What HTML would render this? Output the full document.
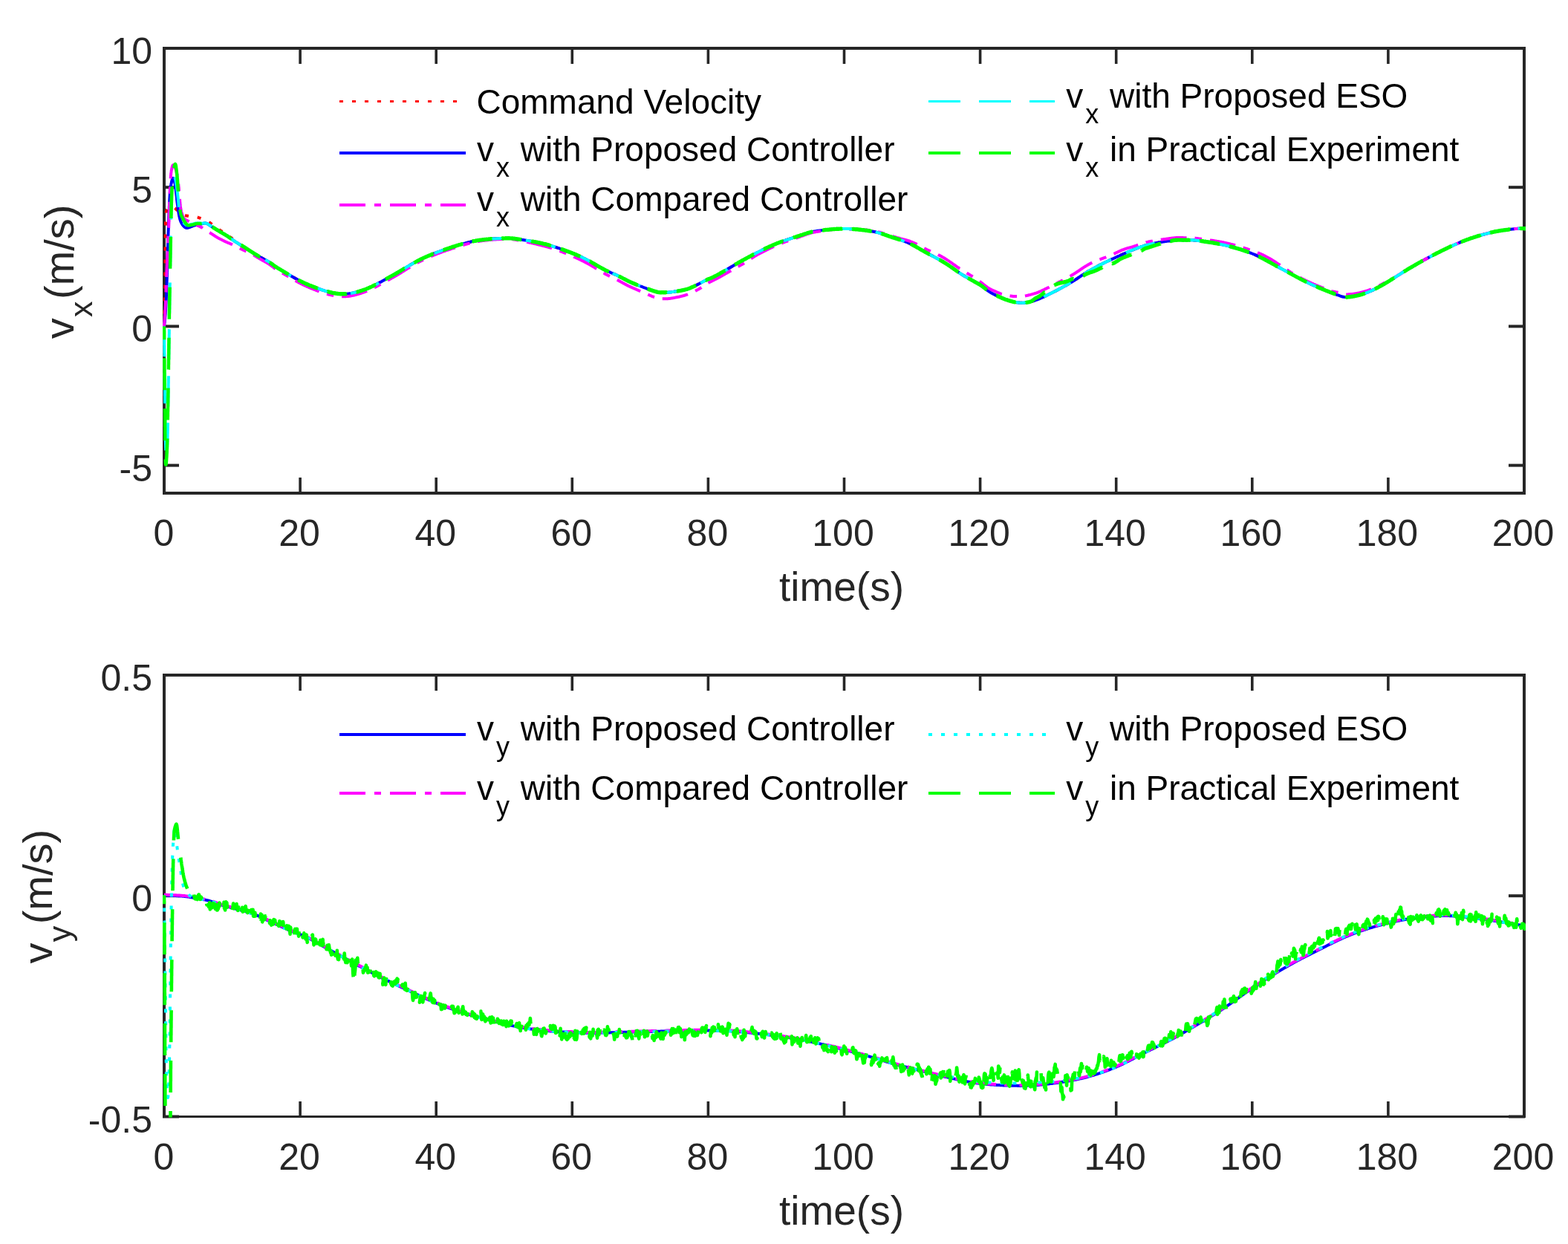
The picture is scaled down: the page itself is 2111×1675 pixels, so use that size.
<!DOCTYPE html>
<html><head><meta charset="utf-8"><title>v_x and v_y velocity comparison</title>
<style>html,body{margin:0;padding:0;background:#fff;overflow:hidden}svg{display:block}text{font-family:'Liberation Sans', Arial, Helvetica, sans-serif}</style></head><body>
<svg width="2111" height="1675" viewBox="0 0 2111 1675">
<rect x="0" y="0" width="2111" height="1675" fill="#ffffff"/>
<defs><clipPath id="ct"><rect x="219" y="63" width="1835" height="603"/></clipPath><clipPath id="cb"><rect x="219" y="907" width="1835" height="597.5"/></clipPath></defs>
<rect x="219" y="63.0" width="1835" height="4.0" fill="#262626"/>
<rect x="219" y="662.0" width="1835" height="4.0" fill="#262626"/>
<rect x="219" y="63.0" width="4" height="603.0" fill="#262626"/>
<rect x="2050" y="63.0" width="4" height="603.0" fill="#262626"/>
<rect x="219.2" y="67.0" width="3.6" height="19" fill="#262626"/>
<rect x="219.2" y="643.0" width="3.6" height="19" fill="#262626"/>
<text x="220.5" y="734.5" font-size="50" fill="#262626" text-anchor="middle">0</text>
<rect x="402.3" y="67.0" width="3.6" height="19" fill="#262626"/>
<rect x="402.3" y="643.0" width="3.6" height="19" fill="#262626"/>
<text x="403.1" y="734.5" font-size="50" fill="#262626" text-anchor="middle">20</text>
<rect x="585.4" y="67.0" width="3.6" height="19" fill="#262626"/>
<rect x="585.4" y="643.0" width="3.6" height="19" fill="#262626"/>
<text x="586.2" y="734.5" font-size="50" fill="#262626" text-anchor="middle">40</text>
<rect x="768.5" y="67.0" width="3.6" height="19" fill="#262626"/>
<rect x="768.5" y="643.0" width="3.6" height="19" fill="#262626"/>
<text x="769.3" y="734.5" font-size="50" fill="#262626" text-anchor="middle">60</text>
<rect x="951.6" y="67.0" width="3.6" height="19" fill="#262626"/>
<rect x="951.6" y="643.0" width="3.6" height="19" fill="#262626"/>
<text x="952.4" y="734.5" font-size="50" fill="#262626" text-anchor="middle">80</text>
<rect x="1134.7" y="67.0" width="3.6" height="19" fill="#262626"/>
<rect x="1134.7" y="643.0" width="3.6" height="19" fill="#262626"/>
<text x="1135.0" y="734.5" font-size="50" fill="#262626" text-anchor="middle">100</text>
<rect x="1317.8" y="67.0" width="3.6" height="19" fill="#262626"/>
<rect x="1317.8" y="643.0" width="3.6" height="19" fill="#262626"/>
<text x="1318.1" y="734.5" font-size="50" fill="#262626" text-anchor="middle">120</text>
<rect x="1500.9" y="67.0" width="3.6" height="19" fill="#262626"/>
<rect x="1500.9" y="643.0" width="3.6" height="19" fill="#262626"/>
<text x="1501.2" y="734.5" font-size="50" fill="#262626" text-anchor="middle">140</text>
<rect x="1684.0" y="67.0" width="3.6" height="19" fill="#262626"/>
<rect x="1684.0" y="643.0" width="3.6" height="19" fill="#262626"/>
<text x="1684.3" y="734.5" font-size="50" fill="#262626" text-anchor="middle">160</text>
<rect x="1867.1" y="67.0" width="3.6" height="19" fill="#262626"/>
<rect x="1867.1" y="643.0" width="3.6" height="19" fill="#262626"/>
<text x="1867.4" y="734.5" font-size="50" fill="#262626" text-anchor="middle">180</text>
<rect x="2050.2" y="67.0" width="3.6" height="19" fill="#262626"/>
<rect x="2050.2" y="643.0" width="3.6" height="19" fill="#262626"/>
<text x="2050.5" y="734.5" font-size="50" fill="#262626" text-anchor="middle">200</text>
<rect x="219" y="63.0" width="22" height="4" fill="#262626"/>
<rect x="2031" y="63.0" width="22" height="4" fill="#262626"/>
<text x="205.0" y="86.0" font-size="50" fill="#262626" text-anchor="end">10</text>
<rect x="219" y="250.2" width="22" height="4" fill="#262626"/>
<rect x="2031" y="250.2" width="22" height="4" fill="#262626"/>
<text x="205.0" y="273.2" font-size="50" fill="#262626" text-anchor="end">5</text>
<rect x="219" y="437.4" width="22" height="4" fill="#262626"/>
<rect x="2031" y="437.4" width="22" height="4" fill="#262626"/>
<text x="205.0" y="460.4" font-size="50" fill="#262626" text-anchor="end">0</text>
<rect x="219" y="624.6" width="22" height="4" fill="#262626"/>
<rect x="2031" y="624.6" width="22" height="4" fill="#262626"/>
<text x="205.0" y="647.6" font-size="50" fill="#262626" text-anchor="end">-5</text>
<rect x="219" y="907.0" width="1835" height="4.0" fill="#262626"/>
<rect x="219" y="1502.0" width="1835" height="3.0" fill="#262626"/>
<rect x="219" y="907.0" width="4" height="598.0" fill="#262626"/>
<rect x="2050" y="907.0" width="4" height="598.0" fill="#262626"/>
<rect x="219.2" y="911.0" width="3.6" height="19" fill="#262626"/>
<rect x="219.2" y="1483.0" width="3.6" height="19" fill="#262626"/>
<text x="220.5" y="1574.5" font-size="50" fill="#262626" text-anchor="middle">0</text>
<rect x="402.3" y="911.0" width="3.6" height="19" fill="#262626"/>
<rect x="402.3" y="1483.0" width="3.6" height="19" fill="#262626"/>
<text x="403.1" y="1574.5" font-size="50" fill="#262626" text-anchor="middle">20</text>
<rect x="585.4" y="911.0" width="3.6" height="19" fill="#262626"/>
<rect x="585.4" y="1483.0" width="3.6" height="19" fill="#262626"/>
<text x="586.2" y="1574.5" font-size="50" fill="#262626" text-anchor="middle">40</text>
<rect x="768.5" y="911.0" width="3.6" height="19" fill="#262626"/>
<rect x="768.5" y="1483.0" width="3.6" height="19" fill="#262626"/>
<text x="769.3" y="1574.5" font-size="50" fill="#262626" text-anchor="middle">60</text>
<rect x="951.6" y="911.0" width="3.6" height="19" fill="#262626"/>
<rect x="951.6" y="1483.0" width="3.6" height="19" fill="#262626"/>
<text x="952.4" y="1574.5" font-size="50" fill="#262626" text-anchor="middle">80</text>
<rect x="1134.7" y="911.0" width="3.6" height="19" fill="#262626"/>
<rect x="1134.7" y="1483.0" width="3.6" height="19" fill="#262626"/>
<text x="1135.0" y="1574.5" font-size="50" fill="#262626" text-anchor="middle">100</text>
<rect x="1317.8" y="911.0" width="3.6" height="19" fill="#262626"/>
<rect x="1317.8" y="1483.0" width="3.6" height="19" fill="#262626"/>
<text x="1318.1" y="1574.5" font-size="50" fill="#262626" text-anchor="middle">120</text>
<rect x="1500.9" y="911.0" width="3.6" height="19" fill="#262626"/>
<rect x="1500.9" y="1483.0" width="3.6" height="19" fill="#262626"/>
<text x="1501.2" y="1574.5" font-size="50" fill="#262626" text-anchor="middle">140</text>
<rect x="1684.0" y="911.0" width="3.6" height="19" fill="#262626"/>
<rect x="1684.0" y="1483.0" width="3.6" height="19" fill="#262626"/>
<text x="1684.3" y="1574.5" font-size="50" fill="#262626" text-anchor="middle">160</text>
<rect x="1867.1" y="911.0" width="3.6" height="19" fill="#262626"/>
<rect x="1867.1" y="1483.0" width="3.6" height="19" fill="#262626"/>
<text x="1867.4" y="1574.5" font-size="50" fill="#262626" text-anchor="middle">180</text>
<rect x="2050.2" y="911.0" width="3.6" height="19" fill="#262626"/>
<rect x="2050.2" y="1483.0" width="3.6" height="19" fill="#262626"/>
<text x="2050.5" y="1574.5" font-size="50" fill="#262626" text-anchor="middle">200</text>
<rect x="219" y="907.0" width="22" height="4" fill="#262626"/>
<rect x="2031" y="907.0" width="22" height="4" fill="#262626"/>
<text x="205.0" y="930.0" font-size="50" fill="#262626" text-anchor="end">0.5</text>
<rect x="219" y="1204.2" width="22" height="4" fill="#262626"/>
<rect x="2031" y="1204.2" width="22" height="4" fill="#262626"/>
<text x="205.0" y="1227.2" font-size="50" fill="#262626" text-anchor="end">0</text>
<rect x="219" y="1501.5" width="22" height="4" fill="#262626"/>
<rect x="2031" y="1501.5" width="22" height="4" fill="#262626"/>
<text x="205.0" y="1524.5" font-size="50" fill="#262626" text-anchor="end">-0.5</text>
<text x="1133" y="809" font-size="55" fill="#262626" text-anchor="middle">time(s)</text>
<text x="1133" y="1649" font-size="55" fill="#262626" text-anchor="middle">time(s)</text>
<text transform="translate(98.9,456.3) rotate(-90)" font-size="56" fill="#262626">v<tspan font-size="43" dx="1.2" dy="25">x</tspan><tspan dx="2.5" dy="-25">(m/s)</tspan></text>
<text transform="translate(70.1,1297.5) rotate(-90)" font-size="56" fill="#262626">v<tspan font-size="43" dx="1.2" dy="25">y</tspan><tspan dx="2.5" dy="-25">(m/s)</tspan></text>
<path clip-path="url(#ct)" d="M221.0 439.4L221.0 439.0L221.0 438.6L221.0 438.1L221.0 437.6L221.0 437.1L221.1 436.6L221.1 436.1L221.1 435.6L221.1 435.0L221.1 434.4L221.1 433.8L221.1 433.2L221.2 432.6L221.2 431.9L221.2 431.2L221.2 430.6L221.2 429.8L221.2 429.1L221.3 428.4L221.3 427.6L221.3 426.9L221.3 426.1L221.3 425.3L221.3 424.5L221.4 423.7L221.4 422.8L221.4 422.0L221.4 421.1L221.4 420.2L221.5 419.3L221.5 418.4L221.5 417.5L221.5 416.5L221.5 415.6L221.6 414.6L221.6 413.7L221.6 412.7L221.6 411.7L221.6 410.7L221.6 409.7L221.7 408.6L221.7 407.6L221.7 406.5L221.7 405.5L221.7 404.4L221.8 403.3L221.8 402.2L221.8 401.1L221.8 400.0L221.8 399.4L221.8 398.7L221.8 398.1L221.8 397.4L221.8 396.7L221.9 396.0L221.9 395.3L221.9 394.6L221.9 393.9L221.9 393.1L221.9 392.4L221.9 391.7L221.9 390.9L221.9 390.1L221.9 389.3L221.9 388.6L221.9 387.8L222.0 387.0L222.0 386.2L222.0 385.3L222.0 384.5L222.0 383.7L222.0 382.9L222.0 382.0L222.0 381.2L222.0 380.3L222.0 379.5L222.0 378.6L222.0 377.7L222.0 376.9L222.1 376.0L222.1 375.1L222.1 374.3L222.1 373.4L222.1 372.5L222.1 371.6L222.1 370.7L222.1 369.8L222.1 368.9L222.1 368.0L222.1 367.1L222.1 366.3L222.2 365.4L222.2 364.5L222.2 363.6L222.2 362.7L222.2 361.8L222.2 360.9L222.2 360.0L222.2 359.1L222.2 358.2L222.2 357.3L222.2 356.5L222.2 355.6L222.2 354.7L222.3 353.8L222.3 353.0L222.3 352.1L222.3 351.2L222.3 350.4L222.3 349.5L222.3 348.7L222.3 347.8L222.3 347.0L222.3 346.2L222.3 345.4L222.3 344.5L222.3 343.7L222.4 342.9L222.4 342.1L222.4 341.3L222.4 340.6L222.4 339.8L222.4 339.0L222.4 338.3L222.4 337.5L222.4 336.8L222.4 336.1L222.4 335.3L222.4 334.6L222.5 333.9L222.5 333.3L222.5 332.6L222.5 331.9L222.5 331.3L222.5 330.6L222.5 330.0L222.5 328.9L222.5 327.7L222.5 326.6L222.6 325.5L222.6 324.5L222.6 323.4L222.6 322.4L222.6 321.3L222.6 320.3L222.6 319.3L222.6 318.3L222.7 317.4L222.7 316.4L222.7 315.5L222.7 314.5L222.7 313.6L222.7 312.7L222.7 311.8L222.7 311.0L222.7 310.1L222.8 309.3L222.8 308.5L222.8 307.7L222.8 306.9L222.8 306.1L222.8 305.3L222.8 304.5L222.8 303.8L222.9 303.1L222.9 302.3L222.9 301.6L222.9 300.9L222.9 300.3L222.9 299.6L222.9 298.9L223.0 298.3L223.0 297.7L223.0 297.0L223.0 296.4L223.0 295.8L223.1 295.3L223.1 294.7L223.1 294.1L223.1 293.6L223.1 293.0L223.2 292.5L223.2 292.0L223.3 290.2L223.4 288.6L223.5 287.4L223.6 286.3L223.8 285.5L223.9 284.8L224.0 284.3L224.2 283.8L224.4 283.4L224.6 282.9L224.8 282.5L225.0 282.0L225.5 281.0L226.1 280.3L226.8 279.7L227.5 279.3L228.2 279.0L229.0 278.8L229.8 278.6L230.7 278.5L231.6 278.6L232.5 278.7L233.5 279.0L234.5 279.5L235.1 279.9L235.6 280.3L236.2 280.8L236.8 281.4L237.4 282.0L238.0 282.6L238.6 283.2L239.2 283.9L239.8 284.5L240.4 285.0L241.0 285.5L241.7 286.0L242.4 286.6L243.1 287.1L243.8 287.6L244.5 288.0L245.2 288.4L245.9 288.8L246.6 289.2L247.4 289.5L248.2 289.8L249.0 290.0L249.8 290.2L250.7 290.4L251.5 290.5L252.4 290.7L253.3 290.8L254.1 290.9L255.0 291.0L255.8 291.1L256.6 291.2L257.4 291.2L258.3 291.3L259.1 291.3L259.9 291.3L260.7 291.4L261.5 291.5L262.3 291.6L263.1 291.7L263.9 291.9L264.7 292.1L265.4 292.3L266.1 292.5L266.9 292.8L267.6 293.1L268.4 293.4L269.2 293.7L270.0 294.0L270.7 294.3L271.4 294.5L272.1 294.8L272.9 295.1L273.7 295.4L274.4 295.7L275.2 296.1L276.0 296.4L276.8 296.8L277.5 297.1L278.2 297.4L278.9 297.8L279.7 298.2L280.4 298.7L281.1 299.1L281.8 299.5L282.5 300.0L283.2 300.5L283.9 301.0L284.5 301.5L285.3 302.0L286.0 302.5L286.6 303.0L287.3 303.4L287.9 303.9L288.5 304.4L289.1 304.9L289.8 305.4L290.4 305.9L291.1 306.4L291.8 307.0L292.5 307.5L293.3 308.0L294.1 308.6L294.7 309.0L295.4 309.5L296.0 309.9L296.7 310.3L297.4 310.8L298.1 311.2L298.9 311.7L299.6 312.2L300.3 312.6L301.1 313.1L301.8 313.6L302.6 314.0L303.3 314.5L304.1 315.0L304.8 315.5L305.5 316.0L306.2 316.5L306.9 317.0L307.6 317.5L308.3 318.0L309.0 318.5L309.7 319.1L310.5 319.6L311.2 320.2L311.9 320.7L312.6 321.2L313.3 321.7L313.9 322.2L314.6 322.7L315.2 323.2L315.8 323.7L316.4 324.1L316.9 324.5L317.8 325.2L318.6 325.8L319.3 326.4L319.9 326.9L320.5 327.4L321.1 327.8L321.7 328.3L322.3 328.7L322.9 329.1L323.6 329.6L324.4 330.1L325.1 330.6L325.9 331.0L326.6 331.4L327.4 331.8L328.1 332.3L328.9 332.7L329.6 333.2L330.4 333.7L331.1 334.2L331.9 334.7L332.6 335.2L333.4 335.7L334.1 336.2L334.9 336.7L335.6 337.2L336.4 337.6L337.1 338.1L337.9 338.6L338.6 339.1L339.4 339.6L340.1 340.0L340.9 340.5L341.6 341.0L342.4 341.4L343.1 341.9L343.9 342.3L344.6 342.8L345.4 343.2L346.1 343.7L346.9 344.1L347.6 344.6L348.4 345.0L349.1 345.4L349.9 345.9L350.6 346.3L351.4 346.7L352.1 347.1L352.9 347.6L353.6 348.0L354.4 348.4L355.1 348.8L355.9 349.2L356.6 349.6L357.4 350.0L358.1 350.4L358.9 350.8L359.6 351.2L360.4 351.7L361.1 352.2L361.9 352.6L362.6 353.1L363.4 353.6L364.1 354.1L364.9 354.6L365.6 355.1L366.2 355.5L366.9 356.0L367.6 356.5L368.2 357.0L368.9 357.5L369.6 358.0L370.2 358.5L370.9 359.0L371.6 359.5L372.4 359.9L373.1 360.4L373.9 360.9L374.6 361.3L375.4 361.8L376.1 362.2L376.9 362.6L377.6 363.1L378.4 363.5L379.1 364.0L379.9 364.4L380.6 364.9L381.4 365.3L382.1 365.8L382.9 366.2L383.6 366.7L384.4 367.1L385.1 367.6L385.9 368.0L386.6 368.5L387.4 368.9L388.1 369.4L388.9 369.8L389.6 370.2L390.4 370.7L391.1 371.1L391.9 371.6L392.6 372.0L393.4 372.4L394.1 372.8L394.9 373.3L395.6 373.7L396.4 374.1L397.1 374.5L397.9 375.0L398.6 375.4L399.4 375.8L400.1 376.2L400.9 376.6L401.6 377.0L402.4 377.4L403.1 377.8L403.9 378.2L404.6 378.5L405.4 378.9L406.1 379.3L406.9 379.7L407.6 380.0L408.4 380.4L409.1 380.8L409.9 381.1L410.6 381.5L411.4 381.8L412.1 382.1L412.9 382.5L413.6 382.8L414.4 383.1L415.1 383.4L415.9 383.7L416.6 384.0L417.4 384.3L418.1 384.6L418.9 384.9L419.6 385.2L420.4 385.5L421.1 385.8L421.9 386.1L422.6 386.4L423.4 386.7L424.1 387.0L424.9 387.3L425.8 387.6L426.6 387.9L427.5 388.2L428.3 388.6L429.2 388.9L430.0 389.2L430.9 389.5L431.8 389.8L432.6 390.1L433.5 390.3L434.3 390.6L435.2 390.9L436.0 391.2L436.9 391.4L437.8 391.7L438.6 392.0L439.5 392.2L440.3 392.4L441.2 392.7L442.0 392.9L442.9 393.1L443.8 393.4L444.6 393.6L445.5 393.8L446.3 394.0L447.2 394.2L448.0 394.3L448.9 394.5L449.8 394.7L450.6 394.8L451.5 395.0L452.3 395.1L453.2 395.2L454.0 395.3L454.9 395.4L455.8 395.5L456.6 395.6L457.5 395.7L458.3 395.7L459.2 395.8L460.0 395.8L460.9 395.8L461.8 395.8L462.6 395.8L463.5 395.8L464.3 395.8L465.2 395.8L466.0 395.7L466.9 395.7L467.8 395.6L468.6 395.5L469.5 395.4L470.3 395.3L471.2 395.2L472.0 395.0L472.9 394.9L473.8 394.7L474.6 394.6L475.5 394.4L476.3 394.2L477.2 394.0L478.0 393.8L478.9 393.6L479.8 393.4L480.6 393.1L481.5 392.9L482.3 392.7L483.2 392.4L484.0 392.1L484.9 391.9L485.8 391.6L486.6 391.4L487.5 391.1L488.3 390.8L489.2 390.5L490.0 390.2L490.9 389.9L491.6 389.6L492.4 389.4L493.1 389.1L493.9 388.8L494.6 388.5L495.4 388.2L496.1 387.8L496.9 387.5L497.6 387.2L498.4 386.9L499.1 386.5L499.9 386.2L500.6 385.8L501.4 385.4L502.1 385.1L502.9 384.7L503.6 384.3L504.4 384.0L505.1 383.6L505.9 383.2L506.6 382.8L507.4 382.4L508.1 382.0L508.9 381.6L509.6 381.2L510.4 380.8L511.1 380.4L511.9 380.0L512.6 379.6L513.4 379.2L514.1 378.8L514.9 378.4L515.6 378.0L516.4 377.5L517.1 377.1L517.9 376.7L518.6 376.3L519.4 375.9L520.1 375.5L520.9 375.1L521.6 374.6L522.4 374.2L523.1 373.8L523.9 373.4L524.6 373.0L525.4 372.6L526.1 372.2L526.9 371.8L527.6 371.4L528.4 370.9L529.1 370.5L529.9 370.1L530.6 369.7L531.4 369.3L532.1 368.9L532.9 368.4L533.6 368.0L534.4 367.6L535.1 367.1L535.9 366.7L536.6 366.2L537.4 365.8L538.1 365.3L538.9 364.9L539.6 364.4L540.4 364.0L541.1 363.5L541.9 363.1L542.6 362.6L543.4 362.2L544.1 361.7L544.9 361.2L545.6 360.8L546.4 360.3L547.1 359.9L547.9 359.4L548.6 359.0L549.4 358.5L550.1 358.1L550.9 357.6L551.6 357.2L552.4 356.7L553.1 356.3L553.9 355.9L554.6 355.4L555.4 355.0L556.1 354.6L556.9 354.1L557.6 353.7L558.4 353.3L559.1 352.9L559.9 352.5L560.6 352.1L561.4 351.7L562.1 351.3L562.9 350.9L563.6 350.5L564.4 350.1L565.1 349.8L565.9 349.4L566.6 349.0L567.4 348.7L568.1 348.3L568.9 348.0L569.6 347.6L570.4 347.3L571.1 346.9L571.9 346.6L572.6 346.3L573.4 345.9L574.1 345.6L574.9 345.3L575.6 344.9L576.4 344.6L577.1 344.3L577.9 344.0L578.6 343.7L579.4 343.4L580.1 343.0L580.9 342.7L581.6 342.4L582.4 342.1L583.1 341.8L583.9 341.5L584.6 341.2L585.4 340.9L586.1 340.6L586.9 340.4L587.6 340.1L588.4 339.8L589.1 339.5L589.9 339.2L590.6 338.9L591.4 338.7L592.1 338.4L592.9 338.1L593.8 337.8L594.6 337.5L595.5 337.2L596.3 336.9L597.2 336.6L598.0 336.3L598.9 336.0L599.8 335.7L600.6 335.4L601.5 335.1L602.3 334.8L603.2 334.5L604.0 334.2L604.9 333.9L605.8 333.6L606.6 333.4L607.5 333.1L608.3 332.8L609.2 332.5L610.0 332.2L610.9 332.0L611.8 331.7L612.6 331.4L613.5 331.1L614.3 330.9L615.2 330.6L616.0 330.3L616.9 330.1L617.8 329.8L618.6 329.6L619.5 329.3L620.3 329.1L621.2 328.8L622.0 328.6L622.9 328.3L623.8 328.1L624.6 327.9L625.5 327.6L626.3 327.4L627.2 327.2L628.0 326.9L628.9 326.7L629.8 326.5L630.6 326.3L631.5 326.1L632.3 325.9L633.2 325.7L634.0 325.5L634.9 325.3L635.8 325.1L636.6 325.0L637.5 324.8L638.3 324.6L639.2 324.4L640.0 324.3L640.9 324.1L641.8 324.0L642.6 323.8L643.5 323.7L644.3 323.6L645.2 323.4L646.0 323.3L646.9 323.2L647.8 323.1L648.6 323.0L649.5 322.8L650.3 322.7L651.2 322.7L652.0 322.6L652.9 322.5L653.8 322.4L654.6 322.3L655.5 322.2L656.3 322.1L657.2 322.1L658.0 322.0L658.9 321.9L659.8 321.9L660.6 321.8L661.5 321.7L662.3 321.7L663.2 321.6L664.0 321.6L664.9 321.5L665.8 321.5L666.6 321.4L667.5 321.4L668.3 321.3L669.2 321.3L670.0 321.2L670.9 321.2L671.8 321.2L672.6 321.1L673.5 321.1L674.3 321.1L675.2 321.0L676.0 321.0L676.9 321.0L677.8 320.9L678.6 320.9L679.5 320.9L680.3 320.9L681.2 320.8L682.0 320.8L682.9 320.8L683.8 320.8L684.6 320.8L685.5 320.8L686.3 320.8L687.2 320.9L688.0 320.9L688.9 320.9L689.8 321.0L690.6 321.1L691.5 321.2L692.3 321.3L693.2 321.4L694.0 321.5L694.9 321.6L695.8 321.8L696.6 321.9L697.5 322.0L698.3 322.1L699.2 322.3L700.0 322.4L700.9 322.5L701.8 322.7L702.6 322.8L703.5 322.9L704.3 323.1L705.2 323.2L706.0 323.3L706.9 323.5L707.8 323.6L708.6 323.7L709.5 323.9L710.3 324.0L711.2 324.1L712.0 324.3L712.9 324.4L713.8 324.6L714.6 324.7L715.5 324.9L716.3 325.0L717.2 325.2L718.0 325.3L718.9 325.5L719.8 325.7L720.6 325.8L721.5 326.0L722.3 326.1L723.2 326.3L724.0 326.5L724.9 326.7L725.8 326.9L726.6 327.0L727.5 327.2L728.3 327.4L729.2 327.6L730.0 327.8L730.9 328.0L731.8 328.2L732.6 328.4L733.5 328.6L734.3 328.8L735.2 329.1L736.0 329.3L736.9 329.5L737.8 329.8L738.6 330.0L739.5 330.2L740.3 330.5L741.2 330.7L742.0 331.0L742.9 331.3L743.8 331.5L744.6 331.8L745.5 332.0L746.3 332.3L747.2 332.6L748.0 332.9L748.9 333.1L749.8 333.4L750.6 333.7L751.5 334.0L752.3 334.3L753.2 334.5L754.0 334.8L754.9 335.1L755.8 335.4L756.6 335.7L757.5 336.0L758.3 336.3L759.2 336.6L760.0 336.9L760.9 337.2L761.6 337.5L762.4 337.8L763.1 338.1L763.9 338.3L764.6 338.6L765.4 338.9L766.1 339.2L766.9 339.5L767.6 339.7L768.4 340.0L769.1 340.3L769.9 340.6L770.6 340.9L771.4 341.2L772.1 341.5L772.9 341.8L773.6 342.1L774.4 342.4L775.1 342.7L775.9 343.0L776.6 343.4L777.4 343.7L778.1 344.0L778.9 344.3L779.6 344.7L780.4 345.0L781.1 345.3L781.9 345.7L782.6 346.0L783.4 346.4L784.1 346.7L784.9 347.1L785.6 347.4L786.4 347.8L787.1 348.2L787.9 348.6L788.6 349.0L789.4 349.4L790.1 349.8L790.9 350.2L791.6 350.6L792.4 351.0L793.1 351.4L793.9 351.8L794.6 352.2L795.4 352.6L796.1 353.1L796.9 353.5L797.6 353.9L798.4 354.3L799.1 354.8L799.9 355.2L800.6 355.7L801.4 356.1L802.1 356.5L802.9 357.0L803.6 357.4L804.4 357.8L805.1 358.3L805.9 358.7L806.6 359.1L807.4 359.6L808.1 360.0L808.9 360.4L809.6 360.8L810.4 361.2L811.1 361.6L811.9 362.0L812.6 362.4L813.4 362.8L814.1 363.2L814.9 363.6L815.6 364.0L816.4 364.3L817.1 364.7L817.9 365.1L818.6 365.4L819.4 365.8L820.1 366.1L820.9 366.4L821.6 366.8L822.4 367.1L823.1 367.4L823.9 367.7L824.6 368.0L825.4 368.3L826.1 368.6L826.9 369.0L827.6 369.3L828.4 369.6L829.1 370.0L829.9 370.3L830.6 370.7L831.4 371.0L832.1 371.4L832.9 371.7L833.6 372.1L834.4 372.5L835.1 372.9L835.9 373.3L836.6 373.7L837.4 374.1L838.1 374.5L838.9 374.8L839.6 375.2L840.4 375.6L841.1 376.0L841.9 376.4L842.6 376.8L843.4 377.2L844.1 377.6L844.9 377.9L845.6 378.3L846.4 378.7L847.1 379.0L847.9 379.4L848.6 379.7L849.4 380.0L850.1 380.4L850.9 380.7L851.6 381.0L852.4 381.3L853.1 381.7L853.9 382.0L854.6 382.3L855.4 382.6L856.1 382.9L856.9 383.2L857.6 383.5L858.4 383.8L859.1 384.1L859.9 384.4L860.6 384.7L861.4 385.0L862.1 385.3L862.9 385.5L863.6 385.8L864.4 386.1L865.1 386.4L865.9 386.7L866.6 387.0L867.4 387.3L868.1 387.5L868.9 387.8L869.8 388.1L870.6 388.5L871.5 388.8L872.3 389.1L873.2 389.4L874.0 389.7L874.9 390.0L875.8 390.3L876.6 390.6L877.5 390.9L878.3 391.2L879.2 391.5L880.0 391.8L880.9 392.1L881.8 392.3L882.6 392.6L883.5 392.8L884.3 393.1L885.2 393.3L886.0 393.5L886.9 393.6L887.8 393.7L888.6 393.8L889.5 393.8L890.3 393.7L891.2 393.7L892.0 393.7L892.9 393.7L893.8 393.7L894.6 393.7L895.5 393.8L896.3 393.8L897.2 393.8L898.0 393.8L898.9 393.8L899.8 393.7L900.6 393.6L901.5 393.5L902.3 393.4L903.2 393.3L904.0 393.2L904.9 393.1L905.8 393.0L906.6 392.9L907.5 392.8L908.3 392.6L909.2 392.5L910.0 392.4L910.9 392.2L911.8 392.1L912.6 391.9L913.5 391.8L914.3 391.7L915.2 391.5L916.0 391.4L916.9 391.2L917.8 391.0L918.6 390.9L919.5 390.7L920.3 390.5L921.2 390.3L922.0 390.1L922.9 389.9L923.8 389.6L924.6 389.4L925.5 389.1L926.3 388.8L927.2 388.6L928.0 388.3L928.9 387.9L929.6 387.6L930.4 387.3L931.1 387.0L931.9 386.7L932.6 386.3L933.4 386.0L934.1 385.6L934.9 385.3L935.6 384.9L936.4 384.5L937.1 384.2L937.9 383.8L938.6 383.4L939.4 383.0L940.1 382.6L940.9 382.2L941.6 381.8L942.4 381.4L943.1 381.0L943.9 380.6L944.6 380.2L945.4 379.8L946.1 379.4L946.9 379.0L947.6 378.6L948.4 378.3L949.1 377.9L949.9 377.5L950.6 377.2L951.4 376.8L952.1 376.4L952.9 376.1L953.6 375.8L954.4 375.5L955.1 375.2L955.9 374.9L956.6 374.6L957.4 374.3L958.1 374.0L958.9 373.7L959.6 373.4L960.4 373.0L961.1 372.6L961.9 372.3L962.6 371.9L963.4 371.5L964.1 371.1L964.9 370.7L965.6 370.3L966.4 369.9L967.1 369.5L967.9 369.1L968.6 368.6L969.4 368.2L970.1 367.8L970.9 367.4L971.6 366.9L972.4 366.5L973.1 366.0L973.9 365.6L974.6 365.2L975.4 364.7L976.1 364.3L976.9 363.8L977.6 363.4L978.4 363.0L979.1 362.5L979.9 362.1L980.6 361.6L981.4 361.2L982.1 360.8L982.9 360.3L983.6 359.9L984.4 359.4L985.1 359.0L985.9 358.5L986.6 358.1L987.4 357.7L988.1 357.2L988.9 356.8L989.6 356.4L990.4 355.9L991.1 355.5L991.9 355.0L992.6 354.6L993.4 354.2L994.1 353.7L994.9 353.3L995.6 352.9L996.4 352.5L997.1 352.0L997.9 351.6L998.6 351.2L999.4 350.8L1000.1 350.4L1000.9 350.0L1001.6 349.5L1002.4 349.1L1003.1 348.7L1003.9 348.3L1004.6 347.9L1005.4 347.5L1006.1 347.1L1006.9 346.7L1007.6 346.3L1008.4 345.9L1009.1 345.5L1009.9 345.1L1010.6 344.7L1011.4 344.3L1012.1 343.9L1012.9 343.5L1013.6 343.1L1014.4 342.7L1015.1 342.3L1015.9 341.9L1016.6 341.5L1017.4 341.1L1018.1 340.7L1018.9 340.4L1019.6 340.0L1020.4 339.6L1021.1 339.2L1021.9 338.8L1022.7 338.4L1023.4 338.1L1024.2 337.7L1024.9 337.3L1025.7 336.9L1026.4 336.6L1027.2 336.2L1027.9 335.8L1028.7 335.5L1029.4 335.1L1030.2 334.7L1030.9 334.4L1031.7 334.0L1032.4 333.7L1033.2 333.3L1033.9 333.0L1034.7 332.6L1035.4 332.3L1036.2 331.9L1036.9 331.6L1037.7 331.3L1038.4 330.9L1039.2 330.6L1039.9 330.3L1040.7 330.0L1041.4 329.6L1042.2 329.3L1042.9 329.0L1043.7 328.7L1044.4 328.4L1045.2 328.1L1045.9 327.8L1046.7 327.5L1047.4 327.2L1048.2 326.9L1048.9 326.6L1049.8 326.3L1050.6 326.0L1051.5 325.7L1052.3 325.4L1053.2 325.1L1054.0 324.7L1054.9 324.4L1055.8 324.1L1056.6 323.8L1057.5 323.5L1058.3 323.2L1059.2 322.9L1060.0 322.7L1060.9 322.4L1061.8 322.1L1062.6 321.8L1063.5 321.5L1064.3 321.2L1065.2 320.9L1066.0 320.7L1066.9 320.4L1067.8 320.1L1068.6 319.8L1069.5 319.5L1070.3 319.3L1071.2 319.0L1072.0 318.7L1072.9 318.4L1073.8 318.2L1074.6 317.9L1075.5 317.6L1076.3 317.4L1077.2 317.1L1078.0 316.8L1078.9 316.5L1079.8 316.3L1080.6 316.0L1081.5 315.7L1082.3 315.4L1083.2 315.1L1084.0 314.8L1084.9 314.6L1085.8 314.3L1086.6 314.0L1087.5 313.7L1088.3 313.5L1089.2 313.2L1090.0 313.0L1090.9 312.7L1091.8 312.5L1092.6 312.3L1093.5 312.1L1094.3 312.0L1095.2 311.8L1096.0 311.6L1096.9 311.5L1097.8 311.3L1098.6 311.2L1099.5 311.1L1100.3 310.9L1101.2 310.8L1102.0 310.7L1102.9 310.6L1103.8 310.5L1104.6 310.4L1105.5 310.3L1106.3 310.2L1107.2 310.0L1108.0 309.9L1108.9 309.8L1109.8 309.7L1110.6 309.6L1111.5 309.6L1112.3 309.5L1113.2 309.4L1114.0 309.3L1114.9 309.2L1115.8 309.1L1116.6 309.0L1117.5 309.0L1118.3 308.9L1119.2 308.8L1120.0 308.7L1120.9 308.7L1121.8 308.6L1122.6 308.5L1123.5 308.5L1124.3 308.4L1125.2 308.4L1126.0 308.3L1126.9 308.3L1127.8 308.2L1128.6 308.2L1129.5 308.1L1130.3 308.1L1131.2 308.1L1132.0 308.1L1132.9 308.0L1133.8 308.0L1134.6 308.0L1135.5 308.0L1136.3 308.0L1137.2 308.0L1138.0 308.0L1138.9 308.0L1139.8 308.0L1140.6 308.1L1141.5 308.1L1142.3 308.1L1143.2 308.1L1144.0 308.2L1144.9 308.2L1145.8 308.3L1146.6 308.3L1147.5 308.4L1148.3 308.4L1149.2 308.5L1150.0 308.6L1150.9 308.6L1151.8 308.7L1152.6 308.8L1153.5 308.8L1154.3 308.9L1155.2 309.0L1156.0 309.1L1156.9 309.2L1157.8 309.3L1158.6 309.4L1159.5 309.4L1160.3 309.5L1161.2 309.6L1162.0 309.8L1162.9 309.9L1163.8 310.0L1164.6 310.1L1165.5 310.2L1166.3 310.3L1167.2 310.4L1168.0 310.6L1168.9 310.7L1169.8 310.8L1170.6 310.9L1171.5 311.1L1172.3 311.2L1173.2 311.3L1174.0 311.5L1174.9 311.6L1175.8 311.8L1176.6 312.0L1177.5 312.1L1178.3 312.3L1179.2 312.5L1180.0 312.7L1180.9 312.9L1181.8 313.1L1182.6 313.3L1183.5 313.5L1184.3 313.8L1185.2 314.0L1186.0 314.3L1186.9 314.5L1187.8 314.8L1188.6 315.1L1189.5 315.4L1190.3 315.7L1191.2 316.0L1192.0 316.3L1192.9 316.6L1193.8 316.9L1194.6 317.2L1195.5 317.5L1196.3 317.8L1197.2 318.1L1198.0 318.4L1198.9 318.7L1199.8 319.0L1200.6 319.3L1201.5 319.6L1202.3 319.8L1203.2 320.1L1204.0 320.4L1204.9 320.7L1205.8 320.9L1206.6 321.2L1207.5 321.5L1208.3 321.8L1209.2 322.0L1210.0 322.3L1210.9 322.6L1211.8 322.9L1212.6 323.2L1213.5 323.4L1214.3 323.7L1215.2 324.0L1216.0 324.3L1216.9 324.7L1217.7 324.9L1218.4 325.2L1219.2 325.5L1219.9 325.8L1220.7 326.1L1221.4 326.4L1222.2 326.7L1222.9 327.1L1223.7 327.4L1224.4 327.7L1225.2 328.1L1225.9 328.4L1226.7 328.8L1227.4 329.2L1228.2 329.6L1228.9 329.9L1229.7 330.3L1230.4 330.7L1231.2 331.1L1231.9 331.5L1232.7 332.0L1233.4 332.4L1234.2 332.8L1234.9 333.2L1235.7 333.6L1236.4 334.1L1237.2 334.5L1237.9 334.9L1238.7 335.4L1239.4 335.8L1240.2 336.2L1240.9 336.7L1241.7 337.1L1242.4 337.5L1243.2 338.0L1243.9 338.4L1244.7 338.8L1245.4 339.3L1246.2 339.7L1246.9 340.1L1247.7 340.5L1248.4 340.9L1249.2 341.3L1249.9 341.7L1250.7 342.1L1251.4 342.5L1252.2 342.9L1252.9 343.3L1253.7 343.7L1254.4 344.1L1255.2 344.5L1255.9 344.9L1256.7 345.3L1257.4 345.7L1258.2 346.1L1258.9 346.5L1259.7 346.9L1260.4 347.3L1261.2 347.7L1261.9 348.1L1262.7 348.5L1263.4 349.0L1264.2 349.4L1264.9 349.8L1265.7 350.2L1266.4 350.6L1267.2 351.1L1267.9 351.5L1268.7 351.9L1269.4 352.4L1270.2 352.8L1270.9 353.3L1271.7 353.7L1272.4 354.2L1273.2 354.7L1273.9 355.2L1274.7 355.6L1275.4 356.1L1276.2 356.6L1276.9 357.1L1277.6 357.6L1278.2 358.0L1278.9 358.5L1279.6 359.0L1280.2 359.4L1280.9 359.9L1281.6 360.4L1282.2 360.8L1282.9 361.3L1283.6 361.8L1284.2 362.3L1284.9 362.7L1285.6 363.2L1286.2 363.7L1286.9 364.1L1287.6 364.6L1288.2 365.1L1288.9 365.5L1289.6 366.0L1290.2 366.4L1290.9 366.9L1291.6 367.3L1292.2 367.8L1292.9 368.2L1293.6 368.7L1294.2 369.1L1294.9 369.5L1295.7 370.0L1296.4 370.5L1297.2 370.9L1297.9 371.4L1298.7 371.8L1299.4 372.2L1300.2 372.7L1300.9 373.1L1301.7 373.5L1302.4 374.0L1303.2 374.4L1303.9 374.8L1304.7 375.2L1305.4 375.6L1306.2 376.0L1306.9 376.4L1307.7 376.8L1308.4 377.3L1309.2 377.7L1309.9 378.1L1310.7 378.5L1311.4 378.9L1312.2 379.3L1312.9 379.7L1313.7 380.1L1314.4 380.6L1315.2 381.0L1315.9 381.4L1316.7 381.8L1317.4 382.3L1318.2 382.7L1318.9 383.2L1319.6 383.6L1320.2 384.1L1320.9 384.5L1321.6 385.0L1322.2 385.5L1322.9 386.0L1323.6 386.5L1324.2 387.0L1324.9 387.4L1325.6 388.0L1326.2 388.5L1326.9 389.0L1327.6 389.6L1328.2 390.1L1328.9 390.6L1329.6 391.2L1330.2 391.7L1330.9 392.1L1331.7 392.6L1332.4 393.1L1333.2 393.5L1333.9 394.0L1334.7 394.4L1335.4 394.8L1336.2 395.2L1336.9 395.6L1337.7 396.0L1338.4 396.4L1339.2 396.8L1339.9 397.1L1340.7 397.5L1341.4 397.9L1342.2 398.2L1342.9 398.6L1343.7 398.9L1344.4 399.3L1345.2 399.6L1345.9 400.0L1346.7 400.3L1347.4 400.6L1348.2 400.9L1348.9 401.3L1349.7 401.6L1350.4 401.9L1351.2 402.2L1351.9 402.5L1352.7 402.8L1353.4 403.1L1354.2 403.3L1354.9 403.6L1355.8 403.9L1356.6 404.2L1357.5 404.5L1358.3 404.8L1359.2 405.0L1360.0 405.3L1360.9 405.5L1361.8 405.7L1362.6 406.0L1363.5 406.2L1364.3 406.4L1365.2 406.6L1366.0 406.7L1366.9 406.9L1367.8 407.1L1368.6 407.2L1369.5 407.3L1370.3 407.4L1371.2 407.5L1372.0 407.6L1372.9 407.7L1373.8 407.7L1374.6 407.8L1375.5 407.8L1376.3 407.8L1377.2 407.8L1378.0 407.7L1378.9 407.7L1379.8 407.6L1380.6 407.5L1381.5 407.4L1382.3 407.3L1383.2 407.1L1384.0 407.0L1384.9 406.8L1385.8 406.6L1386.6 406.4L1387.5 406.2L1388.3 406.0L1389.2 405.7L1390.0 405.5L1390.9 405.2L1391.8 405.0L1392.6 404.7L1393.5 404.5L1394.3 404.2L1395.2 403.9L1396.0 403.6L1396.9 403.3L1397.7 403.0L1398.4 402.7L1399.2 402.4L1399.9 402.1L1400.7 401.7L1401.4 401.4L1402.2 401.0L1402.9 400.7L1403.7 400.4L1404.4 400.0L1405.2 399.6L1405.9 399.3L1406.7 398.9L1407.4 398.6L1408.2 398.2L1408.9 397.8L1409.7 397.5L1410.4 397.1L1411.2 396.7L1411.9 396.4L1412.7 396.0L1413.4 395.7L1414.2 395.3L1414.9 394.9L1415.7 394.5L1416.4 394.2L1417.2 393.8L1417.9 393.4L1418.7 393.0L1419.4 392.7L1420.2 392.3L1420.9 391.9L1421.7 391.5L1422.4 391.1L1423.2 390.7L1423.9 390.3L1424.7 389.9L1425.4 389.5L1426.2 389.1L1426.9 388.7L1427.7 388.3L1428.4 387.9L1429.2 387.5L1429.9 387.1L1430.7 386.7L1431.4 386.3L1432.2 385.9L1432.9 385.5L1433.7 385.0L1434.4 384.6L1435.2 384.2L1435.9 383.8L1436.7 383.3L1437.4 382.9L1438.2 382.5L1438.9 382.0L1439.7 381.6L1440.4 381.1L1441.2 380.7L1441.9 380.3L1442.7 379.8L1443.4 379.4L1444.2 378.9L1444.9 378.4L1445.7 378.0L1446.4 377.5L1447.2 377.0L1447.9 376.5L1448.7 376.1L1449.4 375.6L1450.2 375.1L1450.9 374.6L1451.6 374.1L1452.2 373.7L1452.9 373.2L1453.6 372.7L1454.2 372.3L1454.9 371.8L1455.6 371.4L1456.2 370.9L1456.9 370.5L1457.7 370.0L1458.4 369.5L1459.2 369.0L1459.9 368.5L1460.7 368.0L1461.4 367.6L1462.2 367.1L1462.9 366.7L1463.7 366.2L1464.4 365.8L1465.2 365.3L1465.9 364.9L1466.7 364.5L1467.4 364.1L1468.2 363.6L1468.9 363.2L1469.7 362.8L1470.4 362.4L1471.2 362.0L1471.9 361.5L1472.7 361.1L1473.4 360.7L1474.2 360.3L1474.9 359.9L1475.7 359.5L1476.4 359.1L1477.2 358.7L1477.9 358.3L1478.7 357.9L1479.4 357.5L1480.2 357.1L1480.9 356.7L1481.7 356.4L1482.4 356.0L1483.2 355.6L1483.9 355.2L1484.7 354.8L1485.4 354.5L1486.2 354.1L1486.9 353.7L1487.7 353.4L1488.4 353.0L1489.2 352.6L1489.9 352.3L1490.7 351.9L1491.4 351.6L1492.2 351.2L1492.9 350.9L1493.7 350.5L1494.4 350.2L1495.2 349.8L1495.9 349.5L1496.7 349.1L1497.4 348.8L1498.2 348.4L1498.9 348.1L1499.7 347.7L1500.4 347.4L1501.2 347.0L1501.9 346.7L1502.7 346.3L1503.4 346.0L1504.2 345.6L1504.9 345.3L1505.7 345.0L1506.4 344.6L1507.2 344.3L1507.9 343.9L1508.7 343.6L1509.4 343.2L1510.2 342.9L1510.9 342.6L1511.7 342.2L1512.4 341.9L1513.2 341.6L1513.9 341.2L1514.7 340.9L1515.4 340.6L1516.2 340.2L1516.9 339.9L1517.7 339.6L1518.4 339.3L1519.2 338.9L1519.9 338.6L1520.7 338.3L1521.4 338.0L1522.2 337.7L1522.9 337.3L1523.7 337.0L1524.4 336.7L1525.2 336.4L1525.9 336.1L1526.7 335.8L1527.4 335.5L1528.2 335.2L1528.9 334.9L1529.8 334.6L1530.6 334.3L1531.5 333.9L1532.3 333.6L1533.2 333.3L1534.0 333.0L1534.9 332.7L1535.8 332.4L1536.6 332.1L1537.5 331.8L1538.3 331.6L1539.2 331.3L1540.0 331.0L1540.9 330.8L1541.8 330.5L1542.6 330.3L1543.5 330.1L1544.3 329.8L1545.2 329.6L1546.0 329.4L1546.9 329.2L1547.8 329.0L1548.6 328.8L1549.5 328.6L1550.3 328.4L1551.2 328.2L1552.0 328.0L1552.9 327.8L1553.8 327.7L1554.6 327.5L1555.5 327.3L1556.3 327.2L1557.2 327.0L1558.0 326.9L1558.9 326.7L1559.8 326.5L1560.6 326.4L1561.5 326.3L1562.3 326.1L1563.2 326.0L1564.0 325.8L1564.9 325.7L1565.8 325.6L1566.6 325.4L1567.5 325.3L1568.3 325.2L1569.2 325.1L1570.0 324.9L1570.9 324.8L1571.8 324.7L1572.6 324.6L1573.5 324.4L1574.3 324.3L1575.2 324.2L1576.0 324.1L1576.9 323.9L1577.8 323.8L1578.6 323.7L1579.5 323.6L1580.3 323.5L1581.2 323.4L1582.0 323.3L1582.9 323.3L1583.8 323.2L1584.6 323.2L1585.5 323.2L1586.3 323.1L1587.2 323.1L1588.0 323.1L1588.9 323.1L1589.8 323.1L1590.6 323.1L1591.5 323.1L1592.3 323.2L1593.2 323.2L1594.0 323.2L1594.9 323.2L1595.8 323.2L1596.6 323.2L1597.5 323.2L1598.3 323.2L1599.2 323.2L1600.0 323.1L1600.9 323.2L1601.8 323.2L1602.6 323.2L1603.5 323.2L1604.3 323.2L1605.2 323.3L1606.0 323.3L1606.9 323.4L1607.8 323.4L1608.6 323.5L1609.5 323.6L1610.3 323.7L1611.2 323.8L1612.0 323.9L1612.9 324.0L1613.8 324.1L1614.6 324.2L1615.5 324.3L1616.3 324.4L1617.2 324.6L1618.0 324.7L1618.9 324.8L1619.8 324.9L1620.6 325.0L1621.5 325.2L1622.3 325.3L1623.2 325.4L1624.0 325.5L1624.9 325.7L1625.8 325.8L1626.6 325.9L1627.5 326.1L1628.3 326.2L1629.2 326.3L1630.0 326.5L1630.9 326.6L1631.8 326.7L1632.6 326.9L1633.5 327.0L1634.3 327.2L1635.2 327.3L1636.0 327.5L1636.9 327.6L1637.8 327.8L1638.6 327.9L1639.5 328.1L1640.3 328.3L1641.2 328.4L1642.0 328.6L1642.9 328.8L1643.8 328.9L1644.6 329.1L1645.5 329.3L1646.3 329.5L1647.2 329.7L1648.0 329.9L1648.9 330.1L1649.8 330.3L1650.6 330.5L1651.5 330.7L1652.3 330.9L1653.2 331.1L1654.0 331.3L1654.9 331.5L1655.8 331.8L1656.6 332.0L1657.5 332.2L1658.3 332.4L1659.2 332.7L1660.0 332.9L1660.9 333.1L1661.8 333.4L1662.6 333.6L1663.5 333.9L1664.3 334.1L1665.2 334.4L1666.0 334.6L1666.9 334.9L1667.8 335.1L1668.6 335.4L1669.5 335.7L1670.3 335.9L1671.2 336.2L1672.0 336.5L1672.9 336.8L1673.8 337.1L1674.6 337.3L1675.5 337.6L1676.3 337.9L1677.2 338.2L1678.0 338.5L1678.9 338.8L1679.7 339.1L1680.4 339.4L1681.2 339.7L1681.9 339.9L1682.7 340.2L1683.4 340.5L1684.2 340.8L1684.9 341.1L1685.7 341.4L1686.4 341.7L1687.2 342.0L1687.9 342.3L1688.7 342.6L1689.4 343.0L1690.2 343.3L1690.9 343.6L1691.7 343.9L1692.4 344.3L1693.2 344.6L1693.9 345.0L1694.7 345.3L1695.4 345.7L1696.2 346.1L1696.9 346.4L1697.7 346.8L1698.4 347.2L1699.2 347.6L1699.9 347.9L1700.7 348.3L1701.4 348.7L1702.2 349.1L1702.9 349.5L1703.7 349.9L1704.4 350.3L1705.2 350.7L1705.9 351.1L1706.7 351.5L1707.4 352.0L1708.2 352.4L1708.9 352.8L1709.7 353.2L1710.4 353.6L1711.2 354.0L1711.9 354.5L1712.7 354.9L1713.4 355.3L1714.2 355.7L1714.9 356.1L1715.7 356.6L1716.4 357.0L1717.2 357.4L1717.9 357.8L1718.7 358.2L1719.4 358.7L1720.2 359.1L1720.9 359.5L1721.7 359.9L1722.4 360.3L1723.2 360.7L1723.9 361.1L1724.7 361.5L1725.4 361.9L1726.2 362.3L1726.9 362.7L1727.7 363.1L1728.4 363.5L1729.2 363.9L1729.9 364.3L1730.7 364.7L1731.4 365.1L1732.2 365.5L1732.9 365.9L1733.7 366.3L1734.4 366.7L1735.2 367.1L1735.9 367.5L1736.7 368.0L1737.4 368.4L1738.2 368.8L1738.9 369.2L1739.7 369.6L1740.4 370.0L1741.2 370.4L1741.9 370.8L1742.7 371.2L1743.4 371.6L1744.2 372.0L1744.9 372.4L1745.7 372.8L1746.4 373.2L1747.2 373.6L1747.9 374.0L1748.7 374.4L1749.4 374.8L1750.2 375.2L1750.9 375.6L1751.7 376.0L1752.4 376.4L1753.2 376.8L1753.9 377.2L1754.7 377.6L1755.4 378.0L1756.2 378.3L1756.9 378.7L1757.7 379.1L1758.4 379.5L1759.2 379.8L1759.9 380.2L1760.7 380.6L1761.4 381.0L1762.2 381.3L1762.9 381.7L1763.7 382.0L1764.4 382.4L1765.2 382.7L1765.9 383.1L1766.7 383.4L1767.4 383.8L1768.2 384.1L1768.9 384.4L1769.7 384.8L1770.4 385.1L1771.2 385.4L1771.9 385.7L1772.7 386.1L1773.4 386.4L1774.2 386.7L1774.9 387.0L1775.7 387.3L1776.4 387.7L1777.2 388.0L1777.9 388.3L1778.7 388.6L1779.4 388.9L1780.2 389.2L1780.9 389.5L1781.7 389.8L1782.4 390.1L1783.2 390.4L1783.9 390.7L1784.7 391.0L1785.4 391.3L1786.2 391.6L1786.9 391.9L1787.7 392.2L1788.4 392.5L1789.2 392.8L1789.9 393.1L1790.7 393.4L1791.4 393.6L1792.2 393.9L1792.9 394.2L1793.7 394.5L1794.4 394.8L1795.2 395.1L1795.9 395.3L1796.7 395.6L1797.4 395.9L1798.2 396.2L1798.9 396.5L1799.8 396.8L1800.6 397.1L1801.5 397.4L1802.3 397.7L1803.2 398.0L1804.0 398.3L1804.9 398.6L1805.8 398.9L1806.6 399.2L1807.5 399.5L1808.3 399.8L1809.2 400.0L1810.0 400.2L1810.9 400.3L1811.8 400.4L1812.6 400.3L1813.5 400.3L1814.3 400.1L1815.2 400.0L1816.0 399.9L1816.9 399.8L1817.8 399.6L1818.6 399.5L1819.5 399.4L1820.3 399.3L1821.2 399.1L1822.0 399.0L1822.9 398.8L1823.8 398.7L1824.6 398.5L1825.5 398.3L1826.3 398.2L1827.2 398.0L1828.0 397.8L1828.9 397.6L1829.8 397.4L1830.6 397.1L1831.5 396.9L1832.3 396.7L1833.2 396.4L1834.0 396.2L1834.9 395.9L1835.8 395.6L1836.6 395.3L1837.5 395.0L1838.3 394.7L1839.2 394.4L1840.0 394.1L1840.9 393.8L1841.7 393.5L1842.4 393.1L1843.2 392.8L1843.9 392.5L1844.7 392.2L1845.4 391.9L1846.2 391.5L1846.9 391.2L1847.7 390.8L1848.4 390.5L1849.2 390.1L1849.9 389.7L1850.7 389.4L1851.4 389.0L1852.2 388.6L1852.9 388.2L1853.7 387.8L1854.4 387.4L1855.2 387.0L1855.9 386.6L1856.7 386.2L1857.4 385.8L1858.2 385.4L1858.9 385.0L1859.7 384.6L1860.4 384.2L1861.2 383.7L1861.9 383.3L1862.7 382.9L1863.4 382.5L1864.2 382.0L1864.9 381.6L1865.7 381.1L1866.4 380.7L1867.2 380.2L1867.9 379.8L1868.7 379.3L1869.4 378.9L1870.2 378.4L1870.9 377.9L1871.7 377.5L1872.4 377.0L1873.2 376.5L1873.9 376.1L1874.7 375.6L1875.4 375.1L1876.2 374.6L1876.9 374.2L1877.7 373.7L1878.4 373.2L1879.2 372.7L1879.9 372.2L1880.7 371.8L1881.4 371.3L1882.2 370.8L1882.9 370.3L1883.7 369.9L1884.4 369.4L1885.2 368.9L1885.9 368.4L1886.7 367.9L1887.4 367.5L1888.2 367.0L1888.9 366.5L1889.7 366.1L1890.4 365.6L1891.2 365.1L1891.9 364.7L1892.7 364.2L1893.4 363.7L1894.2 363.3L1894.9 362.8L1895.7 362.4L1896.4 361.9L1897.2 361.5L1897.9 361.1L1898.7 360.6L1899.4 360.2L1900.2 359.7L1900.9 359.3L1901.7 358.9L1902.4 358.4L1903.2 358.0L1903.9 357.6L1904.7 357.1L1905.4 356.7L1906.2 356.3L1906.9 355.8L1907.7 355.4L1908.4 355.0L1909.2 354.6L1909.9 354.1L1910.7 353.7L1911.4 353.3L1912.2 352.9L1912.9 352.5L1913.7 352.0L1914.4 351.6L1915.2 351.2L1915.9 350.8L1916.7 350.4L1917.4 349.9L1918.2 349.5L1918.9 349.1L1919.7 348.7L1920.4 348.3L1921.2 347.9L1921.9 347.5L1922.7 347.1L1923.4 346.7L1924.2 346.3L1924.9 345.9L1925.7 345.5L1926.4 345.1L1927.2 344.7L1927.9 344.3L1928.7 343.9L1929.4 343.5L1930.2 343.1L1930.9 342.7L1931.7 342.4L1932.4 342.0L1933.2 341.6L1933.9 341.2L1934.7 340.8L1935.4 340.5L1936.2 340.1L1936.9 339.7L1937.7 339.3L1938.4 339.0L1939.2 338.6L1939.9 338.2L1940.7 337.8L1941.4 337.5L1942.2 337.1L1942.9 336.7L1943.7 336.4L1944.4 336.0L1945.2 335.6L1945.9 335.3L1946.7 334.9L1947.4 334.6L1948.2 334.2L1948.9 333.8L1949.7 333.5L1950.4 333.1L1951.2 332.8L1951.9 332.4L1952.7 332.1L1953.4 331.7L1954.2 331.4L1954.9 331.0L1955.7 330.7L1956.4 330.4L1957.2 330.0L1957.9 329.7L1958.7 329.4L1959.4 329.0L1960.2 328.7L1960.9 328.4L1961.7 328.0L1962.4 327.7L1963.2 327.4L1963.9 327.1L1964.7 326.8L1965.4 326.5L1966.2 326.2L1966.9 325.9L1967.7 325.5L1968.4 325.2L1969.2 325.0L1969.9 324.7L1970.7 324.4L1971.4 324.1L1972.2 323.8L1972.9 323.5L1973.8 323.2L1974.6 322.9L1975.5 322.6L1976.3 322.3L1977.2 322.0L1978.0 321.7L1978.9 321.4L1979.8 321.1L1980.6 320.8L1981.5 320.5L1982.3 320.2L1983.2 319.9L1984.0 319.6L1984.9 319.4L1985.8 319.1L1986.6 318.8L1987.5 318.5L1988.3 318.3L1989.2 318.0L1990.0 317.8L1990.9 317.5L1991.8 317.2L1992.6 317.0L1993.5 316.7L1994.3 316.5L1995.2 316.3L1996.0 316.0L1996.9 315.8L1997.8 315.5L1998.6 315.3L1999.5 315.1L2000.3 314.8L2001.2 314.6L2002.0 314.4L2002.9 314.2L2003.8 314.0L2004.6 313.7L2005.5 313.5L2006.3 313.3L2007.2 313.1L2008.0 312.9L2008.9 312.7L2009.8 312.5L2010.6 312.3L2011.5 312.1L2012.3 312.0L2013.2 311.8L2014.0 311.6L2014.9 311.5L2015.8 311.3L2016.6 311.1L2017.5 311.0L2018.3 310.8L2019.2 310.7L2020.0 310.6L2020.9 310.4L2021.8 310.3L2022.6 310.2L2023.5 310.1L2024.3 309.9L2025.2 309.8L2026.0 309.7L2026.9 309.6L2027.8 309.5L2028.6 309.4L2029.5 309.3L2030.3 309.2L2031.2 309.1L2032.0 309.0L2032.9 308.9L2033.8 308.8L2034.6 308.7L2035.5 308.6L2036.3 308.5L2037.2 308.4L2038.0 308.3L2038.9 308.2L2039.8 308.2L2040.6 308.1L2041.5 308.0L2042.3 307.9L2043.2 307.8L2044.0 307.8L2044.9 307.7L2045.8 307.7L2046.7 307.7L2047.6 307.6L2048.5 307.6L2049.4 307.6L2050.2 307.6L2050.9 307.6L2052.3 307.7L2053.3 307.7L2054.0 307.7" fill="none" stroke="#ff0000" stroke-width="4" stroke-linejoin="round" stroke-linecap="butt" stroke-dasharray="5 12" stroke-dashoffset="0"/>
<path clip-path="url(#ct)" d="M221.0 439.4L221.0 439.0L221.1 438.5L221.1 438.0L221.2 437.5L221.2 437.0L221.3 436.4L221.4 435.9L221.4 435.2L221.5 434.6L221.6 433.9L221.7 433.2L221.7 432.5L221.8 431.7L221.9 430.9L222.0 430.1L222.1 429.3L222.2 428.4L222.2 427.6L222.3 426.6L222.4 425.7L222.5 424.7L222.6 423.8L222.7 422.8L222.8 421.7L222.8 420.7L222.9 419.6L223.0 418.5L223.1 417.3L223.1 416.2L223.2 415.0L223.2 414.4L223.3 413.7L223.3 413.1L223.3 412.5L223.4 411.8L223.4 411.1L223.4 410.4L223.5 409.7L223.5 409.0L223.5 408.3L223.6 407.6L223.6 406.9L223.6 406.2L223.7 405.4L223.7 404.7L223.7 403.9L223.8 403.2L223.8 402.4L223.8 401.6L223.9 400.8L223.9 400.0L223.9 399.2L224.0 398.4L224.0 397.6L224.0 396.8L224.0 396.0L224.1 395.1L224.1 394.3L224.1 393.5L224.2 392.6L224.2 391.8L224.2 390.9L224.3 390.1L224.3 389.2L224.3 388.4L224.3 387.5L224.4 386.6L224.4 385.8L224.4 384.9L224.5 384.0L224.5 383.1L224.5 382.2L224.6 381.4L224.6 380.5L224.6 379.6L224.6 378.7L224.7 377.8L224.7 376.9L224.7 376.0L224.8 375.1L224.8 374.2L224.8 373.3L224.9 372.5L224.9 371.6L224.9 370.7L224.9 369.8L225.0 368.9L225.0 368.0L225.0 367.3L225.0 366.5L225.1 365.8L225.1 365.0L225.1 364.3L225.1 363.5L225.2 362.7L225.2 362.0L225.2 361.2L225.2 360.4L225.3 359.6L225.3 358.9L225.3 358.1L225.3 357.3L225.3 356.5L225.4 355.7L225.4 354.9L225.4 354.1L225.4 353.3L225.5 352.5L225.5 351.7L225.5 350.9L225.5 350.0L225.5 349.2L225.6 348.4L225.6 347.6L225.6 346.8L225.6 346.0L225.7 345.1L225.7 344.3L225.7 343.5L225.7 342.7L225.7 341.8L225.8 341.0L225.8 340.2L225.8 339.4L225.8 338.5L225.8 337.7L225.9 336.9L225.9 336.1L225.9 335.2L225.9 334.4L226.0 333.6L226.0 332.7L226.0 331.9L226.0 331.1L226.0 330.3L226.1 329.5L226.1 328.6L226.1 327.8L226.1 327.0L226.2 326.2L226.2 325.4L226.2 324.6L226.2 323.8L226.3 323.0L226.3 322.2L226.3 321.4L226.3 320.6L226.3 319.8L226.4 319.0L226.4 318.2L226.4 317.4L226.4 316.6L226.5 315.8L226.5 315.1L226.5 314.3L226.5 313.5L226.6 312.8L226.6 312.0L226.6 311.1L226.7 310.3L226.7 309.4L226.7 308.5L226.8 307.7L226.8 306.8L226.8 305.9L226.8 305.0L226.9 304.1L226.9 303.2L226.9 302.3L227.0 301.4L227.0 300.5L227.0 299.7L227.1 298.8L227.1 297.9L227.1 297.0L227.2 296.1L227.2 295.2L227.2 294.3L227.3 293.4L227.3 292.5L227.3 291.6L227.4 290.7L227.4 289.8L227.4 288.9L227.5 288.0L227.5 287.2L227.5 286.3L227.6 285.4L227.6 284.6L227.6 283.7L227.7 282.9L227.7 282.0L227.7 281.2L227.8 280.3L227.8 279.5L227.8 278.7L227.9 277.9L227.9 277.1L228.0 276.3L228.0 275.5L228.0 274.7L228.1 273.9L228.1 273.2L228.1 272.4L228.2 271.7L228.2 270.9L228.2 270.2L228.3 269.5L228.3 268.8L228.3 268.1L228.4 267.5L228.4 266.8L228.5 266.1L228.5 265.5L228.5 264.9L228.6 264.3L228.6 263.7L228.6 263.1L228.7 262.5L228.7 262.0L228.8 260.5L228.9 259.0L229.0 257.7L229.1 256.5L229.2 255.4L229.3 254.4L229.4 253.4L229.6 252.6L229.7 251.8L229.8 251.0L229.9 250.4L230.0 249.7L230.1 249.1L230.2 248.6L230.3 248.0L230.4 247.5L230.6 247.0L230.7 246.5L230.8 246.0L230.9 245.5L231.0 245.0L231.4 243.3L231.8 241.9L232.2 240.8L232.6 240.1L233.0 239.8L233.4 240.0L233.6 240.3L233.8 240.6L234.0 241.1L234.2 241.7L234.5 242.4L234.7 243.2L234.9 244.0L235.1 245.0L235.3 246.1L235.6 247.3L235.8 248.6L236.0 250.0L236.1 250.6L236.2 251.2L236.3 251.9L236.4 252.6L236.5 253.3L236.5 254.1L236.6 254.9L236.7 255.7L236.8 256.5L236.9 257.3L237.0 258.2L237.1 259.1L237.2 260.0L237.3 260.9L237.4 261.8L237.5 262.7L237.6 263.6L237.7 264.5L237.8 265.4L237.9 266.3L238.0 267.2L238.0 268.1L238.1 268.9L238.2 269.8L238.3 270.6L238.4 271.5L238.5 272.3L238.6 273.0L238.7 273.8L238.8 274.5L238.9 275.5L239.1 276.4L239.2 277.3L239.3 278.3L239.4 279.2L239.5 280.1L239.7 281.0L239.8 281.9L239.9 282.7L240.0 283.6L240.2 284.4L240.3 285.2L240.4 286.0L240.5 286.8L240.7 287.6L240.8 288.3L240.9 289.1L241.1 289.8L241.2 290.5L241.3 291.1L241.5 291.8L241.6 292.4L241.9 293.5L242.1 294.5L242.4 295.4L242.6 296.2L242.9 297.0L243.1 297.7L243.4 298.4L243.7 299.1L244.0 299.7L244.3 300.3L244.7 300.9L245.0 301.5L245.5 302.3L246.0 303.0L246.6 303.7L247.2 304.4L247.7 305.0L248.4 305.6L249.0 306.0L249.6 306.4L250.2 306.7L251.0 306.9L251.8 306.9L252.7 306.8L253.5 306.6L254.4 306.3L255.2 306.0L256.0 305.8L256.8 305.5L257.5 305.2L258.2 304.9L259.0 304.5L259.9 304.2L261.0 303.8L261.6 303.6L262.3 303.4L263.1 303.2L263.9 303.0L264.8 302.8L265.7 302.6L266.6 302.4L267.5 302.2L268.3 302.0L269.2 301.9L270.0 301.7L270.7 301.5L271.4 301.4L272.5 301.2L273.4 300.9L274.3 300.7L275.1 300.6L275.8 300.5L276.6 300.5L277.4 300.6L278.1 300.8L278.9 301.1L279.6 301.6L280.4 302.0L281.1 302.5L281.9 303.0L282.6 303.5L283.4 304.0L284.1 304.5L284.9 304.9L285.6 305.4L286.4 305.9L287.1 306.4L287.9 306.8L288.6 307.3L289.4 307.8L290.1 308.2L290.9 308.7L291.6 309.2L292.4 309.7L293.1 310.1L293.9 310.6L294.6 311.0L295.4 311.5L296.1 311.9L296.9 312.4L297.6 312.8L298.4 313.2L299.1 313.7L299.9 314.1L300.6 314.5L301.4 315.0L302.1 315.4L302.9 315.9L303.6 316.4L304.4 316.8L305.1 317.3L305.9 317.8L306.6 318.3L307.4 318.8L308.1 319.2L308.7 319.7L309.4 320.2L310.1 320.7L310.7 321.2L311.4 321.7L312.1 322.1L312.7 322.6L313.4 323.1L314.1 323.5L314.7 324.0L315.4 324.5L316.1 324.9L316.7 325.3L317.4 325.8L318.1 326.2L318.7 326.6L319.4 327.1L320.1 327.5L320.9 328.0L321.6 328.4L322.4 328.9L323.1 329.3L323.9 329.7L324.6 330.2L325.4 330.6L326.1 331.1L326.9 331.5L327.6 332.0L328.4 332.5L329.1 332.9L329.9 333.4L330.6 333.9L331.4 334.4L332.1 334.8L332.9 335.3L333.6 335.8L334.4 336.3L335.1 336.8L335.9 337.3L336.6 337.8L337.4 338.3L338.1 338.8L338.9 339.3L339.6 339.7L340.4 340.2L341.1 340.7L341.9 341.1L342.6 341.6L343.4 342.0L344.1 342.5L344.9 342.9L345.6 343.4L346.4 343.8L347.1 344.3L347.9 344.7L348.6 345.1L349.4 345.6L350.1 346.0L350.9 346.4L351.6 346.8L352.4 347.3L353.1 347.7L353.9 348.1L354.6 348.5L355.4 348.9L356.1 349.3L356.9 349.7L357.6 350.1L358.4 350.5L359.1 350.9L359.9 351.3L360.6 351.8L361.4 352.2L362.1 352.7L362.7 353.1L363.4 353.6L364.1 354.1L364.7 354.6L365.4 355.1L366.1 355.6L366.7 356.0L367.4 356.5L368.1 357.0L368.7 357.4L369.4 357.9L370.1 358.3L370.7 358.8L371.4 359.3L372.1 359.7L372.7 360.1L373.4 360.6L374.1 361.0L374.9 361.5L375.6 361.9L376.4 362.4L377.1 362.8L377.9 363.3L378.6 363.7L379.4 364.1L380.1 364.6L380.9 365.0L381.6 365.5L382.4 365.9L383.1 366.4L383.9 366.8L384.6 367.3L385.4 367.7L386.1 368.2L386.9 368.6L387.6 369.1L388.4 369.5L389.1 369.9L389.9 370.4L390.6 370.8L391.4 371.3L392.1 371.7L392.9 372.1L393.6 372.6L394.4 373.0L395.1 373.4L395.9 373.8L396.6 374.3L397.4 374.7L398.1 375.1L398.9 375.5L399.6 375.9L400.4 376.3L401.1 376.7L401.9 377.1L402.6 377.5L403.4 377.9L404.1 378.3L404.9 378.7L405.6 379.1L406.4 379.4L407.1 379.8L407.9 380.2L408.6 380.5L409.4 380.9L410.1 381.2L410.9 381.6L411.6 381.9L412.4 382.2L413.1 382.6L413.9 382.9L414.6 383.2L415.4 383.5L416.1 383.8L416.9 384.1L417.6 384.4L418.4 384.7L419.1 385.0L419.9 385.3L420.6 385.6L421.4 385.9L422.1 386.2L422.9 386.5L423.6 386.8L424.4 387.1L425.1 387.4L425.9 387.7L426.6 387.9L427.4 388.2L428.3 388.5L429.1 388.8L430.0 389.1L430.8 389.4L431.7 389.7L432.5 390.0L433.4 390.3L434.3 390.6L435.1 390.9L436.0 391.1L436.8 391.4L437.7 391.7L438.5 391.9L439.4 392.2L440.3 392.4L441.1 392.7L442.0 392.9L442.8 393.1L443.7 393.3L444.5 393.6L445.4 393.8L446.3 394.0L447.1 394.1L448.0 394.3L448.8 394.5L449.7 394.7L450.5 394.8L451.4 395.0L452.3 395.1L453.1 395.2L454.0 395.3L454.8 395.4L455.7 395.5L456.5 395.6L457.4 395.7L458.3 395.7L459.1 395.8L460.0 395.8L460.8 395.8L461.7 395.8L462.5 395.8L463.4 395.8L464.3 395.8L465.1 395.8L466.0 395.7L466.8 395.7L467.7 395.6L468.5 395.5L469.4 395.4L470.3 395.3L471.1 395.2L472.0 395.0L472.8 394.9L473.7 394.7L474.5 394.6L475.4 394.4L476.3 394.2L477.1 394.0L478.0 393.8L478.8 393.6L479.7 393.4L480.5 393.2L481.4 392.9L482.3 392.7L483.1 392.4L484.0 392.2L484.8 391.9L485.7 391.6L486.5 391.4L487.4 391.1L488.3 390.8L489.1 390.5L490.0 390.2L490.8 389.9L491.7 389.6L492.5 389.3L493.4 389.0L494.1 388.7L494.9 388.4L495.6 388.1L496.4 387.7L497.1 387.4L497.9 387.1L498.6 386.7L499.4 386.4L500.1 386.0L500.9 385.7L501.6 385.3L502.4 385.0L503.1 384.6L503.9 384.2L504.6 383.8L505.4 383.5L506.1 383.1L506.9 382.7L507.6 382.3L508.4 381.9L509.1 381.5L509.9 381.1L510.6 380.7L511.4 380.3L512.1 379.9L512.9 379.5L513.6 379.1L514.4 378.7L515.1 378.2L515.9 377.8L516.6 377.4L517.4 377.0L518.1 376.6L518.9 376.2L519.6 375.7L520.4 375.3L521.1 374.9L521.9 374.5L522.6 374.1L523.4 373.7L524.1 373.3L524.9 372.9L525.6 372.5L526.4 372.0L527.1 371.6L527.9 371.2L528.6 370.8L529.4 370.4L530.1 370.0L530.9 369.6L531.6 369.1L532.4 368.7L533.1 368.3L533.9 367.8L534.6 367.4L535.4 367.0L536.1 366.5L536.9 366.1L537.6 365.6L538.4 365.2L539.1 364.7L539.9 364.3L540.6 363.8L541.4 363.4L542.1 362.9L542.9 362.5L543.6 362.0L544.4 361.6L545.1 361.1L545.9 360.6L546.6 360.2L547.4 359.7L548.1 359.3L548.9 358.8L549.6 358.4L550.4 357.9L551.1 357.5L551.9 357.0L552.6 356.6L553.4 356.2L554.1 355.7L554.9 355.3L555.6 354.9L556.4 354.4L557.1 354.0L557.9 353.6L558.6 353.2L559.4 352.8L560.1 352.4L560.9 352.0L561.6 351.6L562.4 351.2L563.1 350.8L563.9 350.4L564.6 350.0L565.4 349.7L566.1 349.3L566.9 348.9L567.6 348.6L568.4 348.2L569.1 347.9L569.9 347.5L570.6 347.2L571.4 346.8L572.1 346.5L572.9 346.2L573.6 345.8L574.4 345.5L575.1 345.2L575.9 344.8L576.6 344.5L577.4 344.2L578.1 343.9L578.9 343.6L579.6 343.3L580.4 342.9L581.1 342.6L581.9 342.3L582.6 342.0L583.4 341.7L584.1 341.4L584.9 341.1L585.6 340.8L586.4 340.5L587.1 340.3L587.9 340.0L588.6 339.7L589.4 339.4L590.3 339.1L591.1 338.8L592.0 338.5L592.8 338.1L593.7 337.8L594.5 337.5L595.4 337.2L596.3 336.9L597.1 336.6L598.0 336.3L598.8 336.0L599.7 335.7L600.5 335.4L601.4 335.1L602.3 334.8L603.1 334.5L604.0 334.2L604.8 334.0L605.7 333.7L606.5 333.4L607.4 333.1L608.3 332.8L609.1 332.5L610.0 332.3L610.8 332.0L611.7 331.7L612.5 331.4L613.4 331.2L614.3 330.9L615.1 330.6L616.0 330.4L616.8 330.1L617.7 329.8L618.5 329.6L619.4 329.3L620.3 329.1L621.1 328.8L622.0 328.6L622.8 328.3L623.7 328.1L624.5 327.9L625.4 327.6L626.3 327.4L627.1 327.2L628.0 327.0L628.8 326.7L629.7 326.5L630.5 326.3L631.4 326.1L632.3 325.9L633.1 325.7L634.0 325.5L634.8 325.3L635.7 325.1L636.5 325.0L637.4 324.8L638.3 324.6L639.1 324.5L640.0 324.3L640.8 324.1L641.7 324.0L642.5 323.8L643.4 323.7L644.3 323.6L645.1 323.4L646.0 323.3L646.8 323.2L647.7 323.1L648.5 323.0L649.4 322.9L650.3 322.8L651.1 322.7L652.0 322.6L652.8 322.5L653.7 322.4L654.5 322.3L655.4 322.2L656.3 322.1L657.1 322.1L658.0 322.0L658.8 321.9L659.7 321.9L660.5 321.8L661.4 321.7L662.3 321.7L663.1 321.6L664.0 321.6L664.8 321.5L665.7 321.5L666.5 321.4L667.4 321.4L668.3 321.3L669.1 321.3L670.0 321.2L670.8 321.2L671.7 321.2L672.5 321.1L673.4 321.1L674.3 321.1L675.1 321.0L676.0 321.0L676.8 321.0L677.7 320.9L678.5 320.9L679.4 320.9L680.3 320.9L681.1 320.8L682.0 320.8L682.8 320.8L683.7 320.8L684.5 320.8L685.4 320.8L686.3 320.8L687.1 320.9L688.0 320.9L688.8 321.0L689.7 321.0L690.5 321.1L691.4 321.2L692.3 321.3L693.1 321.4L694.0 321.5L694.8 321.6L695.7 321.7L696.5 321.9L697.4 322.0L698.3 322.1L699.1 322.3L700.0 322.4L700.8 322.5L701.7 322.7L702.5 322.8L703.4 322.9L704.3 323.0L705.1 323.2L706.0 323.3L706.8 323.4L707.7 323.6L708.5 323.7L709.4 323.9L710.3 324.0L711.1 324.1L712.0 324.3L712.8 324.4L713.7 324.6L714.5 324.7L715.4 324.9L716.3 325.0L717.1 325.2L718.0 325.3L718.8 325.5L719.7 325.6L720.5 325.8L721.4 326.0L722.3 326.1L723.1 326.3L724.0 326.5L724.8 326.7L725.7 326.8L726.5 327.0L727.4 327.2L728.3 327.4L729.1 327.6L730.0 327.8L730.8 328.0L731.7 328.2L732.5 328.4L733.4 328.6L734.3 328.8L735.1 329.1L736.0 329.3L736.8 329.5L737.7 329.7L738.5 330.0L739.4 330.2L740.3 330.5L741.1 330.7L742.0 331.0L742.8 331.2L743.7 331.5L744.5 331.8L745.4 332.0L746.3 332.3L747.1 332.6L748.0 332.8L748.8 333.1L749.7 333.4L750.5 333.7L751.4 333.9L752.3 334.2L753.1 334.5L754.0 334.8L754.8 335.1L755.7 335.4L756.5 335.7L757.4 336.0L758.3 336.3L759.1 336.6L760.0 336.9L760.8 337.2L761.7 337.5L762.5 337.8L763.4 338.1L764.1 338.4L764.9 338.7L765.6 339.0L766.4 339.3L767.1 339.6L767.9 339.8L768.6 340.1L769.4 340.4L770.1 340.7L770.9 341.0L771.6 341.3L772.4 341.6L773.1 341.9L773.9 342.2L774.6 342.5L775.4 342.8L776.1 343.2L776.9 343.5L777.6 343.8L778.4 344.1L779.1 344.4L779.9 344.8L780.6 345.1L781.4 345.4L782.1 345.8L782.9 346.1L783.6 346.5L784.4 346.8L785.1 347.2L785.9 347.6L786.6 348.0L787.4 348.3L788.1 348.7L788.9 349.1L789.6 349.5L790.4 349.9L791.1 350.3L791.9 350.7L792.6 351.1L793.4 351.5L794.1 351.9L794.9 352.4L795.6 352.8L796.4 353.2L797.1 353.6L797.9 354.1L798.6 354.5L799.4 354.9L800.1 355.4L800.9 355.8L801.6 356.2L802.4 356.7L803.1 357.1L803.9 357.5L804.6 358.0L805.4 358.4L806.1 358.8L806.9 359.3L807.6 359.7L808.4 360.1L809.1 360.5L809.9 361.0L810.6 361.4L811.4 361.8L812.1 362.2L812.9 362.6L813.6 363.0L814.4 363.4L815.1 363.7L815.9 364.1L816.6 364.5L817.4 364.8L818.1 365.2L818.9 365.5L819.6 365.9L820.4 366.2L821.1 366.5L821.9 366.9L822.6 367.2L823.4 367.5L824.1 367.8L824.9 368.1L825.6 368.5L826.4 368.8L827.1 369.1L827.9 369.4L828.6 369.7L829.4 370.1L830.1 370.4L830.9 370.8L831.6 371.1L832.4 371.5L833.1 371.9L833.9 372.2L834.6 372.6L835.4 373.0L836.1 373.4L836.9 373.8L837.6 374.2L838.4 374.6L839.1 375.0L839.9 375.4L840.6 375.8L841.4 376.2L842.1 376.5L842.9 376.9L843.6 377.3L844.4 377.7L845.1 378.0L845.9 378.4L846.6 378.8L847.4 379.1L848.1 379.5L848.9 379.8L849.6 380.1L850.4 380.5L851.1 380.8L851.9 381.1L852.6 381.4L853.4 381.8L854.1 382.1L854.9 382.4L855.6 382.7L856.4 383.0L857.1 383.3L857.9 383.6L858.6 383.9L859.4 384.2L860.1 384.5L860.9 384.8L861.6 385.1L862.4 385.4L863.1 385.6L863.9 385.9L864.6 386.2L865.4 386.5L866.1 386.8L866.9 387.1L867.6 387.4L868.4 387.6L869.1 387.9L869.9 388.2L870.6 388.5L871.4 388.8L872.3 389.1L873.1 389.4L874.0 389.7L874.8 390.0L875.7 390.3L876.5 390.6L877.4 390.9L878.3 391.2L879.1 391.5L880.0 391.8L880.8 392.1L881.7 392.3L882.5 392.6L883.4 392.8L884.3 393.0L885.1 393.2L886.0 393.4L886.8 393.5L887.7 393.7L888.5 393.8L889.4 393.9L890.3 393.9L891.1 393.9L892.0 393.9L892.8 393.9L893.7 393.8L894.5 393.8L895.4 393.7L896.3 393.7L897.1 393.7L898.0 393.7L898.8 393.7L899.7 393.7L900.5 393.6L901.4 393.6L902.3 393.5L903.1 393.4L904.0 393.3L904.8 393.1L905.7 393.0L906.5 392.9L907.4 392.7L908.3 392.6L909.1 392.5L910.0 392.4L910.8 392.2L911.7 392.1L912.5 392.0L913.4 391.8L914.3 391.7L915.1 391.5L916.0 391.4L916.8 391.2L917.7 391.1L918.5 390.9L919.4 390.7L920.3 390.5L921.1 390.3L922.0 390.1L922.8 389.9L923.7 389.7L924.5 389.4L925.4 389.2L926.1 388.9L926.9 388.7L927.6 388.4L928.4 388.1L929.1 387.8L929.9 387.5L930.6 387.2L931.4 386.9L932.1 386.6L932.9 386.2L933.6 385.9L934.4 385.5L935.1 385.2L935.9 384.8L936.6 384.4L937.4 384.0L938.1 383.6L938.9 383.3L939.6 382.9L940.4 382.5L941.1 382.1L941.9 381.7L942.6 381.3L943.4 380.9L944.1 380.5L944.9 380.1L945.6 379.7L946.4 379.3L947.1 378.9L947.9 378.5L948.6 378.1L949.4 377.7L950.1 377.4L950.9 377.0L951.6 376.7L952.4 376.4L953.1 376.1L953.9 375.7L954.6 375.4L955.4 375.1L956.1 374.8L956.9 374.5L957.6 374.2L958.4 373.9L959.1 373.5L959.9 373.2L960.6 372.9L961.4 372.5L962.1 372.2L962.9 371.8L963.6 371.4L964.4 371.0L965.1 370.6L965.9 370.2L966.6 369.8L967.4 369.3L968.1 368.9L968.9 368.5L969.6 368.1L970.4 367.6L971.1 367.2L971.9 366.8L972.6 366.3L973.4 365.9L974.1 365.5L974.9 365.0L975.6 364.6L976.4 364.1L977.1 363.7L977.9 363.3L978.6 362.8L979.4 362.4L980.1 361.9L980.9 361.5L981.6 361.0L982.4 360.6L983.1 360.2L983.9 359.7L984.6 359.3L985.4 358.8L986.1 358.4L986.9 358.0L987.6 357.5L988.4 357.1L989.1 356.6L989.9 356.2L990.6 355.8L991.4 355.3L992.1 354.9L992.9 354.5L993.6 354.0L994.4 353.6L995.1 353.2L995.9 352.7L996.6 352.3L997.4 351.9L998.1 351.5L998.9 351.1L999.6 350.6L1000.4 350.2L1001.1 349.8L1001.9 349.4L1002.6 349.0L1003.4 348.6L1004.1 348.2L1004.9 347.8L1005.6 347.4L1006.4 347.0L1007.1 346.6L1007.9 346.2L1008.6 345.8L1009.4 345.4L1010.1 345.0L1010.9 344.6L1011.6 344.2L1012.4 343.8L1013.1 343.4L1013.9 343.0L1014.6 342.6L1015.4 342.2L1016.1 341.8L1016.9 341.4L1017.6 341.0L1018.4 340.6L1019.1 340.2L1019.9 339.8L1020.6 339.5L1021.4 339.1L1022.1 338.7L1022.9 338.3L1023.6 337.9L1024.4 337.6L1025.2 337.2L1025.9 336.8L1026.7 336.4L1027.4 336.1L1028.2 335.7L1028.9 335.3L1029.7 335.0L1030.4 334.6L1031.2 334.2L1031.9 333.9L1032.7 333.5L1033.4 333.2L1034.2 332.8L1034.9 332.5L1035.7 332.2L1036.4 331.8L1037.2 331.5L1037.9 331.1L1038.7 330.8L1039.4 330.5L1040.2 330.2L1040.9 329.8L1041.7 329.5L1042.4 329.2L1043.2 328.9L1043.9 328.6L1044.7 328.3L1045.4 328.0L1046.2 327.7L1046.9 327.4L1047.7 327.1L1048.4 326.8L1049.2 326.5L1049.9 326.3L1050.7 326.0L1051.4 325.7L1052.3 325.4L1053.1 325.1L1054.0 324.8L1054.8 324.5L1055.7 324.2L1056.5 323.9L1057.4 323.6L1058.3 323.3L1059.1 323.0L1060.0 322.7L1060.8 322.4L1061.7 322.1L1062.5 321.8L1063.4 321.5L1064.3 321.2L1065.1 321.0L1066.0 320.7L1066.8 320.4L1067.7 320.1L1068.5 319.8L1069.4 319.6L1070.3 319.3L1071.1 319.0L1072.0 318.7L1072.8 318.5L1073.7 318.2L1074.5 317.9L1075.4 317.6L1076.3 317.4L1077.1 317.1L1078.0 316.8L1078.8 316.6L1079.7 316.3L1080.5 316.0L1081.4 315.7L1082.3 315.4L1083.1 315.2L1084.0 314.9L1084.8 314.6L1085.7 314.3L1086.5 314.0L1087.4 313.7L1088.3 313.5L1089.1 313.2L1090.0 313.0L1090.8 312.8L1091.7 312.5L1092.5 312.3L1093.4 312.1L1094.3 312.0L1095.1 311.8L1096.0 311.6L1096.8 311.5L1097.7 311.4L1098.5 311.2L1099.4 311.1L1100.3 311.0L1101.1 310.8L1102.0 310.7L1102.8 310.6L1103.7 310.5L1104.5 310.4L1105.4 310.3L1106.3 310.2L1107.1 310.1L1108.0 310.0L1108.8 309.9L1109.7 309.8L1110.5 309.7L1111.4 309.6L1112.3 309.5L1113.1 309.4L1114.0 309.3L1114.8 309.2L1115.7 309.1L1116.5 309.0L1117.4 309.0L1118.3 308.9L1119.1 308.8L1120.0 308.7L1120.8 308.7L1121.7 308.6L1122.5 308.5L1123.4 308.5L1124.3 308.4L1125.1 308.4L1126.0 308.3L1126.8 308.3L1127.7 308.2L1128.5 308.2L1129.4 308.2L1130.3 308.1L1131.1 308.1L1132.0 308.1L1132.8 308.0L1133.7 308.0L1134.5 308.0L1135.4 308.0L1136.3 308.0L1137.1 308.0L1138.0 308.0L1138.8 308.0L1139.7 308.0L1140.5 308.1L1141.4 308.1L1142.3 308.1L1143.1 308.1L1144.0 308.2L1144.8 308.2L1145.7 308.3L1146.5 308.3L1147.4 308.4L1148.3 308.4L1149.1 308.5L1150.0 308.5L1150.8 308.6L1151.7 308.7L1152.5 308.8L1153.4 308.8L1154.3 308.9L1155.1 309.0L1156.0 309.1L1156.8 309.2L1157.7 309.3L1158.5 309.3L1159.4 309.4L1160.3 309.5L1161.1 309.6L1162.0 309.7L1162.8 309.8L1163.7 310.0L1164.5 310.1L1165.4 310.2L1166.3 310.3L1167.1 310.4L1168.0 310.5L1168.8 310.7L1169.7 310.8L1170.5 310.9L1171.4 311.1L1172.3 311.2L1173.1 311.3L1174.0 311.5L1174.8 311.6L1175.7 311.8L1176.5 311.9L1177.4 312.1L1178.3 312.3L1179.1 312.5L1180.0 312.7L1180.8 312.9L1181.7 313.1L1182.5 313.3L1183.4 313.5L1184.3 313.8L1185.1 314.0L1186.0 314.3L1186.8 314.5L1187.7 314.8L1188.5 315.1L1189.4 315.4L1190.3 315.7L1191.1 316.0L1192.0 316.3L1192.8 316.6L1193.7 316.9L1194.5 317.2L1195.4 317.5L1196.3 317.8L1197.1 318.1L1198.0 318.4L1198.8 318.7L1199.7 319.0L1200.5 319.3L1201.4 319.6L1202.3 319.8L1203.1 320.1L1204.0 320.4L1204.8 320.6L1205.7 320.9L1206.5 321.2L1207.4 321.5L1208.3 321.7L1209.1 322.0L1210.0 322.3L1210.8 322.6L1211.7 322.8L1212.5 323.1L1213.4 323.4L1214.3 323.7L1215.1 324.0L1216.0 324.3L1216.8 324.6L1217.7 324.9L1218.5 325.3L1219.4 325.6L1220.2 325.9L1220.9 326.2L1221.7 326.5L1222.4 326.8L1223.2 327.2L1223.9 327.5L1224.7 327.8L1225.4 328.2L1226.2 328.6L1226.9 328.9L1227.7 329.3L1228.4 329.7L1229.2 330.1L1229.9 330.5L1230.7 330.9L1231.4 331.3L1232.2 331.7L1232.9 332.1L1233.7 332.5L1234.4 332.9L1235.2 333.4L1235.9 333.8L1236.7 334.2L1237.4 334.6L1238.2 335.1L1238.9 335.5L1239.7 335.9L1240.4 336.4L1241.2 336.8L1241.9 337.3L1242.7 337.7L1243.4 338.1L1244.2 338.5L1244.9 339.0L1245.7 339.4L1246.4 339.8L1247.2 340.2L1247.9 340.6L1248.7 341.1L1249.4 341.5L1250.2 341.9L1250.9 342.3L1251.7 342.7L1252.4 343.1L1253.2 343.5L1253.9 343.9L1254.7 344.3L1255.4 344.7L1256.2 345.1L1256.9 345.5L1257.7 345.9L1258.4 346.3L1259.2 346.7L1259.9 347.1L1260.7 347.5L1261.4 347.9L1262.2 348.3L1262.9 348.7L1263.7 349.1L1264.4 349.5L1265.2 349.9L1265.9 350.3L1266.7 350.8L1267.4 351.2L1268.2 351.6L1268.9 352.1L1269.7 352.5L1270.4 353.0L1271.2 353.4L1271.9 353.9L1272.7 354.4L1273.4 354.8L1274.1 355.3L1274.7 355.7L1275.4 356.1L1276.1 356.6L1276.7 357.0L1277.4 357.5L1278.1 357.9L1278.7 358.4L1279.4 358.9L1280.1 359.3L1280.7 359.8L1281.4 360.3L1282.1 360.7L1282.7 361.2L1283.4 361.7L1284.1 362.1L1284.7 362.6L1285.4 363.1L1286.1 363.5L1286.7 364.0L1287.4 364.5L1288.1 365.0L1288.7 365.4L1289.4 365.9L1290.1 366.3L1290.7 366.8L1291.4 367.2L1292.2 367.7L1292.9 368.2L1293.7 368.7L1294.4 369.2L1295.2 369.7L1295.9 370.1L1296.7 370.6L1297.4 371.1L1298.2 371.5L1298.9 372.0L1299.7 372.4L1300.4 372.8L1301.2 373.2L1301.9 373.7L1302.7 374.1L1303.4 374.5L1304.2 374.9L1304.9 375.3L1305.7 375.8L1306.4 376.2L1307.2 376.6L1307.9 377.0L1308.7 377.4L1309.4 377.8L1310.2 378.2L1310.9 378.6L1311.7 379.0L1312.4 379.4L1313.2 379.8L1313.9 380.3L1314.7 380.7L1315.4 381.1L1316.2 381.6L1316.9 382.0L1317.7 382.4L1318.4 382.9L1319.2 383.3L1319.9 383.8L1320.7 384.3L1321.4 384.8L1322.1 385.3L1322.7 385.8L1323.4 386.3L1324.1 386.9L1324.7 387.4L1325.4 387.9L1326.1 388.5L1326.7 389.0L1327.4 389.5L1328.1 390.0L1328.7 390.5L1329.4 391.0L1330.1 391.4L1330.7 391.9L1331.4 392.4L1332.1 392.8L1332.7 393.3L1333.4 393.7L1334.2 394.1L1334.9 394.6L1335.7 395.0L1336.4 395.4L1337.2 395.8L1337.9 396.1L1338.7 396.5L1339.4 396.9L1340.2 397.3L1340.9 397.6L1341.7 398.0L1342.4 398.3L1343.2 398.7L1343.9 399.0L1344.7 399.4L1345.4 399.7L1346.2 400.1L1346.9 400.4L1347.7 400.7L1348.4 401.0L1349.2 401.4L1349.9 401.7L1350.7 402.0L1351.4 402.3L1352.3 402.6L1353.1 403.0L1354.0 403.3L1354.8 403.6L1355.7 403.9L1356.5 404.2L1357.4 404.5L1358.3 404.7L1359.1 405.0L1360.0 405.2L1360.8 405.5L1361.7 405.7L1362.5 405.9L1363.4 406.2L1364.3 406.4L1365.1 406.5L1366.0 406.7L1366.8 406.9L1367.7 407.0L1368.5 407.2L1369.4 407.3L1370.3 407.4L1371.1 407.5L1372.0 407.6L1372.8 407.7L1373.7 407.7L1374.5 407.8L1375.4 407.8L1376.3 407.8L1377.1 407.8L1378.0 407.7L1378.8 407.7L1379.7 407.6L1380.5 407.5L1381.4 407.4L1382.3 407.3L1383.1 407.1L1384.0 407.0L1384.8 406.8L1385.7 406.6L1386.5 406.4L1387.4 406.2L1388.3 406.0L1389.1 405.8L1390.0 405.5L1390.8 405.3L1391.7 405.0L1392.5 404.8L1393.4 404.5L1394.3 404.2L1395.1 403.9L1396.0 403.6L1396.8 403.3L1397.7 403.0L1398.5 402.7L1399.4 402.3L1400.2 402.0L1400.9 401.7L1401.7 401.3L1402.4 400.9L1403.2 400.6L1403.9 400.2L1404.7 399.9L1405.4 399.5L1406.2 399.1L1406.9 398.8L1407.7 398.4L1408.4 398.1L1409.2 397.7L1409.9 397.4L1410.7 397.0L1411.4 396.6L1412.2 396.3L1412.9 395.9L1413.7 395.5L1414.4 395.2L1415.2 394.8L1415.9 394.4L1416.7 394.0L1417.4 393.7L1418.2 393.3L1418.9 392.9L1419.7 392.5L1420.4 392.2L1421.2 391.8L1421.9 391.4L1422.7 391.0L1423.4 390.6L1424.2 390.2L1424.9 389.8L1425.7 389.4L1426.4 389.0L1427.2 388.6L1427.9 388.2L1428.7 387.8L1429.4 387.4L1430.2 387.0L1430.9 386.6L1431.7 386.1L1432.4 385.7L1433.2 385.3L1433.9 384.9L1434.7 384.5L1435.4 384.0L1436.2 383.6L1436.9 383.2L1437.7 382.7L1438.4 382.3L1439.2 381.9L1439.9 381.4L1440.7 381.0L1441.4 380.6L1442.2 380.1L1442.9 379.7L1443.7 379.2L1444.4 378.8L1445.2 378.3L1445.9 377.8L1446.7 377.4L1447.4 376.9L1448.1 376.5L1448.7 376.0L1449.4 375.6L1450.1 375.1L1450.7 374.7L1451.4 374.2L1452.1 373.8L1452.7 373.3L1453.4 372.9L1454.1 372.4L1454.7 372.0L1455.4 371.5L1456.1 371.0L1456.7 370.6L1457.4 370.1L1458.1 369.7L1458.7 369.3L1459.4 368.8L1460.2 368.3L1460.9 367.9L1461.7 367.4L1462.4 367.0L1463.2 366.5L1463.9 366.1L1464.7 365.6L1465.4 365.2L1466.2 364.8L1466.9 364.3L1467.7 363.9L1468.4 363.5L1469.2 363.1L1469.9 362.7L1470.7 362.2L1471.4 361.8L1472.2 361.4L1472.9 361.0L1473.7 360.6L1474.4 360.2L1475.2 359.8L1475.9 359.4L1476.7 359.0L1477.4 358.6L1478.2 358.2L1478.9 357.8L1479.7 357.4L1480.4 357.0L1481.2 356.6L1481.9 356.2L1482.7 355.9L1483.4 355.5L1484.2 355.1L1484.9 354.7L1485.7 354.4L1486.4 354.0L1487.2 353.6L1487.9 353.2L1488.7 352.9L1489.4 352.5L1490.2 352.2L1490.9 351.8L1491.7 351.5L1492.4 351.1L1493.2 350.8L1493.9 350.4L1494.7 350.1L1495.4 349.7L1496.2 349.4L1496.9 349.0L1497.7 348.7L1498.4 348.3L1499.2 348.0L1499.9 347.6L1500.7 347.3L1501.4 346.9L1502.2 346.6L1502.9 346.2L1503.7 345.9L1504.4 345.5L1505.2 345.2L1505.9 344.8L1506.7 344.5L1507.4 344.2L1508.2 343.8L1508.9 343.5L1509.7 343.1L1510.4 342.8L1511.2 342.5L1511.9 342.1L1512.7 341.8L1513.4 341.4L1514.2 341.1L1514.9 340.8L1515.7 340.5L1516.4 340.1L1517.2 339.8L1517.9 339.5L1518.7 339.1L1519.4 338.8L1520.2 338.5L1520.9 338.2L1521.7 337.9L1522.4 337.6L1523.2 337.2L1523.9 336.9L1524.7 336.6L1525.4 336.3L1526.2 336.0L1526.9 335.7L1527.7 335.4L1528.4 335.1L1529.2 334.8L1529.9 334.5L1530.7 334.3L1531.4 334.0L1532.3 333.7L1533.1 333.3L1534.0 333.0L1534.8 332.7L1535.7 332.4L1536.5 332.1L1537.4 331.9L1538.3 331.6L1539.1 331.3L1540.0 331.1L1540.8 330.8L1541.7 330.6L1542.5 330.3L1543.4 330.1L1544.3 329.8L1545.1 329.6L1546.0 329.4L1546.8 329.2L1547.7 329.0L1548.5 328.8L1549.4 328.6L1550.3 328.4L1551.1 328.2L1552.0 328.0L1552.8 327.9L1553.7 327.7L1554.5 327.5L1555.4 327.3L1556.3 327.2L1557.1 327.0L1558.0 326.9L1558.8 326.7L1559.7 326.6L1560.5 326.4L1561.4 326.3L1562.3 326.1L1563.1 326.0L1564.0 325.9L1564.8 325.7L1565.7 325.6L1566.5 325.5L1567.4 325.3L1568.3 325.2L1569.1 325.1L1570.0 324.9L1570.8 324.8L1571.7 324.7L1572.5 324.6L1573.4 324.5L1574.3 324.3L1575.1 324.2L1576.0 324.1L1576.8 323.9L1577.7 323.8L1578.5 323.7L1579.4 323.6L1580.3 323.5L1581.1 323.4L1582.0 323.4L1582.8 323.3L1583.7 323.2L1584.5 323.2L1585.4 323.1L1586.3 323.1L1587.1 323.1L1588.0 323.1L1588.8 323.1L1589.7 323.1L1590.5 323.2L1591.4 323.2L1592.3 323.2L1593.1 323.2L1594.0 323.2L1594.8 323.2L1595.7 323.2L1596.5 323.2L1597.4 323.2L1598.3 323.2L1599.1 323.2L1600.0 323.2L1600.8 323.2L1601.7 323.2L1602.5 323.2L1603.4 323.2L1604.3 323.2L1605.1 323.3L1606.0 323.3L1606.8 323.4L1607.7 323.4L1608.5 323.5L1609.4 323.6L1610.3 323.7L1611.1 323.8L1612.0 323.9L1612.8 324.0L1613.7 324.1L1614.5 324.2L1615.4 324.3L1616.3 324.4L1617.1 324.6L1618.0 324.7L1618.8 324.8L1619.7 324.9L1620.5 325.0L1621.4 325.2L1622.3 325.3L1623.1 325.4L1624.0 325.5L1624.8 325.7L1625.7 325.8L1626.5 325.9L1627.4 326.0L1628.3 326.2L1629.1 326.3L1630.0 326.4L1630.8 326.6L1631.7 326.7L1632.5 326.9L1633.4 327.0L1634.3 327.2L1635.1 327.3L1636.0 327.5L1636.8 327.6L1637.7 327.8L1638.5 327.9L1639.4 328.1L1640.3 328.2L1641.1 328.4L1642.0 328.6L1642.8 328.7L1643.7 328.9L1644.5 329.1L1645.4 329.3L1646.3 329.5L1647.1 329.7L1648.0 329.8L1648.8 330.0L1649.7 330.2L1650.5 330.4L1651.4 330.7L1652.3 330.9L1653.1 331.1L1654.0 331.3L1654.8 331.5L1655.7 331.7L1656.5 332.0L1657.4 332.2L1658.3 332.4L1659.1 332.7L1660.0 332.9L1660.8 333.1L1661.7 333.4L1662.5 333.6L1663.4 333.9L1664.3 334.1L1665.1 334.4L1666.0 334.6L1666.8 334.9L1667.7 335.1L1668.5 335.4L1669.4 335.7L1670.3 335.9L1671.1 336.2L1672.0 336.5L1672.8 336.7L1673.7 337.0L1674.5 337.3L1675.4 337.6L1676.3 337.9L1677.1 338.2L1678.0 338.5L1678.8 338.8L1679.7 339.1L1680.5 339.4L1681.4 339.8L1682.2 340.0L1682.9 340.3L1683.7 340.6L1684.4 340.9L1685.2 341.2L1685.9 341.5L1686.7 341.8L1687.4 342.1L1688.2 342.4L1688.9 342.7L1689.7 343.1L1690.4 343.4L1691.2 343.7L1691.9 344.1L1692.7 344.4L1693.4 344.7L1694.2 345.1L1694.9 345.4L1695.7 345.8L1696.4 346.2L1697.2 346.5L1697.9 346.9L1698.7 347.3L1699.4 347.7L1700.2 348.1L1700.9 348.5L1701.7 348.8L1702.4 349.2L1703.2 349.6L1703.9 350.0L1704.7 350.5L1705.4 350.9L1706.2 351.3L1706.9 351.7L1707.7 352.1L1708.4 352.5L1709.2 352.9L1709.9 353.3L1710.7 353.8L1711.4 354.2L1712.2 354.6L1712.9 355.0L1713.7 355.4L1714.4 355.9L1715.2 356.3L1715.9 356.7L1716.7 357.1L1717.4 357.5L1718.2 358.0L1718.9 358.4L1719.7 358.8L1720.4 359.2L1721.2 359.6L1721.9 360.0L1722.7 360.5L1723.4 360.9L1724.2 361.3L1724.9 361.7L1725.7 362.1L1726.4 362.5L1727.2 362.9L1727.9 363.3L1728.7 363.7L1729.4 364.1L1730.2 364.5L1730.9 364.9L1731.7 365.3L1732.4 365.7L1733.2 366.1L1733.9 366.5L1734.7 366.9L1735.4 367.3L1736.2 367.7L1736.9 368.1L1737.7 368.5L1738.4 368.9L1739.2 369.3L1739.9 369.7L1740.7 370.1L1741.4 370.5L1742.2 370.9L1742.9 371.3L1743.7 371.7L1744.4 372.2L1745.2 372.6L1745.9 373.0L1746.7 373.4L1747.4 373.8L1748.2 374.2L1748.9 374.6L1749.7 375.0L1750.4 375.4L1751.2 375.8L1751.9 376.1L1752.7 376.5L1753.4 376.9L1754.2 377.3L1754.9 377.7L1755.7 378.1L1756.4 378.5L1757.2 378.9L1757.9 379.2L1758.7 379.6L1759.4 380.0L1760.2 380.3L1760.9 380.7L1761.7 381.1L1762.4 381.4L1763.2 381.8L1763.9 382.1L1764.7 382.5L1765.4 382.8L1766.2 383.2L1766.9 383.5L1767.7 383.9L1768.4 384.2L1769.2 384.5L1769.9 384.9L1770.7 385.2L1771.4 385.5L1772.2 385.9L1772.9 386.2L1773.7 386.5L1774.4 386.8L1775.2 387.1L1775.9 387.4L1776.7 387.8L1777.4 388.1L1778.2 388.4L1778.9 388.7L1779.7 389.0L1780.4 389.3L1781.2 389.6L1781.9 389.9L1782.7 390.2L1783.4 390.5L1784.2 390.8L1784.9 391.1L1785.7 391.4L1786.4 391.7L1787.2 392.0L1787.9 392.3L1788.7 392.6L1789.4 392.9L1790.2 393.2L1790.9 393.5L1791.7 393.7L1792.4 394.0L1793.2 394.3L1793.9 394.6L1794.7 394.9L1795.4 395.2L1796.3 395.5L1797.1 395.8L1798.0 396.1L1798.8 396.4L1799.7 396.7L1800.5 397.1L1801.4 397.4L1802.3 397.7L1803.1 398.0L1804.0 398.4L1804.8 398.7L1805.7 399.0L1806.5 399.3L1807.4 399.5L1808.3 399.7L1809.1 399.8L1810.0 399.9L1810.8 400.0L1811.7 400.1L1812.5 400.1L1813.4 400.1L1814.3 400.1L1815.1 400.0L1816.0 399.9L1816.8 399.8L1817.7 399.7L1818.5 399.6L1819.4 399.4L1820.3 399.3L1821.1 399.2L1822.0 399.0L1822.8 398.9L1823.7 398.7L1824.5 398.5L1825.4 398.4L1826.3 398.2L1827.1 398.0L1828.0 397.8L1828.8 397.6L1829.7 397.4L1830.5 397.2L1831.4 396.9L1832.3 396.7L1833.1 396.4L1834.0 396.2L1834.8 395.9L1835.7 395.6L1836.5 395.4L1837.4 395.1L1838.2 394.8L1838.9 394.5L1839.7 394.2L1840.4 393.9L1841.2 393.7L1841.9 393.4L1842.7 393.0L1843.4 392.7L1844.2 392.4L1844.9 392.1L1845.7 391.7L1846.4 391.4L1847.2 391.1L1847.9 390.7L1848.7 390.4L1849.4 390.0L1850.2 389.6L1850.9 389.2L1851.7 388.9L1852.4 388.5L1853.2 388.1L1853.9 387.7L1854.7 387.3L1855.4 386.9L1856.2 386.5L1856.9 386.1L1857.7 385.7L1858.4 385.3L1859.2 384.9L1859.9 384.5L1860.7 384.0L1861.4 383.6L1862.2 383.2L1862.9 382.8L1863.7 382.3L1864.4 381.9L1865.2 381.4L1865.9 381.0L1866.7 380.5L1867.4 380.1L1868.2 379.6L1868.9 379.2L1869.7 378.7L1870.4 378.2L1871.2 377.8L1871.9 377.3L1872.7 376.8L1873.4 376.4L1874.2 375.9L1874.9 375.4L1875.7 374.9L1876.4 374.5L1877.2 374.0L1877.9 373.5L1878.7 373.0L1879.4 372.6L1880.2 372.1L1880.9 371.6L1881.7 371.1L1882.4 370.6L1883.2 370.2L1883.9 369.7L1884.7 369.2L1885.4 368.7L1886.2 368.3L1886.9 367.8L1887.7 367.3L1888.4 366.8L1889.2 366.4L1889.9 365.9L1890.7 365.4L1891.4 365.0L1892.2 364.5L1892.9 364.1L1893.7 363.6L1894.4 363.1L1895.2 362.7L1895.9 362.2L1896.7 361.8L1897.4 361.3L1898.2 360.9L1898.9 360.5L1899.7 360.0L1900.4 359.6L1901.2 359.2L1901.9 358.7L1902.7 358.3L1903.4 357.9L1904.2 357.4L1904.9 357.0L1905.7 356.6L1906.4 356.1L1907.2 355.7L1907.9 355.3L1908.7 354.8L1909.4 354.4L1910.2 354.0L1910.9 353.6L1911.7 353.2L1912.4 352.7L1913.2 352.3L1913.9 351.9L1914.7 351.5L1915.4 351.1L1916.2 350.6L1916.9 350.2L1917.7 349.8L1918.4 349.4L1919.2 349.0L1919.9 348.6L1920.7 348.2L1921.4 347.8L1922.2 347.4L1922.9 347.0L1923.7 346.6L1924.4 346.1L1925.2 345.7L1925.9 345.4L1926.7 345.0L1927.4 344.6L1928.2 344.2L1928.9 343.8L1929.7 343.4L1930.4 343.0L1931.2 342.6L1931.9 342.2L1932.7 341.8L1933.4 341.5L1934.2 341.1L1934.9 340.7L1935.7 340.3L1936.4 339.9L1937.2 339.6L1937.9 339.2L1938.7 338.8L1939.4 338.5L1940.2 338.1L1940.9 337.7L1941.7 337.3L1942.4 337.0L1943.2 336.6L1943.9 336.2L1944.7 335.9L1945.4 335.5L1946.2 335.2L1946.9 334.8L1947.7 334.4L1948.4 334.1L1949.2 333.7L1949.9 333.4L1950.7 333.0L1951.4 332.7L1952.2 332.3L1952.9 332.0L1953.7 331.6L1954.4 331.3L1955.2 330.9L1955.9 330.6L1956.7 330.2L1957.4 329.9L1958.2 329.6L1958.9 329.2L1959.7 328.9L1960.4 328.6L1961.2 328.3L1961.9 327.9L1962.7 327.6L1963.4 327.3L1964.2 327.0L1964.9 326.7L1965.7 326.4L1966.4 326.1L1967.2 325.8L1967.9 325.4L1968.7 325.1L1969.4 324.9L1970.2 324.6L1970.9 324.3L1971.7 324.0L1972.4 323.7L1973.2 323.4L1973.9 323.1L1974.7 322.9L1975.4 322.6L1976.3 322.3L1977.1 322.0L1978.0 321.7L1978.8 321.4L1979.7 321.1L1980.5 320.8L1981.4 320.5L1982.3 320.2L1983.1 319.9L1984.0 319.7L1984.8 319.4L1985.7 319.1L1986.5 318.8L1987.4 318.6L1988.3 318.3L1989.1 318.0L1990.0 317.8L1990.8 317.5L1991.7 317.3L1992.5 317.0L1993.4 316.8L1994.3 316.5L1995.1 316.3L1996.0 316.0L1996.8 315.8L1997.7 315.6L1998.5 315.3L1999.4 315.1L2000.3 314.9L2001.1 314.6L2002.0 314.4L2002.8 314.2L2003.7 314.0L2004.5 313.8L2005.4 313.6L2006.3 313.3L2007.1 313.1L2008.0 312.9L2008.8 312.7L2009.7 312.5L2010.5 312.3L2011.4 312.2L2012.3 312.0L2013.1 311.8L2014.0 311.6L2014.8 311.5L2015.7 311.3L2016.5 311.2L2017.4 311.0L2018.3 310.9L2019.1 310.7L2020.0 310.6L2020.8 310.4L2021.7 310.3L2022.5 310.2L2023.4 310.1L2024.3 309.9L2025.1 309.8L2026.0 309.7L2026.8 309.6L2027.7 309.5L2028.5 309.4L2029.4 309.3L2030.3 309.2L2031.1 309.1L2032.0 309.0L2032.8 308.9L2033.7 308.8L2034.5 308.7L2035.4 308.6L2036.3 308.5L2037.1 308.4L2038.0 308.3L2038.8 308.2L2039.7 308.1L2040.5 308.1L2041.4 308.0L2042.3 307.9L2043.1 307.8L2044.0 307.8L2044.8 307.7L2045.7 307.7L2046.5 307.7L2047.4 307.6L2048.3 307.6L2049.3 307.6L2050.3 307.6L2051.2 307.7L2052.1 307.7L2052.8 307.7L2053.4 307.7L2054.1 307.7L2054.0 307.7" fill="none" stroke="#0000ff" stroke-width="4" stroke-linejoin="round" stroke-linecap="butt"/>
<path clip-path="url(#ct)" d="M221.0 439.4L221.0 439.0L221.1 438.5L221.1 438.1L221.1 437.6L221.1 437.1L221.2 436.5L221.2 436.0L221.2 435.4L221.3 434.8L221.3 434.2L221.4 433.5L221.4 432.9L221.5 432.2L221.5 431.5L221.5 430.8L221.6 430.0L221.6 429.3L221.7 428.5L221.7 427.7L221.8 426.9L221.8 426.1L221.9 425.2L222.0 424.4L222.0 423.5L222.1 422.6L222.1 421.7L222.2 420.8L222.2 419.9L222.3 419.0L222.3 418.0L222.4 417.1L222.4 416.1L222.5 415.1L222.5 414.1L222.6 413.2L222.7 412.2L222.7 411.2L222.8 410.1L222.8 409.1L222.9 408.1L222.9 407.1L223.0 406.0L223.0 405.0L223.0 404.3L223.1 403.7L223.1 403.0L223.1 402.3L223.1 401.6L223.2 400.9L223.2 400.2L223.2 399.4L223.3 398.7L223.3 397.9L223.3 397.2L223.3 396.4L223.4 395.7L223.4 394.9L223.4 394.1L223.5 393.3L223.5 392.5L223.5 391.7L223.6 390.9L223.6 390.1L223.6 389.3L223.6 388.4L223.7 387.6L223.7 386.8L223.7 386.0L223.8 385.1L223.8 384.3L223.8 383.4L223.8 382.6L223.9 381.7L223.9 380.9L223.9 380.0L224.0 379.1L224.0 378.3L224.0 377.4L224.0 376.6L224.1 375.7L224.1 374.8L224.1 374.0L224.2 373.1L224.2 372.2L224.2 371.4L224.2 370.5L224.3 369.7L224.3 368.8L224.3 367.9L224.4 367.1L224.4 366.2L224.4 365.4L224.4 364.5L224.5 363.7L224.5 362.8L224.5 362.0L224.6 361.2L224.6 360.3L224.6 359.5L224.7 358.7L224.7 357.9L224.7 357.0L224.8 356.2L224.8 355.4L224.8 354.6L224.8 353.8L224.9 353.1L224.9 352.3L224.9 351.5L225.0 350.8L225.0 350.0L225.0 349.1L225.1 348.2L225.1 347.4L225.2 346.5L225.2 345.7L225.2 344.8L225.3 343.9L225.3 343.1L225.3 342.2L225.4 341.4L225.4 340.6L225.5 339.7L225.5 338.9L225.6 338.1L225.6 337.2L225.6 336.4L225.7 335.6L225.7 334.8L225.8 333.9L225.8 333.1L225.8 332.3L225.9 331.5L225.9 330.7L226.0 329.9L226.0 329.1L226.1 328.3L226.1 327.5L226.1 326.7L226.2 325.9L226.2 325.1L226.3 324.3L226.3 323.5L226.4 322.7L226.4 321.9L226.4 321.1L226.5 320.3L226.5 319.5L226.6 318.7L226.6 318.0L226.6 317.2L226.7 316.4L226.7 315.6L226.8 314.8L226.8 314.0L226.8 313.2L226.9 312.5L226.9 311.7L227.0 310.9L227.0 310.1L227.0 309.3L227.1 308.5L227.1 307.7L227.1 307.0L227.2 306.2L227.2 305.4L227.2 304.6L227.3 303.8L227.3 303.0L227.3 302.2L227.4 301.3L227.4 300.5L227.4 299.7L227.5 298.8L227.5 298.0L227.5 297.1L227.5 296.3L227.6 295.4L227.6 294.6L227.6 293.7L227.7 292.9L227.7 292.0L227.7 291.1L227.7 290.3L227.8 289.4L227.8 288.6L227.8 287.7L227.8 286.8L227.9 286.0L227.9 285.1L227.9 284.2L227.9 283.4L228.0 282.5L228.0 281.7L228.0 280.8L228.0 280.0L228.0 279.1L228.1 278.3L228.1 277.4L228.1 276.6L228.1 275.8L228.2 275.0L228.2 274.1L228.2 273.3L228.2 272.5L228.2 271.7L228.3 270.9L228.3 270.1L228.3 269.3L228.3 268.6L228.4 267.8L228.4 267.0L228.4 266.3L228.4 265.5L228.4 264.8L228.5 264.1L228.5 263.4L228.5 262.7L228.5 262.0L228.6 261.3L228.6 260.6L228.6 259.9L228.6 259.3L228.7 258.6L228.7 258.0L228.7 256.9L228.8 255.8L228.8 254.7L228.9 253.7L228.9 252.7L229.0 251.7L229.0 250.7L229.1 249.8L229.1 248.8L229.2 247.9L229.2 247.1L229.3 246.2L229.3 245.4L229.4 244.5L229.4 243.7L229.5 243.0L229.5 242.2L229.6 241.4L229.6 240.7L229.7 240.0L229.7 239.3L229.8 238.6L229.8 237.9L229.9 237.3L229.9 236.6L230.0 236.0L230.1 235.4L230.1 234.8L230.2 234.2L230.2 233.6L230.3 233.0L230.5 231.7L230.6 230.5L230.8 229.3L231.0 228.3L231.2 227.3L231.4 226.5L231.6 225.7L231.7 225.0L231.9 224.3L232.1 223.8L232.3 223.3L232.5 222.9L232.7 222.5L233.5 222.1L234.2 223.0L235.0 224.5L235.3 225.1L235.6 225.7L235.9 226.4L236.3 227.2L236.6 228.0L236.9 229.0L237.2 229.9L237.5 231.0L237.7 231.7L237.8 232.4L238.0 233.1L238.2 233.8L238.3 234.6L238.5 235.4L238.6 236.2L238.8 237.1L238.9 238.0L239.1 238.9L239.2 239.9L239.4 240.9L239.5 242.0L239.6 242.7L239.7 243.4L239.8 244.1L239.8 244.8L239.9 245.6L240.0 246.4L240.1 247.2L240.2 248.0L240.3 248.9L240.3 249.7L240.4 250.6L240.5 251.4L240.6 252.3L240.7 253.2L240.7 254.0L240.8 254.9L240.9 255.8L241.0 256.6L241.1 257.5L241.1 258.3L241.2 259.2L241.3 260.0L241.4 260.8L241.5 261.7L241.5 262.5L241.6 263.4L241.7 264.3L241.7 265.1L241.8 266.0L241.9 266.9L241.9 267.8L242.0 268.6L242.1 269.5L242.2 270.4L242.2 271.2L242.3 272.0L242.4 272.9L242.4 273.7L242.5 274.5L242.6 275.2L242.7 276.0L242.7 276.7L242.8 277.3L242.9 278.0L243.1 279.1L243.2 280.2L243.4 281.1L243.5 282.1L243.7 282.9L243.9 283.7L244.0 284.5L244.2 285.2L244.4 285.9L244.6 286.6L244.8 287.3L245.0 288.0L245.3 289.0L245.6 289.9L245.9 290.8L246.2 291.6L246.5 292.4L246.9 293.1L247.4 293.8L248.0 294.5L248.6 295.0L249.2 295.5L249.9 295.9L250.6 296.3L251.4 296.7L252.1 297.1L252.9 297.4L253.7 297.8L254.5 298.1L255.2 298.5L256.0 298.9L256.7 299.3L257.5 299.7L258.2 300.1L258.9 300.5L259.7 300.9L260.4 301.2L261.2 301.6L262.0 302.0L262.7 302.3L263.5 302.7L264.3 303.0L265.1 303.3L265.9 303.6L266.7 304.0L267.5 304.3L268.3 304.7L269.2 305.1L270.0 305.5L270.7 305.9L271.3 306.2L272.0 306.6L272.7 307.0L273.4 307.5L274.1 307.9L274.8 308.4L275.5 308.8L276.2 309.2L277.0 309.7L277.6 310.1L278.3 310.6L279.0 311.0L279.7 311.5L280.5 311.9L281.2 312.4L281.9 312.9L282.6 313.3L283.3 313.8L284.0 314.3L284.7 314.7L285.4 315.2L286.1 315.6L286.7 316.0L287.3 316.4L288.2 317.0L289.0 317.5L289.7 318.0L290.4 318.4L291.2 318.9L291.9 319.3L292.6 319.8L293.3 320.2L294.1 320.6L294.8 321.0L295.6 321.4L296.3 321.8L297.1 322.2L297.8 322.5L298.6 322.9L299.3 323.3L300.1 323.7L300.8 324.0L301.6 324.4L302.3 324.8L303.1 325.1L303.8 325.5L304.6 325.8L305.3 326.2L306.1 326.5L306.8 326.8L307.6 327.1L308.3 327.4L309.1 327.7L309.8 328.0L310.6 328.4L311.3 328.7L312.1 329.0L312.8 329.3L313.6 329.7L314.3 330.0L315.1 330.4L315.8 330.7L316.6 331.1L317.3 331.5L318.1 331.8L318.8 332.2L319.6 332.6L320.3 333.0L321.1 333.4L321.8 333.8L322.6 334.2L323.3 334.6L324.1 335.0L324.8 335.4L325.6 335.7L326.3 336.1L327.1 336.5L327.8 336.8L328.6 337.2L329.3 337.5L330.1 337.8L330.8 338.1L331.6 338.4L332.3 338.7L333.1 339.0L333.8 339.3L334.6 339.6L335.3 340.0L336.1 340.3L336.8 340.7L337.6 341.1L338.3 341.5L339.1 342.0L339.8 342.4L340.6 342.8L341.3 343.3L342.1 343.7L342.8 344.2L343.6 344.6L344.3 345.1L345.1 345.5L345.8 346.0L346.6 346.5L347.3 346.9L348.1 347.4L348.8 347.8L349.6 348.3L350.3 348.7L351.1 349.2L351.8 349.6L352.6 350.0L353.3 350.5L354.1 350.9L354.8 351.3L355.6 351.7L356.3 352.1L357.1 352.5L357.8 352.9L358.6 353.4L359.3 353.8L360.1 354.3L360.8 354.8L361.6 355.2L362.3 355.7L363.1 356.2L363.8 356.8L364.6 357.3L365.3 357.8L366.0 358.3L366.6 358.8L367.3 359.3L368.0 359.8L368.6 360.3L369.3 360.8L370.0 361.3L370.6 361.8L371.3 362.2L372.1 362.7L372.8 363.2L373.6 363.6L374.3 364.1L375.1 364.5L375.8 365.0L376.6 365.4L377.3 365.9L378.1 366.3L378.8 366.8L379.6 367.2L380.3 367.7L381.1 368.1L381.8 368.6L382.6 369.0L383.3 369.5L384.1 369.9L384.8 370.4L385.6 370.8L386.3 371.3L387.1 371.7L387.8 372.2L388.6 372.6L389.3 373.1L390.1 373.5L390.8 374.0L391.6 374.4L392.3 374.8L393.1 375.3L393.8 375.7L394.6 376.1L395.3 376.6L396.1 377.0L396.8 377.4L397.6 377.8L398.3 378.3L399.1 378.7L399.8 379.1L400.6 379.5L401.3 379.9L402.1 380.3L402.8 380.7L403.6 381.1L404.3 381.5L405.1 381.9L405.8 382.3L406.6 382.7L407.3 383.0L408.1 383.4L408.8 383.8L409.6 384.1L410.3 384.5L411.1 384.8L411.8 385.2L412.6 385.5L413.3 385.9L414.1 386.2L414.8 386.5L415.6 386.8L416.3 387.2L417.1 387.5L417.8 387.8L418.6 388.1L419.3 388.4L420.1 388.7L420.8 389.0L421.6 389.3L422.3 389.6L423.1 389.9L423.8 390.2L424.6 390.5L425.3 390.8L426.2 391.1L427.0 391.4L427.9 391.8L428.7 392.1L429.6 392.4L430.4 392.7L431.3 393.0L432.2 393.3L433.0 393.6L433.9 393.9L434.7 394.2L435.6 394.4L436.4 394.7L437.3 395.0L438.2 395.3L439.0 395.5L439.9 395.8L440.7 396.0L441.6 396.3L442.4 396.5L443.3 396.7L444.2 396.9L445.0 397.1L445.9 397.4L446.7 397.6L447.6 397.7L448.4 397.9L449.3 398.1L450.2 398.2L451.0 398.4L451.9 398.5L452.7 398.7L453.6 398.8L454.4 398.9L455.3 399.0L456.2 399.1L457.0 399.1L457.9 399.2L458.7 399.3L459.6 399.3L460.4 399.3L461.3 399.3L462.2 399.3L463.0 399.3L463.9 399.3L464.7 399.3L465.6 399.2L466.4 399.1L467.3 399.1L468.2 399.0L469.0 398.9L469.9 398.8L470.7 398.7L471.6 398.5L472.4 398.4L473.3 398.2L474.2 398.1L475.0 397.9L475.9 397.7L476.7 397.5L477.6 397.3L478.4 397.1L479.3 396.8L480.2 396.6L481.0 396.4L481.9 396.1L482.7 395.8L483.6 395.6L484.4 395.3L485.3 395.0L486.2 394.8L487.0 394.5L487.9 394.2L488.7 393.9L489.6 393.6L490.4 393.3L491.3 393.0L492.1 392.7L492.8 392.4L493.6 392.1L494.3 391.8L495.1 391.5L495.8 391.1L496.6 390.8L497.3 390.5L498.1 390.1L498.8 389.8L499.6 389.4L500.3 389.1L501.1 388.7L501.8 388.3L502.6 388.0L503.3 387.6L504.1 387.2L504.8 386.8L505.6 386.4L506.3 386.1L507.1 385.7L507.8 385.3L508.6 384.9L509.3 384.5L510.1 384.0L510.8 383.6L511.6 383.2L512.3 382.8L513.0 382.4L513.8 382.0L514.5 381.6L515.3 381.2L516.0 380.7L516.8 380.3L517.5 379.9L518.3 379.5L519.0 379.1L519.8 378.7L520.5 378.2L521.3 377.8L522.0 377.4L522.8 377.0L523.5 376.6L524.3 376.2L525.0 375.8L525.8 375.4L526.5 374.9L527.3 374.5L528.0 374.1L528.8 373.7L529.5 373.3L530.3 372.8L531.0 372.4L531.8 372.0L532.5 371.6L533.3 371.1L534.0 370.7L534.8 370.2L535.5 369.8L536.3 369.3L537.0 368.9L537.8 368.4L538.5 368.0L539.3 367.5L540.0 367.0L540.8 366.6L541.5 366.1L542.3 365.6L543.0 365.2L543.8 364.7L544.5 364.2L545.3 363.8L546.0 363.3L546.8 362.8L547.5 362.4L548.3 361.9L549.0 361.4L549.8 361.0L550.5 360.5L551.3 360.1L552.0 359.6L552.8 359.1L553.5 358.7L554.3 358.2L555.0 357.8L555.8 357.3L556.5 356.9L557.3 356.5L558.0 356.0L558.8 355.6L559.5 355.2L560.3 354.8L561.0 354.4L561.8 353.9L562.5 353.5L563.3 353.1L564.0 352.7L564.8 352.4L565.5 352.0L566.3 351.6L567.0 351.2L567.8 350.9L568.5 350.5L569.3 350.1L570.0 349.8L570.8 349.4L571.5 349.0L572.3 348.7L573.0 348.3L573.8 348.0L574.5 347.7L575.3 347.3L576.0 347.0L576.8 346.7L577.5 346.3L578.3 346.0L579.0 345.7L579.8 345.3L580.5 345.0L581.3 344.7L582.0 344.4L582.8 344.1L583.5 343.8L584.3 343.5L585.0 343.2L585.8 342.9L586.5 342.6L587.3 342.3L588.0 342.0L588.8 341.7L589.5 341.4L590.3 341.1L591.0 340.8L591.8 340.5L592.5 340.3L593.3 340.0L594.2 339.7L595.0 339.4L595.9 339.0L596.7 338.7L597.6 338.4L598.4 338.1L599.3 337.8L600.2 337.5L601.0 337.2L601.9 336.9L602.7 336.7L603.6 336.4L604.4 336.1L605.3 335.8L606.2 335.5L607.0 335.2L607.9 334.9L608.7 334.6L609.6 334.3L610.4 334.1L611.3 333.8L612.2 333.5L613.0 333.2L613.9 332.9L614.7 332.7L615.6 332.4L616.4 332.1L617.3 331.8L618.2 331.6L619.0 331.3L619.9 331.0L620.7 330.8L621.6 330.5L622.4 330.3L623.3 330.0L624.2 329.8L625.0 329.5L625.9 329.3L626.7 329.0L627.6 328.8L628.4 328.6L629.3 328.3L630.2 328.1L631.0 327.9L631.9 327.7L632.7 327.4L633.6 327.2L634.4 327.0L635.3 326.8L636.2 326.6L637.0 326.4L637.9 326.2L638.7 326.0L639.6 325.9L640.4 325.7L641.3 325.5L642.2 325.4L643.0 325.2L643.9 325.1L644.7 324.9L645.6 324.8L646.4 324.6L647.3 324.5L648.2 324.4L649.0 324.2L649.9 324.1L650.7 324.0L651.6 323.9L652.4 323.8L653.3 323.7L654.2 323.6L655.0 323.5L655.9 323.4L656.7 323.3L657.6 323.2L658.4 323.1L659.3 323.1L660.2 323.0L661.0 322.9L661.9 322.8L662.7 322.8L663.6 322.7L664.4 322.6L665.3 322.6L666.2 322.5L667.0 322.5L667.9 322.4L668.7 322.3L669.6 322.3L670.4 322.3L671.3 322.2L672.2 322.2L673.0 322.1L673.9 322.1L674.7 322.0L675.6 322.0L676.4 322.0L677.3 322.0L678.2 321.9L679.0 321.9L679.9 321.9L680.7 321.8L681.6 321.8L682.4 321.8L683.3 321.8L684.2 321.8L685.0 321.9L685.9 321.9L686.7 321.9L687.6 322.0L688.4 322.0L689.3 322.1L690.2 322.2L691.0 322.3L691.9 322.4L692.7 322.6L693.6 322.7L694.4 322.9L695.3 323.0L696.2 323.2L697.0 323.3L697.9 323.5L698.7 323.7L699.6 323.8L700.4 324.0L701.3 324.2L702.2 324.3L703.0 324.5L703.9 324.7L704.7 324.9L705.6 325.0L706.4 325.2L707.3 325.4L708.2 325.6L709.0 325.7L709.9 325.9L710.7 326.1L711.6 326.3L712.4 326.5L713.3 326.7L714.2 326.8L715.0 327.0L715.9 327.2L716.7 327.4L717.6 327.6L718.4 327.8L719.3 328.0L720.2 328.2L721.0 328.4L721.9 328.6L722.7 328.8L723.6 329.0L724.4 329.2L725.3 329.5L726.2 329.7L727.0 329.9L727.9 330.1L728.7 330.3L729.6 330.5L730.4 330.8L731.3 331.0L732.2 331.2L733.0 331.4L733.9 331.7L734.7 331.9L735.6 332.1L736.4 332.4L737.3 332.6L738.2 332.9L739.0 333.1L739.9 333.4L740.7 333.6L741.6 333.9L742.4 334.1L743.3 334.4L744.2 334.7L745.0 334.9L745.9 335.2L746.7 335.5L747.6 335.8L748.4 336.1L749.3 336.4L750.2 336.7L751.0 337.0L751.9 337.3L752.7 337.6L753.6 337.9L754.4 338.3L755.3 338.6L756.0 338.9L756.8 339.2L757.5 339.5L758.3 339.8L759.0 340.1L759.8 340.4L760.5 340.7L761.3 341.0L762.0 341.3L762.8 341.6L763.5 341.9L764.3 342.2L765.0 342.5L765.8 342.8L766.5 343.1L767.3 343.5L768.0 343.8L768.8 344.1L769.5 344.4L770.3 344.8L771.0 345.1L771.8 345.4L772.5 345.8L773.3 346.1L774.0 346.4L774.8 346.8L775.5 347.1L776.3 347.4L777.0 347.8L777.8 348.1L778.5 348.5L779.3 348.8L780.0 349.2L780.8 349.5L781.5 349.9L782.3 350.3L783.0 350.6L783.8 351.0L784.5 351.4L785.3 351.7L786.0 352.1L786.8 352.5L787.5 352.9L788.3 353.3L789.0 353.7L789.8 354.1L790.5 354.5L791.3 354.9L792.0 355.3L792.8 355.7L793.5 356.1L794.3 356.6L795.0 357.0L795.8 357.4L796.5 357.9L797.3 358.3L798.0 358.7L798.8 359.2L799.5 359.6L800.3 360.1L801.0 360.6L801.8 361.0L802.5 361.5L803.3 361.9L804.0 362.4L804.8 362.9L805.5 363.3L806.3 363.8L807.0 364.2L807.8 364.7L808.5 365.2L809.3 365.6L810.0 366.1L810.8 366.5L811.5 366.9L812.3 367.4L813.0 367.8L813.8 368.2L814.5 368.7L815.3 369.1L816.0 369.5L816.8 369.9L817.5 370.3L818.3 370.7L819.0 371.0L819.8 371.4L820.5 371.8L821.3 372.2L822.0 372.5L822.8 372.9L823.5 373.2L824.3 373.6L825.0 373.9L825.8 374.3L826.5 374.6L827.3 375.0L828.0 375.4L828.8 375.7L829.5 376.1L830.3 376.5L831.0 376.9L831.8 377.3L832.5 377.7L833.3 378.0L834.0 378.5L834.8 378.9L835.5 379.3L836.3 379.7L837.0 380.1L837.8 380.6L838.5 381.0L839.3 381.4L840.0 381.8L840.8 382.2L841.5 382.6L842.3 383.0L843.0 383.4L843.8 383.8L844.5 384.2L845.3 384.6L846.0 385.0L846.8 385.3L847.5 385.7L848.3 386.0L849.0 386.4L849.8 386.7L850.5 387.0L851.3 387.4L852.0 387.7L852.8 388.0L853.5 388.4L854.3 388.7L855.0 389.0L855.8 389.3L856.5 389.7L857.3 390.0L858.0 390.3L858.8 390.6L859.5 391.0L860.3 391.3L861.0 391.6L861.8 392.0L862.5 392.3L863.3 392.6L864.0 393.0L864.8 393.3L865.5 393.6L866.3 393.9L867.0 394.3L867.8 394.6L868.5 394.9L869.3 395.3L870.0 395.6L870.8 395.9L871.5 396.2L872.3 396.6L873.0 396.9L873.8 397.2L874.5 397.5L875.3 397.8L876.0 398.2L876.8 398.5L877.5 398.8L878.3 399.1L879.0 399.4L879.8 399.7L880.5 400.0L881.3 400.2L882.2 400.5L883.0 400.8L883.9 401.1L884.7 401.4L885.6 401.7L886.4 401.9L887.3 402.0L888.2 402.1L889.0 402.2L889.9 402.2L890.7 402.2L891.6 402.2L892.4 402.2L893.3 402.2L894.2 402.2L895.0 402.2L895.9 402.2L896.7 402.3L897.6 402.3L898.4 402.2L899.3 402.2L900.2 402.1L901.0 402.0L901.9 401.9L902.7 401.8L903.6 401.6L904.4 401.5L905.3 401.4L906.2 401.2L907.0 401.1L907.9 400.9L908.7 400.7L909.6 400.6L910.4 400.4L911.3 400.2L912.2 400.0L913.0 399.9L913.9 399.7L914.7 399.5L915.6 399.3L916.4 399.1L917.3 398.9L918.2 398.7L919.0 398.4L919.9 398.2L920.7 398.0L921.6 397.7L922.4 397.5L923.3 397.2L924.2 396.9L925.0 396.6L925.9 396.3L926.7 396.0L927.6 395.7L928.4 395.4L929.3 395.0L930.0 394.7L930.8 394.3L931.5 394.0L932.3 393.6L933.0 393.3L933.8 392.9L934.5 392.5L935.3 392.1L936.0 391.8L936.8 391.4L937.5 391.0L938.3 390.6L939.0 390.2L939.8 389.8L940.5 389.4L941.3 389.0L942.0 388.5L942.8 388.0L943.5 387.5L944.3 387.1L945.0 386.5L945.8 386.0L946.5 385.5L947.3 385.0L948.0 384.5L948.8 384.0L949.5 383.5L950.3 383.0L951.0 382.5L951.8 382.0L952.5 381.5L953.3 381.1L954.0 380.7L954.8 380.3L955.5 379.9L956.3 379.5L957.0 379.1L957.8 378.8L958.5 378.4L959.3 378.0L960.0 377.7L960.8 377.3L961.5 376.9L962.3 376.5L963.0 376.2L963.8 375.8L964.5 375.4L965.3 375.0L966.0 374.6L966.8 374.2L967.5 373.8L968.3 373.4L969.0 373.0L969.8 372.6L970.5 372.1L971.3 371.7L972.0 371.3L972.8 370.9L973.5 370.4L974.3 370.0L975.0 369.6L975.8 369.2L976.5 368.7L977.3 368.3L978.0 367.9L978.8 367.5L979.5 367.0L980.3 366.6L981.0 366.2L981.8 365.7L982.5 365.3L983.3 364.9L984.0 364.5L984.8 364.0L985.5 363.6L986.3 363.2L987.0 362.7L987.8 362.3L988.5 361.9L989.3 361.5L990.0 361.0L990.8 360.6L991.5 360.2L992.3 359.8L993.0 359.3L993.8 358.9L994.5 358.5L995.3 358.1L996.0 357.7L996.8 357.2L997.5 356.8L998.3 356.4L999.0 356.0L999.8 355.6L1000.5 355.1L1001.3 354.7L1002.0 354.3L1002.8 353.8L1003.5 353.3L1004.3 352.8L1005.0 352.4L1005.8 351.9L1006.5 351.4L1007.3 350.9L1008.0 350.4L1008.6 350.0L1009.3 349.5L1010.0 349.1L1010.6 348.6L1011.3 348.2L1012.0 347.7L1012.6 347.3L1013.3 346.8L1014.0 346.3L1014.8 345.9L1015.5 345.4L1016.3 344.9L1017.0 344.5L1017.8 344.0L1018.5 343.6L1019.3 343.2L1020.0 342.7L1020.8 342.3L1021.5 342.0L1022.3 341.6L1023.0 341.2L1023.8 340.8L1024.5 340.4L1025.3 340.1L1026.0 339.7L1026.8 339.3L1027.5 338.9L1028.3 338.5L1029.0 338.1L1029.8 337.7L1030.5 337.4L1031.3 337.0L1032.0 336.6L1032.8 336.2L1033.5 335.9L1034.3 335.5L1035.0 335.1L1035.8 334.7L1036.5 334.4L1037.3 334.0L1038.0 333.7L1038.8 333.3L1039.5 332.9L1040.3 332.6L1041.0 332.2L1041.8 331.9L1042.5 331.6L1043.3 331.2L1044.0 330.9L1044.8 330.6L1045.5 330.2L1046.3 329.9L1047.0 329.6L1047.8 329.3L1048.5 329.0L1049.3 328.7L1050.0 328.4L1050.8 328.1L1051.5 327.8L1052.3 327.5L1053.0 327.2L1053.8 326.9L1054.5 326.6L1055.3 326.3L1056.2 326.0L1057.0 325.7L1057.9 325.4L1058.7 325.1L1059.6 324.8L1060.4 324.5L1061.3 324.2L1062.2 323.9L1063.0 323.6L1063.9 323.3L1064.7 323.0L1065.6 322.7L1066.4 322.5L1067.3 322.2L1068.2 321.9L1069.0 321.6L1069.9 321.3L1070.7 321.0L1071.6 320.7L1072.4 320.4L1073.3 320.1L1074.2 319.8L1075.0 319.5L1075.9 319.1L1076.7 318.8L1077.6 318.5L1078.4 318.2L1079.3 317.9L1080.2 317.6L1081.0 317.3L1081.9 317.0L1082.7 316.7L1083.6 316.4L1084.4 316.0L1085.3 315.7L1086.2 315.4L1087.0 315.1L1087.9 314.8L1088.7 314.5L1089.6 314.3L1090.4 314.0L1091.3 313.7L1092.2 313.5L1093.0 313.3L1093.9 313.1L1094.7 312.9L1095.6 312.8L1096.4 312.6L1097.3 312.4L1098.2 312.3L1099.0 312.1L1099.9 312.0L1100.7 311.9L1101.6 311.8L1102.4 311.6L1103.3 311.5L1104.2 311.4L1105.0 311.3L1105.9 311.1L1106.7 311.0L1107.6 310.9L1108.4 310.8L1109.3 310.7L1110.2 310.5L1111.0 310.4L1111.9 310.3L1112.7 310.2L1113.6 310.1L1114.4 309.9L1115.3 309.8L1116.2 309.7L1117.0 309.6L1117.9 309.5L1118.7 309.4L1119.6 309.3L1120.4 309.2L1121.3 309.1L1122.2 309.0L1123.0 308.9L1123.9 308.8L1124.7 308.7L1125.6 308.6L1126.4 308.6L1127.3 308.5L1128.2 308.4L1129.0 308.4L1129.9 308.3L1130.7 308.2L1131.6 308.2L1132.4 308.1L1133.3 308.1L1134.2 308.1L1135.0 308.1L1135.9 308.0L1136.7 308.0L1137.6 308.0L1138.4 308.0L1139.3 308.0L1140.2 308.0L1141.0 308.1L1141.9 308.1L1142.7 308.1L1143.6 308.1L1144.4 308.2L1145.3 308.2L1146.2 308.2L1147.0 308.3L1147.9 308.3L1148.7 308.3L1149.6 308.4L1150.4 308.4L1151.3 308.5L1152.2 308.5L1153.0 308.6L1153.9 308.6L1154.7 308.6L1155.6 308.7L1156.4 308.8L1157.3 308.8L1158.2 308.9L1159.0 308.9L1159.9 309.0L1160.7 309.1L1161.6 309.1L1162.4 309.2L1163.3 309.3L1164.2 309.4L1165.0 309.4L1165.9 309.5L1166.7 309.6L1167.6 309.7L1168.4 309.8L1169.3 309.9L1170.2 310.0L1171.0 310.1L1171.9 310.2L1172.7 310.4L1173.6 310.5L1174.4 310.6L1175.3 310.7L1176.2 310.9L1177.0 311.1L1177.9 311.2L1178.7 311.4L1179.6 311.6L1180.4 311.8L1181.3 312.0L1182.2 312.2L1183.0 312.4L1183.9 312.6L1184.7 312.8L1185.6 313.1L1186.4 313.3L1187.3 313.6L1188.2 313.8L1189.0 314.1L1189.9 314.4L1190.7 314.6L1191.6 314.9L1192.4 315.2L1193.3 315.5L1194.2 315.8L1195.0 316.0L1195.9 316.3L1196.7 316.6L1197.6 316.9L1198.4 317.2L1199.3 317.4L1200.2 317.7L1201.0 318.0L1201.9 318.2L1202.7 318.5L1203.6 318.8L1204.4 319.0L1205.3 319.3L1206.2 319.5L1207.0 319.8L1207.9 320.0L1208.7 320.3L1209.6 320.5L1210.4 320.7L1211.3 321.0L1212.2 321.2L1213.0 321.4L1213.9 321.6L1214.7 321.8L1215.6 322.1L1216.4 322.3L1217.3 322.5L1218.2 322.7L1219.0 323.0L1219.9 323.2L1220.7 323.5L1221.6 323.7L1222.4 324.0L1223.3 324.2L1224.0 324.5L1224.8 324.7L1225.5 325.0L1226.3 325.3L1227.0 325.6L1227.8 325.9L1228.5 326.2L1229.3 326.5L1230.0 326.8L1230.8 327.1L1231.5 327.5L1232.3 327.8L1233.0 328.2L1233.8 328.5L1234.5 328.9L1235.3 329.3L1236.0 329.7L1236.8 330.1L1237.5 330.5L1238.3 330.9L1239.0 331.3L1239.8 331.8L1240.5 332.2L1241.3 332.6L1242.0 333.0L1242.8 333.4L1243.5 333.8L1244.3 334.2L1245.0 334.6L1245.8 335.0L1246.5 335.4L1247.3 335.8L1248.0 336.1L1248.8 336.5L1249.5 336.8L1250.3 337.2L1251.0 337.5L1251.8 337.9L1252.5 338.2L1253.3 338.6L1254.0 338.9L1254.8 339.2L1255.5 339.6L1256.3 339.9L1257.0 340.2L1257.8 340.6L1258.5 340.9L1259.3 341.2L1260.0 341.6L1260.8 341.9L1261.5 342.3L1262.3 342.6L1263.0 343.0L1263.8 343.4L1264.5 343.7L1265.3 344.1L1266.0 344.5L1266.8 344.9L1267.5 345.3L1268.3 345.8L1269.0 346.2L1269.8 346.6L1270.5 347.1L1271.3 347.5L1272.0 348.0L1272.8 348.4L1273.5 348.9L1274.3 349.4L1275.0 349.9L1275.8 350.4L1276.5 350.9L1277.3 351.4L1278.0 351.9L1278.6 352.3L1279.3 352.8L1280.0 353.2L1280.6 353.7L1281.3 354.2L1282.0 354.7L1282.6 355.1L1283.3 355.6L1284.0 356.1L1284.6 356.5L1285.3 357.0L1286.0 357.5L1286.6 358.0L1287.3 358.4L1288.0 358.9L1288.6 359.3L1289.3 359.8L1290.0 360.3L1290.8 360.8L1291.5 361.3L1292.3 361.8L1293.0 362.3L1293.8 362.8L1294.5 363.3L1295.3 363.8L1296.0 364.2L1296.8 364.7L1297.5 365.1L1298.3 365.6L1299.0 366.0L1299.8 366.5L1300.5 366.9L1301.3 367.3L1302.0 367.8L1302.8 368.3L1303.5 368.7L1304.3 369.2L1305.0 369.6L1305.8 370.1L1306.5 370.6L1307.3 371.1L1308.0 371.5L1308.8 372.0L1309.5 372.5L1310.3 373.0L1311.0 373.5L1311.8 374.0L1312.5 374.5L1313.3 375.0L1314.0 375.5L1314.6 375.9L1315.3 376.4L1316.0 376.8L1316.6 377.3L1317.3 377.8L1318.0 378.2L1318.6 378.7L1319.3 379.2L1320.0 379.7L1320.6 380.2L1321.3 380.7L1322.0 381.2L1322.6 381.7L1323.3 382.2L1324.0 382.8L1324.6 383.3L1325.3 383.8L1326.0 384.3L1326.6 384.8L1327.3 385.3L1328.0 385.8L1328.6 386.3L1329.3 386.8L1330.0 387.3L1330.6 387.7L1331.3 388.2L1332.0 388.6L1332.8 389.0L1333.5 389.4L1334.3 389.8L1335.0 390.1L1335.8 390.5L1336.5 390.8L1337.3 391.1L1338.0 391.5L1338.8 391.8L1339.5 392.2L1340.3 392.5L1341.0 392.8L1341.8 393.2L1342.5 393.5L1343.3 393.8L1344.0 394.1L1344.8 394.4L1345.5 394.7L1346.3 395.0L1347.0 395.3L1347.8 395.6L1348.5 395.8L1349.3 396.0L1350.2 396.3L1351.0 396.4L1351.9 396.6L1352.7 396.8L1353.6 396.9L1354.4 397.1L1355.3 397.2L1356.2 397.4L1357.0 397.6L1357.9 397.8L1358.7 398.1L1359.6 398.3L1360.4 398.4L1361.3 398.6L1362.2 398.7L1363.0 398.8L1363.9 398.9L1364.7 398.9L1365.6 399.0L1366.4 399.0L1367.3 399.0L1368.2 399.0L1369.0 399.0L1369.9 399.0L1370.7 398.9L1371.6 398.9L1372.4 398.8L1373.3 398.8L1374.2 398.8L1375.0 398.7L1375.9 398.7L1376.7 398.7L1377.6 398.7L1378.4 398.6L1379.3 398.6L1380.2 398.4L1381.0 398.3L1381.9 398.1L1382.7 397.9L1383.6 397.7L1384.4 397.5L1385.3 397.3L1386.2 397.1L1387.0 396.9L1387.9 396.6L1388.7 396.4L1389.6 396.1L1390.4 395.9L1391.3 395.6L1392.2 395.4L1393.0 395.1L1393.9 394.8L1394.7 394.6L1395.6 394.3L1396.4 394.0L1397.3 393.7L1398.0 393.4L1398.8 393.1L1399.5 392.7L1400.3 392.4L1401.0 392.1L1401.8 391.7L1402.5 391.4L1403.3 391.0L1404.0 390.7L1404.8 390.3L1405.5 390.0L1406.3 389.6L1407.0 389.2L1407.8 388.9L1408.5 388.5L1409.3 388.1L1410.0 387.8L1410.8 387.4L1411.5 387.1L1412.3 386.7L1413.0 386.3L1413.8 386.0L1414.5 385.6L1415.3 385.2L1416.0 384.8L1416.8 384.5L1417.5 384.1L1418.3 383.7L1419.0 383.3L1419.8 383.0L1420.5 382.6L1421.3 382.2L1422.0 381.8L1422.8 381.4L1423.5 381.0L1424.3 380.7L1425.0 380.3L1425.8 379.9L1426.5 379.5L1427.3 379.1L1428.0 378.7L1428.8 378.3L1429.5 377.9L1430.3 377.5L1431.0 377.1L1431.8 376.7L1432.5 376.3L1433.3 375.9L1434.0 375.5L1434.8 375.1L1435.5 374.7L1436.3 374.3L1437.0 373.9L1437.8 373.5L1438.5 373.1L1439.3 372.6L1440.0 372.2L1440.8 371.8L1441.5 371.4L1442.3 370.9L1443.0 370.5L1443.8 370.1L1444.5 369.6L1445.3 369.2L1446.0 368.7L1446.8 368.2L1447.5 367.8L1448.3 367.3L1449.0 366.8L1449.8 366.3L1450.5 365.8L1451.3 365.3L1452.0 364.9L1452.6 364.4L1453.3 363.9L1454.0 363.5L1454.6 363.0L1455.3 362.6L1456.0 362.1L1456.6 361.6L1457.3 361.2L1458.0 360.7L1458.8 360.2L1459.5 359.7L1460.3 359.3L1461.0 358.8L1461.8 358.3L1462.5 357.9L1463.3 357.4L1464.0 357.0L1464.8 356.5L1465.5 356.1L1466.3 355.7L1467.0 355.3L1467.8 354.9L1468.5 354.5L1469.3 354.1L1470.0 353.8L1470.8 353.4L1471.5 353.1L1472.3 352.7L1473.0 352.4L1473.8 352.1L1474.5 351.7L1475.3 351.4L1476.0 351.1L1476.8 350.8L1477.5 350.5L1478.3 350.2L1479.0 349.9L1479.8 349.6L1480.5 349.4L1481.3 349.1L1482.2 348.8L1483.0 348.4L1483.9 348.1L1484.7 347.8L1485.6 347.5L1486.4 347.2L1487.3 346.9L1488.0 346.6L1488.8 346.3L1489.5 346.0L1490.3 345.8L1491.0 345.5L1491.8 345.2L1492.5 344.9L1493.3 344.6L1494.0 344.3L1494.8 343.9L1495.5 343.6L1496.3 343.3L1497.0 342.9L1497.8 342.6L1498.5 342.2L1499.3 341.9L1500.0 341.6L1500.8 341.2L1501.5 340.9L1502.3 340.5L1503.0 340.2L1503.8 339.8L1504.5 339.5L1505.3 339.1L1506.0 338.8L1506.8 338.4L1507.5 338.1L1508.3 337.7L1509.0 337.4L1509.8 337.0L1510.5 336.7L1511.3 336.4L1512.2 336.1L1513.0 335.8L1513.9 335.5L1514.7 335.2L1515.6 334.9L1516.4 334.6L1517.3 334.3L1518.2 334.1L1519.0 333.8L1519.9 333.6L1520.7 333.4L1521.6 333.1L1522.4 332.9L1523.3 332.7L1524.2 332.4L1525.0 332.1L1525.9 331.9L1526.7 331.6L1527.6 331.3L1528.4 331.1L1529.3 330.8L1530.2 330.5L1531.0 330.2L1531.9 329.8L1532.7 329.5L1533.6 329.2L1534.4 328.9L1535.3 328.6L1536.2 328.3L1537.0 328.0L1537.9 327.8L1538.7 327.5L1539.6 327.3L1540.4 327.0L1541.3 326.8L1542.2 326.6L1543.0 326.3L1543.9 326.1L1544.7 325.9L1545.6 325.7L1546.4 325.5L1547.3 325.3L1548.2 325.2L1549.0 325.0L1549.9 324.8L1550.7 324.7L1551.6 324.5L1552.4 324.3L1553.3 324.2L1554.2 324.0L1555.0 323.9L1555.9 323.7L1556.7 323.6L1557.6 323.5L1558.4 323.3L1559.3 323.2L1560.2 323.1L1561.0 323.0L1561.9 322.8L1562.7 322.7L1563.6 322.6L1564.4 322.5L1565.3 322.4L1566.2 322.2L1567.0 322.1L1567.9 322.0L1568.7 321.9L1569.6 321.8L1570.4 321.7L1571.3 321.5L1572.2 321.4L1573.0 321.3L1573.9 321.2L1574.7 321.0L1575.6 320.9L1576.4 320.8L1577.3 320.7L1578.2 320.6L1579.0 320.5L1579.9 320.4L1580.7 320.3L1581.6 320.2L1582.4 320.2L1583.3 320.1L1584.2 320.1L1585.0 320.0L1585.9 320.0L1586.7 320.0L1587.6 320.0L1588.4 320.0L1589.3 320.0L1590.2 320.1L1591.0 320.1L1591.9 320.1L1592.7 320.1L1593.6 320.2L1594.4 320.2L1595.3 320.2L1596.2 320.2L1597.0 320.2L1597.9 320.2L1598.7 320.2L1599.6 320.2L1600.4 320.2L1601.3 320.3L1602.2 320.3L1603.0 320.3L1603.9 320.4L1604.7 320.4L1605.6 320.5L1606.4 320.5L1607.3 320.6L1608.2 320.7L1609.0 320.7L1609.9 320.8L1610.7 320.9L1611.6 321.0L1612.4 321.1L1613.3 321.2L1614.2 321.4L1615.0 321.5L1615.9 321.6L1616.7 321.7L1617.6 321.8L1618.4 321.9L1619.3 322.0L1620.2 322.2L1621.0 322.3L1621.9 322.4L1622.7 322.5L1623.6 322.6L1624.4 322.7L1625.3 322.8L1626.2 323.0L1627.0 323.1L1627.9 323.2L1628.7 323.3L1629.6 323.5L1630.4 323.6L1631.3 323.7L1632.2 323.8L1633.0 324.0L1633.9 324.1L1634.7 324.2L1635.6 324.4L1636.4 324.5L1637.3 324.6L1638.2 324.8L1639.0 324.9L1639.9 325.1L1640.7 325.2L1641.6 325.4L1642.4 325.5L1643.3 325.7L1644.2 325.8L1645.0 326.0L1645.9 326.2L1646.7 326.3L1647.6 326.5L1648.4 326.7L1649.3 326.9L1650.2 327.0L1651.0 327.2L1651.9 327.4L1652.7 327.6L1653.6 327.8L1654.4 328.1L1655.3 328.3L1656.2 328.5L1657.0 328.7L1657.9 328.9L1658.7 329.1L1659.6 329.3L1660.4 329.6L1661.3 329.8L1662.2 330.0L1663.0 330.3L1663.9 330.5L1664.7 330.8L1665.6 331.0L1666.4 331.3L1667.3 331.5L1668.2 331.8L1669.0 332.0L1669.9 332.3L1670.7 332.6L1671.6 332.8L1672.4 333.1L1673.3 333.4L1674.2 333.6L1675.0 333.9L1675.9 334.2L1676.7 334.4L1677.6 334.7L1678.4 335.0L1679.3 335.3L1680.2 335.5L1681.0 335.8L1681.9 336.1L1682.7 336.4L1683.6 336.7L1684.4 336.9L1685.3 337.2L1686.2 337.5L1687.0 337.8L1687.9 338.1L1688.7 338.4L1689.6 338.7L1690.4 339.1L1691.3 339.4L1692.0 339.7L1692.8 340.0L1693.5 340.3L1694.3 340.6L1695.0 340.9L1695.8 341.2L1696.5 341.6L1697.3 341.9L1698.0 342.2L1698.8 342.6L1699.5 342.9L1700.3 343.3L1701.0 343.7L1701.8 344.0L1702.5 344.4L1703.3 344.8L1704.0 345.2L1704.8 345.6L1705.5 346.0L1706.3 346.4L1707.0 346.8L1707.8 347.2L1708.5 347.6L1709.3 348.0L1710.0 348.5L1710.8 348.9L1711.5 349.3L1712.3 349.8L1713.0 350.3L1713.8 350.7L1714.5 351.2L1715.3 351.7L1716.0 352.1L1716.6 352.6L1717.3 353.0L1718.0 353.5L1718.6 353.9L1719.3 354.3L1720.0 354.8L1720.6 355.2L1721.3 355.7L1722.0 356.1L1722.6 356.6L1723.3 357.0L1724.0 357.5L1724.6 357.9L1725.3 358.4L1726.0 358.8L1726.6 359.3L1727.3 359.7L1728.0 360.2L1728.6 360.6L1729.3 361.1L1730.0 361.5L1730.6 362.0L1731.3 362.4L1732.0 362.9L1732.6 363.3L1733.3 363.7L1734.0 364.2L1734.8 364.7L1735.5 365.2L1736.3 365.7L1737.0 366.2L1737.8 366.7L1738.5 367.1L1739.3 367.6L1740.0 368.1L1740.8 368.5L1741.5 369.0L1742.3 369.4L1743.0 369.8L1743.8 370.3L1744.5 370.7L1745.3 371.1L1746.0 371.5L1746.8 372.0L1747.5 372.4L1748.3 372.8L1749.0 373.1L1749.8 373.5L1750.5 373.9L1751.3 374.3L1752.0 374.7L1752.8 375.1L1753.5 375.5L1754.3 375.8L1755.0 376.2L1755.8 376.6L1756.5 377.0L1757.3 377.3L1758.0 377.7L1758.8 378.1L1759.5 378.4L1760.3 378.8L1761.0 379.1L1761.8 379.5L1762.5 379.8L1763.3 380.2L1764.0 380.5L1764.8 380.9L1765.5 381.2L1766.3 381.5L1767.0 381.9L1767.8 382.2L1768.5 382.5L1769.3 382.8L1770.0 383.2L1770.8 383.5L1771.5 383.8L1772.3 384.1L1773.0 384.4L1773.8 384.7L1774.5 385.0L1775.3 385.3L1776.0 385.6L1776.8 385.9L1777.5 386.2L1778.3 386.5L1779.0 386.8L1779.8 387.1L1780.5 387.4L1781.3 387.7L1782.0 388.0L1782.8 388.3L1783.5 388.6L1784.3 388.9L1785.0 389.2L1785.8 389.5L1786.5 389.8L1787.3 390.1L1788.2 390.4L1789.0 390.7L1789.9 391.0L1790.7 391.3L1791.6 391.6L1792.4 391.9L1793.3 392.2L1794.2 392.4L1795.0 392.6L1795.9 392.7L1796.7 392.9L1797.6 393.0L1798.4 393.2L1799.3 393.4L1800.2 393.5L1801.0 393.7L1801.9 393.9L1802.7 394.1L1803.6 394.3L1804.4 394.5L1805.3 394.8L1806.2 395.0L1807.0 395.3L1807.9 395.6L1808.7 395.8L1809.6 396.1L1810.4 396.3L1811.3 396.4L1812.2 396.5L1813.0 396.5L1813.9 396.5L1814.7 396.4L1815.6 396.3L1816.4 396.2L1817.3 396.2L1818.2 396.1L1819.0 396.0L1819.9 396.0L1820.7 395.9L1821.6 395.8L1822.4 395.7L1823.3 395.6L1824.2 395.5L1825.0 395.3L1825.9 395.2L1826.7 395.0L1827.6 394.8L1828.4 394.7L1829.3 394.5L1830.2 394.3L1831.0 394.1L1831.9 393.8L1832.7 393.6L1833.6 393.4L1834.4 393.1L1835.3 392.9L1836.2 392.6L1837.0 392.4L1837.9 392.1L1838.7 391.9L1839.6 391.6L1840.4 391.4L1841.3 391.1L1842.2 390.8L1843.0 390.5L1843.9 390.2L1844.7 389.9L1845.6 389.6L1846.4 389.2L1847.3 388.9L1848.0 388.6L1848.8 388.3L1849.5 388.0L1850.3 387.7L1851.0 387.3L1851.8 387.0L1852.5 386.7L1853.3 386.3L1854.0 386.0L1854.8 385.6L1855.5 385.2L1856.3 384.8L1857.0 384.5L1857.8 384.1L1858.5 383.7L1859.3 383.3L1860.0 382.9L1860.8 382.5L1861.5 382.1L1862.3 381.7L1863.0 381.3L1863.8 380.9L1864.5 380.5L1865.3 380.1L1866.0 379.7L1866.8 379.4L1867.5 379.0L1868.3 378.6L1869.0 378.2L1869.8 377.9L1870.5 377.5L1871.3 377.1L1872.0 376.7L1872.8 376.3L1873.5 375.9L1874.3 375.5L1875.0 375.1L1875.8 374.7L1876.5 374.3L1877.3 373.8L1878.0 373.4L1878.8 372.9L1879.5 372.5L1880.3 372.0L1881.0 371.5L1881.8 371.0L1882.5 370.5L1883.3 370.1L1884.0 369.6L1884.8 369.1L1885.5 368.7L1886.3 368.2L1887.0 367.7L1887.8 367.2L1888.5 366.8L1889.3 366.3L1890.0 365.8L1890.8 365.4L1891.5 364.9L1892.3 364.4L1893.0 364.0L1893.8 363.5L1894.5 363.1L1895.3 362.6L1896.0 362.1L1896.8 361.7L1897.5 361.3L1898.3 360.8L1899.0 360.4L1899.8 359.9L1900.5 359.5L1901.3 359.1L1902.0 358.6L1902.8 358.2L1903.5 357.8L1904.3 357.3L1905.0 356.9L1905.8 356.5L1906.5 356.0L1907.3 355.6L1908.0 355.2L1908.8 354.8L1909.5 354.3L1910.3 353.9L1911.0 353.5L1911.8 353.1L1912.5 352.6L1913.3 352.2L1914.0 351.8L1914.8 351.4L1915.5 351.0L1916.3 350.6L1917.0 350.1L1917.8 349.7L1918.5 349.3L1919.3 348.9L1920.0 348.5L1920.8 348.1L1921.5 347.7L1922.3 347.3L1923.0 346.9L1923.8 346.5L1924.5 346.1L1925.3 345.7L1926.0 345.3L1926.8 344.9L1927.5 344.5L1928.3 344.1L1929.0 343.7L1929.8 343.3L1930.5 342.9L1931.3 342.5L1932.0 342.1L1932.8 341.8L1933.5 341.4L1934.3 341.0L1935.0 340.6L1935.8 340.3L1936.5 339.9L1937.3 339.5L1938.0 339.1L1938.8 338.8L1939.5 338.4L1940.3 338.0L1941.0 337.6L1941.8 337.3L1942.5 336.9L1943.3 336.5L1944.0 336.2L1944.8 335.8L1945.5 335.4L1946.3 335.1L1947.0 334.7L1947.8 334.4L1948.5 334.0L1949.3 333.6L1950.0 333.3L1950.8 332.9L1951.5 332.6L1952.3 332.2L1953.0 331.9L1953.8 331.5L1954.5 331.2L1955.3 330.9L1956.0 330.5L1956.8 330.2L1957.5 329.8L1958.3 329.5L1959.0 329.2L1959.8 328.8L1960.5 328.5L1961.3 328.2L1962.0 327.9L1962.8 327.6L1963.5 327.2L1964.3 326.9L1965.0 326.6L1965.8 326.3L1966.5 326.0L1967.3 325.7L1968.0 325.4L1968.8 325.1L1969.5 324.8L1970.3 324.5L1971.0 324.2L1971.8 323.9L1972.5 323.6L1973.3 323.4L1974.2 323.0L1975.0 322.7L1975.9 322.4L1976.7 322.1L1977.6 321.8L1978.4 321.5L1979.3 321.2L1980.2 320.9L1981.0 320.6L1981.9 320.3L1982.7 320.1L1983.6 319.8L1984.4 319.5L1985.3 319.2L1986.2 319.0L1987.0 318.7L1987.9 318.4L1988.7 318.2L1989.6 317.9L1990.4 317.6L1991.3 317.4L1992.2 317.1L1993.0 316.9L1993.9 316.6L1994.7 316.4L1995.6 316.1L1996.4 315.9L1997.3 315.7L1998.2 315.4L1999.0 315.2L1999.9 315.0L2000.7 314.7L2001.6 314.5L2002.4 314.3L2003.3 314.1L2004.2 313.9L2005.0 313.6L2005.9 313.4L2006.7 313.2L2007.6 313.0L2008.4 312.8L2009.3 312.6L2010.2 312.4L2011.0 312.2L2011.9 312.1L2012.7 311.9L2013.6 311.7L2014.4 311.5L2015.3 311.4L2016.2 311.2L2017.0 311.1L2017.9 310.9L2018.7 310.8L2019.6 310.6L2020.4 310.5L2021.3 310.4L2022.2 310.2L2023.0 310.1L2023.9 310.0L2024.7 309.9L2025.6 309.8L2026.4 309.7L2027.3 309.5L2028.2 309.4L2029.0 309.3L2029.9 309.2L2030.7 309.1L2031.6 309.0L2032.4 308.9L2033.3 308.8L2034.2 308.7L2035.0 308.6L2035.9 308.6L2036.7 308.5L2037.6 308.4L2038.4 308.3L2039.3 308.2L2040.2 308.1L2041.0 308.0L2041.9 307.9L2042.7 307.9L2043.6 307.8L2044.4 307.7L2045.3 307.7L2046.2 307.7L2047.1 307.7L2048.0 307.6L2049.0 307.6L2049.8 307.7L2050.6 307.7L2051.3 307.7L2052.5 307.7L2053.4 307.7L2054.0 307.7" fill="none" stroke="#ff00ff" stroke-width="4" stroke-linejoin="round" stroke-linecap="butt" stroke-dasharray="35 11 9.5 11" stroke-dashoffset="0"/>
<path clip-path="url(#ct)" d="M221.0 439.4L221.0 439.8L221.0 440.2L221.0 440.7L221.0 441.1L221.0 441.6L221.0 442.0L221.0 442.5L221.0 443.0L221.0 443.5L221.0 444.1L221.1 444.6L221.1 445.1L221.1 445.7L221.1 446.3L221.1 446.9L221.1 447.4L221.1 448.1L221.1 448.7L221.1 449.3L221.1 449.9L221.1 450.6L221.1 451.2L221.1 451.9L221.1 452.6L221.1 453.2L221.1 453.9L221.2 454.6L221.2 455.4L221.2 456.1L221.2 456.8L221.2 457.5L221.2 458.3L221.2 459.0L221.2 459.8L221.2 460.6L221.2 461.4L221.2 462.1L221.2 462.9L221.2 463.7L221.2 464.5L221.3 465.4L221.3 466.2L221.3 467.0L221.3 467.8L221.3 468.7L221.3 469.5L221.3 470.4L221.3 471.2L221.3 472.1L221.3 473.0L221.3 473.9L221.3 474.7L221.4 475.6L221.4 476.5L221.4 477.4L221.4 478.3L221.4 479.2L221.4 480.1L221.4 481.0L221.4 482.0L221.4 482.9L221.4 483.8L221.4 484.7L221.5 485.7L221.5 486.6L221.5 487.5L221.5 488.5L221.5 489.4L221.5 490.4L221.5 491.3L221.5 492.3L221.5 493.2L221.5 494.2L221.5 495.1L221.6 496.1L221.6 497.0L221.6 498.0L221.6 499.0L221.6 499.9L221.6 500.9L221.6 501.8L221.6 502.8L221.6 503.8L221.6 504.7L221.7 505.7L221.7 506.6L221.7 507.6L221.7 508.6L221.7 509.5L221.7 510.5L221.7 511.4L221.7 512.4L221.7 513.3L221.7 514.3L221.8 515.2L221.8 516.2L221.8 517.1L221.8 518.1L221.8 519.0L221.8 520.0L221.8 520.9L221.8 521.8L221.8 522.8L221.8 523.7L221.9 524.6L221.9 525.5L221.9 526.5L221.9 527.4L221.9 528.3L221.9 529.2L221.9 530.1L221.9 531.0L221.9 531.9L221.9 532.8L222.0 533.6L222.0 534.5L222.0 535.4L222.0 536.2L222.0 537.1L222.0 538.0L222.0 538.8L222.0 539.6L222.0 540.5L222.0 541.3L222.1 542.1L222.1 542.9L222.1 543.7L222.1 544.5L222.1 545.3L222.1 546.1L222.1 546.9L222.1 547.7L222.1 548.4L222.1 549.2L222.2 549.9L222.2 550.7L222.2 551.4L222.2 552.1L222.2 552.8L222.2 553.5L222.2 554.2L222.2 554.9L222.2 555.6L222.2 556.2L222.3 556.9L222.3 557.5L222.3 558.2L222.3 558.8L222.3 559.4L222.3 560.0L222.3 561.2L222.3 562.5L222.4 563.7L222.4 564.9L222.4 566.1L222.4 567.3L222.4 568.5L222.5 569.7L222.5 570.8L222.5 572.0L222.5 573.1L222.5 574.3L222.6 575.4L222.6 576.5L222.6 577.6L222.6 578.7L222.6 579.8L222.7 580.9L222.7 582.0L222.7 583.0L222.7 584.1L222.7 585.1L222.8 586.1L222.8 587.2L222.8 588.2L222.8 589.1L222.8 590.1L222.9 591.1L222.9 592.0L222.9 593.0L222.9 593.9L222.9 594.8L223.0 595.7L223.0 596.6L223.0 597.4L223.0 598.3L223.0 599.1L223.1 600.0L223.1 600.8L223.1 601.6L223.1 602.3L223.2 603.1L223.2 603.8L223.2 604.6L223.2 605.3L223.2 606.0L223.3 606.7L223.3 607.4L223.3 608.0L223.3 608.6L223.3 609.3L223.4 609.9L223.4 610.4L223.4 611.0L223.4 611.6L223.4 612.1L223.5 612.6L223.5 613.1L223.5 613.6L223.5 614.0L223.6 614.5L223.6 614.9L223.6 615.3L223.6 615.7L223.6 616.0L223.7 616.4L223.7 616.7L223.7 617.0L223.7 617.3L223.8 617.5L223.8 617.8L223.8 618.0L223.8 618.4L223.9 618.7L223.9 618.9L224.0 619.0L224.0 619.1L224.1 619.0L224.1 618.9L224.2 618.7L224.2 618.4L224.3 618.1L224.3 617.7L224.4 617.2L224.4 616.6L224.5 616.0L224.5 615.3L224.6 614.5L224.6 613.7L224.7 612.8L224.7 611.9L224.8 610.9L224.8 609.8L224.9 608.7L224.9 607.5L225.0 606.3L225.0 605.0L225.1 603.7L225.1 602.3L225.2 600.9L225.2 599.5L225.3 598.0L225.3 596.5L225.4 594.9L225.4 593.3L225.5 591.7L225.5 590.0L225.5 589.5L225.5 588.9L225.5 588.4L225.6 587.8L225.6 587.3L225.6 586.7L225.6 586.1L225.6 585.5L225.6 584.9L225.6 584.3L225.7 583.7L225.7 583.1L225.7 582.4L225.7 581.8L225.7 581.1L225.7 580.5L225.7 579.8L225.8 579.2L225.8 578.5L225.8 577.8L225.8 577.1L225.8 576.4L225.8 575.7L225.8 575.0L225.8 574.3L225.9 573.6L225.9 572.8L225.9 572.1L225.9 571.4L225.9 570.6L225.9 569.9L225.9 569.1L226.0 568.3L226.0 567.6L226.0 566.8L226.0 566.0L226.0 565.2L226.0 564.4L226.0 563.6L226.1 562.8L226.1 562.0L226.1 561.2L226.1 560.4L226.1 559.6L226.1 558.8L226.1 558.0L226.1 557.1L226.2 556.3L226.2 555.5L226.2 554.6L226.2 553.8L226.2 552.9L226.2 552.1L226.2 551.2L226.2 550.4L226.3 549.5L226.3 548.6L226.3 547.8L226.3 546.9L226.3 546.0L226.3 545.2L226.3 544.3L226.4 543.4L226.4 542.5L226.4 541.6L226.4 540.8L226.4 539.9L226.4 539.0L226.4 538.1L226.4 537.2L226.5 536.3L226.5 535.4L226.5 534.5L226.5 533.6L226.5 532.7L226.5 531.8L226.5 530.9L226.6 530.0L226.6 529.1L226.6 528.3L226.6 527.4L226.6 526.5L226.6 525.6L226.6 524.7L226.6 523.8L226.7 522.9L226.7 522.0L226.7 521.1L226.7 520.2L226.7 519.3L226.7 518.4L226.7 517.5L226.7 516.6L226.8 515.7L226.8 514.8L226.8 513.9L226.8 513.0L226.8 512.2L226.8 511.3L226.8 510.4L226.9 509.5L226.9 508.6L226.9 507.8L226.9 506.9L226.9 506.0L226.9 505.1L226.9 504.3L226.9 503.4L227.0 502.6L227.0 501.7L227.0 500.8L227.0 500.0L227.0 499.2L227.0 498.5L227.0 497.7L227.0 496.9L227.1 496.2L227.1 495.4L227.1 494.6L227.1 493.8L227.1 493.1L227.1 492.3L227.1 491.5L227.1 490.7L227.2 489.9L227.2 489.1L227.2 488.3L227.2 487.5L227.2 486.7L227.2 486.0L227.2 485.2L227.2 484.3L227.3 483.5L227.3 482.7L227.3 481.9L227.3 481.1L227.3 480.3L227.3 479.5L227.3 478.7L227.3 477.9L227.4 477.1L227.4 476.3L227.4 475.4L227.4 474.6L227.4 473.8L227.4 473.0L227.4 472.2L227.4 471.3L227.5 470.5L227.5 469.7L227.5 468.9L227.5 468.0L227.5 467.2L227.5 466.4L227.5 465.6L227.5 464.7L227.5 463.9L227.6 463.1L227.6 462.2L227.6 461.4L227.6 460.6L227.6 459.8L227.6 458.9L227.6 458.1L227.6 457.3L227.7 456.4L227.7 455.6L227.7 454.8L227.7 453.9L227.7 453.1L227.7 452.3L227.7 451.5L227.7 450.6L227.8 449.8L227.8 449.0L227.8 448.1L227.8 447.3L227.8 446.5L227.8 445.6L227.8 444.8L227.8 444.0L227.9 443.2L227.9 442.3L227.9 441.5L227.9 440.7L227.9 439.9L227.9 439.0L227.9 438.2L227.9 437.4L228.0 436.6L228.0 435.8L228.0 434.9L228.0 434.1L228.0 433.3L228.0 432.5L228.0 431.7L228.0 430.9L228.0 430.1L228.1 429.2L228.1 428.4L228.1 427.6L228.1 426.8L228.1 426.0L228.1 425.2L228.1 424.4L228.1 423.6L228.2 422.8L228.2 422.0L228.2 421.2L228.2 420.5L228.2 419.7L228.2 418.9L228.2 418.1L228.2 417.3L228.2 416.5L228.3 415.8L228.3 415.0L228.3 414.2L228.3 413.4L228.3 412.7L228.3 411.9L228.3 411.1L228.3 410.4L228.4 409.6L228.4 408.9L228.4 408.1L228.4 407.4L228.4 406.6L228.4 405.9L228.4 405.1L228.4 404.4L228.4 403.6L228.5 402.9L228.5 402.2L228.5 401.4L228.5 400.7L228.5 400.0L228.5 399.1L228.5 398.2L228.5 397.3L228.6 396.4L228.6 395.5L228.6 394.6L228.6 393.7L228.6 392.9L228.6 392.0L228.6 391.1L228.7 390.2L228.7 389.3L228.7 388.5L228.7 387.6L228.7 386.7L228.7 385.8L228.7 385.0L228.7 384.1L228.8 383.2L228.8 382.4L228.8 381.5L228.8 380.6L228.8 379.8L228.8 378.9L228.8 378.1L228.9 377.2L228.9 376.4L228.9 375.5L228.9 374.7L228.9 373.8L228.9 373.0L228.9 372.2L228.9 371.3L229.0 370.5L229.0 369.6L229.0 368.8L229.0 368.0L229.0 367.2L229.0 366.3L229.0 365.5L229.1 364.7L229.1 363.9L229.1 363.0L229.1 362.2L229.1 361.4L229.1 360.6L229.1 359.8L229.1 359.0L229.2 358.2L229.2 357.4L229.2 356.6L229.2 355.8L229.2 355.0L229.2 354.2L229.2 353.4L229.2 352.6L229.3 351.8L229.3 351.0L229.3 350.2L229.3 349.5L229.3 348.7L229.3 347.9L229.3 347.1L229.3 346.3L229.4 345.6L229.4 344.8L229.4 344.0L229.4 343.3L229.4 342.5L229.4 341.8L229.4 341.0L229.4 340.2L229.5 339.5L229.5 338.7L229.5 338.0L229.5 337.2L229.5 336.5L229.5 335.8L229.5 335.0L229.5 334.3L229.6 333.5L229.6 332.8L229.6 332.1L229.6 331.3L229.6 330.6L229.6 329.9L229.6 329.2L229.6 328.5L229.7 327.7L229.7 327.0L229.7 326.3L229.7 325.6L229.7 324.9L229.7 324.2L229.7 323.5L229.7 322.8L229.8 322.1L229.8 321.4L229.8 320.7L229.8 320.0L229.8 319.0L229.8 318.1L229.9 317.1L229.9 316.2L229.9 315.2L229.9 314.3L229.9 313.3L229.9 312.4L230.0 311.4L230.0 310.5L230.0 309.6L230.0 308.6L230.0 307.7L230.0 306.8L230.0 305.8L230.1 304.9L230.1 304.0L230.1 303.1L230.1 302.1L230.1 301.2L230.1 300.3L230.2 299.4L230.2 298.5L230.2 297.6L230.2 296.7L230.2 295.9L230.2 295.0L230.3 294.1L230.3 293.2L230.3 292.3L230.3 291.5L230.3 290.6L230.3 289.8L230.3 288.9L230.4 288.1L230.4 287.2L230.4 286.4L230.4 285.6L230.4 284.8L230.4 284.0L230.5 283.2L230.5 282.4L230.5 281.6L230.5 280.8L230.5 280.0L230.5 279.2L230.6 278.5L230.6 277.7L230.6 277.0L230.6 276.2L230.6 275.5L230.6 274.7L230.7 274.0L230.7 273.3L230.7 272.6L230.7 271.9L230.7 271.2L230.7 270.5L230.8 269.9L230.8 269.2L230.8 268.6L230.8 267.9L230.8 267.3L230.8 266.7L230.9 266.0L230.9 265.4L230.9 264.8L230.9 264.2L230.9 263.7L231.0 263.1L231.0 262.5L231.0 262.0L231.1 260.5L231.1 259.1L231.2 257.7L231.2 256.5L231.3 255.3L231.3 254.3L231.4 253.2L231.5 252.3L231.5 251.4L231.6 250.6L231.7 249.8L231.7 249.1L231.8 248.4L231.9 247.8L231.9 247.2L232.0 246.6L232.1 246.0L232.1 245.5L232.2 245.0L232.3 244.5L232.3 244.0L232.4 243.5L232.5 243.0L232.5 242.5L232.6 242.0L232.9 240.3L233.1 238.8L233.4 237.6L233.6 236.7L233.9 236.1L234.2 235.9L234.5 236.0L234.7 236.2L234.9 236.6L235.1 237.2L235.3 237.8L235.5 238.6L235.7 239.4L235.9 240.4L236.1 241.4L236.4 242.5L236.6 243.6L236.8 244.8L237.0 246.0L237.1 246.6L237.2 247.3L237.3 248.0L237.4 248.8L237.6 249.5L237.7 250.3L237.8 251.1L237.9 251.9L238.0 252.8L238.1 253.6L238.2 254.5L238.3 255.4L238.4 256.3L238.6 257.1L238.7 258.0L238.8 258.9L238.9 259.8L239.0 260.7L239.1 261.6L239.2 262.5L239.3 263.3L239.4 264.2L239.5 265.0L239.6 265.8L239.7 266.7L239.8 267.5L239.9 268.4L239.9 269.3L240.0 270.1L240.1 271.0L240.2 271.9L240.3 272.8L240.4 273.6L240.4 274.5L240.5 275.4L240.6 276.2L240.7 277.1L240.8 277.9L240.8 278.7L240.9 279.5L241.0 280.3L241.1 281.1L241.2 281.9L241.3 282.6L241.4 283.3L241.5 284.0L241.7 285.0L241.8 286.0L242.0 286.9L242.1 287.8L242.3 288.7L242.5 289.5L242.6 290.4L242.8 291.1L243.0 291.9L243.2 292.6L243.4 293.3L243.7 294.0L243.9 294.7L244.2 295.4L244.5 296.0L245.0 296.9L245.5 297.7L246.0 298.5L246.6 299.3L247.2 300.0L247.8 300.6L248.5 301.3L249.1 301.8L249.7 302.3L250.4 302.7L251.0 303.0L251.9 303.3L252.7 303.3L253.6 303.2L254.5 303.0L255.4 302.8L256.3 302.5L257.1 302.2L258.0 302.0L258.8 301.8L259.7 301.6L260.5 301.4L261.3 301.1L262.1 300.9L262.9 300.7L263.8 300.5L264.6 300.4L265.4 300.4L266.3 300.4L267.2 300.4L268.0 300.5L268.9 300.6L269.8 300.7L270.6 300.8L271.4 300.8L272.3 300.8L273.2 300.7L274.0 300.6L274.9 300.5L275.7 300.4L276.5 300.4L277.4 300.6L278.1 300.9L278.9 301.2L279.6 301.6L280.4 302.1L281.1 302.5L281.9 303.0L282.6 303.5L283.4 304.0L284.1 304.5L284.9 304.9L285.6 305.4L286.4 305.9L287.1 306.4L287.9 306.8L288.6 307.3L289.4 307.8L290.1 308.2L290.9 308.7L291.6 309.2L292.4 309.7L293.1 310.1L293.9 310.6L294.6 311.0L295.4 311.5L296.1 311.9L296.9 312.4L297.6 312.8L298.4 313.2L299.1 313.7L299.9 314.1L300.6 314.5L301.4 315.0L302.1 315.4L302.9 315.9L303.6 316.4L304.4 316.8L305.1 317.3L305.9 317.8L306.6 318.3L307.4 318.8L308.1 319.2L308.7 319.7L309.4 320.2L310.1 320.7L310.7 321.2L311.4 321.7L312.1 322.1L312.7 322.6L313.4 323.1L314.1 323.5L314.7 324.0L315.4 324.5L316.1 324.9L316.7 325.3L317.4 325.8L318.1 326.2L318.7 326.6L319.4 327.1L320.1 327.5L320.9 328.0L321.6 328.4L322.4 328.9L323.1 329.3L323.9 329.7L324.6 330.2L325.4 330.6L326.1 331.1L326.9 331.5L327.6 332.0L328.4 332.5L329.1 332.9L329.9 333.4L330.6 333.9L331.4 334.4L332.1 334.8L332.9 335.3L333.6 335.8L334.4 336.3L335.1 336.8L335.9 337.3L336.6 337.8L337.4 338.3L338.1 338.8L338.9 339.3L339.6 339.7L340.4 340.2L341.1 340.7L341.9 341.1L342.6 341.6L343.4 342.0L344.1 342.5L344.9 342.9L345.6 343.4L346.4 343.8L347.1 344.3L347.9 344.7L348.6 345.1L349.4 345.6L350.1 346.0L350.9 346.4L351.6 346.8L352.4 347.3L353.1 347.7L353.9 348.1L354.6 348.5L355.4 348.9L356.1 349.3L356.9 349.7L357.6 350.1L358.4 350.5L359.1 350.9L359.9 351.3L360.6 351.8L361.4 352.2L362.1 352.7L362.7 353.1L363.4 353.6L364.1 354.1L364.7 354.6L365.4 355.1L366.1 355.6L366.7 356.0L367.4 356.5L368.1 357.0L368.7 357.4L369.4 357.9L370.1 358.3L370.7 358.8L371.4 359.3L372.1 359.7L372.7 360.1L373.4 360.6L374.1 361.0L374.9 361.5L375.6 361.9L376.4 362.4L377.1 362.8L377.9 363.3L378.6 363.7L379.4 364.1L380.1 364.6L380.9 365.0L381.6 365.5L382.4 365.9L383.1 366.4L383.9 366.8L384.6 367.3L385.4 367.7L386.1 368.2L386.9 368.6L387.6 369.1L388.4 369.5L389.1 369.9L389.9 370.4L390.6 370.8L391.4 371.3L392.1 371.7L392.9 372.1L393.6 372.6L394.4 373.0L395.1 373.4L395.9 373.8L396.6 374.3L397.4 374.7L398.1 375.1L398.9 375.5L399.6 375.9L400.4 376.3L401.1 376.7L401.9 377.1L402.6 377.5L403.4 377.9L404.1 378.3L404.9 378.7L405.6 379.1L406.4 379.4L407.1 379.8L407.9 380.2L408.6 380.5L409.4 380.9L410.1 381.2L410.9 381.6L411.6 381.9L412.4 382.2L413.1 382.6L413.9 382.9L414.6 383.2L415.4 383.5L416.1 383.8L416.9 384.1L417.6 384.4L418.4 384.7L419.1 385.0L419.9 385.3L420.6 385.6L421.4 385.9L422.1 386.2L422.9 386.5L423.6 386.8L424.4 387.1L425.1 387.4L425.9 387.7L426.6 387.9L427.4 388.2L428.3 388.5L429.1 388.8L430.0 389.1L430.8 389.4L431.7 389.7L432.5 390.0L433.4 390.3L434.3 390.6L435.1 390.9L436.0 391.1L436.8 391.4L437.7 391.7L438.5 391.9L439.4 392.2L440.3 392.4L441.1 392.7L442.0 392.9L442.8 393.1L443.7 393.3L444.5 393.6L445.4 393.8L446.3 394.0L447.1 394.1L448.0 394.3L448.8 394.5L449.7 394.7L450.5 394.8L451.4 395.0L452.3 395.1L453.1 395.2L454.0 395.3L454.8 395.4L455.7 395.5L456.5 395.6L457.4 395.7L458.3 395.7L459.1 395.8L460.0 395.8L460.8 395.8L461.7 395.8L462.5 395.8L463.4 395.8L464.3 395.8L465.1 395.8L466.0 395.7L466.8 395.7L467.7 395.6L468.5 395.5L469.4 395.4L470.3 395.3L471.1 395.2L472.0 395.0L472.8 394.9L473.7 394.7L474.5 394.6L475.4 394.4L476.3 394.2L477.1 394.0L478.0 393.8L478.8 393.6L479.7 393.4L480.5 393.2L481.4 392.9L482.3 392.7L483.1 392.4L484.0 392.2L484.8 391.9L485.7 391.6L486.5 391.4L487.4 391.1L488.3 390.8L489.1 390.5L490.0 390.2L490.8 389.9L491.7 389.6L492.5 389.3L493.4 389.0L494.1 388.7L494.9 388.4L495.6 388.1L496.4 387.7L497.1 387.4L497.9 387.1L498.6 386.7L499.4 386.4L500.1 386.0L500.9 385.7L501.6 385.3L502.4 385.0L503.1 384.6L503.9 384.2L504.6 383.8L505.4 383.5L506.1 383.1L506.9 382.7L507.6 382.3L508.4 381.9L509.1 381.5L509.9 381.1L510.6 380.7L511.4 380.3L512.1 379.9L512.9 379.5L513.6 379.1L514.4 378.7L515.1 378.2L515.9 377.8L516.6 377.4L517.4 377.0L518.1 376.6L518.9 376.2L519.6 375.7L520.4 375.3L521.1 374.9L521.9 374.5L522.6 374.1L523.4 373.7L524.1 373.3L524.9 372.9L525.6 372.5L526.4 372.0L527.1 371.6L527.9 371.2L528.6 370.8L529.4 370.4L530.1 370.0L530.9 369.6L531.6 369.1L532.4 368.7L533.1 368.3L533.9 367.8L534.6 367.4L535.4 367.0L536.1 366.5L536.9 366.1L537.6 365.6L538.4 365.2L539.1 364.7L539.9 364.3L540.6 363.8L541.4 363.4L542.1 362.9L542.9 362.5L543.6 362.0L544.4 361.6L545.1 361.1L545.9 360.6L546.6 360.2L547.4 359.7L548.1 359.3L548.9 358.8L549.6 358.4L550.4 357.9L551.1 357.5L551.9 357.0L552.6 356.6L553.4 356.2L554.1 355.7L554.9 355.3L555.6 354.9L556.4 354.4L557.1 354.0L557.9 353.6L558.6 353.2L559.4 352.8L560.1 352.4L560.9 352.0L561.6 351.6L562.4 351.2L563.1 350.8L563.9 350.4L564.6 350.0L565.4 349.7L566.1 349.3L566.9 348.9L567.6 348.6L568.4 348.2L569.1 347.9L569.9 347.5L570.6 347.2L571.4 346.8L572.1 346.5L572.9 346.2L573.6 345.8L574.4 345.5L575.1 345.2L575.9 344.8L576.6 344.5L577.4 344.2L578.1 343.9L578.9 343.6L579.6 343.3L580.4 342.9L581.1 342.6L581.9 342.3L582.6 342.0L583.4 341.7L584.1 341.4L584.9 341.1L585.6 340.8L586.4 340.5L587.1 340.3L587.9 340.0L588.6 339.7L589.4 339.4L590.3 339.1L591.1 338.8L592.0 338.5L592.8 338.1L593.7 337.8L594.5 337.5L595.4 337.2L596.3 336.9L597.1 336.6L598.0 336.3L598.8 336.0L599.7 335.7L600.5 335.4L601.4 335.1L602.3 334.8L603.1 334.5L604.0 334.2L604.8 334.0L605.7 333.7L606.5 333.4L607.4 333.1L608.3 332.8L609.1 332.5L610.0 332.3L610.8 332.0L611.7 331.7L612.5 331.4L613.4 331.2L614.3 330.9L615.1 330.6L616.0 330.4L616.8 330.1L617.7 329.8L618.5 329.6L619.4 329.3L620.3 329.1L621.1 328.8L622.0 328.6L622.8 328.3L623.7 328.1L624.5 327.9L625.4 327.6L626.3 327.4L627.1 327.2L628.0 327.0L628.8 326.7L629.7 326.5L630.5 326.3L631.4 326.1L632.3 325.9L633.1 325.7L634.0 325.5L634.8 325.3L635.7 325.1L636.5 325.0L637.4 324.8L638.3 324.6L639.1 324.5L640.0 324.3L640.8 324.1L641.7 324.0L642.5 323.8L643.4 323.7L644.3 323.6L645.1 323.4L646.0 323.3L646.8 323.2L647.7 323.1L648.5 323.0L649.4 322.9L650.3 322.8L651.1 322.7L652.0 322.6L652.8 322.5L653.7 322.4L654.5 322.3L655.4 322.2L656.3 322.1L657.1 322.1L658.0 322.0L658.8 321.9L659.7 321.9L660.5 321.8L661.4 321.7L662.3 321.7L663.1 321.6L664.0 321.6L664.8 321.5L665.7 321.5L666.5 321.4L667.4 321.4L668.3 321.3L669.1 321.3L670.0 321.2L670.8 321.2L671.7 321.2L672.5 321.1L673.4 321.1L674.3 321.1L675.1 321.0L676.0 321.0L676.8 321.0L677.7 320.9L678.5 320.9L679.4 320.9L680.3 320.9L681.1 320.8L682.0 320.8L682.8 320.8L683.7 320.8L684.5 320.8L685.4 320.8L686.3 320.8L687.1 320.9L688.0 320.9L688.8 321.0L689.7 321.0L690.5 321.1L691.4 321.2L692.3 321.3L693.1 321.4L694.0 321.5L694.8 321.6L695.7 321.7L696.5 321.9L697.4 322.0L698.3 322.1L699.1 322.3L700.0 322.4L700.8 322.5L701.7 322.7L702.5 322.8L703.4 322.9L704.3 323.0L705.1 323.2L706.0 323.3L706.8 323.4L707.7 323.6L708.5 323.7L709.4 323.9L710.3 324.0L711.1 324.1L712.0 324.3L712.8 324.4L713.7 324.6L714.5 324.7L715.4 324.9L716.3 325.0L717.1 325.2L718.0 325.3L718.8 325.5L719.7 325.6L720.5 325.8L721.4 326.0L722.3 326.1L723.1 326.3L724.0 326.5L724.8 326.7L725.7 326.8L726.5 327.0L727.4 327.2L728.3 327.4L729.1 327.6L730.0 327.8L730.8 328.0L731.7 328.2L732.5 328.4L733.4 328.6L734.3 328.8L735.1 329.1L736.0 329.3L736.8 329.5L737.7 329.7L738.5 330.0L739.4 330.2L740.3 330.5L741.1 330.7L742.0 331.0L742.8 331.2L743.7 331.5L744.5 331.8L745.4 332.0L746.3 332.3L747.1 332.6L748.0 332.8L748.8 333.1L749.7 333.4L750.5 333.7L751.4 333.9L752.3 334.2L753.1 334.5L754.0 334.8L754.8 335.1L755.7 335.4L756.5 335.7L757.4 336.0L758.3 336.3L759.1 336.6L760.0 336.9L760.8 337.2L761.7 337.5L762.5 337.8L763.4 338.1L764.1 338.4L764.9 338.7L765.6 339.0L766.4 339.3L767.1 339.6L767.9 339.8L768.6 340.1L769.4 340.4L770.1 340.7L770.9 341.0L771.6 341.3L772.4 341.6L773.1 341.9L773.9 342.2L774.6 342.5L775.4 342.8L776.1 343.2L776.9 343.5L777.6 343.8L778.4 344.1L779.1 344.4L779.9 344.8L780.6 345.1L781.4 345.4L782.1 345.8L782.9 346.1L783.6 346.5L784.4 346.8L785.1 347.2L785.9 347.6L786.6 348.0L787.4 348.3L788.1 348.7L788.9 349.1L789.6 349.5L790.4 349.9L791.1 350.3L791.9 350.7L792.6 351.1L793.4 351.5L794.1 351.9L794.9 352.4L795.6 352.8L796.4 353.2L797.1 353.6L797.9 354.1L798.6 354.5L799.4 354.9L800.1 355.4L800.9 355.8L801.6 356.2L802.4 356.7L803.1 357.1L803.9 357.5L804.6 358.0L805.4 358.4L806.1 358.8L806.9 359.3L807.6 359.7L808.4 360.1L809.1 360.5L809.9 361.0L810.6 361.4L811.4 361.8L812.1 362.2L812.9 362.6L813.6 363.0L814.4 363.4L815.1 363.7L815.9 364.1L816.6 364.5L817.4 364.8L818.1 365.2L818.9 365.5L819.6 365.9L820.4 366.2L821.1 366.5L821.9 366.9L822.6 367.2L823.4 367.5L824.1 367.8L824.9 368.1L825.6 368.5L826.4 368.8L827.1 369.1L827.9 369.4L828.6 369.7L829.4 370.1L830.1 370.4L830.9 370.8L831.6 371.1L832.4 371.5L833.1 371.9L833.9 372.2L834.6 372.6L835.4 373.0L836.1 373.4L836.9 373.8L837.6 374.2L838.4 374.6L839.1 375.0L839.9 375.4L840.6 375.8L841.4 376.2L842.1 376.5L842.9 376.9L843.6 377.3L844.4 377.7L845.1 378.0L845.9 378.4L846.6 378.8L847.4 379.1L848.1 379.5L848.9 379.8L849.6 380.1L850.4 380.5L851.1 380.8L851.9 381.1L852.6 381.4L853.4 381.8L854.1 382.1L854.9 382.4L855.6 382.7L856.4 383.0L857.1 383.3L857.9 383.6L858.6 383.9L859.4 384.2L860.1 384.5L860.9 384.8L861.6 385.1L862.4 385.4L863.1 385.6L863.9 385.9L864.6 386.2L865.4 386.5L866.1 386.8L866.9 387.1L867.6 387.4L868.4 387.6L869.1 387.9L869.9 388.2L870.6 388.5L871.4 388.8L872.3 389.1L873.1 389.4L874.0 389.7L874.8 390.0L875.7 390.3L876.5 390.6L877.4 390.9L878.3 391.2L879.1 391.5L880.0 391.8L880.8 392.1L881.7 392.3L882.5 392.6L883.4 392.8L884.3 393.0L885.1 393.2L886.0 393.4L886.8 393.5L887.7 393.7L888.5 393.8L889.4 393.9L890.3 393.9L891.1 393.9L892.0 393.9L892.8 393.9L893.7 393.8L894.5 393.8L895.4 393.7L896.3 393.7L897.1 393.7L898.0 393.7L898.8 393.7L899.7 393.7L900.5 393.6L901.4 393.6L902.3 393.5L903.1 393.4L904.0 393.3L904.8 393.1L905.7 393.0L906.5 392.9L907.4 392.7L908.3 392.6L909.1 392.5L910.0 392.4L910.8 392.2L911.7 392.1L912.5 392.0L913.4 391.8L914.3 391.7L915.1 391.5L916.0 391.4L916.8 391.2L917.7 391.1L918.5 390.9L919.4 390.7L920.3 390.5L921.1 390.3L922.0 390.1L922.8 389.9L923.7 389.7L924.5 389.4L925.4 389.2L926.1 388.9L926.9 388.7L927.6 388.4L928.4 388.1L929.1 387.8L929.9 387.5L930.6 387.2L931.4 386.9L932.1 386.6L932.9 386.2L933.6 385.9L934.4 385.5L935.1 385.2L935.9 384.8L936.6 384.4L937.4 384.0L938.1 383.6L938.9 383.3L939.6 382.9L940.4 382.5L941.1 382.1L941.9 381.7L942.6 381.3L943.4 380.9L944.1 380.5L944.9 380.1L945.6 379.7L946.4 379.3L947.1 378.9L947.9 378.5L948.6 378.1L949.4 377.7L950.1 377.4L950.9 377.0L951.6 376.7L952.4 376.4L953.1 376.1L953.9 375.7L954.6 375.4L955.4 375.1L956.1 374.8L956.9 374.5L957.6 374.2L958.4 373.9L959.1 373.5L959.9 373.2L960.6 372.9L961.4 372.5L962.1 372.2L962.9 371.8L963.6 371.4L964.4 371.0L965.1 370.6L965.9 370.2L966.6 369.8L967.4 369.3L968.1 368.9L968.9 368.5L969.6 368.1L970.4 367.6L971.1 367.2L971.9 366.8L972.6 366.3L973.4 365.9L974.1 365.5L974.9 365.0L975.6 364.6L976.4 364.1L977.1 363.7L977.9 363.3L978.6 362.8L979.4 362.4L980.1 361.9L980.9 361.5L981.6 361.0L982.4 360.6L983.1 360.2L983.9 359.7L984.6 359.3L985.4 358.8L986.1 358.4L986.9 358.0L987.6 357.5L988.4 357.1L989.1 356.6L989.9 356.2L990.6 355.8L991.4 355.3L992.1 354.9L992.9 354.5L993.6 354.0L994.4 353.6L995.1 353.2L995.9 352.7L996.6 352.3L997.4 351.9L998.1 351.5L998.9 351.1L999.6 350.6L1000.4 350.2L1001.1 349.8L1001.9 349.4L1002.6 349.0L1003.4 348.6L1004.1 348.2L1004.9 347.8L1005.6 347.4L1006.4 347.0L1007.1 346.6L1007.9 346.2L1008.6 345.8L1009.4 345.4L1010.1 345.0L1010.9 344.6L1011.6 344.2L1012.4 343.8L1013.1 343.4L1013.9 343.0L1014.6 342.6L1015.4 342.2L1016.1 341.8L1016.9 341.4L1017.6 341.0L1018.4 340.6L1019.1 340.2L1019.9 339.8L1020.6 339.5L1021.4 339.1L1022.1 338.7L1022.9 338.3L1023.6 337.9L1024.4 337.6L1025.2 337.2L1025.9 336.8L1026.7 336.4L1027.4 336.1L1028.2 335.7L1028.9 335.3L1029.7 335.0L1030.4 334.6L1031.2 334.2L1031.9 333.9L1032.7 333.5L1033.4 333.2L1034.2 332.8L1034.9 332.5L1035.7 332.2L1036.4 331.8L1037.2 331.5L1037.9 331.1L1038.7 330.8L1039.4 330.5L1040.2 330.2L1040.9 329.8L1041.7 329.5L1042.4 329.2L1043.2 328.9L1043.9 328.6L1044.7 328.3L1045.4 328.0L1046.2 327.7L1046.9 327.4L1047.7 327.1L1048.4 326.8L1049.2 326.5L1049.9 326.3L1050.7 326.0L1051.4 325.7L1052.3 325.4L1053.1 325.1L1054.0 324.8L1054.8 324.5L1055.7 324.2L1056.5 323.9L1057.4 323.6L1058.3 323.3L1059.1 323.0L1060.0 322.7L1060.8 322.4L1061.7 322.1L1062.5 321.8L1063.4 321.5L1064.3 321.2L1065.1 321.0L1066.0 320.7L1066.8 320.4L1067.7 320.1L1068.5 319.8L1069.4 319.6L1070.3 319.3L1071.1 319.0L1072.0 318.7L1072.8 318.5L1073.7 318.2L1074.5 317.9L1075.4 317.6L1076.3 317.4L1077.1 317.1L1078.0 316.8L1078.8 316.6L1079.7 316.3L1080.5 316.0L1081.4 315.7L1082.3 315.4L1083.1 315.2L1084.0 314.9L1084.8 314.6L1085.7 314.3L1086.5 314.0L1087.4 313.7L1088.3 313.5L1089.1 313.2L1090.0 313.0L1090.8 312.8L1091.7 312.5L1092.5 312.3L1093.4 312.1L1094.3 312.0L1095.1 311.8L1096.0 311.6L1096.8 311.5L1097.7 311.4L1098.5 311.2L1099.4 311.1L1100.3 311.0L1101.1 310.8L1102.0 310.7L1102.8 310.6L1103.7 310.5L1104.5 310.4L1105.4 310.3L1106.3 310.2L1107.1 310.1L1108.0 310.0L1108.8 309.9L1109.7 309.8L1110.5 309.7L1111.4 309.6L1112.3 309.5L1113.1 309.4L1114.0 309.3L1114.8 309.2L1115.7 309.1L1116.5 309.0L1117.4 309.0L1118.3 308.9L1119.1 308.8L1120.0 308.7L1120.8 308.7L1121.7 308.6L1122.5 308.5L1123.4 308.5L1124.3 308.4L1125.1 308.4L1126.0 308.3L1126.8 308.3L1127.7 308.2L1128.5 308.2L1129.4 308.2L1130.3 308.1L1131.1 308.1L1132.0 308.1L1132.8 308.0L1133.7 308.0L1134.5 308.0L1135.4 308.0L1136.3 308.0L1137.1 308.0L1138.0 308.0L1138.8 308.0L1139.7 308.0L1140.5 308.1L1141.4 308.1L1142.3 308.1L1143.1 308.1L1144.0 308.2L1144.8 308.2L1145.7 308.3L1146.5 308.3L1147.4 308.4L1148.3 308.4L1149.1 308.5L1150.0 308.5L1150.8 308.6L1151.7 308.7L1152.5 308.8L1153.4 308.8L1154.3 308.9L1155.1 309.0L1156.0 309.1L1156.8 309.2L1157.7 309.3L1158.5 309.3L1159.4 309.4L1160.3 309.5L1161.1 309.6L1162.0 309.7L1162.8 309.8L1163.7 310.0L1164.5 310.1L1165.4 310.2L1166.3 310.3L1167.1 310.4L1168.0 310.5L1168.8 310.7L1169.7 310.8L1170.5 310.9L1171.4 311.1L1172.3 311.2L1173.1 311.3L1174.0 311.5L1174.8 311.6L1175.7 311.8L1176.5 311.9L1177.4 312.1L1178.3 312.3L1179.1 312.5L1180.0 312.7L1180.8 312.9L1181.7 313.1L1182.5 313.3L1183.4 313.5L1184.3 313.8L1185.1 314.0L1186.0 314.3L1186.8 314.5L1187.7 314.8L1188.5 315.1L1189.4 315.4L1190.3 315.7L1191.1 316.0L1192.0 316.3L1192.8 316.6L1193.7 316.9L1194.5 317.2L1195.4 317.5L1196.3 317.8L1197.1 318.1L1198.0 318.4L1198.8 318.7L1199.7 319.0L1200.5 319.3L1201.4 319.6L1202.3 319.8L1203.1 320.1L1204.0 320.4L1204.8 320.6L1205.7 320.9L1206.5 321.2L1207.4 321.5L1208.3 321.7L1209.1 322.0L1210.0 322.3L1210.8 322.6L1211.7 322.8L1212.5 323.1L1213.4 323.4L1214.3 323.7L1215.1 324.0L1216.0 324.3L1216.8 324.6L1217.7 324.9L1218.5 325.3L1219.4 325.6L1220.2 325.9L1220.9 326.2L1221.7 326.5L1222.4 326.8L1223.2 327.2L1223.9 327.5L1224.7 327.8L1225.4 328.2L1226.2 328.6L1226.9 328.9L1227.7 329.3L1228.4 329.7L1229.2 330.1L1229.9 330.5L1230.7 330.9L1231.4 331.3L1232.2 331.7L1232.9 332.1L1233.7 332.5L1234.4 332.9L1235.2 333.4L1235.9 333.8L1236.7 334.2L1237.4 334.6L1238.2 335.1L1238.9 335.5L1239.7 335.9L1240.4 336.4L1241.2 336.8L1241.9 337.3L1242.7 337.7L1243.4 338.1L1244.2 338.5L1244.9 339.0L1245.7 339.4L1246.4 339.8L1247.2 340.2L1247.9 340.6L1248.7 341.1L1249.4 341.5L1250.2 341.9L1250.9 342.3L1251.7 342.7L1252.4 343.1L1253.2 343.5L1253.9 343.9L1254.7 344.3L1255.4 344.7L1256.2 345.1L1256.9 345.5L1257.7 345.9L1258.4 346.3L1259.2 346.7L1259.9 347.1L1260.7 347.5L1261.4 347.9L1262.2 348.3L1262.9 348.7L1263.7 349.1L1264.4 349.5L1265.2 349.9L1265.9 350.3L1266.7 350.8L1267.4 351.2L1268.2 351.6L1268.9 352.1L1269.7 352.5L1270.4 353.0L1271.2 353.4L1271.9 353.9L1272.7 354.4L1273.4 354.8L1274.1 355.3L1274.7 355.7L1275.4 356.1L1276.1 356.6L1276.7 357.0L1277.4 357.5L1278.1 357.9L1278.7 358.4L1279.4 358.9L1280.1 359.3L1280.7 359.8L1281.4 360.3L1282.1 360.7L1282.7 361.2L1283.4 361.7L1284.1 362.1L1284.7 362.6L1285.4 363.1L1286.1 363.5L1286.7 364.0L1287.4 364.5L1288.1 365.0L1288.7 365.4L1289.4 365.9L1290.1 366.3L1290.7 366.8L1291.4 367.2L1292.2 367.7L1292.9 368.2L1293.7 368.7L1294.4 369.2L1295.2 369.7L1295.9 370.1L1296.7 370.6L1297.4 371.1L1298.2 371.5L1298.9 372.0L1299.7 372.4L1300.4 372.8L1301.2 373.2L1301.9 373.7L1302.7 374.1L1303.4 374.5L1304.2 374.9L1304.9 375.3L1305.7 375.8L1306.4 376.2L1307.2 376.6L1307.9 377.0L1308.7 377.4L1309.4 377.8L1310.2 378.2L1310.9 378.6L1311.7 379.0L1312.4 379.4L1313.2 379.8L1313.9 380.3L1314.7 380.7L1315.4 381.1L1316.2 381.6L1316.9 382.0L1317.7 382.4L1318.4 382.9L1319.2 383.3L1319.9 383.8L1320.7 384.3L1321.4 384.8L1322.1 385.3L1322.7 385.8L1323.4 386.3L1324.1 386.9L1324.7 387.4L1325.4 387.9L1326.1 388.5L1326.7 389.0L1327.4 389.5L1328.1 390.0L1328.7 390.5L1329.4 391.0L1330.1 391.4L1330.7 391.9L1331.4 392.4L1332.1 392.8L1332.7 393.3L1333.4 393.7L1334.2 394.1L1334.9 394.6L1335.7 395.0L1336.4 395.4L1337.2 395.8L1337.9 396.1L1338.7 396.5L1339.4 396.9L1340.2 397.3L1340.9 397.6L1341.7 398.0L1342.4 398.3L1343.2 398.7L1343.9 399.0L1344.7 399.4L1345.4 399.7L1346.2 400.1L1346.9 400.4L1347.7 400.7L1348.4 401.0L1349.2 401.4L1349.9 401.7L1350.7 402.0L1351.4 402.3L1352.3 402.6L1353.1 403.0L1354.0 403.3L1354.8 403.6L1355.7 403.9L1356.5 404.2L1357.4 404.5L1358.3 404.7L1359.1 405.0L1360.0 405.2L1360.8 405.5L1361.7 405.7L1362.5 405.9L1363.4 406.2L1364.3 406.4L1365.1 406.5L1366.0 406.7L1366.8 406.9L1367.7 407.0L1368.5 407.2L1369.4 407.3L1370.3 407.4L1371.1 407.5L1372.0 407.6L1372.8 407.7L1373.7 407.7L1374.5 407.8L1375.4 407.8L1376.3 407.8L1377.1 407.8L1378.0 407.7L1378.8 407.7L1379.7 407.6L1380.5 407.5L1381.4 407.4L1382.3 407.3L1383.1 407.1L1384.0 407.0L1384.8 406.8L1385.7 406.6L1386.5 406.4L1387.4 406.2L1388.3 406.0L1389.1 405.8L1390.0 405.5L1390.8 405.3L1391.7 405.0L1392.5 404.8L1393.4 404.5L1394.3 404.2L1395.1 403.9L1396.0 403.6L1396.8 403.3L1397.7 403.0L1398.5 402.7L1399.4 402.3L1400.2 402.0L1400.9 401.7L1401.7 401.3L1402.4 400.9L1403.2 400.6L1403.9 400.2L1404.7 399.9L1405.4 399.5L1406.2 399.1L1406.9 398.8L1407.7 398.4L1408.4 398.1L1409.2 397.7L1409.9 397.4L1410.7 397.0L1411.4 396.6L1412.2 396.3L1412.9 395.9L1413.7 395.5L1414.4 395.2L1415.2 394.8L1415.9 394.4L1416.7 394.0L1417.4 393.7L1418.2 393.3L1418.9 392.9L1419.7 392.5L1420.4 392.2L1421.2 391.8L1421.9 391.4L1422.7 391.0L1423.4 390.6L1424.2 390.2L1424.9 389.8L1425.7 389.4L1426.4 389.0L1427.2 388.6L1427.9 388.2L1428.7 387.8L1429.4 387.4L1430.2 387.0L1430.9 386.6L1431.7 386.1L1432.4 385.7L1433.2 385.3L1433.9 384.9L1434.7 384.5L1435.4 384.0L1436.2 383.6L1436.9 383.2L1437.7 382.7L1438.4 382.3L1439.2 381.9L1439.9 381.4L1440.7 381.0L1441.4 380.6L1442.2 380.1L1442.9 379.7L1443.7 379.2L1444.4 378.8L1445.2 378.3L1445.9 377.8L1446.7 377.4L1447.4 376.9L1448.1 376.5L1448.7 376.0L1449.4 375.6L1450.1 375.1L1450.7 374.7L1451.4 374.2L1452.1 373.8L1452.7 373.3L1453.4 372.9L1454.1 372.4L1454.7 372.0L1455.4 371.5L1456.1 371.0L1456.7 370.6L1457.4 370.1L1458.1 369.7L1458.7 369.3L1459.4 368.8L1460.2 368.3L1460.9 367.9L1461.7 367.4L1462.4 367.0L1463.2 366.5L1463.9 366.1L1464.7 365.6L1465.4 365.2L1466.2 364.8L1466.9 364.3L1467.7 363.9L1468.4 363.5L1469.2 363.1L1469.9 362.7L1470.7 362.2L1471.4 361.8L1472.2 361.4L1472.9 361.0L1473.7 360.6L1474.4 360.2L1475.2 359.8L1475.9 359.4L1476.7 359.0L1477.4 358.6L1478.2 358.2L1478.9 357.8L1479.7 357.4L1480.4 357.0L1481.2 356.6L1481.9 356.2L1482.7 355.9L1483.4 355.5L1484.2 355.1L1484.9 354.7L1485.7 354.4L1486.4 354.0L1487.2 353.6L1487.9 353.2L1488.7 352.9L1489.4 352.5L1490.2 352.2L1490.9 351.8L1491.7 351.5L1492.4 351.1L1493.2 350.8L1493.9 350.4L1494.7 350.1L1495.4 349.7L1496.2 349.4L1496.9 349.0L1497.7 348.7L1498.4 348.3L1499.2 348.0L1499.9 347.6L1500.7 347.3L1501.4 346.9L1502.2 346.6L1502.9 346.2L1503.7 345.9L1504.4 345.5L1505.2 345.2L1505.9 344.8L1506.7 344.5L1507.4 344.2L1508.2 343.8L1508.9 343.5L1509.7 343.1L1510.4 342.8L1511.2 342.5L1511.9 342.1L1512.7 341.8L1513.4 341.4L1514.2 341.1L1514.9 340.8L1515.7 340.5L1516.4 340.1L1517.2 339.8L1517.9 339.5L1518.7 339.1L1519.4 338.8L1520.2 338.5L1520.9 338.2L1521.7 337.9L1522.4 337.6L1523.2 337.2L1523.9 336.9L1524.7 336.6L1525.4 336.3L1526.2 336.0L1526.9 335.7L1527.7 335.4L1528.4 335.1L1529.2 334.8L1529.9 334.5L1530.7 334.3L1531.4 334.0L1532.3 333.7L1533.1 333.3L1534.0 333.0L1534.8 332.7L1535.7 332.4L1536.5 332.1L1537.4 331.9L1538.3 331.6L1539.1 331.3L1540.0 331.1L1540.8 330.8L1541.7 330.6L1542.5 330.3L1543.4 330.1L1544.3 329.8L1545.1 329.6L1546.0 329.4L1546.8 329.2L1547.7 329.0L1548.5 328.8L1549.4 328.6L1550.3 328.4L1551.1 328.2L1552.0 328.0L1552.8 327.9L1553.7 327.7L1554.5 327.5L1555.4 327.3L1556.3 327.2L1557.1 327.0L1558.0 326.9L1558.8 326.7L1559.7 326.6L1560.5 326.4L1561.4 326.3L1562.3 326.1L1563.1 326.0L1564.0 325.9L1564.8 325.7L1565.7 325.6L1566.5 325.5L1567.4 325.3L1568.3 325.2L1569.1 325.1L1570.0 324.9L1570.8 324.8L1571.7 324.7L1572.5 324.6L1573.4 324.5L1574.3 324.3L1575.1 324.2L1576.0 324.1L1576.8 323.9L1577.7 323.8L1578.5 323.7L1579.4 323.6L1580.3 323.5L1581.1 323.4L1582.0 323.4L1582.8 323.3L1583.7 323.2L1584.5 323.2L1585.4 323.1L1586.3 323.1L1587.1 323.1L1588.0 323.1L1588.8 323.1L1589.7 323.1L1590.5 323.2L1591.4 323.2L1592.3 323.2L1593.1 323.2L1594.0 323.2L1594.8 323.2L1595.7 323.2L1596.5 323.2L1597.4 323.2L1598.3 323.2L1599.1 323.2L1600.0 323.2L1600.8 323.2L1601.7 323.2L1602.5 323.2L1603.4 323.2L1604.3 323.2L1605.1 323.3L1606.0 323.3L1606.8 323.4L1607.7 323.4L1608.5 323.5L1609.4 323.6L1610.3 323.7L1611.1 323.8L1612.0 323.9L1612.8 324.0L1613.7 324.1L1614.5 324.2L1615.4 324.3L1616.3 324.4L1617.1 324.6L1618.0 324.7L1618.8 324.8L1619.7 324.9L1620.5 325.0L1621.4 325.2L1622.3 325.3L1623.1 325.4L1624.0 325.5L1624.8 325.7L1625.7 325.8L1626.5 325.9L1627.4 326.0L1628.3 326.2L1629.1 326.3L1630.0 326.4L1630.8 326.6L1631.7 326.7L1632.5 326.9L1633.4 327.0L1634.3 327.2L1635.1 327.3L1636.0 327.5L1636.8 327.6L1637.7 327.8L1638.5 327.9L1639.4 328.1L1640.3 328.2L1641.1 328.4L1642.0 328.6L1642.8 328.7L1643.7 328.9L1644.5 329.1L1645.4 329.3L1646.3 329.5L1647.1 329.7L1648.0 329.8L1648.8 330.0L1649.7 330.2L1650.5 330.4L1651.4 330.7L1652.3 330.9L1653.1 331.1L1654.0 331.3L1654.8 331.5L1655.7 331.7L1656.5 332.0L1657.4 332.2L1658.3 332.4L1659.1 332.7L1660.0 332.9L1660.8 333.1L1661.7 333.4L1662.5 333.6L1663.4 333.9L1664.3 334.1L1665.1 334.4L1666.0 334.6L1666.8 334.9L1667.7 335.1L1668.5 335.4L1669.4 335.7L1670.3 335.9L1671.1 336.2L1672.0 336.5L1672.8 336.7L1673.7 337.0L1674.5 337.3L1675.4 337.6L1676.3 337.9L1677.1 338.2L1678.0 338.5L1678.8 338.8L1679.7 339.1L1680.5 339.4L1681.4 339.8L1682.2 340.0L1682.9 340.3L1683.7 340.6L1684.4 340.9L1685.2 341.2L1685.9 341.5L1686.7 341.8L1687.4 342.1L1688.2 342.4L1688.9 342.7L1689.7 343.1L1690.4 343.4L1691.2 343.7L1691.9 344.1L1692.7 344.4L1693.4 344.7L1694.2 345.1L1694.9 345.4L1695.7 345.8L1696.4 346.2L1697.2 346.5L1697.9 346.9L1698.7 347.3L1699.4 347.7L1700.2 348.1L1700.9 348.5L1701.7 348.8L1702.4 349.2L1703.2 349.6L1703.9 350.0L1704.7 350.5L1705.4 350.9L1706.2 351.3L1706.9 351.7L1707.7 352.1L1708.4 352.5L1709.2 352.9L1709.9 353.3L1710.7 353.8L1711.4 354.2L1712.2 354.6L1712.9 355.0L1713.7 355.4L1714.4 355.9L1715.2 356.3L1715.9 356.7L1716.7 357.1L1717.4 357.5L1718.2 358.0L1718.9 358.4L1719.7 358.8L1720.4 359.2L1721.2 359.6L1721.9 360.0L1722.7 360.5L1723.4 360.9L1724.2 361.3L1724.9 361.7L1725.7 362.1L1726.4 362.5L1727.2 362.9L1727.9 363.3L1728.7 363.7L1729.4 364.1L1730.2 364.5L1730.9 364.9L1731.7 365.3L1732.4 365.7L1733.2 366.1L1733.9 366.5L1734.7 366.9L1735.4 367.3L1736.2 367.7L1736.9 368.1L1737.7 368.5L1738.4 368.9L1739.2 369.3L1739.9 369.7L1740.7 370.1L1741.4 370.5L1742.2 370.9L1742.9 371.3L1743.7 371.7L1744.4 372.2L1745.2 372.6L1745.9 373.0L1746.7 373.4L1747.4 373.8L1748.2 374.2L1748.9 374.6L1749.7 375.0L1750.4 375.4L1751.2 375.8L1751.9 376.1L1752.7 376.5L1753.4 376.9L1754.2 377.3L1754.9 377.7L1755.7 378.1L1756.4 378.5L1757.2 378.9L1757.9 379.2L1758.7 379.6L1759.4 380.0L1760.2 380.3L1760.9 380.7L1761.7 381.1L1762.4 381.4L1763.2 381.8L1763.9 382.1L1764.7 382.5L1765.4 382.8L1766.2 383.2L1766.9 383.5L1767.7 383.9L1768.4 384.2L1769.2 384.5L1769.9 384.9L1770.7 385.2L1771.4 385.5L1772.2 385.9L1772.9 386.2L1773.7 386.5L1774.4 386.8L1775.2 387.1L1775.9 387.4L1776.7 387.8L1777.4 388.1L1778.2 388.4L1778.9 388.7L1779.7 389.0L1780.4 389.3L1781.2 389.6L1781.9 389.9L1782.7 390.2L1783.4 390.5L1784.2 390.8L1784.9 391.1L1785.7 391.4L1786.4 391.7L1787.2 392.0L1787.9 392.3L1788.7 392.6L1789.4 392.9L1790.2 393.2L1790.9 393.5L1791.7 393.7L1792.4 394.0L1793.2 394.3L1793.9 394.6L1794.7 394.9L1795.4 395.2L1796.3 395.5L1797.1 395.8L1798.0 396.1L1798.8 396.4L1799.7 396.7L1800.5 397.1L1801.4 397.4L1802.3 397.7L1803.1 398.0L1804.0 398.4L1804.8 398.7L1805.7 399.0L1806.5 399.3L1807.4 399.5L1808.3 399.7L1809.1 399.8L1810.0 399.9L1810.8 400.0L1811.7 400.1L1812.5 400.1L1813.4 400.1L1814.3 400.1L1815.1 400.0L1816.0 399.9L1816.8 399.8L1817.7 399.7L1818.5 399.6L1819.4 399.4L1820.3 399.3L1821.1 399.2L1822.0 399.0L1822.8 398.9L1823.7 398.7L1824.5 398.5L1825.4 398.4L1826.3 398.2L1827.1 398.0L1828.0 397.8L1828.8 397.6L1829.7 397.4L1830.5 397.2L1831.4 396.9L1832.3 396.7L1833.1 396.4L1834.0 396.2L1834.8 395.9L1835.7 395.6L1836.5 395.4L1837.4 395.1L1838.2 394.8L1838.9 394.5L1839.7 394.2L1840.4 393.9L1841.2 393.7L1841.9 393.4L1842.7 393.0L1843.4 392.7L1844.2 392.4L1844.9 392.1L1845.7 391.7L1846.4 391.4L1847.2 391.1L1847.9 390.7L1848.7 390.4L1849.4 390.0L1850.2 389.6L1850.9 389.2L1851.7 388.9L1852.4 388.5L1853.2 388.1L1853.9 387.7L1854.7 387.3L1855.4 386.9L1856.2 386.5L1856.9 386.1L1857.7 385.7L1858.4 385.3L1859.2 384.9L1859.9 384.5L1860.7 384.0L1861.4 383.6L1862.2 383.2L1862.9 382.8L1863.7 382.3L1864.4 381.9L1865.2 381.4L1865.9 381.0L1866.7 380.5L1867.4 380.1L1868.2 379.6L1868.9 379.2L1869.7 378.7L1870.4 378.2L1871.2 377.8L1871.9 377.3L1872.7 376.8L1873.4 376.4L1874.2 375.9L1874.9 375.4L1875.7 374.9L1876.4 374.5L1877.2 374.0L1877.9 373.5L1878.7 373.0L1879.4 372.6L1880.2 372.1L1880.9 371.6L1881.7 371.1L1882.4 370.6L1883.2 370.2L1883.9 369.7L1884.7 369.2L1885.4 368.7L1886.2 368.3L1886.9 367.8L1887.7 367.3L1888.4 366.8L1889.2 366.4L1889.9 365.9L1890.7 365.4L1891.4 365.0L1892.2 364.5L1892.9 364.1L1893.7 363.6L1894.4 363.1L1895.2 362.7L1895.9 362.2L1896.7 361.8L1897.4 361.3L1898.2 360.9L1898.9 360.5L1899.7 360.0L1900.4 359.6L1901.2 359.2L1901.9 358.7L1902.7 358.3L1903.4 357.9L1904.2 357.4L1904.9 357.0L1905.7 356.6L1906.4 356.1L1907.2 355.7L1907.9 355.3L1908.7 354.8L1909.4 354.4L1910.2 354.0L1910.9 353.6L1911.7 353.2L1912.4 352.7L1913.2 352.3L1913.9 351.9L1914.7 351.5L1915.4 351.1L1916.2 350.6L1916.9 350.2L1917.7 349.8L1918.4 349.4L1919.2 349.0L1919.9 348.6L1920.7 348.2L1921.4 347.8L1922.2 347.4L1922.9 347.0L1923.7 346.6L1924.4 346.1L1925.2 345.7L1925.9 345.4L1926.7 345.0L1927.4 344.6L1928.2 344.2L1928.9 343.8L1929.7 343.4L1930.4 343.0L1931.2 342.6L1931.9 342.2L1932.7 341.8L1933.4 341.5L1934.2 341.1L1934.9 340.7L1935.7 340.3L1936.4 339.9L1937.2 339.6L1937.9 339.2L1938.7 338.8L1939.4 338.5L1940.2 338.1L1940.9 337.7L1941.7 337.3L1942.4 337.0L1943.2 336.6L1943.9 336.2L1944.7 335.9L1945.4 335.5L1946.2 335.2L1946.9 334.8L1947.7 334.4L1948.4 334.1L1949.2 333.7L1949.9 333.4L1950.7 333.0L1951.4 332.7L1952.2 332.3L1952.9 332.0L1953.7 331.6L1954.4 331.3L1955.2 330.9L1955.9 330.6L1956.7 330.2L1957.4 329.9L1958.2 329.6L1958.9 329.2L1959.7 328.9L1960.4 328.6L1961.2 328.3L1961.9 327.9L1962.7 327.6L1963.4 327.3L1964.2 327.0L1964.9 326.7L1965.7 326.4L1966.4 326.1L1967.2 325.8L1967.9 325.4L1968.7 325.1L1969.4 324.9L1970.2 324.6L1970.9 324.3L1971.7 324.0L1972.4 323.7L1973.2 323.4L1973.9 323.1L1974.7 322.9L1975.4 322.6L1976.3 322.3L1977.1 322.0L1978.0 321.7L1978.8 321.4L1979.7 321.1L1980.5 320.8L1981.4 320.5L1982.3 320.2L1983.1 319.9L1984.0 319.7L1984.8 319.4L1985.7 319.1L1986.5 318.8L1987.4 318.6L1988.3 318.3L1989.1 318.0L1990.0 317.8L1990.8 317.5L1991.7 317.3L1992.5 317.0L1993.4 316.8L1994.3 316.5L1995.1 316.3L1996.0 316.0L1996.8 315.8L1997.7 315.6L1998.5 315.3L1999.4 315.1L2000.3 314.9L2001.1 314.6L2002.0 314.4L2002.8 314.2L2003.7 314.0L2004.5 313.8L2005.4 313.6L2006.3 313.3L2007.1 313.1L2008.0 312.9L2008.8 312.7L2009.7 312.5L2010.5 312.3L2011.4 312.2L2012.3 312.0L2013.1 311.8L2014.0 311.6L2014.8 311.5L2015.7 311.3L2016.5 311.2L2017.4 311.0L2018.3 310.9L2019.1 310.7L2020.0 310.6L2020.8 310.4L2021.7 310.3L2022.5 310.2L2023.4 310.1L2024.3 309.9L2025.1 309.8L2026.0 309.7L2026.8 309.6L2027.7 309.5L2028.5 309.4L2029.4 309.3L2030.3 309.2L2031.1 309.1L2032.0 309.0L2032.8 308.9L2033.7 308.8L2034.5 308.7L2035.4 308.6L2036.3 308.5L2037.1 308.4L2038.0 308.3L2038.8 308.2L2039.7 308.1L2040.5 308.1L2041.4 308.0L2042.3 307.9L2043.1 307.8L2044.0 307.8L2044.8 307.7L2045.7 307.7L2046.5 307.7L2047.4 307.6L2048.3 307.6L2049.3 307.6L2050.3 307.6L2051.2 307.7L2052.1 307.7L2052.8 307.7L2053.4 307.7L2054.1 307.7L2054.0 307.7" fill="none" stroke="#00ffff" stroke-width="4" stroke-linejoin="round" stroke-linecap="butt" stroke-dasharray="41 22" stroke-dashoffset="0"/>
<path clip-path="url(#ct)" d="M221.0 439.4L221.0 439.7L221.0 440.0L221.0 440.3L221.0 440.7L221.0 441.0L221.0 441.3L221.0 441.7L221.0 442.0L221.0 442.4L221.0 442.8L221.0 443.1L221.0 443.5L221.0 443.9L221.0 444.3L221.0 444.7L221.0 445.1L221.0 445.5L221.1 445.9L221.1 446.4L221.1 446.8L221.1 447.2L221.1 447.7L221.1 448.1L221.1 448.6L221.1 449.0L221.1 449.5L221.1 450.0L221.1 450.4L221.1 450.9L221.1 451.4L221.1 451.9L221.1 452.4L221.1 452.9L221.1 453.4L221.1 453.9L221.1 454.5L221.1 455.0L221.1 455.5L221.1 456.1L221.1 456.6L221.1 457.1L221.1 457.7L221.1 458.2L221.2 458.8L221.2 459.4L221.2 459.9L221.2 460.5L221.2 461.1L221.2 461.7L221.2 462.3L221.2 462.8L221.2 463.4L221.2 464.0L221.2 464.6L221.2 465.2L221.2 465.8L221.2 466.5L221.2 467.1L221.2 467.7L221.2 468.3L221.2 468.9L221.2 469.6L221.2 470.2L221.2 470.8L221.2 471.5L221.3 472.1L221.3 472.8L221.3 473.4L221.3 474.1L221.3 474.7L221.3 475.4L221.3 476.0L221.3 476.7L221.3 477.4L221.3 478.0L221.3 478.7L221.3 479.4L221.3 480.0L221.3 480.7L221.3 481.4L221.3 482.1L221.3 482.8L221.3 483.5L221.3 484.1L221.4 484.8L221.4 485.5L221.4 486.2L221.4 486.9L221.4 487.6L221.4 488.3L221.4 489.0L221.4 489.7L221.4 490.4L221.4 491.1L221.4 491.8L221.4 492.5L221.4 493.2L221.4 493.9L221.4 494.6L221.4 495.3L221.4 496.1L221.4 496.8L221.5 497.5L221.5 498.2L221.5 498.9L221.5 499.6L221.5 500.3L221.5 501.0L221.5 501.8L221.5 502.5L221.5 503.2L221.5 503.9L221.5 504.6L221.5 505.3L221.5 506.0L221.5 506.8L221.5 507.5L221.5 508.2L221.5 508.9L221.5 509.6L221.6 510.3L221.6 511.0L221.6 511.8L221.6 512.5L221.6 513.2L221.6 513.9L221.6 514.6L221.6 515.3L221.6 516.0L221.6 516.7L221.6 517.4L221.6 518.1L221.6 518.8L221.6 519.5L221.6 520.2L221.6 520.9L221.6 521.6L221.7 522.3L221.7 523.0L221.7 523.7L221.7 524.4L221.7 525.1L221.7 525.8L221.7 526.4L221.7 527.1L221.7 527.8L221.7 528.5L221.7 529.2L221.7 529.8L221.7 530.5L221.7 531.2L221.7 531.8L221.7 532.5L221.7 533.2L221.8 533.8L221.8 534.5L221.8 535.1L221.8 535.8L221.8 536.4L221.8 537.1L221.8 537.7L221.8 538.3L221.8 539.0L221.8 539.6L221.8 540.2L221.8 540.9L221.8 541.5L221.8 542.1L221.8 542.7L221.8 543.3L221.8 543.9L221.8 544.5L221.9 545.1L221.9 545.7L221.9 546.3L221.9 546.9L221.9 547.5L221.9 548.0L221.9 548.6L221.9 549.2L221.9 549.7L221.9 550.3L221.9 550.9L221.9 551.4L221.9 552.0L221.9 552.5L221.9 553.0L221.9 553.6L221.9 554.1L221.9 554.6L221.9 555.1L222.0 555.6L222.0 556.1L222.0 556.6L222.0 557.1L222.0 557.6L222.0 558.1L222.0 558.6L222.0 559.1L222.0 559.5L222.0 560.0L222.0 560.9L222.0 561.7L222.0 562.6L222.0 563.5L222.0 564.3L222.1 565.2L222.1 566.0L222.1 566.9L222.1 567.7L222.1 568.6L222.1 569.4L222.1 570.3L222.1 571.1L222.1 571.9L222.1 572.8L222.1 573.6L222.1 574.4L222.2 575.2L222.2 576.0L222.2 576.9L222.2 577.7L222.2 578.5L222.2 579.3L222.2 580.1L222.2 580.9L222.2 581.6L222.2 582.4L222.2 583.2L222.2 584.0L222.3 584.8L222.3 585.5L222.3 586.3L222.3 587.0L222.3 587.8L222.3 588.5L222.3 589.3L222.3 590.0L222.3 590.7L222.3 591.5L222.3 592.2L222.3 592.9L222.3 593.6L222.4 594.3L222.4 595.0L222.4 595.7L222.4 596.4L222.4 597.1L222.4 597.8L222.4 598.4L222.4 599.1L222.4 599.7L222.4 600.4L222.4 601.0L222.4 601.7L222.5 602.3L222.5 602.9L222.5 603.5L222.5 604.2L222.5 604.8L222.5 605.4L222.5 606.0L222.5 606.5L222.5 607.1L222.5 607.7L222.5 608.2L222.5 608.8L222.6 609.3L222.6 609.9L222.6 610.4L222.6 610.9L222.6 611.5L222.6 612.0L222.6 612.5L222.6 613.0L222.6 613.4L222.6 613.9L222.7 614.4L222.7 614.8L222.7 615.3L222.7 615.7L222.7 616.2L222.7 616.6L222.7 617.0L222.7 617.4L222.7 617.8L222.7 618.2L222.8 618.6L222.8 619.0L222.8 619.3L222.8 619.7L222.8 620.0L222.8 620.4L222.8 620.7L222.8 621.0L222.9 621.3L222.9 621.6L222.9 621.9L222.9 622.2L222.9 622.4L222.9 622.7L222.9 622.9L222.9 623.2L223.0 623.4L223.0 623.6L223.0 623.8L223.0 624.0L223.0 624.5L223.1 624.9L223.1 625.2L223.2 625.4L223.2 625.6L223.3 625.7L223.3 625.7L223.3 625.7L223.4 625.6L223.4 625.5L223.5 625.3L223.5 625.0L223.6 624.7L223.6 624.3L223.7 623.9L223.8 623.4L223.8 622.9L223.9 622.3L223.9 621.7L224.0 621.0L224.0 620.3L224.1 619.5L224.1 618.7L224.2 617.9L224.2 617.0L224.3 616.0L224.4 615.1L224.4 614.1L224.5 613.1L224.5 612.0L224.6 610.9L224.6 609.8L224.7 608.6L224.7 607.5L224.8 606.3L224.8 605.1L224.9 603.8L224.9 602.6L225.0 601.3L225.0 600.0L225.0 599.6L225.0 599.2L225.0 598.8L225.1 598.4L225.1 598.0L225.1 597.6L225.1 597.1L225.1 596.7L225.1 596.3L225.1 595.8L225.1 595.4L225.2 594.9L225.2 594.5L225.2 594.0L225.2 593.6L225.2 593.1L225.2 592.6L225.2 592.2L225.2 591.7L225.3 591.2L225.3 590.7L225.3 590.2L225.3 589.7L225.3 589.2L225.3 588.7L225.3 588.2L225.3 587.7L225.3 587.2L225.4 586.7L225.4 586.1L225.4 585.6L225.4 585.1L225.4 584.5L225.4 584.0L225.4 583.5L225.4 582.9L225.5 582.4L225.5 581.8L225.5 581.3L225.5 580.7L225.5 580.1L225.5 579.6L225.5 579.0L225.5 578.4L225.5 577.8L225.6 577.3L225.6 576.7L225.6 576.1L225.6 575.5L225.6 574.9L225.6 574.3L225.6 573.7L225.6 573.1L225.6 572.5L225.7 571.9L225.7 571.3L225.7 570.7L225.7 570.1L225.7 569.5L225.7 568.8L225.7 568.2L225.7 567.6L225.7 567.0L225.8 566.3L225.8 565.7L225.8 565.1L225.8 564.4L225.8 563.8L225.8 563.2L225.8 562.5L225.8 561.9L225.8 561.2L225.9 560.6L225.9 559.9L225.9 559.3L225.9 558.6L225.9 558.0L225.9 557.3L225.9 556.7L225.9 556.0L225.9 555.3L225.9 554.7L226.0 554.0L226.0 553.3L226.0 552.7L226.0 552.0L226.0 551.3L226.0 550.7L226.0 550.0L226.0 549.3L226.0 548.7L226.1 548.0L226.1 547.3L226.1 546.6L226.1 545.9L226.1 545.3L226.1 544.6L226.1 543.9L226.1 543.2L226.1 542.5L226.2 541.9L226.2 541.2L226.2 540.5L226.2 539.8L226.2 539.1L226.2 538.4L226.2 537.8L226.2 537.1L226.2 536.4L226.2 535.7L226.3 535.0L226.3 534.3L226.3 533.7L226.3 533.0L226.3 532.3L226.3 531.6L226.3 530.9L226.3 530.2L226.3 529.5L226.4 528.9L226.4 528.2L226.4 527.5L226.4 526.8L226.4 526.1L226.4 525.4L226.4 524.8L226.4 524.1L226.4 523.4L226.5 522.7L226.5 522.0L226.5 521.4L226.5 520.7L226.5 520.0L226.5 519.5L226.5 518.9L226.5 518.4L226.5 517.8L226.5 517.3L226.6 516.7L226.6 516.2L226.6 515.6L226.6 515.0L226.6 514.5L226.6 513.9L226.6 513.3L226.6 512.8L226.6 512.2L226.6 511.6L226.6 511.1L226.7 510.5L226.7 509.9L226.7 509.3L226.7 508.8L226.7 508.2L226.7 507.6L226.7 507.0L226.7 506.4L226.7 505.8L226.7 505.2L226.7 504.7L226.8 504.1L226.8 503.5L226.8 502.9L226.8 502.3L226.8 501.7L226.8 501.1L226.8 500.5L226.8 499.9L226.8 499.3L226.8 498.7L226.8 498.1L226.9 497.5L226.9 496.9L226.9 496.2L226.9 495.6L226.9 495.0L226.9 494.4L226.9 493.8L226.9 493.2L226.9 492.6L226.9 492.0L226.9 491.3L227.0 490.7L227.0 490.1L227.0 489.5L227.0 488.9L227.0 488.2L227.0 487.6L227.0 487.0L227.0 486.4L227.0 485.7L227.0 485.1L227.0 484.5L227.1 483.9L227.1 483.2L227.1 482.6L227.1 482.0L227.1 481.4L227.1 480.7L227.1 480.1L227.1 479.5L227.1 478.8L227.1 478.2L227.1 477.6L227.2 477.0L227.2 476.3L227.2 475.7L227.2 475.1L227.2 474.4L227.2 473.8L227.2 473.2L227.2 472.5L227.2 471.9L227.2 471.3L227.2 470.6L227.2 470.0L227.3 469.4L227.3 468.7L227.3 468.1L227.3 467.5L227.3 466.8L227.3 466.2L227.3 465.6L227.3 464.9L227.3 464.3L227.3 463.7L227.3 463.0L227.4 462.4L227.4 461.8L227.4 461.2L227.4 460.5L227.4 459.9L227.4 459.3L227.4 458.6L227.4 458.0L227.4 457.4L227.4 456.8L227.4 456.1L227.5 455.5L227.5 454.9L227.5 454.3L227.5 453.6L227.5 453.0L227.5 452.4L227.5 451.8L227.5 451.1L227.5 450.5L227.5 449.9L227.5 449.3L227.6 448.7L227.6 448.0L227.6 447.4L227.6 446.8L227.6 446.2L227.6 445.6L227.6 445.0L227.6 444.4L227.6 443.8L227.6 443.1L227.6 442.5L227.7 441.9L227.7 441.3L227.7 440.7L227.7 440.1L227.7 439.5L227.7 438.9L227.7 438.3L227.7 437.7L227.7 437.1L227.7 436.5L227.7 435.9L227.8 435.3L227.8 434.8L227.8 434.2L227.8 433.6L227.8 433.0L227.8 432.4L227.8 431.8L227.8 431.2L227.8 430.7L227.8 430.1L227.8 429.5L227.9 428.9L227.9 428.4L227.9 427.8L227.9 427.2L227.9 426.7L227.9 426.1L227.9 425.5L227.9 425.0L227.9 424.4L227.9 423.8L227.9 423.3L228.0 422.7L228.0 422.2L228.0 421.6L228.0 421.1L228.0 420.5L228.0 420.0L228.0 419.3L228.0 418.7L228.0 418.0L228.0 417.3L228.1 416.6L228.1 416.0L228.1 415.3L228.1 414.6L228.1 414.0L228.1 413.3L228.1 412.7L228.1 412.0L228.1 411.4L228.2 410.7L228.2 410.0L228.2 409.4L228.2 408.7L228.2 408.1L228.2 407.5L228.2 406.8L228.2 406.2L228.2 405.5L228.3 404.9L228.3 404.2L228.3 403.6L228.3 403.0L228.3 402.3L228.3 401.7L228.3 401.1L228.3 400.4L228.3 399.8L228.4 399.2L228.4 398.6L228.4 397.9L228.4 397.3L228.4 396.7L228.4 396.1L228.4 395.5L228.4 394.8L228.5 394.2L228.5 393.6L228.5 393.0L228.5 392.4L228.5 391.8L228.5 391.1L228.5 390.5L228.5 389.9L228.5 389.3L228.6 388.7L228.6 388.1L228.6 387.5L228.6 386.9L228.6 386.3L228.6 385.7L228.6 385.1L228.6 384.5L228.6 383.9L228.7 383.3L228.7 382.7L228.7 382.1L228.7 381.5L228.7 380.9L228.7 380.3L228.7 379.7L228.7 379.1L228.7 378.5L228.8 378.0L228.8 377.4L228.8 376.8L228.8 376.2L228.8 375.6L228.8 375.0L228.8 374.4L228.8 373.8L228.8 373.3L228.9 372.7L228.9 372.1L228.9 371.5L228.9 370.9L228.9 370.3L228.9 369.8L228.9 369.2L228.9 368.6L228.9 368.0L229.0 367.5L229.0 366.9L229.0 366.3L229.0 365.7L229.0 365.1L229.0 364.6L229.0 364.0L229.0 363.4L229.0 362.8L229.1 362.3L229.1 361.7L229.1 361.1L229.1 360.5L229.1 360.0L229.1 359.4L229.1 358.8L229.1 358.3L229.2 357.7L229.2 357.1L229.2 356.5L229.2 356.0L229.2 355.4L229.2 354.8L229.2 354.3L229.2 353.7L229.2 353.1L229.3 352.5L229.3 352.0L229.3 351.4L229.3 350.8L229.3 350.3L229.3 349.7L229.3 349.1L229.3 348.6L229.3 348.0L229.4 347.4L229.4 346.8L229.4 346.3L229.4 345.7L229.4 345.1L229.4 344.6L229.4 344.0L229.4 343.4L229.4 342.9L229.5 342.3L229.5 341.7L229.5 341.1L229.5 340.6L229.5 340.0L229.5 339.4L229.5 338.7L229.5 338.1L229.5 337.5L229.6 336.8L229.6 336.2L229.6 335.5L229.6 334.9L229.6 334.2L229.6 333.6L229.6 333.0L229.6 332.3L229.7 331.7L229.7 331.0L229.7 330.4L229.7 329.7L229.7 329.1L229.7 328.4L229.7 327.8L229.7 327.1L229.8 326.4L229.8 325.8L229.8 325.1L229.8 324.5L229.8 323.8L229.8 323.2L229.8 322.5L229.8 321.9L229.9 321.2L229.9 320.5L229.9 319.9L229.9 319.2L229.9 318.6L229.9 317.9L229.9 317.3L229.9 316.6L229.9 316.0L230.0 315.3L230.0 314.7L230.0 314.0L230.0 313.3L230.0 312.7L230.0 312.0L230.0 311.4L230.0 310.7L230.1 310.1L230.1 309.4L230.1 308.8L230.1 308.2L230.1 307.5L230.1 306.9L230.1 306.2L230.1 305.6L230.1 304.9L230.2 304.3L230.2 303.7L230.2 303.0L230.2 302.4L230.2 301.8L230.2 301.1L230.2 300.5L230.2 299.9L230.3 299.2L230.3 298.6L230.3 298.0L230.3 297.4L230.3 296.7L230.3 296.1L230.3 295.5L230.3 294.9L230.4 294.3L230.4 293.7L230.4 293.1L230.4 292.5L230.4 291.9L230.4 291.3L230.4 290.7L230.4 290.1L230.5 289.5L230.5 288.9L230.5 288.3L230.5 287.7L230.5 287.1L230.5 286.6L230.5 286.0L230.5 285.4L230.6 284.8L230.6 284.3L230.6 283.7L230.6 283.1L230.6 282.6L230.6 282.0L230.6 281.5L230.6 280.9L230.7 280.4L230.7 279.8L230.7 279.3L230.7 278.8L230.7 278.2L230.7 277.7L230.7 277.2L230.7 276.7L230.8 276.1L230.8 275.6L230.8 275.1L230.8 274.6L230.8 274.1L230.8 273.6L230.8 273.1L230.9 272.6L230.9 272.2L230.9 271.7L230.9 271.2L230.9 270.7L230.9 270.3L230.9 269.8L231.0 269.3L231.0 268.9L231.0 268.4L231.0 268.0L231.0 267.1L231.1 266.1L231.1 265.2L231.1 264.4L231.2 263.5L231.2 262.6L231.2 261.8L231.3 261.0L231.3 260.2L231.3 259.4L231.3 258.6L231.4 257.8L231.4 257.1L231.4 256.3L231.5 255.6L231.5 254.9L231.5 254.2L231.6 253.5L231.6 252.9L231.6 252.2L231.7 251.5L231.7 250.9L231.7 250.3L231.8 249.7L231.8 249.1L231.8 248.5L231.9 247.9L231.9 247.3L231.9 246.7L232.0 246.2L232.0 245.6L232.0 245.1L232.1 244.6L232.1 244.1L232.2 243.5L232.2 243.0L232.2 242.5L232.3 242.0L232.3 241.6L232.3 241.1L232.4 240.6L232.4 240.1L232.5 239.7L232.5 239.2L232.5 238.8L232.6 238.3L232.6 237.9L232.7 237.4L232.7 237.0L232.7 236.6L232.8 236.1L232.8 235.7L232.9 235.3L232.9 234.8L233.0 234.4L233.0 234.0L233.1 232.9L233.2 231.9L233.4 230.9L233.5 230.0L233.6 229.0L233.8 228.1L233.9 227.3L234.0 226.5L234.2 225.7L234.3 225.0L234.5 224.3L234.6 223.7L234.8 223.1L234.9 222.6L235.0 222.2L235.2 221.8L235.3 221.5L235.5 221.3L235.6 221.1L235.7 221.0L235.9 220.9L236.0 221.0L236.1 221.1L236.2 221.3L236.3 221.5L236.4 221.8L236.5 222.1L236.6 222.5L236.7 222.9L236.8 223.4L236.9 223.9L237.0 224.5L237.0 225.1L237.1 225.7L237.2 226.4L237.3 227.1L237.4 227.8L237.5 228.5L237.6 229.3L237.7 230.0L237.8 230.8L237.8 231.6L237.9 232.4L238.0 233.2L238.1 234.0L238.2 234.8L238.3 235.6L238.3 236.4L238.4 237.2L238.5 238.0L238.6 238.5L238.6 239.0L238.7 239.6L238.7 240.1L238.8 240.7L238.8 241.2L238.9 241.8L238.9 242.4L239.0 243.0L239.0 243.6L239.0 244.2L239.1 244.8L239.1 245.4L239.2 246.0L239.2 246.7L239.3 247.3L239.3 248.0L239.4 248.6L239.4 249.3L239.5 249.9L239.5 250.5L239.6 251.2L239.6 251.9L239.6 252.5L239.7 253.2L239.7 253.8L239.8 254.4L239.8 255.1L239.9 255.7L239.9 256.4L240.0 257.0L240.0 257.6L240.0 258.2L240.1 258.9L240.1 259.5L240.2 260.1L240.2 260.7L240.3 261.2L240.3 261.8L240.4 262.4L240.4 262.9L240.5 263.5L240.5 264.0L240.6 264.7L240.6 265.4L240.7 266.2L240.8 266.9L240.8 267.6L240.9 268.3L240.9 269.0L241.0 269.6L241.1 270.3L241.1 271.0L241.2 271.7L241.3 272.3L241.3 273.0L241.4 273.6L241.4 274.2L241.5 274.9L241.6 275.5L241.6 276.1L241.7 276.7L241.8 277.3L241.8 277.9L241.9 278.4L241.9 279.0L242.0 279.5L242.1 280.1L242.1 280.6L242.2 281.1L242.3 281.6L242.4 282.1L242.4 282.5L242.5 283.0L242.6 283.9L242.8 284.7L242.9 285.4L243.0 286.1L243.1 286.7L243.3 287.2L243.4 287.8L243.5 288.3L243.7 288.8L243.8 289.3L244.0 289.8L244.2 290.3L244.5 290.8L244.7 291.4L245.0 292.0L245.2 292.5L245.5 293.0L245.8 293.6L246.1 294.2L246.4 294.8L246.7 295.4L247.1 296.0L247.4 296.6L247.8 297.2L248.1 297.8L248.5 298.4L248.8 299.0L249.2 299.5L249.6 300.1L250.0 300.6L250.3 301.0L250.7 301.5L251.0 301.9L251.4 302.2L251.7 302.5L252.3 303.0L253.0 303.2L253.6 303.4L254.2 303.4L254.9 303.4L255.5 303.3L256.1 303.2L256.7 303.0L257.4 302.9L258.0 302.8L258.6 302.7L259.2 302.6L259.8 302.5L260.4 302.3L261.0 302.1L261.6 301.9L262.2 301.8L262.8 301.6L263.4 301.4L264.0 301.3L264.6 301.2L265.2 301.1L265.9 301.1L266.6 301.0L267.3 301.0L268.1 301.0L268.8 301.0L269.4 301.0L270.0 301.0L270.6 301.0L271.0 301.0L271.4 301.0L271.9 300.9L272.3 300.3L272.8 300.9L273.2 300.3L273.7 300.9L274.2 300.3L274.6 300.9L275.1 300.3L275.5 300.9L276.0 300.3L276.5 300.9L276.9 300.3L277.4 300.9L277.8 300.3L278.3 301.1L278.8 300.8L279.2 301.7L279.7 301.3L280.1 302.3L280.6 301.9L281.1 302.8L281.5 302.5L282.0 303.4L282.4 303.1L282.9 304.0L283.4 303.7L283.8 304.6L284.3 304.2L284.7 305.2L285.2 304.8L285.7 305.7L286.1 305.4L286.6 306.3L287.0 306.0L287.5 306.9L288.0 306.6L288.4 307.5L288.9 307.1L289.3 308.1L289.8 307.7L290.3 308.6L290.7 308.3L291.2 309.2L291.6 308.9L292.1 309.8L292.6 309.4L293.0 310.4L293.5 310.0L293.9 310.9L294.4 310.6L294.9 311.5L295.3 311.1L295.8 312.0L296.2 311.7L296.7 312.6L297.2 312.2L297.6 313.1L298.1 312.7L298.5 313.7L299.0 313.3L299.5 314.2L299.9 313.8L300.4 314.7L300.8 314.3L301.3 315.3L301.8 314.9L302.2 315.8L302.7 315.4L303.1 316.3L303.6 316.0L304.1 316.9L304.5 316.6L305.0 317.5L305.4 317.1L305.9 318.1L306.4 317.7L306.8 318.7L307.3 318.4L307.7 319.3L308.2 319.0L308.7 320.0L309.1 319.7L309.6 320.6L310.0 320.3L310.5 321.3L311.0 321.0L311.4 322.0L311.9 321.7L312.3 322.6L312.8 322.3L313.3 323.3L313.7 323.0L314.2 324.0L314.6 323.6L315.1 324.6L315.6 324.3L316.0 325.2L316.5 324.9L316.9 325.8L317.4 325.5L317.9 326.4L318.3 326.1L318.8 327.0L319.2 326.7L319.7 327.6L320.2 327.2L320.6 328.1L321.1 327.8L321.5 328.7L322.0 328.3L322.5 329.2L322.9 328.8L323.4 329.7L323.8 329.4L324.3 330.3L324.8 329.9L325.2 330.8L325.7 330.4L326.1 331.4L326.6 331.0L327.1 331.9L327.5 331.6L328.0 332.5L328.4 332.1L328.9 333.1L329.4 332.7L329.8 333.6L330.3 333.3L330.7 334.2L331.2 333.9L331.7 334.8L332.1 334.5L332.6 335.5L333.0 335.1L333.5 336.1L334.0 335.7L334.4 336.7L334.9 336.3L335.3 337.3L335.8 336.9L336.3 337.9L336.7 337.5L337.2 338.5L337.6 338.1L338.1 339.1L338.6 338.7L339.0 339.7L339.5 339.3L339.9 340.2L340.4 339.9L340.9 340.8L341.3 340.4L341.8 341.4L342.2 341.0L342.7 341.9L343.2 341.6L343.6 342.5L344.1 342.1L344.5 343.0L345.0 342.7L345.5 343.6L345.9 343.2L346.4 344.1L346.8 343.8L347.3 344.7L347.8 344.3L348.2 345.2L348.7 344.8L349.1 345.7L349.6 345.4L350.1 346.3L350.5 345.9L351.0 346.8L351.4 346.4L351.9 347.3L352.4 346.9L352.8 347.8L353.3 347.5L353.7 348.3L354.2 347.9L354.7 348.8L355.1 348.4L355.6 349.3L356.0 348.9L356.5 349.8L357.0 349.4L357.4 350.3L357.9 349.9L358.3 350.8L358.8 350.4L359.3 351.3L359.7 350.9L360.2 351.8L360.6 351.5L361.1 352.4L361.6 352.0L362.0 352.9L362.5 352.6L362.9 353.5L363.4 353.2L363.9 354.2L364.3 353.8L364.8 354.8L365.2 354.5L365.7 355.5L366.2 355.2L366.6 356.2L367.1 355.9L367.5 356.9L368.0 356.6L368.5 357.6L368.9 357.3L369.4 358.3L369.8 357.9L370.3 358.9L370.8 358.6L371.2 359.5L371.7 359.2L372.1 360.1L372.6 359.7L373.1 360.7L373.5 360.3L374.0 361.2L374.4 360.9L374.9 361.8L375.4 361.4L375.8 362.3L376.3 362.0L376.7 362.9L377.2 362.5L377.7 363.4L378.1 363.0L378.6 364.0L379.0 363.6L379.5 364.5L380.0 364.1L380.4 365.1L380.9 364.7L381.3 365.6L381.8 365.3L382.3 366.2L382.7 365.8L383.2 366.7L383.6 366.4L384.1 367.3L384.6 366.9L385.0 367.8L385.5 367.5L385.9 368.4L386.4 368.0L386.9 368.9L387.3 368.5L387.8 369.5L388.2 369.1L388.7 370.0L389.2 369.6L389.6 370.5L390.1 370.2L390.5 371.1L391.0 370.7L391.5 371.6L391.9 371.2L392.4 372.2L392.8 371.8L393.3 372.7L393.8 372.3L394.2 373.2L394.7 372.8L395.1 373.7L395.6 373.3L396.1 374.2L396.5 373.9L397.0 374.8L397.4 374.4L397.9 375.3L398.4 374.9L398.8 375.8L399.3 375.4L399.7 376.3L400.2 375.9L400.7 376.8L401.1 376.4L401.6 377.3L402.0 376.9L402.5 377.8L403.0 377.4L403.4 378.2L403.9 377.8L404.3 378.7L404.8 378.3L405.3 379.2L405.7 378.8L406.2 379.6L406.6 379.2L407.1 380.1L407.6 379.7L408.0 380.5L408.5 380.1L408.9 381.0L409.4 380.6L409.9 381.4L410.3 381.0L410.8 381.8L411.2 381.4L411.7 382.3L412.2 381.8L412.6 382.7L413.1 382.2L413.5 383.1L414.0 382.6L414.5 383.4L414.9 383.0L415.4 383.8L415.8 383.4L416.3 384.2L416.8 383.8L417.2 384.6L417.7 384.1L418.1 385.0L418.6 384.5L419.1 385.3L419.5 384.9L420.0 385.7L420.4 385.2L420.9 386.1L421.4 385.6L421.8 386.4L422.3 386.0L422.7 386.8L423.2 386.3L423.7 387.1L424.1 386.7L424.6 387.5L425.0 387.0L425.5 387.8L426.0 387.4L426.4 388.2L426.9 387.7L427.3 388.5L427.8 388.0L428.3 388.9L428.7 388.4L429.2 389.2L429.6 388.7L430.1 389.5L430.6 389.0L431.0 389.8L431.5 389.3L431.9 390.1L432.4 389.7L432.9 390.5L433.3 390.0L433.8 390.8L434.2 390.3L434.7 391.1L435.2 390.6L435.6 391.4L436.1 390.9L436.5 391.6L437.0 391.1L437.5 391.9L437.9 391.4L438.4 392.2L438.8 391.7L439.3 392.5L439.8 392.0L440.2 392.7L440.7 392.2L441.1 393.0L441.6 392.5L442.1 393.2L442.5 392.7L443.0 393.5L443.4 393.0L443.9 393.7L444.4 393.2L444.8 393.9L445.3 393.4L445.7 394.2L446.2 393.6L446.7 394.4L447.1 393.8L447.6 394.6L448.0 394.0L448.5 394.8L449.0 394.2L449.4 394.9L449.9 394.4L450.3 395.1L450.8 394.5L451.3 395.3L451.7 394.7L452.2 395.4L452.6 394.8L453.1 395.5L453.6 395.0L454.0 395.7L454.5 395.1L454.9 395.8L455.4 395.2L455.9 395.9L456.3 395.3L456.8 395.9L457.2 395.3L457.7 396.0L458.2 395.4L458.6 396.1L459.1 395.5L459.5 396.1L460.0 395.5L460.5 396.1L460.9 395.5L461.4 396.2L461.8 395.5L462.3 396.2L462.8 395.5L463.2 396.2L463.7 395.5L464.1 396.1L464.6 395.5L465.1 396.1L465.5 395.4L466.0 396.0L466.4 395.4L466.9 396.0L467.4 395.3L467.8 395.9L468.3 395.2L468.7 395.8L469.2 395.1L469.7 395.7L470.1 395.0L470.6 395.6L471.0 394.9L471.5 395.4L472.0 394.7L472.4 395.3L472.9 394.6L473.3 395.1L473.8 394.4L474.3 395.0L474.7 394.2L475.2 394.8L475.6 394.0L476.1 394.6L476.6 393.8L477.0 394.4L477.5 393.6L477.9 394.1L478.4 393.4L478.9 393.9L479.3 393.2L479.8 393.7L480.2 392.9L480.7 393.4L481.2 392.7L481.6 393.2L482.1 392.4L482.5 392.9L483.0 392.1L483.5 392.6L483.9 391.9L484.4 392.4L484.8 391.6L485.3 392.1L485.8 391.3L486.2 391.8L486.7 391.0L487.1 391.5L487.6 390.7L488.1 391.2L488.5 390.4L489.0 390.9L489.4 390.1L489.9 390.6L490.4 389.8L490.8 390.3L491.3 389.5L491.7 389.9L492.2 389.1L492.7 389.6L493.1 388.8L493.6 389.2L494.0 388.4L494.5 388.9L495.0 388.0L495.4 388.5L495.9 387.6L496.3 388.1L496.8 387.2L497.3 387.7L497.7 386.8L498.2 387.3L498.6 386.4L499.1 386.9L499.6 386.0L500.0 386.4L500.5 385.6L500.9 386.0L501.4 385.1L501.9 385.5L502.3 384.7L502.8 385.1L503.2 384.2L503.7 384.6L504.2 383.8L504.6 384.2L505.1 383.3L505.5 383.7L506.0 382.8L506.5 383.2L506.9 382.4L507.4 382.8L507.8 381.9L508.3 382.3L508.8 381.4L509.2 381.8L509.7 380.9L510.1 381.3L510.6 380.4L511.1 380.8L511.5 379.9L512.0 380.3L512.4 379.4L512.9 379.8L513.4 378.9L513.8 379.3L514.3 378.4L514.7 378.8L515.2 377.9L515.7 378.3L516.1 377.4L516.6 377.8L517.0 376.9L517.5 377.3L518.0 376.4L518.4 376.7L518.9 375.9L519.3 376.2L519.8 375.3L520.3 375.7L520.7 374.8L521.2 375.2L521.6 374.3L522.1 374.7L522.6 373.8L523.0 374.2L523.5 373.3L523.9 373.7L524.4 372.8L524.9 373.2L525.3 372.3L525.8 372.7L526.2 371.8L526.7 372.2L527.2 371.3L527.6 371.7L528.1 370.8L528.5 371.2L529.0 370.3L529.5 370.7L529.9 369.8L530.4 370.2L530.8 369.3L531.3 369.7L531.8 368.8L532.2 369.1L532.7 368.2L533.1 368.6L533.6 367.7L534.1 368.1L534.5 367.2L535.0 367.5L535.4 366.6L535.9 367.0L536.4 366.1L536.8 366.5L537.3 365.5L537.7 365.9L538.2 365.0L538.7 365.4L539.1 364.4L539.6 364.8L540.0 363.9L540.5 364.2L541.0 363.3L541.4 363.7L541.9 362.8L542.3 363.1L542.8 362.2L543.3 362.6L543.7 361.6L544.2 362.0L544.6 361.1L545.1 361.4L545.6 360.5L546.0 360.9L546.5 360.0L546.9 360.3L547.4 359.4L547.9 359.8L548.3 358.9L548.8 359.2L549.2 358.3L549.7 358.7L550.2 357.8L550.6 358.1L551.1 357.2L551.5 357.6L552.0 356.7L552.5 357.0L552.9 356.1L553.4 356.5L553.8 355.6L554.3 356.0L554.8 355.0L555.2 355.4L555.7 354.5L556.1 354.9L556.6 354.0L557.1 354.4L557.5 353.5L558.0 353.9L558.4 353.0L558.9 353.4L559.4 352.5L559.8 352.8L560.3 352.0L560.7 352.4L561.2 351.5L561.7 351.9L562.1 351.0L562.6 351.4L563.0 350.5L563.5 350.9L564.0 350.0L564.4 350.5L564.9 349.6L565.3 350.0L565.8 349.1L566.3 349.6L566.7 348.7L567.2 349.1L567.6 348.3L568.1 348.7L568.6 347.8L569.0 348.2L569.5 347.4L569.9 347.8L570.4 347.0L570.9 347.4L571.3 346.5L571.8 347.0L572.2 346.1L572.7 346.6L573.2 345.7L573.6 346.2L574.1 345.3L574.5 345.7L575.0 344.9L575.5 345.3L575.9 344.5L576.4 344.9L576.8 344.1L577.3 344.6L577.8 343.7L578.2 344.2L578.7 343.3L579.1 343.8L579.6 343.0L580.1 343.4L580.5 342.6L581.0 343.0L581.4 342.2L581.9 342.6L582.4 341.8L582.8 342.3L583.3 341.5L583.7 341.9L584.2 341.1L584.7 341.5L585.1 340.7L585.6 341.2L586.0 340.4L586.5 340.8L587.0 340.0L587.4 340.5L587.9 339.7L588.3 340.1L588.8 339.3L589.3 339.8L589.7 339.0L590.2 339.4L590.6 338.6L591.1 339.1L591.6 338.3L592.0 338.8L592.5 337.9L592.9 338.4L593.4 337.6L593.9 338.1L594.3 337.3L594.8 337.8L595.2 336.9L595.7 337.4L596.2 336.6L596.6 337.1L597.1 336.3L597.5 336.8L598.0 336.0L598.5 336.4L598.9 335.6L599.4 336.1L599.8 335.3L600.3 335.8L600.8 335.0L601.2 335.5L601.7 334.7L602.1 335.2L602.6 334.4L603.1 334.9L603.5 334.1L604.0 334.6L604.4 333.8L604.9 334.2L605.4 333.5L605.8 333.9L606.3 333.1L606.7 333.6L607.2 332.8L607.7 333.3L608.1 332.5L608.6 333.0L609.0 332.2L609.5 332.7L610.0 331.9L610.4 332.4L610.9 331.6L611.3 332.1L611.8 331.3L612.3 331.8L612.7 331.1L613.2 331.5L613.6 330.8L614.1 331.3L614.6 330.5L615.0 331.0L615.5 330.2L615.9 330.7L616.4 329.9L616.9 330.4L617.3 329.6L617.8 330.1L618.2 329.4L618.7 329.9L619.2 329.1L619.6 329.6L620.1 328.8L620.5 329.3L621.0 328.5L621.5 329.1L621.9 328.3L622.4 328.8L622.8 328.0L623.3 328.5L623.8 327.8L624.2 328.3L624.7 327.5L625.1 328.0L625.6 327.3L626.1 327.8L626.5 327.0L627.0 327.5L627.4 326.8L627.9 327.3L628.4 326.5L628.8 327.1L629.3 326.3L629.7 326.8L630.2 326.1L630.7 326.6L631.1 325.9L631.6 326.4L632.0 325.6L632.5 326.2L633.0 325.4L633.4 326.0L633.9 325.2L634.3 325.8L634.8 325.0L635.3 325.6L635.7 324.8L636.2 325.4L636.6 324.6L637.1 325.2L637.6 324.4L638.0 325.0L638.5 324.3L638.9 324.8L639.4 324.1L639.9 324.6L640.3 323.9L640.8 324.5L641.2 323.7L641.7 324.3L642.2 323.6L642.6 324.1L643.1 323.4L643.5 324.0L644.0 323.3L644.5 323.8L644.9 323.1L645.4 323.7L645.8 323.0L646.3 323.6L646.8 322.9L647.2 323.5L647.7 322.8L648.1 323.3L648.6 322.6L649.1 323.2L649.5 322.5L650.0 323.1L650.4 322.4L650.9 323.0L651.4 322.3L651.8 322.9L652.3 322.2L652.7 322.8L653.2 322.1L653.7 322.7L654.1 322.0L654.6 322.6L655.0 321.9L655.5 322.5L656.0 321.8L656.4 322.4L656.9 321.8L657.3 322.4L657.8 321.7L658.3 322.3L658.7 321.6L659.2 322.2L659.6 321.5L660.1 322.1L660.6 321.5L661.0 322.1L661.5 321.4L661.9 322.0L662.4 321.3L662.9 322.0L663.3 321.3L663.8 321.9L664.2 321.2L664.7 321.8L665.2 321.2L665.6 321.8L666.1 321.1L666.5 321.7L667.0 321.1L667.5 321.7L667.9 321.0L668.4 321.6L668.8 321.0L669.3 321.6L669.8 320.9L670.2 321.5L670.7 320.9L671.1 321.5L671.6 320.8L672.1 321.5L672.5 320.8L673.0 321.4L673.4 320.8L673.9 321.4L674.4 320.7L674.8 321.4L675.3 320.7L675.7 321.3L676.2 320.7L676.7 321.3L677.1 320.6L677.6 321.3L678.0 320.6L678.5 321.2L679.0 320.6L679.4 321.2L679.9 320.6L680.3 321.2L680.8 320.5L681.3 321.2L681.7 320.5L682.2 321.1L682.6 320.5L683.1 321.1L683.6 320.5L684.0 321.1L684.5 320.5L684.9 321.1L685.4 320.5L685.9 321.1L686.3 320.5L686.8 321.2L687.2 320.5L687.7 321.2L688.2 320.6L688.6 321.2L689.1 320.6L689.5 321.3L690.0 320.7L690.5 321.4L690.9 320.8L691.4 321.5L691.8 320.9L692.3 321.6L692.8 321.0L693.2 321.7L693.7 321.1L694.1 321.8L694.6 321.3L695.1 322.0L695.5 321.4L696.0 322.1L696.4 321.5L696.9 322.3L697.4 321.7L697.8 322.4L698.3 321.8L698.7 322.5L699.2 322.0L699.7 322.7L700.1 322.1L700.6 322.8L701.0 322.2L701.5 322.9L702.0 322.4L702.4 323.1L702.9 322.5L703.3 323.2L703.8 322.7L704.3 323.4L704.7 322.8L705.2 323.5L705.6 322.9L706.1 323.6L706.6 323.1L707.0 323.8L707.5 323.2L707.9 323.9L708.4 323.4L708.9 324.1L709.3 323.5L709.8 324.2L710.2 323.7L710.7 324.4L711.2 323.8L711.6 324.5L712.1 324.0L712.5 324.7L713.0 324.1L713.5 324.8L713.9 324.3L714.4 325.0L714.8 324.4L715.3 325.2L715.8 324.6L716.2 325.3L716.7 324.8L717.1 325.5L717.6 324.9L718.1 325.7L718.5 325.1L719.0 325.8L719.4 325.3L719.9 326.0L720.4 325.4L720.8 326.2L721.3 325.6L721.7 326.4L722.2 325.8L722.7 326.5L723.1 326.0L723.6 326.7L724.0 326.2L724.5 326.9L725.0 326.4L725.4 327.1L725.9 326.6L726.3 327.3L726.8 326.8L727.3 327.5L727.7 327.0L728.2 327.7L728.6 327.2L729.1 327.9L729.6 327.4L730.0 328.1L730.5 327.6L730.9 328.3L731.4 327.8L731.9 328.6L732.3 328.0L732.8 328.8L733.2 328.2L733.7 329.0L734.2 328.5L734.6 329.2L735.1 328.7L735.5 329.5L736.0 329.0L736.5 329.7L736.9 329.2L737.4 330.0L737.8 329.5L738.3 330.2L738.8 329.7L739.2 330.5L739.7 330.0L740.1 330.8L740.6 330.3L741.1 331.0L741.5 330.5L742.0 331.3L742.4 330.8L742.9 331.6L743.4 331.1L743.8 331.9L744.3 331.4L744.7 332.1L745.2 331.6L745.7 332.4L746.1 331.9L746.6 332.7L747.0 332.2L747.5 333.0L748.0 332.5L748.4 333.3L748.9 332.8L749.3 333.6L749.8 333.1L750.3 333.9L750.7 333.4L751.2 334.2L751.6 333.7L752.1 334.5L752.6 334.0L753.0 334.8L753.5 334.3L753.9 335.1L754.4 334.6L754.9 335.4L755.3 334.9L755.8 335.7L756.2 335.3L756.7 336.1L757.2 335.6L757.6 336.4L758.1 335.9L758.5 336.7L759.0 336.2L759.5 337.0L759.9 336.6L760.4 337.4L760.8 336.9L761.3 337.7L761.8 337.2L762.2 338.0L762.7 337.6L763.1 338.4L763.6 337.9L764.1 338.7L764.5 338.2L765.0 339.1L765.4 338.6L765.9 339.4L766.4 338.9L766.8 339.7L767.3 339.3L767.7 340.1L768.2 339.6L768.7 340.5L769.1 340.0L769.6 340.8L770.0 340.4L770.5 341.2L771.0 340.7L771.4 341.5L771.9 341.1L772.3 341.9L772.8 341.5L773.3 342.3L773.7 341.8L774.2 342.7L774.6 342.2L775.1 343.0L775.6 342.6L776.0 343.4L776.5 343.0L776.9 343.8L777.4 343.4L777.9 344.2L778.3 343.8L778.8 344.6L779.2 344.1L779.7 345.0L780.2 344.6L780.6 345.4L781.1 345.0L781.5 345.8L782.0 345.4L782.5 346.2L782.9 345.8L783.4 346.7L783.8 346.2L784.3 347.1L784.8 346.7L785.2 347.6L785.7 347.1L786.1 348.0L786.6 347.6L787.1 348.5L787.5 348.1L788.0 348.9L788.4 348.5L788.9 349.4L789.4 349.0L789.8 349.9L790.3 349.5L790.7 350.4L791.2 350.0L791.7 350.9L792.1 350.5L792.6 351.4L793.0 351.0L793.5 351.9L794.0 351.5L794.4 352.4L794.9 352.0L795.3 352.9L795.8 352.6L796.3 353.5L796.7 353.1L797.2 354.0L797.6 353.6L798.1 354.5L798.6 354.1L799.0 355.0L799.5 354.7L799.9 355.6L800.4 355.2L800.9 356.1L801.3 355.7L801.8 356.6L802.2 356.2L802.7 357.2L803.2 356.8L803.6 357.7L804.1 357.3L804.5 358.2L805.0 357.8L805.5 358.8L805.9 358.4L806.4 359.3L806.8 358.9L807.3 359.8L807.8 359.4L808.2 360.3L808.7 360.0L809.1 360.9L809.6 360.5L810.1 361.4L810.5 361.0L811.0 361.9L811.4 361.5L811.9 362.4L812.4 362.0L812.8 362.9L813.3 362.5L813.7 363.3L814.2 362.9L814.7 363.8L815.1 363.4L815.6 364.3L816.0 363.9L816.5 364.7L817.0 364.3L817.4 365.2L817.9 364.7L818.3 365.6L818.8 365.2L819.3 366.0L819.7 365.6L820.2 366.4L820.6 366.0L821.1 366.8L821.6 366.4L822.0 367.2L822.5 366.8L822.9 367.6L823.4 367.2L823.9 368.0L824.3 367.6L824.8 368.4L825.2 368.0L825.7 368.8L826.2 368.3L826.6 369.2L827.1 368.7L827.5 369.6L828.0 369.1L828.5 370.0L828.9 369.5L829.4 370.4L829.8 369.9L830.3 370.8L830.8 370.4L831.2 371.2L831.7 370.8L832.1 371.7L832.6 371.3L833.1 372.1L833.5 371.7L834.0 372.6L834.4 372.2L834.9 373.1L835.4 372.7L835.8 373.5L836.3 373.1L836.7 374.0L837.2 373.6L837.7 374.5L838.1 374.1L838.6 375.0L839.0 374.6L839.5 375.5L840.0 375.1L840.4 376.0L840.9 375.6L841.3 376.4L841.8 376.0L842.3 376.9L842.7 376.5L843.2 377.4L843.6 377.0L844.1 377.9L844.6 377.4L845.0 378.3L845.5 377.9L845.9 378.8L846.4 378.3L846.9 379.2L847.3 378.8L847.8 379.6L848.2 379.2L848.7 380.0L849.2 379.6L849.6 380.5L850.1 380.0L850.5 380.9L851.0 380.4L851.5 381.3L851.9 380.8L852.4 381.6L852.8 381.2L853.3 382.0L853.8 381.6L854.2 382.4L854.7 382.0L855.1 382.8L855.6 382.3L856.1 383.2L856.5 382.7L857.0 383.5L857.4 383.1L857.9 383.9L858.4 383.4L858.8 384.3L859.3 383.8L859.7 384.6L860.2 384.2L860.7 385.0L861.1 384.5L861.6 385.4L862.0 384.9L862.5 385.7L863.0 385.2L863.4 386.1L863.9 385.6L864.3 386.4L864.8 386.0L865.3 386.8L865.7 386.3L866.2 387.1L866.6 386.7L867.1 387.5L867.6 387.0L868.0 387.8L868.5 387.3L868.9 388.2L869.4 387.7L869.9 388.5L870.3 388.0L870.8 388.8L871.2 388.4L871.7 389.2L872.2 388.7L872.6 389.5L873.1 389.0L873.5 389.9L874.0 389.4L874.5 390.2L874.9 389.7L875.4 390.5L875.8 390.0L876.3 390.8L876.8 390.4L877.2 391.2L877.7 390.7L878.1 391.5L878.6 391.0L879.1 391.8L879.5 391.3L880.0 392.1L880.4 391.6L880.9 392.4L881.4 391.9L881.8 392.7L882.3 392.2L882.7 392.9L883.2 392.4L883.7 393.2L884.1 392.7L884.6 393.5L885.0 392.9L885.5 393.7L886.0 393.1L886.4 393.9L886.9 393.3L887.3 394.0L887.8 393.4L888.3 394.1L888.7 393.5L889.2 394.2L889.6 393.5L890.1 394.2L890.6 393.5L891.0 394.1L891.5 393.4L891.9 394.0L892.4 393.4L892.9 394.0L893.3 393.4L893.8 394.0L894.2 393.4L894.7 394.0L895.2 393.4L895.6 394.1L896.1 393.4L896.5 394.1L897.0 393.5L897.5 394.1L897.9 393.5L898.4 394.1L898.8 393.4L899.3 394.1L899.8 393.4L900.2 394.0L900.7 393.3L901.1 393.9L901.6 393.2L902.1 393.8L902.5 393.1L903.0 393.7L903.4 393.0L903.9 393.6L904.4 392.9L904.8 393.4L905.3 392.7L905.7 393.3L906.2 392.6L906.7 393.2L907.1 392.5L907.6 393.0L908.0 392.3L908.5 392.9L909.0 392.2L909.4 392.8L909.9 392.1L910.3 392.6L910.8 391.9L911.3 392.5L911.7 391.8L912.2 392.3L912.6 391.6L913.1 392.2L913.6 391.5L914.0 392.0L914.5 391.3L914.9 391.9L915.4 391.2L915.9 391.7L916.3 391.0L916.8 391.5L917.2 390.8L917.7 391.4L918.2 390.6L918.6 391.2L919.1 390.4L919.5 391.0L920.0 390.2L920.5 390.8L920.9 390.0L921.4 390.6L921.8 389.8L922.3 390.3L922.8 389.6L923.2 390.1L923.7 389.3L924.1 389.8L924.6 389.1L925.1 389.6L925.5 388.8L926.0 389.3L926.4 388.5L926.9 389.0L927.4 388.2L927.8 388.7L928.3 387.9L928.7 388.3L929.2 387.5L929.7 388.0L930.1 387.1L930.6 387.6L931.0 386.7L931.5 387.2L932.0 386.3L932.4 386.8L932.9 385.9L933.3 386.3L933.8 385.5L934.3 385.9L934.7 385.0L935.2 385.5L935.6 384.6L936.1 385.0L936.6 384.1L937.0 384.5L937.5 383.7L937.9 384.1L938.4 383.2L938.9 383.6L939.3 382.7L939.8 383.1L940.2 382.2L940.7 382.6L941.2 381.7L941.6 382.1L942.1 381.3L942.5 381.6L943.0 380.8L943.5 381.2L943.9 380.3L944.4 380.7L944.8 379.8L945.3 380.2L945.8 379.3L946.2 379.7L946.7 378.8L947.1 379.2L947.6 378.3L948.1 378.7L948.5 377.9L949.0 378.3L949.4 377.4L949.9 377.8L950.4 376.9L950.8 377.4L951.3 376.5L951.7 376.9L952.2 376.1L952.7 376.5L953.1 375.7L953.6 376.1L954.0 375.3L954.5 375.8L955.0 375.0L955.4 375.4L955.9 374.6L956.3 375.1L956.8 374.3L957.3 374.7L957.7 373.9L958.2 374.3L958.6 373.5L959.1 373.9L959.6 373.1L960.0 373.5L960.5 372.7L960.9 373.1L961.4 372.2L961.9 372.6L962.3 371.7L962.8 372.2L963.2 371.3L963.7 371.7L964.2 370.8L964.6 371.2L965.1 370.3L965.5 370.7L966.0 369.8L966.5 370.2L966.9 369.3L967.4 369.7L967.8 368.8L968.3 369.2L968.8 368.3L969.2 368.6L969.7 367.7L970.1 368.1L970.6 367.2L971.1 367.6L971.5 366.7L972.0 367.0L972.4 366.1L972.9 366.5L973.4 365.6L973.8 366.0L974.3 365.1L974.7 365.4L975.2 364.5L975.7 364.9L976.1 364.0L976.6 364.4L977.0 363.4L977.5 363.8L978.0 362.9L978.4 363.3L978.9 362.4L979.3 362.7L979.8 361.8L980.3 362.2L980.7 361.3L981.2 361.6L981.6 360.7L982.1 361.1L982.6 360.2L983.0 360.6L983.5 359.6L983.9 360.0L984.4 359.1L984.9 359.5L985.3 358.6L985.8 358.9L986.2 358.0L986.7 358.4L987.2 357.5L987.6 357.9L988.1 356.9L988.5 357.3L989.0 356.4L989.5 356.8L989.9 355.9L990.4 356.2L990.8 355.3L991.3 355.7L991.8 354.8L992.2 355.2L992.7 354.3L993.1 354.6L993.6 353.7L994.1 354.1L994.5 353.2L995.0 353.6L995.4 352.7L995.9 353.1L996.4 352.2L996.8 352.5L997.3 351.6L997.7 352.0L998.2 351.1L998.7 351.5L999.1 350.6L999.6 351.0L1000.0 350.1L1000.5 350.5L1001.0 349.6L1001.4 350.0L1001.9 349.1L1002.3 349.5L1002.8 348.6L1003.3 349.0L1003.7 348.1L1004.2 348.5L1004.6 347.6L1005.1 348.0L1005.6 347.1L1006.0 347.5L1006.5 346.6L1006.9 347.0L1007.4 346.1L1007.9 346.5L1008.3 345.6L1008.8 346.0L1009.2 345.1L1009.7 345.5L1010.2 344.6L1010.6 345.0L1011.1 344.2L1011.5 344.6L1012.0 343.7L1012.5 344.1L1012.9 343.2L1013.4 343.6L1013.8 342.7L1014.3 343.1L1014.8 342.2L1015.2 342.6L1015.7 341.7L1016.1 342.1L1016.6 341.2L1017.1 341.6L1017.5 340.8L1018.0 341.2L1018.4 340.3L1018.9 340.7L1019.4 339.8L1019.8 340.2L1020.3 339.3L1020.7 339.7L1021.2 338.9L1021.7 339.3L1022.1 338.4L1022.6 338.8L1023.0 337.9L1023.5 338.3L1024.0 337.5L1024.4 337.9L1024.9 337.0L1025.3 337.4L1025.8 336.5L1026.3 336.9L1026.7 336.1L1027.2 336.5L1027.6 335.6L1028.1 336.0L1028.6 335.2L1029.0 335.6L1029.5 334.7L1029.9 335.1L1030.4 334.3L1030.9 334.7L1031.3 333.8L1031.8 334.3L1032.2 333.4L1032.7 333.8L1033.2 333.0L1033.6 333.4L1034.1 332.6L1034.5 333.0L1035.0 332.1L1035.5 332.6L1035.9 331.7L1036.4 332.1L1036.8 331.3L1037.3 331.7L1037.8 330.9L1038.2 331.3L1038.7 330.5L1039.1 330.9L1039.6 330.1L1040.1 330.5L1040.5 329.7L1041.0 330.1L1041.4 329.3L1041.9 329.7L1042.4 328.9L1042.8 329.4L1043.3 328.5L1043.7 329.0L1044.2 328.2L1044.7 328.6L1045.1 327.8L1045.6 328.2L1046.0 327.4L1046.5 327.9L1047.0 327.1L1047.4 327.5L1047.9 326.7L1048.3 327.2L1048.8 326.4L1049.3 326.8L1049.7 326.0L1050.2 326.5L1050.6 325.7L1051.1 326.1L1051.6 325.3L1052.0 325.8L1052.5 325.0L1052.9 325.5L1053.4 324.7L1053.9 325.1L1054.3 324.3L1054.8 324.8L1055.2 324.0L1055.7 324.5L1056.2 323.7L1056.6 324.2L1057.1 323.4L1057.5 323.8L1058.0 323.0L1058.5 323.5L1058.9 322.7L1059.4 323.2L1059.8 322.4L1060.3 322.9L1060.8 322.1L1061.2 322.6L1061.7 321.8L1062.1 322.3L1062.6 321.5L1063.1 322.0L1063.5 321.2L1064.0 321.7L1064.4 320.9L1064.9 321.3L1065.4 320.6L1065.8 321.0L1066.3 320.3L1066.7 320.7L1067.2 320.0L1067.7 320.4L1068.1 319.7L1068.6 320.1L1069.0 319.4L1069.5 319.8L1070.0 319.1L1070.4 319.6L1070.9 318.8L1071.3 319.3L1071.8 318.5L1072.3 319.0L1072.7 318.2L1073.2 318.7L1073.6 317.9L1074.1 318.4L1074.6 317.6L1075.0 318.1L1075.5 317.3L1075.9 317.8L1076.4 317.0L1076.9 317.5L1077.3 316.7L1077.8 317.2L1078.2 316.4L1078.7 316.9L1079.2 316.1L1079.6 316.6L1080.1 315.8L1080.5 316.3L1081.0 315.5L1081.5 316.0L1081.9 315.2L1082.4 315.7L1082.8 314.9L1083.3 315.4L1083.8 314.6L1084.2 315.1L1084.7 314.3L1085.1 314.8L1085.6 314.0L1086.1 314.5L1086.5 313.7L1087.0 314.2L1087.4 313.4L1087.9 313.9L1088.4 313.1L1088.8 313.6L1089.3 312.9L1089.7 313.4L1090.2 312.6L1090.7 313.1L1091.1 312.3L1091.6 312.9L1092.0 312.1L1092.5 312.7L1093.0 311.9L1093.4 312.4L1093.9 311.7L1094.3 312.3L1094.8 311.5L1095.3 312.1L1095.7 311.4L1096.2 311.9L1096.6 311.2L1097.1 311.8L1097.6 311.1L1098.0 311.6L1098.5 310.9L1098.9 311.5L1099.4 310.8L1099.9 311.3L1100.3 310.6L1100.8 311.2L1101.2 310.5L1101.7 311.1L1102.2 310.4L1102.6 311.0L1103.1 310.3L1103.5 310.8L1104.0 310.1L1104.5 310.7L1104.9 310.0L1105.4 310.6L1105.8 309.9L1106.3 310.5L1106.8 309.8L1107.2 310.4L1107.7 309.7L1108.1 310.3L1108.6 309.6L1109.1 310.1L1109.5 309.5L1110.0 310.0L1110.4 309.3L1110.9 309.9L1111.4 309.2L1111.8 309.8L1112.3 309.1L1112.7 309.7L1113.2 309.1L1113.7 309.6L1114.1 309.0L1114.6 309.6L1115.0 308.9L1115.5 309.5L1116.0 308.8L1116.4 309.4L1116.9 308.7L1117.3 309.3L1117.8 308.6L1118.3 309.2L1118.7 308.5L1119.2 309.1L1119.6 308.5L1120.1 309.1L1120.6 308.4L1121.0 309.0L1121.5 308.3L1121.9 308.9L1122.4 308.2L1122.9 308.8L1123.3 308.2L1123.8 308.8L1124.2 308.1L1124.7 308.7L1125.2 308.1L1125.6 308.7L1126.1 308.0L1126.5 308.6L1127.0 307.9L1127.5 308.6L1127.9 307.9L1128.4 308.5L1128.8 307.9L1129.3 308.5L1129.8 307.8L1130.2 308.4L1130.7 307.8L1131.1 308.4L1131.6 307.8L1132.1 308.4L1132.5 307.7L1133.0 308.4L1133.4 307.7L1133.9 308.3L1134.4 307.7L1134.8 308.3L1135.3 307.7L1135.7 308.3L1136.2 307.7L1136.7 308.3L1137.1 307.7L1137.6 308.3L1138.0 307.7L1138.5 308.3L1139.0 307.7L1139.4 308.3L1139.9 307.7L1140.3 308.4L1140.8 307.7L1141.3 308.4L1141.7 307.8L1142.2 308.4L1142.6 307.8L1143.1 308.5L1143.6 307.8L1144.0 308.5L1144.5 307.9L1144.9 308.5L1145.4 307.9L1145.9 308.6L1146.3 308.0L1146.8 308.7L1147.2 308.0L1147.7 308.7L1148.2 308.1L1148.6 308.8L1149.1 308.2L1149.5 308.8L1150.0 308.2L1150.5 308.9L1150.9 308.3L1151.4 309.0L1151.8 308.4L1152.3 309.1L1152.8 308.5L1153.2 309.1L1153.7 308.5L1154.1 309.2L1154.6 308.6L1155.1 309.3L1155.5 308.7L1156.0 309.4L1156.4 308.8L1156.9 309.5L1157.4 308.9L1157.8 309.6L1158.3 309.0L1158.7 309.7L1159.2 309.1L1159.7 309.8L1160.1 309.2L1160.6 309.9L1161.0 309.3L1161.5 310.0L1162.0 309.4L1162.4 310.1L1162.9 309.5L1163.3 310.2L1163.8 309.7L1164.3 310.4L1164.7 309.8L1165.2 310.5L1165.6 309.9L1166.1 310.6L1166.6 310.0L1167.0 310.7L1167.5 310.2L1167.9 310.9L1168.4 310.3L1168.9 311.0L1169.3 310.4L1169.8 311.1L1170.2 310.6L1170.7 311.3L1171.2 310.7L1171.6 311.4L1172.1 310.8L1172.5 311.6L1173.0 311.0L1173.5 311.7L1173.9 311.2L1174.4 311.9L1174.8 311.3L1175.3 312.0L1175.8 311.5L1176.2 312.2L1176.7 311.6L1177.1 312.4L1177.6 311.8L1178.1 312.6L1178.5 312.0L1179.0 312.7L1179.4 312.2L1179.9 313.0L1180.4 312.4L1180.8 313.2L1181.3 312.6L1181.7 313.4L1182.2 312.9L1182.7 313.6L1183.1 313.1L1183.6 313.9L1184.0 313.4L1184.5 314.1L1185.0 313.6L1185.4 314.4L1185.9 313.9L1186.3 314.7L1186.8 314.2L1187.3 315.0L1187.7 314.5L1188.2 315.3L1188.6 314.8L1189.1 315.6L1189.6 315.1L1190.0 315.9L1190.5 315.4L1190.9 316.2L1191.4 315.8L1191.9 316.6L1192.3 316.1L1192.8 316.9L1193.2 316.4L1193.7 317.2L1194.2 316.7L1194.6 317.6L1195.1 317.1L1195.5 317.9L1196.0 317.4L1196.5 318.2L1196.9 317.7L1197.4 318.5L1197.8 318.1L1198.3 318.9L1198.8 318.4L1199.2 319.2L1199.7 318.7L1200.1 319.5L1200.6 319.0L1201.1 319.8L1201.5 319.3L1202.0 320.1L1202.4 319.6L1202.9 320.4L1203.4 319.9L1203.8 320.6L1204.3 320.2L1204.7 320.9L1205.2 320.4L1205.7 321.2L1206.1 320.7L1206.6 321.5L1207.0 321.0L1207.5 321.8L1208.0 321.3L1208.4 322.1L1208.9 321.6L1209.3 322.4L1209.8 321.9L1210.3 322.7L1210.7 322.2L1211.2 323.0L1211.6 322.5L1212.1 323.3L1212.6 322.8L1213.0 323.6L1213.5 323.1L1213.9 323.9L1214.4 323.4L1214.9 324.2L1215.3 323.8L1215.8 324.6L1216.2 324.1L1216.7 324.9L1217.2 324.4L1217.6 325.2L1218.1 324.8L1218.5 325.6L1219.0 325.1L1219.5 326.0L1219.9 325.5L1220.4 326.3L1220.8 325.9L1221.3 326.7L1221.8 326.3L1222.2 327.1L1222.7 326.6L1223.1 327.5L1223.6 327.0L1224.1 327.9L1224.5 327.5L1225.0 328.3L1225.4 327.9L1225.9 328.8L1226.4 328.3L1226.8 329.2L1227.3 328.8L1227.7 329.7L1228.2 329.3L1228.7 330.1L1229.1 329.7L1229.6 330.6L1230.0 330.2L1230.5 331.1L1231.0 330.7L1231.4 331.6L1231.9 331.2L1232.3 332.1L1232.8 331.7L1233.3 332.6L1233.7 332.2L1234.2 333.1L1234.6 332.7L1235.1 333.6L1235.6 333.3L1236.0 334.2L1236.5 333.8L1236.9 334.7L1237.4 334.3L1237.9 335.2L1238.3 334.9L1238.8 335.8L1239.2 335.4L1239.7 336.3L1240.2 335.9L1240.6 336.8L1241.1 336.5L1241.5 337.4L1242.0 337.0L1242.5 337.9L1242.9 337.5L1243.4 338.4L1243.8 338.1L1244.3 339.0L1244.8 338.6L1245.2 339.5L1245.7 339.1L1246.1 340.0L1246.6 339.6L1247.1 340.5L1247.5 340.1L1248.0 341.0L1248.4 340.6L1248.9 341.5L1249.4 341.1L1249.8 342.0L1250.3 341.6L1250.7 342.5L1251.2 342.1L1251.7 343.0L1252.1 342.6L1252.6 343.5L1253.0 343.1L1253.5 344.0L1254.0 343.6L1254.4 344.5L1254.9 344.1L1255.3 345.0L1255.8 344.6L1256.3 345.4L1256.7 345.1L1257.2 345.9L1257.6 345.5L1258.1 346.4L1258.6 346.0L1259.0 346.9L1259.5 346.5L1259.9 347.4L1260.4 347.0L1260.9 347.9L1261.3 347.5L1261.8 348.4L1262.2 348.0L1262.7 348.9L1263.2 348.5L1263.6 349.4L1264.1 349.0L1264.5 349.9L1265.0 349.5L1265.5 350.4L1265.9 350.0L1266.4 350.9L1266.8 350.6L1267.3 351.5L1267.8 351.1L1268.2 352.0L1268.7 351.6L1269.1 352.5L1269.6 352.2L1270.1 353.1L1270.5 352.7L1271.0 353.6L1271.4 353.3L1271.9 354.2L1272.4 353.9L1272.8 354.8L1273.3 354.4L1273.7 355.4L1274.2 355.0L1274.7 356.0L1275.1 355.6L1275.6 356.6L1276.0 356.2L1276.5 357.2L1277.0 356.9L1277.4 357.8L1277.9 357.5L1278.3 358.4L1278.8 358.1L1279.3 359.1L1279.7 358.8L1280.2 359.7L1280.6 359.4L1281.1 360.4L1281.6 360.0L1282.0 361.0L1282.5 360.7L1282.9 361.7L1283.4 361.3L1283.9 362.3L1284.3 362.0L1284.8 363.0L1285.2 362.6L1285.7 363.6L1286.2 363.3L1286.6 364.3L1287.1 363.9L1287.5 364.9L1288.0 364.6L1288.5 365.5L1288.9 365.2L1289.4 366.2L1289.8 365.9L1290.3 366.8L1290.8 366.5L1291.2 367.4L1291.7 367.1L1292.1 368.1L1292.6 367.7L1293.1 368.7L1293.5 368.3L1294.0 369.3L1294.4 368.9L1294.9 369.8L1295.4 369.5L1295.8 370.4L1296.3 370.1L1296.7 371.0L1297.2 370.6L1297.7 371.5L1298.1 371.2L1298.6 372.1L1299.0 371.7L1299.5 372.6L1300.0 372.2L1300.4 373.1L1300.9 372.8L1301.3 373.7L1301.8 373.3L1302.3 374.2L1302.7 373.8L1303.2 374.7L1303.6 374.3L1304.1 375.2L1304.6 374.8L1305.0 375.7L1305.5 375.3L1305.9 376.2L1306.4 375.8L1306.9 376.7L1307.3 376.3L1307.8 377.2L1308.2 376.8L1308.7 377.7L1309.2 377.3L1309.6 378.2L1310.1 377.9L1310.5 378.7L1311.0 378.4L1311.5 379.2L1311.9 378.9L1312.4 379.8L1312.8 379.4L1313.3 380.3L1313.8 379.9L1314.2 380.8L1314.7 380.4L1315.1 381.3L1315.6 380.9L1316.1 381.8L1316.5 381.4L1317.0 382.4L1317.4 382.0L1317.9 382.9L1318.4 382.5L1318.8 383.5L1319.3 383.1L1319.7 384.0L1320.2 383.7L1320.7 384.6L1321.1 384.3L1321.6 385.3L1322.0 384.9L1322.5 385.9L1323.0 385.6L1323.4 386.6L1323.9 386.3L1324.3 387.3L1324.8 387.0L1325.3 388.1L1325.7 387.8L1326.2 388.8L1326.6 388.5L1327.1 389.6L1327.6 389.3L1328.0 390.3L1328.5 390.0L1328.9 391.0L1329.4 390.7L1329.9 391.7L1330.3 391.4L1330.8 392.4L1331.2 392.0L1331.7 393.0L1332.2 392.6L1332.6 393.6L1333.1 393.2L1333.5 394.1L1334.0 393.7L1334.5 394.6L1334.9 394.2L1335.4 395.1L1335.8 394.7L1336.3 395.6L1336.8 395.2L1337.2 396.1L1337.7 395.7L1338.1 396.6L1338.6 396.2L1339.1 397.0L1339.5 396.6L1340.0 397.5L1340.4 397.1L1340.9 397.9L1341.4 397.5L1341.8 398.4L1342.3 398.0L1342.7 398.8L1343.2 398.4L1343.7 399.3L1344.1 398.8L1344.6 399.7L1345.0 399.2L1345.5 400.1L1346.0 399.7L1346.4 400.5L1346.9 400.1L1347.3 400.9L1347.8 400.5L1348.3 401.3L1348.7 400.9L1349.2 401.7L1349.6 401.2L1350.1 402.1L1350.6 401.6L1351.0 402.5L1351.5 402.0L1351.9 402.8L1352.4 402.4L1352.9 403.2L1353.3 402.7L1353.8 403.5L1354.2 403.1L1354.7 403.9L1355.2 403.4L1355.6 404.2L1356.1 403.7L1356.5 404.5L1357.0 404.0L1357.5 404.8L1357.9 404.3L1358.4 405.1L1358.8 404.6L1359.3 405.4L1359.8 404.9L1360.2 405.6L1360.7 405.1L1361.1 405.9L1361.6 405.4L1362.1 406.1L1362.5 405.6L1363.0 406.4L1363.4 405.8L1363.9 406.6L1364.4 406.1L1364.8 406.8L1365.3 406.3L1365.7 407.0L1366.2 406.4L1366.7 407.2L1367.1 406.6L1367.6 407.3L1368.0 406.8L1368.5 407.5L1369.0 406.9L1369.4 407.6L1369.9 407.1L1370.3 407.8L1370.8 407.2L1371.3 407.9L1371.7 407.3L1372.2 407.9L1372.6 407.3L1373.1 408.0L1373.6 407.4L1374.0 408.1L1374.5 407.4L1374.9 408.1L1375.4 407.5L1375.9 408.1L1376.3 407.5L1376.8 408.1L1377.2 407.5L1377.7 408.1L1378.2 407.4L1378.6 408.0L1379.1 407.4L1379.5 408.0L1380.0 407.3L1380.5 407.9L1380.9 407.2L1381.4 407.7L1381.8 407.0L1382.3 407.6L1382.8 406.9L1383.2 407.4L1383.7 406.7L1384.1 407.3L1384.6 406.5L1385.1 407.1L1385.5 406.3L1386.0 406.9L1386.4 406.1L1386.9 406.6L1387.4 405.9L1387.8 406.3L1388.3 405.5L1388.7 405.9L1389.2 404.9L1389.7 405.3L1390.1 404.3L1390.6 404.6L1391.0 403.6L1391.5 403.9L1392.0 402.9L1392.4 403.1L1392.9 402.2L1393.3 402.5L1393.8 401.5L1394.3 401.8L1394.7 400.9L1395.2 401.3L1395.6 400.5L1396.1 400.9L1396.6 400.1L1397.0 400.6L1397.5 399.7L1397.9 400.1L1398.4 399.2L1398.9 399.6L1399.3 398.7L1399.8 399.0L1400.2 398.1L1400.7 398.4L1401.2 397.4L1401.6 397.7L1402.1 396.7L1402.5 397.0L1403.0 396.0L1403.5 396.3L1403.9 395.3L1404.4 395.5L1404.8 394.5L1405.3 394.8L1405.8 393.7L1406.2 394.0L1406.7 393.0L1407.1 393.3L1407.6 392.3L1408.1 392.6L1408.5 391.6L1409.0 391.9L1409.4 390.9L1409.9 391.2L1410.4 390.2L1410.8 390.6L1411.3 389.6L1411.7 390.0L1412.2 389.0L1412.7 389.4L1413.1 388.5L1413.6 388.9L1414.0 388.0L1414.5 388.4L1415.0 387.5L1415.4 387.8L1415.9 386.8L1416.3 387.1L1416.8 386.1L1417.3 386.4L1417.7 385.4L1418.2 385.6L1418.6 384.6L1419.1 384.9L1419.6 383.9L1420.0 384.2L1420.5 383.3L1420.9 383.7L1421.4 382.8L1421.9 383.2L1422.3 382.4L1422.8 382.8L1423.2 382.0L1423.7 382.5L1424.2 381.7L1424.6 382.2L1425.1 381.4L1425.5 381.9L1426.0 381.1L1426.5 381.6L1426.9 380.9L1427.4 381.4L1427.8 380.6L1428.3 381.2L1428.8 380.4L1429.2 381.0L1429.7 380.2L1430.1 380.8L1430.6 380.0L1431.1 380.6L1431.5 379.8L1432.0 380.4L1432.4 379.6L1432.9 380.2L1433.4 379.4L1433.8 379.9L1434.3 379.2L1434.7 379.7L1435.2 378.9L1435.7 379.4L1436.1 378.6L1436.6 379.1L1437.0 378.3L1437.5 378.8L1438.0 378.0L1438.4 378.4L1438.9 377.6L1439.3 378.0L1439.8 377.1L1440.3 377.5L1440.7 376.6L1441.2 377.0L1441.6 376.1L1442.1 376.6L1442.6 375.7L1443.0 376.2L1443.5 375.4L1443.9 376.0L1444.4 375.2L1444.9 375.7L1445.3 375.0L1445.8 375.5L1446.2 374.8L1446.7 375.3L1447.2 374.5L1447.6 374.9L1448.1 374.1L1448.5 374.5L1449.0 373.5L1449.5 373.9L1449.9 373.0L1450.4 373.4L1450.8 372.6L1451.3 373.1L1451.8 372.3L1452.2 372.8L1452.7 372.1L1453.1 372.6L1453.6 371.9L1454.1 372.5L1454.5 371.8L1455.0 372.4L1455.4 371.6L1455.9 372.2L1456.4 371.5L1456.8 372.0L1457.3 371.3L1457.7 371.8L1458.2 371.0L1458.7 371.5L1459.1 370.6L1459.6 371.0L1460.0 370.1L1460.5 370.4L1461.0 369.5L1461.4 369.9L1461.9 369.0L1462.3 369.4L1462.8 368.6L1463.3 369.0L1463.7 368.1L1464.2 368.6L1464.6 367.8L1465.1 368.2L1465.6 367.4L1466.0 367.9L1466.5 367.1L1466.9 367.5L1467.4 366.7L1467.9 367.2L1468.3 366.4L1468.8 366.9L1469.2 366.1L1469.7 366.6L1470.2 365.8L1470.6 366.3L1471.1 365.5L1471.5 366.0L1472.0 365.2L1472.5 365.6L1472.9 364.8L1473.4 365.3L1473.8 364.5L1474.3 365.0L1474.8 364.1L1475.2 364.6L1475.7 363.7L1476.1 364.2L1476.6 363.3L1477.1 363.8L1477.5 362.9L1478.0 363.3L1478.4 362.4L1478.9 362.8L1479.4 361.9L1479.8 362.4L1480.3 361.5L1480.7 361.9L1481.2 361.1L1481.7 361.5L1482.1 360.7L1482.6 361.1L1483.0 360.3L1483.5 360.7L1484.0 359.9L1484.4 360.3L1484.9 359.5L1485.3 360.0L1485.8 359.1L1486.3 359.6L1486.7 358.8L1487.2 359.3L1487.6 358.4L1488.1 358.9L1488.6 358.1L1489.0 358.6L1489.5 357.8L1489.9 358.2L1490.4 357.4L1490.9 357.9L1491.3 357.1L1491.8 357.6L1492.2 356.8L1492.7 357.2L1493.2 356.4L1493.6 356.9L1494.1 356.1L1494.5 356.6L1495.0 355.8L1495.5 356.2L1495.9 355.4L1496.4 355.9L1496.8 355.0L1497.3 355.5L1497.8 354.6L1498.2 355.1L1498.7 354.2L1499.1 354.7L1499.6 353.8L1500.1 354.3L1500.5 353.4L1501.0 353.8L1501.4 352.9L1501.9 353.3L1502.4 352.4L1502.8 352.7L1503.3 351.8L1503.7 352.1L1504.2 351.2L1504.7 351.5L1505.1 350.6L1505.6 350.9L1506.0 349.9L1506.5 350.3L1507.0 349.3L1507.4 349.7L1507.9 348.8L1508.3 349.2L1508.8 348.3L1509.3 348.7L1509.7 347.8L1510.2 348.2L1510.6 347.4L1511.1 347.8L1511.6 347.0L1512.0 347.4L1512.5 346.6L1512.9 347.0L1513.4 346.2L1513.9 346.6L1514.3 345.8L1514.8 346.3L1515.2 345.4L1515.7 345.9L1516.2 345.1L1516.6 345.5L1517.1 344.7L1517.5 345.2L1518.0 344.4L1518.5 344.8L1518.9 344.0L1519.4 344.5L1519.8 343.7L1520.3 344.2L1520.8 343.3L1521.2 343.8L1521.7 343.0L1522.1 343.5L1522.6 342.7L1523.1 343.2L1523.5 342.4L1524.0 342.8L1524.4 342.0L1524.9 342.5L1525.4 341.7L1525.8 342.2L1526.3 341.4L1526.7 341.9L1527.2 341.1L1527.7 341.6L1528.1 340.8L1528.6 341.2L1529.0 340.4L1529.5 340.9L1530.0 340.1L1530.4 340.6L1530.9 339.8L1531.3 340.3L1531.8 339.5L1532.3 340.0L1532.7 339.2L1533.2 339.6L1533.6 338.8L1534.1 339.3L1534.6 338.5L1535.0 338.9L1535.5 338.0L1535.9 338.4L1536.4 337.5L1536.9 337.9L1537.3 337.0L1537.8 337.3L1538.2 336.4L1538.7 336.7L1539.2 335.8L1539.6 336.1L1540.1 335.2L1540.5 335.6L1541.0 334.7L1541.5 335.1L1541.9 334.2L1542.4 334.7L1542.8 333.9L1543.3 334.4L1543.8 333.7L1544.2 334.2L1544.7 333.4L1545.1 333.9L1545.6 333.1L1546.1 333.6L1546.5 332.8L1547.0 333.3L1547.4 332.5L1547.9 333.0L1548.4 332.2L1548.8 332.7L1549.3 331.9L1549.7 332.4L1550.2 331.6L1550.7 332.1L1551.1 331.3L1551.6 331.8L1552.0 331.0L1552.5 331.5L1553.0 330.7L1553.4 331.2L1553.9 330.4L1554.3 330.9L1554.8 330.1L1555.3 330.6L1555.7 329.8L1556.2 330.3L1556.6 329.5L1557.1 330.0L1557.6 329.2L1558.0 329.7L1558.5 328.9L1558.9 329.4L1559.4 328.6L1559.9 329.1L1560.3 328.4L1560.8 328.9L1561.2 328.1L1561.7 328.6L1562.2 327.8L1562.6 328.4L1563.1 327.6L1563.5 328.1L1564.0 327.4L1564.5 327.9L1564.9 327.2L1565.4 327.7L1565.8 327.0L1566.3 327.5L1566.8 326.8L1567.2 327.4L1567.7 326.7L1568.1 327.2L1568.6 326.5L1569.1 327.1L1569.5 326.3L1570.0 326.9L1570.4 326.1L1570.9 326.6L1571.4 325.9L1571.8 326.4L1572.3 325.6L1572.7 326.1L1573.2 325.3L1573.7 325.8L1574.1 325.0L1574.6 325.5L1575.0 324.7L1575.5 325.2L1576.0 324.4L1576.4 324.9L1576.9 324.1L1577.3 324.6L1577.8 323.9L1578.3 324.4L1578.7 323.6L1579.2 324.1L1579.6 323.4L1580.1 323.9L1580.6 323.2L1581.0 323.8L1581.5 323.1L1581.9 323.7L1582.4 323.0L1582.9 323.6L1583.3 322.9L1583.8 323.5L1584.2 322.9L1584.7 323.5L1585.2 322.8L1585.6 323.5L1586.1 322.8L1586.5 323.4L1587.0 322.8L1587.5 323.4L1587.9 322.8L1588.4 323.4L1588.8 322.8L1589.3 323.4L1589.8 322.8L1590.2 323.5L1590.7 322.8L1591.1 323.5L1591.6 322.8L1592.1 323.5L1592.5 322.9L1593.0 323.5L1593.4 322.9L1593.9 323.5L1594.4 322.9L1594.8 323.5L1595.3 322.9L1595.7 323.5L1596.2 322.9L1596.7 323.5L1597.1 322.9L1597.6 323.5L1598.0 322.9L1598.5 323.5L1599.0 322.8L1599.4 323.5L1599.9 322.8L1600.3 323.5L1600.8 322.8L1601.3 323.5L1601.7 322.8L1602.2 323.5L1602.6 322.9L1603.1 323.5L1603.6 322.9L1604.0 323.5L1604.5 322.9L1604.9 323.6L1605.4 323.0L1605.9 323.6L1606.3 323.0L1606.8 323.7L1607.2 323.1L1607.7 323.8L1608.2 323.2L1608.6 323.8L1609.1 323.2L1609.5 323.9L1610.0 323.3L1610.5 324.0L1610.9 323.4L1611.4 324.1L1611.8 323.5L1612.3 324.2L1612.8 323.7L1613.2 324.4L1613.7 323.8L1614.1 324.5L1614.6 323.9L1615.1 324.6L1615.5 324.0L1616.0 324.7L1616.4 324.1L1616.9 324.8L1617.4 324.3L1617.8 325.0L1618.3 324.4L1618.7 325.1L1619.2 324.5L1619.7 325.2L1620.1 324.7L1620.6 325.4L1621.0 324.8L1621.5 325.5L1622.0 324.9L1622.4 325.6L1622.9 325.0L1623.3 325.8L1623.8 325.2L1624.3 325.9L1624.7 325.3L1625.2 326.0L1625.6 325.5L1626.1 326.2L1626.6 325.6L1627.0 326.3L1627.5 325.7L1627.9 326.4L1628.4 325.9L1628.9 326.6L1629.3 326.0L1629.8 326.7L1630.2 326.2L1630.7 326.9L1631.2 326.3L1631.6 327.0L1632.1 326.5L1632.5 327.2L1633.0 326.6L1633.5 327.3L1633.9 326.8L1634.4 327.5L1634.8 326.9L1635.3 327.7L1635.8 327.1L1636.2 327.8L1636.7 327.3L1637.1 328.0L1637.6 327.4L1638.1 328.1L1638.5 327.6L1639.0 328.3L1639.4 327.8L1639.9 328.5L1640.4 327.9L1640.8 328.7L1641.3 328.1L1641.7 328.8L1642.2 328.3L1642.7 329.0L1643.1 328.5L1643.6 329.2L1644.0 328.7L1644.5 329.4L1645.0 328.9L1645.4 329.6L1645.9 329.1L1646.3 329.8L1646.8 329.3L1647.3 330.0L1647.7 329.5L1648.2 330.2L1648.6 329.7L1649.1 330.4L1649.6 329.9L1650.0 330.6L1650.5 330.1L1650.9 330.9L1651.4 330.3L1651.9 331.1L1652.3 330.6L1652.8 331.3L1653.2 330.8L1653.7 331.5L1654.2 331.0L1654.6 331.8L1655.1 331.3L1655.5 332.0L1656.0 331.5L1656.5 332.3L1656.9 331.7L1657.4 332.5L1657.8 332.0L1658.3 332.8L1658.8 332.2L1659.2 333.0L1659.7 332.5L1660.1 333.3L1660.6 332.7L1661.1 333.5L1661.5 333.0L1662.0 333.8L1662.4 333.3L1662.9 334.0L1663.4 333.5L1663.8 334.3L1664.3 333.8L1664.7 334.6L1665.2 334.1L1665.7 334.8L1666.1 334.3L1666.6 335.1L1667.0 334.6L1667.5 335.4L1668.0 334.9L1668.4 335.7L1668.9 335.2L1669.3 336.0L1669.8 335.5L1670.3 336.2L1670.7 335.7L1671.2 336.5L1671.6 336.0L1672.1 336.8L1672.6 336.3L1673.0 337.1L1673.5 336.6L1673.9 337.4L1674.4 337.0L1674.9 337.7L1675.3 337.3L1675.8 338.1L1676.2 337.6L1676.7 338.4L1677.2 337.9L1677.6 338.7L1678.1 338.2L1678.5 339.0L1679.0 338.6L1679.5 339.4L1679.9 338.9L1680.4 339.7L1680.8 339.2L1681.3 340.0L1681.8 339.6L1682.2 340.4L1682.7 339.9L1683.1 340.7L1683.6 340.3L1684.1 341.1L1684.5 340.6L1685.0 341.5L1685.4 341.0L1685.9 341.8L1686.4 341.4L1686.8 342.2L1687.3 341.8L1687.7 342.6L1688.2 342.1L1688.7 343.0L1689.1 342.5L1689.6 343.4L1690.0 342.9L1690.5 343.8L1691.0 343.3L1691.4 344.2L1691.9 343.7L1692.3 344.6L1692.8 344.1L1693.3 345.0L1693.7 344.6L1694.2 345.4L1694.6 345.0L1695.1 345.9L1695.6 345.4L1696.0 346.3L1696.5 345.9L1696.9 346.8L1697.4 346.4L1697.9 347.2L1698.3 346.8L1698.8 347.7L1699.2 347.3L1699.7 348.2L1700.2 347.8L1700.6 348.6L1701.1 348.2L1701.5 349.1L1702.0 348.7L1702.5 349.6L1702.9 349.2L1703.4 350.1L1703.8 349.7L1704.3 350.6L1704.8 350.2L1705.2 351.1L1705.7 350.7L1706.1 351.6L1706.6 351.2L1707.1 352.1L1707.5 351.7L1708.0 352.6L1708.4 352.2L1708.9 353.1L1709.4 352.7L1709.8 353.6L1710.3 353.2L1710.7 354.1L1711.2 353.7L1711.7 354.6L1712.1 354.3L1712.6 355.2L1713.0 354.8L1713.5 355.7L1714.0 355.3L1714.4 356.2L1714.9 355.8L1715.3 356.7L1715.8 356.3L1716.3 357.2L1716.7 356.8L1717.2 357.7L1717.6 357.4L1718.1 358.3L1718.6 357.9L1719.0 358.8L1719.5 358.4L1719.9 359.3L1720.4 358.9L1720.9 359.8L1721.3 359.4L1721.8 360.3L1722.2 359.9L1722.7 360.8L1723.2 360.4L1723.6 361.3L1724.1 360.9L1724.5 361.8L1725.0 361.4L1725.5 362.3L1725.9 361.9L1726.4 362.8L1726.8 362.4L1727.3 363.3L1727.8 362.9L1728.2 363.8L1728.7 363.4L1729.1 364.2L1729.6 363.8L1730.1 364.7L1730.5 364.3L1731.0 365.2L1731.4 364.8L1731.9 365.7L1732.4 365.3L1732.8 366.2L1733.3 365.8L1733.7 366.7L1734.2 366.3L1734.7 367.2L1735.1 366.8L1735.6 367.7L1736.0 367.3L1736.5 368.2L1737.0 367.8L1737.4 368.7L1737.9 368.3L1738.3 369.2L1738.8 368.8L1739.3 369.7L1739.7 369.3L1740.2 370.2L1740.6 369.8L1741.1 370.7L1741.6 370.3L1742.0 371.2L1742.5 370.8L1742.9 371.7L1743.4 371.3L1743.9 372.2L1744.3 371.8L1744.8 372.7L1745.2 372.3L1745.7 373.2L1746.2 372.8L1746.6 373.7L1747.1 373.3L1747.5 374.2L1748.0 373.8L1748.5 374.6L1748.9 374.3L1749.4 375.1L1749.8 374.7L1750.3 375.6L1750.8 375.2L1751.2 376.1L1751.7 375.7L1752.1 376.6L1752.6 376.2L1753.1 377.1L1753.5 376.7L1754.0 377.5L1754.4 377.1L1754.9 378.0L1755.4 377.6L1755.8 378.5L1756.3 378.1L1756.7 379.0L1757.2 378.6L1757.7 379.4L1758.1 379.0L1758.6 379.9L1759.0 379.5L1759.5 380.3L1760.0 379.9L1760.4 380.8L1760.9 380.4L1761.3 381.2L1761.8 380.8L1762.3 381.7L1762.7 381.3L1763.2 382.1L1763.6 381.7L1764.1 382.6L1764.6 382.1L1765.0 383.0L1765.5 382.6L1765.9 383.4L1766.4 383.0L1766.9 383.8L1767.3 383.4L1767.8 384.2L1768.2 383.8L1768.7 384.7L1769.2 384.2L1769.6 385.1L1770.1 384.6L1770.5 385.5L1771.0 385.0L1771.5 385.9L1771.9 385.4L1772.4 386.3L1772.8 385.8L1773.3 386.7L1773.8 386.2L1774.2 387.1L1774.7 386.6L1775.1 387.4L1775.6 387.0L1776.1 387.8L1776.5 387.4L1777.0 388.2L1777.4 387.8L1777.9 388.6L1778.4 388.1L1778.8 389.0L1779.3 388.5L1779.7 389.4L1780.2 388.9L1780.7 389.7L1781.1 389.3L1781.6 390.1L1782.0 389.6L1782.5 390.5L1783.0 390.0L1783.4 390.8L1783.9 390.4L1784.3 391.2L1784.8 390.8L1785.3 391.6L1785.7 391.1L1786.2 391.9L1786.6 391.5L1787.1 392.3L1787.6 391.8L1788.0 392.7L1788.5 392.2L1788.9 393.0L1789.4 392.6L1789.9 393.4L1790.3 392.9L1790.8 393.7L1791.2 393.3L1791.7 394.1L1792.2 393.6L1792.6 394.4L1793.1 394.0L1793.5 394.8L1794.0 394.3L1794.5 395.1L1794.9 394.7L1795.4 395.5L1795.8 395.0L1796.3 395.8L1796.8 395.3L1797.2 396.2L1797.7 395.7L1798.1 396.5L1798.6 396.0L1799.1 396.8L1799.5 396.4L1800.0 397.2L1800.4 396.7L1800.9 397.5L1801.4 397.0L1801.8 397.8L1802.3 397.4L1802.7 398.2L1803.2 397.7L1803.7 398.5L1804.1 398.0L1804.6 398.8L1805.0 398.3L1805.5 399.1L1806.0 398.7L1806.4 399.5L1806.9 399.0L1807.3 399.8L1807.8 399.3L1808.3 400.1L1808.7 399.6L1809.2 400.4L1809.6 399.9L1810.1 400.6L1810.6 400.0L1811.0 400.6L1811.5 400.0L1811.9 400.6L1812.4 399.9L1812.9 400.5L1813.3 399.8L1813.8 400.4L1814.2 399.7L1814.7 400.3L1815.2 399.6L1815.6 400.2L1816.1 399.5L1816.5 400.1L1817.0 399.4L1817.5 400.0L1817.9 399.3L1818.4 399.9L1818.8 399.2L1819.3 399.8L1819.8 399.0L1820.2 399.6L1820.7 398.9L1821.1 399.5L1821.6 398.8L1822.1 399.3L1822.5 398.6L1823.0 399.1L1823.4 398.4L1823.9 399.0L1824.4 398.2L1824.8 398.8L1825.3 398.1L1825.7 398.6L1826.2 397.9L1826.7 398.4L1827.1 397.7L1827.6 398.2L1828.0 397.5L1828.5 398.0L1829.0 397.2L1829.4 397.8L1829.9 397.0L1830.3 397.5L1830.8 396.8L1831.3 397.3L1831.7 396.5L1832.2 397.0L1832.6 396.3L1833.1 396.8L1833.6 396.0L1834.0 396.5L1834.5 395.7L1834.9 396.2L1835.4 395.4L1835.9 395.9L1836.3 395.1L1836.8 395.6L1837.2 394.8L1837.7 395.3L1838.2 394.5L1838.6 394.9L1839.1 394.1L1839.5 394.6L1840.0 393.8L1840.5 394.2L1840.9 393.4L1841.4 393.9L1841.8 393.1L1842.3 393.5L1842.8 392.7L1843.2 393.1L1843.7 392.3L1844.1 392.7L1844.6 391.9L1845.1 392.3L1845.5 391.5L1846.0 391.9L1846.4 391.1L1846.9 391.5L1847.4 390.6L1847.8 391.1L1848.3 390.2L1848.7 390.6L1849.2 389.8L1849.7 390.2L1850.1 389.3L1850.6 389.7L1851.0 388.9L1851.5 389.3L1852.0 388.4L1852.4 388.8L1852.9 387.9L1853.3 388.3L1853.8 387.4L1854.3 387.8L1854.7 386.9L1855.2 387.3L1855.6 386.5L1856.1 386.9L1856.6 386.0L1857.0 386.4L1857.5 385.5L1857.9 385.9L1858.4 385.0L1858.9 385.3L1859.3 384.5L1859.8 384.8L1860.2 383.9L1860.7 384.3L1861.2 383.4L1861.6 383.8L1862.1 382.9L1862.5 383.3L1863.0 382.4L1863.5 382.8L1863.9 381.9L1864.4 382.2L1864.8 381.3L1865.3 381.7L1865.8 380.8L1866.2 381.1L1866.7 380.2L1867.1 380.6L1867.6 379.7L1868.1 380.0L1868.5 379.1L1869.0 379.4L1869.4 378.5L1869.9 378.9L1870.4 378.0L1870.8 378.3L1871.3 377.4L1871.7 377.7L1872.2 376.8L1872.7 377.2L1873.1 376.2L1873.6 376.6L1874.0 375.6L1874.5 376.0L1875.0 375.1L1875.4 375.4L1875.9 374.5L1876.3 374.8L1876.8 373.9L1877.3 374.2L1877.7 373.3L1878.2 373.7L1878.6 372.7L1879.1 373.1L1879.6 372.1L1880.0 372.5L1880.5 371.5L1880.9 371.9L1881.4 371.0L1881.9 371.3L1882.3 370.4L1882.8 370.7L1883.2 369.8L1883.7 370.1L1884.2 369.2L1884.6 369.6L1885.1 368.6L1885.5 369.0L1886.0 368.0L1886.5 368.4L1886.9 367.5L1887.4 367.8L1887.8 366.9L1888.3 367.2L1888.8 366.3L1889.2 366.7L1889.7 365.7L1890.1 366.1L1890.6 365.2L1891.1 365.5L1891.5 364.6L1892.0 364.9L1892.4 364.0L1892.9 364.4L1893.4 363.5L1893.8 363.8L1894.3 362.9L1894.7 363.3L1895.2 362.3L1895.7 362.7L1896.1 361.8L1896.6 362.2L1897.0 361.2L1897.5 361.6L1898.0 360.7L1898.4 361.1L1898.9 360.2L1899.3 360.5L1899.8 359.6L1900.3 360.0L1900.7 359.1L1901.2 359.5L1901.6 358.6L1902.1 358.9L1902.6 358.0L1903.0 358.4L1903.5 357.5L1903.9 357.9L1904.4 357.0L1904.9 357.3L1905.3 356.4L1905.8 356.8L1906.2 355.9L1906.7 356.3L1907.2 355.4L1907.6 355.8L1908.1 354.9L1908.5 355.2L1909.0 354.3L1909.5 354.7L1909.9 353.8L1910.4 354.2L1910.8 353.3L1911.3 353.7L1911.8 352.8L1912.2 353.2L1912.7 352.3L1913.1 352.6L1913.6 351.7L1914.1 352.1L1914.5 351.2L1915.0 351.6L1915.4 350.7L1915.9 351.1L1916.4 350.2L1916.8 350.6L1917.3 349.7L1917.7 350.1L1918.2 349.2L1918.7 349.6L1919.1 348.7L1919.6 349.1L1920.0 348.2L1920.5 348.6L1921.0 347.7L1921.4 348.1L1921.9 347.2L1922.3 347.6L1922.8 346.7L1923.3 347.1L1923.7 346.2L1924.2 346.6L1924.6 345.7L1925.1 346.1L1925.6 345.2L1926.0 345.6L1926.5 344.7L1926.9 345.1L1927.4 344.2L1927.9 344.6L1928.3 343.8L1928.8 344.2L1929.2 343.3L1929.7 343.7L1930.2 342.8L1930.6 343.2L1931.1 342.3L1931.5 342.7L1932.0 341.9L1932.5 342.3L1932.9 341.4L1933.4 341.8L1933.8 340.9L1934.3 341.3L1934.8 340.5L1935.2 340.9L1935.7 340.0L1936.1 340.4L1936.6 339.5L1937.1 339.9L1937.5 339.1L1938.0 339.5L1938.4 338.6L1938.9 339.0L1939.4 338.2L1939.8 338.6L1940.3 337.7L1940.7 338.1L1941.2 337.2L1941.7 337.7L1942.1 336.8L1942.6 337.2L1943.0 336.3L1943.5 336.8L1944.0 335.9L1944.4 336.3L1944.9 335.4L1945.3 335.9L1945.8 335.0L1946.3 335.4L1946.7 334.6L1947.2 335.0L1947.6 334.1L1948.1 334.5L1948.6 333.7L1949.0 334.1L1949.5 333.2L1949.9 333.7L1950.4 332.8L1950.9 333.2L1951.3 332.4L1951.8 332.8L1952.2 331.9L1952.7 332.4L1953.2 331.5L1953.6 331.9L1954.1 331.1L1954.5 331.5L1955.0 330.7L1955.5 331.1L1955.9 330.3L1956.4 330.7L1956.8 329.8L1957.3 330.3L1957.8 329.4L1958.2 329.9L1958.7 329.0L1959.1 329.5L1959.6 328.6L1960.1 329.1L1960.5 328.2L1961.0 328.7L1961.4 327.8L1961.9 328.3L1962.4 327.4L1962.8 327.9L1963.3 327.0L1963.7 327.5L1964.2 326.6L1964.7 327.1L1965.1 326.3L1965.6 326.7L1966.0 325.9L1966.5 326.3L1967.0 325.5L1967.4 326.0L1967.9 325.1L1968.3 325.6L1968.8 324.8L1969.3 325.2L1969.7 324.4L1970.2 324.9L1970.6 324.1L1971.1 324.5L1971.6 323.7L1972.0 324.2L1972.5 323.4L1972.9 323.8L1973.4 323.0L1973.9 323.5L1974.3 322.7L1974.8 323.1L1975.2 322.3L1975.7 322.8L1976.2 322.0L1976.6 322.5L1977.1 321.7L1977.5 322.2L1978.0 321.4L1978.5 321.8L1978.9 321.0L1979.4 321.5L1979.8 320.7L1980.3 321.2L1980.8 320.4L1981.2 320.9L1981.7 320.1L1982.1 320.6L1982.6 319.8L1983.1 320.3L1983.5 319.5L1984.0 320.0L1984.4 319.2L1984.9 319.7L1985.4 318.9L1985.8 319.4L1986.3 318.6L1986.7 319.1L1987.2 318.3L1987.7 318.8L1988.1 318.0L1988.6 318.5L1989.0 317.7L1989.5 318.2L1990.0 317.5L1990.4 318.0L1990.9 317.2L1991.3 317.7L1991.8 316.9L1992.3 317.4L1992.7 316.6L1993.2 317.2L1993.6 316.4L1994.1 316.9L1994.6 316.1L1995.0 316.6L1995.5 315.9L1995.9 316.4L1996.4 315.6L1996.9 316.1L1997.3 315.3L1997.8 315.9L1998.2 315.1L1998.7 315.6L1999.2 314.8L1999.6 315.4L2000.1 314.6L2000.5 315.1L2001.0 314.4L2001.5 314.9L2001.9 314.1L2002.4 314.6L2002.8 313.9L2003.3 314.4L2003.8 313.6L2004.2 314.2L2004.7 313.4L2005.1 313.9L2005.6 313.2L2006.1 313.7L2006.5 313.0L2007.0 313.5L2007.4 312.7L2007.9 313.3L2008.4 312.5L2008.8 313.1L2009.3 312.3L2009.7 312.8L2010.2 312.1L2010.7 312.6L2011.1 311.9L2011.6 312.4L2012.0 311.7L2012.5 312.2L2013.0 311.5L2013.4 312.1L2013.9 311.3L2014.3 311.9L2014.8 311.2L2015.3 311.7L2015.7 311.0L2016.2 311.5L2016.6 310.8L2017.1 311.4L2017.6 310.7L2018.0 311.2L2018.5 310.5L2018.9 311.1L2019.4 310.4L2019.9 310.9L2020.3 310.2L2020.8 310.8L2021.2 310.1L2021.7 310.6L2022.2 309.9L2022.6 310.5L2023.1 309.8L2023.5 310.4L2024.0 309.7L2024.5 310.2L2024.9 309.5L2025.4 310.1L2025.8 309.4L2026.3 310.0L2026.8 309.3L2027.2 309.9L2027.7 309.2L2028.1 309.8L2028.6 309.1L2029.1 309.6L2029.5 309.0L2030.0 309.5L2030.4 308.8L2030.9 309.4L2031.4 308.7L2031.8 309.3L2032.3 308.6L2032.7 309.2L2033.2 308.5L2033.7 309.1L2034.1 308.4L2034.6 309.0L2035.0 308.3L2035.5 308.9L2036.0 308.2L2036.4 308.8L2036.9 308.1L2037.3 308.7L2037.8 308.0L2038.3 308.6L2038.7 307.9L2039.2 308.5L2039.6 307.8L2040.1 308.4L2040.6 307.7L2041.0 308.3L2041.5 307.7L2041.9 308.2L2042.4 307.6L2042.9 308.2L2043.3 307.5L2043.8 308.1L2044.2 307.4L2044.7 308.0L2045.2 307.4L2045.6 308.0L2046.1 307.3L2046.5 308.0L2047.0 307.3L2047.5 307.9L2047.9 307.3L2048.4 307.9L2048.8 307.3L2049.3 307.9L2049.8 307.3L2050.2 308.0L2050.7 307.3L2051.1 308.0L2051.6 307.3L2052.1 308.0L2052.5 307.4L2053.0 308.0L2053.4 307.4L2053.9 308.0L2054.4 307.4" fill="none" stroke="#00ff00" stroke-width="4.5" stroke-linejoin="round" stroke-linecap="butt" stroke-dasharray="43 25" stroke-dashoffset="25.05"/>
<path clip-path="url(#cb)" d="M221.0 1205.5L221.6 1205.5L222.2 1205.5L223.0 1205.6L223.8 1205.6L224.7 1205.6L225.7 1205.7L226.8 1205.7L227.9 1205.7L229.0 1205.8L230.1 1205.8L231.3 1205.9L232.5 1205.9L233.6 1206.0L234.8 1206.0L235.9 1206.1L237.0 1206.1L238.1 1206.2L239.1 1206.2L240.0 1206.3L241.1 1206.4L242.1 1206.4L243.1 1206.5L244.0 1206.6L244.9 1206.6L245.8 1206.7L246.7 1206.8L247.6 1206.8L248.5 1206.9L249.4 1207.0L250.4 1207.2L251.4 1207.3L252.5 1207.4L253.7 1207.6L255.0 1207.8L255.8 1207.9L256.7 1208.1L257.6 1208.2L258.5 1208.4L259.4 1208.5L260.4 1208.7L261.4 1208.8L262.4 1209.0L263.5 1209.2L264.5 1209.4L265.6 1209.5L266.6 1209.7L267.7 1209.9L268.8 1210.1L269.9 1210.3L270.9 1210.5L272.0 1210.8L273.1 1211.0L274.1 1211.2L275.1 1211.4L276.2 1211.6L277.2 1211.8L278.1 1212.1L279.1 1212.3L280.0 1212.5L281.0 1212.8L282.0 1213.0L283.0 1213.3L283.9 1213.6L284.7 1213.8L285.5 1214.1L286.4 1214.4L287.2 1214.6L287.9 1214.9L288.8 1215.2L289.6 1215.5L290.4 1215.8L291.3 1216.1L292.2 1216.4L293.1 1216.7L294.1 1217.1L295.2 1217.4L296.3 1217.8L297.5 1218.2L298.8 1218.6L300.2 1219.0L301.0 1219.2L301.7 1219.4L302.5 1219.7L303.4 1219.9L304.3 1220.2L305.1 1220.4L306.1 1220.7L307.0 1220.9L308.0 1221.2L308.9 1221.4L309.9 1221.7L310.9 1222.0L312.0 1222.3L313.0 1222.5L314.0 1222.8L315.1 1223.1L316.2 1223.4L317.2 1223.7L318.3 1224.0L319.4 1224.3L320.5 1224.6L321.6 1224.8L322.7 1225.1L323.7 1225.4L324.8 1225.7L325.9 1226.0L327.0 1226.3L328.0 1226.6L329.1 1226.9L330.1 1227.2L331.1 1227.5L332.1 1227.8L333.1 1228.1L334.1 1228.4L335.0 1228.7L336.0 1229.0L336.9 1229.3L337.8 1229.6L338.7 1229.8L339.5 1230.1L340.3 1230.4L341.5 1230.8L342.6 1231.2L343.7 1231.7L344.8 1232.1L345.9 1232.5L346.9 1232.9L347.9 1233.3L348.8 1233.7L349.8 1234.1L350.7 1234.6L351.6 1235.0L352.5 1235.4L353.4 1235.8L354.2 1236.2L355.1 1236.6L355.9 1237.0L356.8 1237.5L357.6 1237.9L358.4 1238.3L359.3 1238.7L360.1 1239.1L361.0 1239.5L361.8 1239.9L362.7 1240.4L363.6 1240.8L364.5 1241.2L365.4 1241.6L366.3 1242.0L367.3 1242.4L368.2 1242.9L369.1 1243.3L370.1 1243.7L371.0 1244.1L371.9 1244.6L372.9 1245.0L373.8 1245.4L374.8 1245.9L375.7 1246.3L376.6 1246.7L377.6 1247.2L378.5 1247.6L379.5 1248.0L380.4 1248.4L381.3 1248.9L382.2 1249.3L383.2 1249.7L384.1 1250.1L385.0 1250.5L385.9 1250.9L386.8 1251.3L387.7 1251.7L388.6 1252.1L389.5 1252.5L390.4 1252.9L391.4 1253.3L392.4 1253.7L393.3 1254.1L394.3 1254.5L395.2 1254.9L396.2 1255.2L397.1 1255.6L398.0 1255.9L398.9 1256.3L399.9 1256.6L400.8 1257.0L401.7 1257.3L402.6 1257.6L403.5 1258.0L404.5 1258.3L405.4 1258.7L406.3 1259.1L407.2 1259.5L408.2 1259.8L409.1 1260.2L410.1 1260.7L411.0 1261.1L412.0 1261.5L413.0 1262.0L413.8 1262.4L414.7 1262.8L415.5 1263.2L416.3 1263.7L417.1 1264.1L417.9 1264.5L418.8 1264.9L419.6 1265.4L420.4 1265.8L421.2 1266.3L422.0 1266.7L422.8 1267.2L423.7 1267.6L424.5 1268.1L425.3 1268.6L426.2 1269.1L427.1 1269.6L428.0 1270.1L428.9 1270.6L429.8 1271.1L430.7 1271.7L431.7 1272.2L432.6 1272.8L433.6 1273.3L434.7 1273.9L435.7 1274.5L436.8 1275.1L437.9 1275.7L438.6 1276.1L439.4 1276.5L440.2 1276.9L440.9 1277.4L441.7 1277.8L442.5 1278.2L443.3 1278.7L444.1 1279.1L445.0 1279.6L445.8 1280.1L446.7 1280.5L447.5 1281.0L448.4 1281.5L449.3 1282.0L450.2 1282.5L451.0 1283.0L451.9 1283.5L452.8 1284.0L453.8 1284.5L454.7 1285.0L455.6 1285.5L456.5 1286.0L457.4 1286.5L458.3 1287.0L459.3 1287.5L460.2 1288.0L461.1 1288.5L462.1 1289.0L463.0 1289.5L463.9 1290.1L464.9 1290.6L465.8 1291.1L466.7 1291.6L467.6 1292.1L468.6 1292.6L469.5 1293.1L470.4 1293.6L471.3 1294.1L472.2 1294.6L473.1 1295.1L474.0 1295.5L474.9 1296.0L475.8 1296.5L476.7 1297.0L477.6 1297.5L478.5 1298.0L479.4 1298.4L480.3 1298.9L481.2 1299.4L482.1 1299.9L483.0 1300.4L483.9 1300.9L484.8 1301.3L485.7 1301.8L486.6 1302.3L487.5 1302.8L488.4 1303.3L489.3 1303.8L490.2 1304.2L491.1 1304.7L492.0 1305.2L492.9 1305.7L493.8 1306.1L494.8 1306.6L495.7 1307.1L496.6 1307.6L497.5 1308.1L498.4 1308.5L499.3 1309.0L500.2 1309.5L501.1 1309.9L502.0 1310.4L502.9 1310.9L503.8 1311.3L504.7 1311.8L505.6 1312.3L506.5 1312.7L507.4 1313.2L508.3 1313.7L509.2 1314.1L510.1 1314.6L511.0 1315.0L511.9 1315.5L512.8 1315.9L513.7 1316.4L514.6 1316.9L515.5 1317.3L516.5 1317.8L517.4 1318.2L518.3 1318.7L519.2 1319.1L520.2 1319.6L521.1 1320.0L522.0 1320.5L522.9 1320.9L523.9 1321.4L524.8 1321.8L525.7 1322.3L526.6 1322.7L527.6 1323.2L528.5 1323.6L529.4 1324.0L530.3 1324.5L531.3 1324.9L532.2 1325.4L533.1 1325.8L534.0 1326.2L535.0 1326.7L535.9 1327.1L536.8 1327.5L537.7 1328.0L538.7 1328.4L539.6 1328.8L540.5 1329.3L541.4 1329.7L542.4 1330.1L543.3 1330.5L544.2 1331.0L545.1 1331.4L546.1 1331.8L547.0 1332.3L547.9 1332.7L548.8 1333.1L549.8 1333.5L550.7 1334.0L551.6 1334.4L552.5 1334.8L553.4 1335.3L554.4 1335.7L555.3 1336.1L556.2 1336.6L557.1 1337.0L558.1 1337.4L559.0 1337.9L559.9 1338.3L560.8 1338.7L561.8 1339.2L562.7 1339.6L563.6 1340.0L564.5 1340.5L565.5 1340.9L566.4 1341.3L567.3 1341.8L568.2 1342.2L569.2 1342.6L570.1 1343.0L571.0 1343.5L571.9 1343.9L572.9 1344.3L573.8 1344.7L574.7 1345.2L575.6 1345.6L576.6 1346.0L577.5 1346.4L578.4 1346.8L579.3 1347.2L580.3 1347.6L581.2 1348.0L582.1 1348.4L583.0 1348.8L584.0 1349.2L584.9 1349.6L585.8 1350.0L586.7 1350.4L587.7 1350.8L588.6 1351.1L589.5 1351.5L590.4 1351.9L591.4 1352.3L592.3 1352.6L593.3 1353.0L594.2 1353.4L595.2 1353.7L596.1 1354.1L597.1 1354.4L598.0 1354.8L599.0 1355.1L599.9 1355.5L600.9 1355.8L601.8 1356.2L602.8 1356.5L603.7 1356.9L604.7 1357.2L605.6 1357.5L606.6 1357.9L607.5 1358.2L608.5 1358.5L609.4 1358.8L610.3 1359.2L611.3 1359.5L612.2 1359.8L613.2 1360.1L614.1 1360.4L615.1 1360.7L616.0 1361.1L617.0 1361.4L617.9 1361.7L618.9 1362.0L619.8 1362.3L620.8 1362.6L621.7 1362.9L622.7 1363.2L623.6 1363.5L624.6 1363.8L625.5 1364.1L626.5 1364.4L627.4 1364.7L628.4 1365.0L629.3 1365.3L630.3 1365.6L631.3 1365.9L632.3 1366.2L633.2 1366.5L634.2 1366.8L635.2 1367.1L636.1 1367.3L637.1 1367.6L638.1 1367.9L639.1 1368.2L640.0 1368.5L641.0 1368.8L642.0 1369.0L642.9 1369.3L643.9 1369.6L644.9 1369.8L645.9 1370.1L646.8 1370.4L647.8 1370.6L648.8 1370.9L649.8 1371.2L650.7 1371.4L651.7 1371.7L652.7 1371.9L653.6 1372.2L654.6 1372.5L655.6 1372.7L656.6 1373.0L657.5 1373.2L658.5 1373.5L659.5 1373.7L660.4 1374.0L661.4 1374.2L662.4 1374.5L663.4 1374.7L664.3 1375.0L665.3 1375.2L666.3 1375.4L667.3 1375.7L668.3 1375.9L669.3 1376.2L670.3 1376.4L671.3 1376.7L672.3 1376.9L673.3 1377.2L674.3 1377.4L675.3 1377.7L676.3 1377.9L677.3 1378.2L678.3 1378.4L679.3 1378.6L680.3 1378.9L681.3 1379.1L682.3 1379.3L683.3 1379.6L684.2 1379.8L685.2 1380.0L686.2 1380.3L687.2 1380.5L688.2 1380.7L689.2 1380.9L690.2 1381.2L691.2 1381.4L692.2 1381.6L693.2 1381.8L694.2 1382.0L695.2 1382.2L696.2 1382.4L697.2 1382.6L698.2 1382.8L699.2 1383.0L700.2 1383.2L701.2 1383.3L702.2 1383.5L703.2 1383.7L704.2 1383.9L705.2 1384.0L706.2 1384.2L707.2 1384.4L708.2 1384.5L709.2 1384.7L710.2 1384.8L711.2 1385.0L712.2 1385.1L713.2 1385.3L714.2 1385.4L715.2 1385.6L716.2 1385.7L717.2 1385.8L718.2 1386.0L719.2 1386.1L720.2 1386.2L721.2 1386.3L722.2 1386.5L723.1 1386.6L724.1 1386.7L725.1 1386.8L726.1 1386.9L727.1 1387.0L728.1 1387.1L729.1 1387.3L730.1 1387.4L731.1 1387.5L732.1 1387.6L733.1 1387.7L734.1 1387.8L735.1 1387.9L736.1 1387.9L737.1 1388.0L738.1 1388.1L739.1 1388.2L740.1 1388.3L741.1 1388.4L742.1 1388.5L743.2 1388.6L744.2 1388.7L745.3 1388.7L746.4 1388.8L747.4 1388.9L748.5 1389.0L749.6 1389.0L750.7 1389.1L751.8 1389.2L752.9 1389.2L754.0 1389.3L755.1 1389.3L756.2 1389.4L757.3 1389.4L758.4 1389.5L759.5 1389.5L760.6 1389.6L761.6 1389.6L762.7 1389.7L763.8 1389.7L764.8 1389.8L765.9 1389.8L766.9 1389.8L768.0 1389.9L769.0 1389.9L770.0 1390.0L771.0 1390.0L771.9 1390.0L772.9 1390.1L773.8 1390.1L774.7 1390.1L775.6 1390.2L776.5 1390.2L777.4 1390.2L778.2 1390.3L779.0 1390.3L780.3 1390.4L781.5 1390.4L782.6 1390.5L783.5 1390.5L784.4 1390.6L785.2 1390.6L785.9 1390.6L786.6 1390.7L787.3 1390.7L788.0 1390.7L788.7 1390.8L789.4 1390.8L790.1 1390.8L791.0 1390.8L791.9 1390.8L792.9 1390.8L794.0 1390.8L795.3 1390.8L796.7 1390.8L798.2 1390.8L800.0 1390.8L800.7 1390.8L801.4 1390.8L802.2 1390.8L803.0 1390.8L803.7 1390.7L804.6 1390.7L805.4 1390.7L806.2 1390.7L807.1 1390.7L808.0 1390.7L808.9 1390.6L809.8 1390.6L810.7 1390.6L811.7 1390.6L812.6 1390.6L813.6 1390.5L814.6 1390.5L815.6 1390.5L816.6 1390.5L817.6 1390.4L818.7 1390.4L819.7 1390.4L820.8 1390.4L821.8 1390.3L822.9 1390.3L824.0 1390.3L825.1 1390.2L826.2 1390.2L827.3 1390.2L828.4 1390.2L829.5 1390.1L830.6 1390.1L831.7 1390.1L832.8 1390.0L833.9 1390.0L835.0 1390.0L836.2 1389.9L837.3 1389.9L838.4 1389.9L839.5 1389.8L840.6 1389.8L841.8 1389.8L842.9 1389.8L844.0 1389.7L845.1 1389.7L846.2 1389.7L847.3 1389.6L848.4 1389.6L849.5 1389.6L850.5 1389.6L851.6 1389.5L852.7 1389.5L853.7 1389.5L854.7 1389.4L855.8 1389.4L856.8 1389.4L857.8 1389.4L858.8 1389.4L859.9 1389.3L860.9 1389.3L861.9 1389.3L863.0 1389.3L864.0 1389.2L865.1 1389.2L866.1 1389.2L867.2 1389.2L868.3 1389.1L869.3 1389.1L870.4 1389.1L871.5 1389.1L872.5 1389.0L873.6 1389.0L874.7 1389.0L875.7 1389.0L876.8 1388.9L877.9 1388.9L879.0 1388.9L880.0 1388.8L881.1 1388.8L882.2 1388.8L883.2 1388.8L884.3 1388.7L885.4 1388.7L886.4 1388.7L887.5 1388.7L888.5 1388.7L889.6 1388.6L890.6 1388.6L891.7 1388.6L892.7 1388.6L893.7 1388.5L894.8 1388.5L895.8 1388.5L896.8 1388.5L897.8 1388.4L898.8 1388.4L899.8 1388.4L900.8 1388.4L901.8 1388.4L902.8 1388.3L903.7 1388.3L904.7 1388.3L905.6 1388.3L906.6 1388.2L907.5 1388.2L908.4 1388.2L909.3 1388.2L910.2 1388.2L911.1 1388.2L912.0 1388.1L912.8 1388.1L913.7 1388.1L915.0 1388.1L916.2 1388.0L917.4 1388.0L918.6 1388.0L919.8 1388.0L920.9 1387.9L922.1 1387.9L923.2 1387.9L924.2 1387.9L925.3 1387.8L926.4 1387.8L927.4 1387.8L928.4 1387.8L929.4 1387.7L930.4 1387.7L931.4 1387.7L932.4 1387.7L933.4 1387.7L934.3 1387.6L935.3 1387.6L936.2 1387.6L937.2 1387.6L938.1 1387.6L939.0 1387.5L940.0 1387.5L940.9 1387.5L941.9 1387.5L942.8 1387.5L943.8 1387.5L944.7 1387.5L945.7 1387.5L946.6 1387.5L947.6 1387.5L948.6 1387.5L949.6 1387.5L950.6 1387.5L951.6 1387.5L952.6 1387.5L953.6 1387.5L954.7 1387.5L955.7 1387.5L956.7 1387.6L957.7 1387.6L958.8 1387.6L959.8 1387.6L960.8 1387.6L961.8 1387.6L962.9 1387.6L963.9 1387.7L964.9 1387.7L965.9 1387.7L967.0 1387.7L968.0 1387.8L969.0 1387.8L970.0 1387.8L971.1 1387.8L972.1 1387.9L973.1 1387.9L974.1 1387.9L975.2 1388.0L976.2 1388.0L977.2 1388.1L978.2 1388.1L979.3 1388.1L980.3 1388.2L981.3 1388.2L982.3 1388.3L983.4 1388.3L984.4 1388.4L985.4 1388.4L986.4 1388.5L987.5 1388.6L988.5 1388.6L989.5 1388.7L990.5 1388.8L991.5 1388.8L992.5 1388.9L993.5 1389.0L994.5 1389.1L995.5 1389.1L996.5 1389.2L997.5 1389.3L998.5 1389.4L999.5 1389.5L1000.5 1389.6L1001.5 1389.7L1002.5 1389.8L1003.5 1389.9L1004.5 1390.0L1005.5 1390.0L1006.5 1390.2L1007.5 1390.3L1008.5 1390.4L1009.4 1390.5L1010.4 1390.6L1011.4 1390.7L1012.4 1390.8L1013.4 1390.9L1014.4 1391.0L1015.4 1391.1L1016.4 1391.2L1017.4 1391.3L1018.4 1391.5L1019.4 1391.6L1020.4 1391.7L1021.4 1391.8L1022.4 1391.9L1023.4 1392.0L1024.4 1392.1L1025.4 1392.3L1026.4 1392.4L1027.4 1392.5L1028.4 1392.6L1029.4 1392.7L1030.4 1392.9L1031.4 1393.0L1032.4 1393.1L1033.4 1393.2L1034.4 1393.3L1035.4 1393.4L1036.4 1393.6L1037.4 1393.7L1038.4 1393.8L1039.4 1393.9L1040.4 1394.1L1041.4 1394.2L1042.4 1394.3L1043.4 1394.4L1044.4 1394.6L1045.4 1394.7L1046.4 1394.8L1047.3 1394.9L1048.3 1395.1L1049.3 1395.2L1050.3 1395.3L1051.3 1395.5L1052.3 1395.6L1053.3 1395.8L1054.3 1395.9L1055.3 1396.0L1056.3 1396.2L1057.3 1396.3L1058.3 1396.5L1059.3 1396.6L1060.3 1396.8L1061.3 1397.0L1062.3 1397.1L1063.3 1397.3L1064.3 1397.4L1065.3 1397.6L1066.3 1397.8L1067.3 1397.9L1068.3 1398.1L1069.3 1398.3L1070.3 1398.5L1071.3 1398.6L1072.3 1398.8L1073.3 1399.0L1074.3 1399.2L1075.3 1399.4L1076.3 1399.6L1077.3 1399.8L1078.3 1399.9L1079.3 1400.1L1080.3 1400.3L1081.3 1400.5L1082.3 1400.7L1083.3 1400.9L1084.2 1401.1L1085.2 1401.3L1086.2 1401.5L1087.2 1401.7L1088.2 1402.0L1089.2 1402.2L1090.2 1402.4L1091.2 1402.6L1092.2 1402.8L1093.2 1403.0L1094.2 1403.2L1095.2 1403.4L1096.2 1403.7L1097.2 1403.9L1098.2 1404.1L1099.2 1404.3L1100.2 1404.5L1101.2 1404.8L1102.2 1405.0L1103.2 1405.2L1104.2 1405.4L1105.1 1405.6L1106.1 1405.9L1107.1 1406.1L1108.1 1406.3L1109.0 1406.5L1110.0 1406.8L1111.0 1407.0L1111.9 1407.2L1112.9 1407.5L1113.9 1407.7L1114.9 1407.9L1115.8 1408.2L1116.8 1408.4L1117.8 1408.6L1118.7 1408.9L1119.7 1409.1L1120.7 1409.4L1121.7 1409.6L1122.6 1409.8L1123.6 1410.1L1124.6 1410.3L1125.6 1410.6L1126.5 1410.8L1127.5 1411.1L1128.5 1411.3L1129.4 1411.6L1130.4 1411.8L1131.4 1412.1L1132.4 1412.3L1133.3 1412.6L1134.3 1412.8L1135.3 1413.1L1136.2 1413.3L1137.2 1413.6L1138.2 1413.8L1139.2 1414.1L1140.1 1414.3L1141.1 1414.6L1142.1 1414.9L1143.1 1415.1L1144.1 1415.4L1145.1 1415.6L1146.1 1415.9L1147.1 1416.2L1148.1 1416.5L1149.2 1416.7L1150.2 1417.0L1151.2 1417.3L1152.3 1417.6L1153.3 1417.9L1154.4 1418.1L1155.4 1418.4L1156.4 1418.7L1157.5 1419.0L1158.5 1419.3L1159.6 1419.6L1160.6 1419.8L1161.6 1420.1L1162.6 1420.4L1163.7 1420.7L1164.7 1421.0L1165.7 1421.2L1166.6 1421.5L1167.6 1421.8L1168.6 1422.1L1169.5 1422.3L1170.5 1422.6L1171.4 1422.8L1172.3 1423.1L1173.2 1423.4L1174.1 1423.6L1175.0 1423.8L1175.8 1424.1L1176.6 1424.3L1177.4 1424.6L1178.2 1424.8L1179.0 1425.0L1180.3 1425.4L1181.6 1425.8L1182.7 1426.1L1183.8 1426.4L1184.8 1426.7L1185.7 1427.0L1186.6 1427.3L1187.5 1427.6L1188.3 1427.9L1189.1 1428.2L1189.9 1428.4L1190.7 1428.7L1191.5 1429.0L1192.4 1429.2L1193.3 1429.5L1194.2 1429.8L1195.2 1430.1L1196.3 1430.4L1197.4 1430.8L1198.7 1431.1L1200.0 1431.5L1200.8 1431.7L1201.6 1431.9L1202.4 1432.1L1203.2 1432.4L1204.0 1432.6L1204.9 1432.8L1205.8 1433.1L1206.7 1433.3L1207.6 1433.5L1208.5 1433.8L1209.5 1434.0L1210.4 1434.3L1211.4 1434.5L1212.4 1434.8L1213.3 1435.0L1214.3 1435.3L1215.3 1435.5L1216.4 1435.8L1217.4 1436.0L1218.4 1436.3L1219.4 1436.6L1220.5 1436.8L1221.5 1437.1L1222.6 1437.3L1223.6 1437.6L1224.6 1437.9L1225.7 1438.1L1226.7 1438.4L1227.8 1438.7L1228.8 1438.9L1229.8 1439.2L1230.9 1439.4L1231.9 1439.7L1232.9 1439.9L1233.9 1440.2L1234.9 1440.5L1235.9 1440.7L1236.9 1441.0L1237.9 1441.2L1238.9 1441.4L1239.8 1441.7L1240.8 1441.9L1241.8 1442.2L1242.8 1442.4L1243.7 1442.7L1244.7 1442.9L1245.7 1443.2L1246.6 1443.4L1247.6 1443.7L1248.6 1443.9L1249.6 1444.2L1250.5 1444.4L1251.5 1444.7L1252.5 1444.9L1253.4 1445.2L1254.4 1445.4L1255.4 1445.7L1256.4 1445.9L1257.3 1446.2L1258.3 1446.4L1259.3 1446.6L1260.3 1446.9L1261.2 1447.1L1262.2 1447.4L1263.2 1447.6L1264.1 1447.9L1265.1 1448.1L1266.1 1448.3L1267.1 1448.6L1268.0 1448.8L1269.0 1449.0L1270.0 1449.3L1270.9 1449.5L1271.9 1449.7L1272.9 1449.9L1273.9 1450.2L1274.8 1450.4L1275.8 1450.6L1276.8 1450.8L1277.8 1451.0L1278.8 1451.3L1279.8 1451.5L1280.8 1451.7L1281.8 1451.9L1282.8 1452.2L1283.8 1452.4L1284.8 1452.6L1285.8 1452.8L1286.8 1453.1L1287.8 1453.3L1288.8 1453.5L1289.8 1453.7L1290.8 1453.9L1291.8 1454.2L1292.8 1454.4L1293.8 1454.6L1294.8 1454.8L1295.7 1455.0L1296.7 1455.2L1297.7 1455.4L1298.7 1455.6L1299.7 1455.8L1300.7 1456.0L1301.7 1456.2L1302.7 1456.4L1303.7 1456.6L1304.7 1456.7L1305.7 1456.9L1306.7 1457.1L1307.7 1457.3L1308.7 1457.4L1309.7 1457.6L1310.7 1457.8L1311.7 1457.9L1312.7 1458.1L1313.7 1458.2L1314.7 1458.3L1315.7 1458.5L1316.7 1458.6L1317.7 1458.7L1318.7 1458.9L1319.7 1459.0L1320.7 1459.1L1321.7 1459.2L1322.7 1459.3L1323.7 1459.4L1324.7 1459.5L1325.7 1459.6L1326.7 1459.7L1327.7 1459.8L1328.7 1459.9L1329.7 1460.0L1330.7 1460.1L1331.7 1460.2L1332.7 1460.3L1333.6 1460.4L1334.6 1460.4L1335.6 1460.5L1336.6 1460.6L1337.6 1460.6L1338.6 1460.7L1339.6 1460.8L1340.6 1460.8L1341.6 1460.9L1342.6 1461.0L1343.6 1461.0L1344.6 1461.1L1345.6 1461.1L1346.6 1461.2L1347.6 1461.2L1348.6 1461.3L1349.6 1461.3L1350.6 1461.4L1351.6 1461.4L1352.6 1461.4L1353.6 1461.5L1354.7 1461.5L1355.7 1461.6L1356.7 1461.6L1357.7 1461.6L1358.8 1461.7L1359.8 1461.7L1360.8 1461.7L1361.8 1461.7L1362.9 1461.8L1363.9 1461.8L1364.9 1461.8L1365.9 1461.8L1367.0 1461.8L1368.0 1461.8L1369.0 1461.8L1370.0 1461.9L1371.1 1461.9L1372.1 1461.9L1373.1 1461.9L1374.1 1461.9L1375.2 1461.8L1376.2 1461.8L1377.2 1461.8L1378.2 1461.8L1379.3 1461.8L1380.3 1461.8L1381.3 1461.7L1382.3 1461.7L1383.4 1461.7L1384.4 1461.6L1385.4 1461.6L1386.4 1461.6L1387.5 1461.5L1388.5 1461.5L1389.5 1461.4L1390.5 1461.3L1391.5 1461.3L1392.5 1461.2L1393.5 1461.2L1394.5 1461.1L1395.5 1461.0L1396.5 1460.9L1397.5 1460.9L1398.5 1460.8L1399.5 1460.7L1400.5 1460.6L1401.5 1460.5L1402.5 1460.4L1403.5 1460.3L1404.5 1460.2L1405.5 1460.1L1406.5 1460.0L1407.5 1459.9L1408.5 1459.8L1409.4 1459.7L1410.4 1459.6L1411.4 1459.5L1412.4 1459.4L1413.4 1459.2L1414.4 1459.1L1415.4 1459.0L1416.4 1458.9L1417.4 1458.7L1418.4 1458.6L1419.4 1458.5L1420.4 1458.3L1421.4 1458.2L1422.4 1458.0L1423.4 1457.9L1424.4 1457.8L1425.4 1457.6L1426.4 1457.5L1427.4 1457.3L1428.4 1457.1L1429.4 1457.0L1430.4 1456.8L1431.4 1456.7L1432.4 1456.5L1433.4 1456.4L1434.4 1456.2L1435.4 1456.0L1436.4 1455.9L1437.4 1455.7L1438.4 1455.5L1439.4 1455.4L1440.4 1455.2L1441.4 1455.0L1442.4 1454.8L1443.4 1454.6L1444.4 1454.5L1445.4 1454.3L1446.4 1454.1L1447.3 1453.9L1448.3 1453.7L1449.3 1453.5L1450.3 1453.3L1451.3 1453.1L1452.3 1452.9L1453.3 1452.6L1454.3 1452.4L1455.3 1452.2L1456.3 1452.0L1457.3 1451.7L1458.3 1451.5L1459.3 1451.3L1460.3 1451.0L1461.3 1450.8L1462.3 1450.5L1463.3 1450.2L1464.3 1450.0L1465.3 1449.7L1466.2 1449.4L1467.2 1449.2L1468.1 1448.9L1469.1 1448.6L1470.0 1448.3L1471.0 1448.1L1471.9 1447.8L1472.9 1447.5L1473.8 1447.2L1474.8 1446.9L1475.7 1446.6L1476.7 1446.3L1477.6 1446.0L1478.6 1445.7L1479.5 1445.4L1480.5 1445.1L1481.4 1444.7L1482.4 1444.4L1483.3 1444.1L1484.3 1443.8L1485.2 1443.4L1486.2 1443.1L1487.1 1442.7L1488.0 1442.4L1489.0 1442.0L1489.9 1441.7L1490.9 1441.3L1491.8 1441.0L1492.8 1440.6L1493.7 1440.3L1494.7 1439.9L1495.6 1439.5L1496.6 1439.1L1497.5 1438.8L1498.5 1438.4L1499.4 1438.0L1500.4 1437.6L1501.3 1437.2L1502.3 1436.8L1503.2 1436.4L1504.1 1436.0L1505.0 1435.6L1505.9 1435.2L1506.8 1434.8L1507.7 1434.4L1508.6 1434.0L1509.5 1433.6L1510.4 1433.2L1511.3 1432.7L1512.2 1432.3L1513.1 1431.9L1514.0 1431.4L1514.9 1431.0L1515.8 1430.5L1516.7 1430.1L1517.6 1429.6L1518.5 1429.2L1519.4 1428.7L1520.3 1428.2L1521.2 1427.8L1522.1 1427.3L1523.0 1426.8L1523.9 1426.4L1524.8 1425.9L1525.7 1425.4L1526.6 1425.0L1527.5 1424.5L1528.4 1424.0L1529.3 1423.5L1530.2 1423.1L1531.1 1422.6L1532.0 1422.1L1532.9 1421.7L1533.8 1421.2L1534.7 1420.7L1535.6 1420.3L1536.5 1419.8L1537.4 1419.3L1538.3 1418.9L1539.2 1418.4L1540.1 1418.0L1541.0 1417.5L1541.9 1417.0L1542.8 1416.6L1543.7 1416.1L1544.7 1415.7L1545.6 1415.2L1546.6 1414.7L1547.5 1414.3L1548.5 1413.8L1549.4 1413.3L1550.4 1412.8L1551.4 1412.4L1552.3 1411.9L1553.3 1411.4L1554.3 1410.9L1555.3 1410.4L1556.2 1410.0L1557.2 1409.5L1558.2 1409.0L1559.1 1408.5L1560.1 1408.0L1561.0 1407.6L1562.0 1407.1L1563.0 1406.6L1563.9 1406.2L1564.8 1405.7L1565.8 1405.2L1566.7 1404.8L1567.6 1404.3L1568.5 1403.9L1569.4 1403.4L1570.3 1403.0L1571.1 1402.5L1572.0 1402.1L1572.8 1401.7L1573.6 1401.3L1574.5 1400.8L1575.3 1400.4L1576.0 1400.0L1576.8 1399.6L1577.6 1399.3L1578.3 1398.9L1579.0 1398.5L1580.2 1397.9L1581.3 1397.3L1582.3 1396.8L1583.2 1396.3L1584.1 1395.8L1584.9 1395.3L1585.7 1394.9L1586.4 1394.5L1587.1 1394.1L1587.8 1393.7L1588.5 1393.3L1589.1 1393.0L1589.8 1392.6L1590.5 1392.2L1591.2 1391.7L1592.0 1391.3L1592.7 1390.8L1593.6 1390.3L1594.4 1389.8L1595.4 1389.2L1596.4 1388.6L1597.5 1388.0L1598.7 1387.3L1600.0 1386.5L1600.7 1386.1L1601.3 1385.7L1602.0 1385.3L1602.7 1384.9L1603.4 1384.5L1604.2 1384.0L1604.9 1383.6L1605.7 1383.1L1606.5 1382.7L1607.3 1382.2L1608.1 1381.8L1608.9 1381.3L1609.7 1380.8L1610.6 1380.3L1611.4 1379.8L1612.3 1379.3L1613.2 1378.8L1614.0 1378.3L1614.9 1377.7L1615.8 1377.2L1616.7 1376.7L1617.6 1376.1L1618.5 1375.6L1619.5 1375.1L1620.4 1374.5L1621.3 1374.0L1622.3 1373.4L1623.2 1372.8L1624.1 1372.3L1625.1 1371.7L1626.0 1371.1L1627.0 1370.6L1627.9 1370.0L1628.9 1369.4L1629.8 1368.8L1630.8 1368.3L1631.7 1367.7L1632.6 1367.1L1633.6 1366.5L1634.5 1366.0L1635.5 1365.4L1636.4 1364.8L1637.3 1364.2L1638.2 1363.6L1639.1 1363.1L1640.0 1362.5L1640.9 1361.9L1641.8 1361.3L1642.7 1360.8L1643.6 1360.2L1644.4 1359.7L1645.2 1359.1L1646.1 1358.6L1646.9 1358.0L1647.7 1357.5L1648.5 1356.9L1649.4 1356.4L1650.2 1355.8L1651.0 1355.2L1651.8 1354.7L1652.7 1354.1L1653.5 1353.5L1654.3 1352.9L1655.1 1352.4L1655.9 1351.8L1656.8 1351.2L1657.6 1350.6L1658.4 1350.0L1659.2 1349.4L1660.1 1348.9L1660.9 1348.3L1661.7 1347.7L1662.5 1347.1L1663.3 1346.5L1664.2 1345.9L1665.0 1345.3L1665.8 1344.7L1666.6 1344.1L1667.5 1343.5L1668.3 1342.9L1669.1 1342.3L1669.9 1341.8L1670.8 1341.2L1671.6 1340.6L1672.4 1340.0L1673.2 1339.4L1674.0 1338.8L1674.9 1338.2L1675.7 1337.6L1676.5 1337.1L1677.3 1336.5L1678.2 1335.9L1679.0 1335.3L1679.8 1334.7L1680.6 1334.2L1681.4 1333.6L1682.3 1333.0L1683.1 1332.5L1683.9 1331.9L1684.7 1331.4L1685.6 1330.8L1686.4 1330.2L1687.2 1329.7L1688.1 1329.1L1688.9 1328.6L1689.8 1328.0L1690.6 1327.4L1691.5 1326.9L1692.3 1326.3L1693.2 1325.8L1694.0 1325.2L1694.9 1324.6L1695.7 1324.1L1696.6 1323.5L1697.4 1323.0L1698.3 1322.4L1699.1 1321.9L1700.0 1321.3L1700.9 1320.8L1701.7 1320.2L1702.6 1319.7L1703.4 1319.1L1704.3 1318.6L1705.1 1318.0L1706.0 1317.5L1706.8 1316.9L1707.7 1316.4L1708.5 1315.8L1709.4 1315.3L1710.2 1314.8L1711.1 1314.2L1711.9 1313.7L1712.8 1313.2L1713.6 1312.6L1714.5 1312.1L1715.3 1311.6L1716.2 1311.1L1717.0 1310.5L1717.9 1310.0L1718.8 1309.5L1719.6 1309.0L1720.5 1308.5L1721.3 1307.9L1722.2 1307.4L1723.0 1306.9L1723.9 1306.4L1724.7 1305.9L1725.6 1305.4L1726.4 1304.9L1727.3 1304.4L1728.1 1303.9L1729.0 1303.4L1729.8 1302.9L1730.7 1302.4L1731.6 1301.9L1732.5 1301.4L1733.4 1300.9L1734.3 1300.4L1735.1 1299.9L1736.0 1299.4L1736.9 1298.9L1737.8 1298.4L1738.7 1297.9L1739.6 1297.4L1740.5 1296.9L1741.4 1296.4L1742.3 1296.0L1743.1 1295.5L1744.0 1295.0L1744.9 1294.5L1745.8 1294.0L1746.7 1293.6L1747.6 1293.1L1748.5 1292.6L1749.4 1292.2L1750.3 1291.7L1751.2 1291.2L1752.0 1290.8L1752.9 1290.3L1753.8 1289.8L1754.7 1289.4L1755.6 1288.9L1756.5 1288.5L1757.4 1288.0L1758.3 1287.6L1759.2 1287.1L1760.1 1286.7L1760.9 1286.2L1761.8 1285.8L1762.7 1285.3L1763.6 1284.9L1764.5 1284.4L1765.4 1284.0L1766.3 1283.5L1767.2 1283.1L1768.1 1282.6L1769.0 1282.2L1769.9 1281.7L1770.7 1281.3L1771.6 1280.8L1772.5 1280.4L1773.4 1279.9L1774.3 1279.5L1775.2 1279.0L1776.1 1278.6L1777.0 1278.1L1777.9 1277.7L1778.8 1277.2L1779.8 1276.8L1780.7 1276.3L1781.6 1275.8L1782.5 1275.4L1783.4 1274.9L1784.3 1274.5L1785.2 1274.0L1786.1 1273.6L1787.0 1273.1L1787.9 1272.6L1788.8 1272.2L1789.7 1271.7L1790.6 1271.3L1791.6 1270.8L1792.5 1270.4L1793.4 1269.9L1794.3 1269.5L1795.2 1269.0L1796.1 1268.6L1797.0 1268.2L1797.9 1267.7L1798.8 1267.3L1799.7 1266.8L1800.6 1266.4L1801.5 1266.0L1802.5 1265.6L1803.4 1265.1L1804.3 1264.7L1805.2 1264.3L1806.1 1263.9L1807.0 1263.5L1807.9 1263.0L1808.8 1262.6L1809.7 1262.2L1810.6 1261.8L1811.5 1261.4L1812.4 1261.1L1813.4 1260.7L1814.3 1260.3L1815.2 1259.9L1816.1 1259.5L1817.0 1259.2L1817.9 1258.8L1818.9 1258.4L1819.8 1258.0L1820.8 1257.7L1821.8 1257.3L1822.7 1256.9L1823.7 1256.5L1824.7 1256.2L1825.7 1255.8L1826.6 1255.5L1827.6 1255.1L1828.6 1254.8L1829.5 1254.4L1830.5 1254.1L1831.5 1253.7L1832.4 1253.4L1833.4 1253.1L1834.4 1252.8L1835.3 1252.4L1836.3 1252.1L1837.3 1251.8L1838.3 1251.5L1839.2 1251.2L1840.2 1250.8L1841.2 1250.5L1842.1 1250.2L1843.1 1249.9L1844.1 1249.6L1845.0 1249.3L1846.0 1249.0L1847.0 1248.8L1847.9 1248.5L1848.9 1248.2L1849.9 1247.9L1850.8 1247.6L1851.8 1247.3L1852.8 1247.1L1853.8 1246.8L1854.7 1246.5L1855.7 1246.3L1856.7 1246.0L1857.6 1245.7L1858.6 1245.5L1859.6 1245.2L1860.5 1245.0L1861.5 1244.7L1862.5 1244.4L1863.5 1244.2L1864.5 1243.9L1865.5 1243.7L1866.4 1243.4L1867.4 1243.2L1868.4 1243.0L1869.4 1242.7L1870.4 1242.5L1871.4 1242.2L1872.4 1242.0L1873.4 1241.8L1874.4 1241.6L1875.3 1241.3L1876.3 1241.1L1877.3 1240.9L1878.3 1240.7L1879.3 1240.5L1880.3 1240.3L1881.3 1240.1L1882.3 1239.9L1883.2 1239.7L1884.2 1239.5L1885.2 1239.3L1886.2 1239.1L1887.2 1238.9L1888.2 1238.7L1889.2 1238.5L1890.2 1238.3L1891.1 1238.2L1892.1 1238.0L1893.1 1237.8L1894.1 1237.6L1895.1 1237.5L1896.1 1237.3L1897.1 1237.2L1898.1 1237.0L1899.1 1236.8L1900.0 1236.7L1901.0 1236.6L1902.0 1236.4L1903.0 1236.3L1904.0 1236.1L1905.0 1236.0L1906.0 1235.9L1907.0 1235.7L1908.0 1235.6L1909.1 1235.5L1910.1 1235.4L1911.1 1235.2L1912.1 1235.1L1913.1 1235.0L1914.1 1234.9L1915.2 1234.8L1916.2 1234.7L1917.2 1234.6L1918.2 1234.5L1919.2 1234.4L1920.2 1234.3L1921.3 1234.2L1922.3 1234.1L1923.3 1234.0L1924.3 1233.9L1925.3 1233.9L1926.3 1233.8L1927.4 1233.7L1928.4 1233.7L1929.4 1233.6L1930.4 1233.5L1931.4 1233.5L1932.4 1233.4L1933.5 1233.4L1934.5 1233.3L1935.5 1233.3L1936.5 1233.3L1937.5 1233.2L1938.5 1233.2L1939.6 1233.2L1940.6 1233.1L1941.6 1233.1L1942.6 1233.1L1943.6 1233.1L1944.6 1233.1L1945.7 1233.1L1946.7 1233.1L1947.7 1233.1L1948.7 1233.1L1949.7 1233.1L1950.7 1233.1L1951.7 1233.2L1952.8 1233.2L1953.8 1233.2L1954.8 1233.3L1955.8 1233.3L1956.8 1233.4L1957.8 1233.4L1958.8 1233.5L1959.8 1233.5L1960.9 1233.6L1961.9 1233.7L1962.9 1233.8L1963.9 1233.8L1964.9 1233.9L1965.9 1234.0L1966.9 1234.1L1967.9 1234.2L1968.9 1234.3L1970.0 1234.4L1971.0 1234.5L1972.0 1234.6L1973.0 1234.7L1974.0 1234.8L1975.0 1234.9L1976.0 1235.0L1977.0 1235.2L1978.0 1235.3L1979.0 1235.4L1980.1 1235.5L1981.1 1235.6L1982.1 1235.8L1983.1 1235.9L1984.1 1236.0L1985.1 1236.1L1986.1 1236.2L1987.1 1236.4L1988.2 1236.5L1989.2 1236.6L1990.2 1236.8L1991.2 1236.9L1992.2 1237.0L1993.2 1237.1L1994.2 1237.3L1995.2 1237.4L1996.3 1237.5L1997.3 1237.7L1998.3 1237.8L1999.4 1238.0L2000.5 1238.1L2001.5 1238.3L2002.6 1238.4L2003.7 1238.6L2004.8 1238.7L2005.9 1238.9L2006.9 1239.1L2008.0 1239.2L2009.1 1239.4L2010.2 1239.6L2011.3 1239.8L2012.4 1239.9L2013.4 1240.1L2014.5 1240.3L2015.6 1240.5L2016.6 1240.6L2017.7 1240.8L2018.7 1241.0L2019.8 1241.1L2020.8 1241.3L2021.8 1241.5L2022.8 1241.7L2023.8 1241.8L2024.8 1242.0L2025.7 1242.1L2026.7 1242.3L2027.6 1242.5L2028.5 1242.6L2029.4 1242.8L2030.3 1242.9L2031.1 1243.0L2032.0 1243.2L2032.8 1243.3L2033.6 1243.4L2034.3 1243.6L2035.1 1243.7L2035.8 1243.8L2037.5 1244.1L2039.0 1244.3L2040.5 1244.6L2041.9 1244.8L2043.2 1245.0L2044.4 1245.2L2045.6 1245.4L2046.6 1245.6L2047.6 1245.7L2048.6 1245.9L2049.4 1246.0L2050.2 1246.2L2051.0 1246.3L2051.7 1246.4L2052.3 1246.5L2052.9 1246.6L2053.5 1246.7L2054.0 1246.8" fill="none" stroke="#0000ff" stroke-width="4" stroke-linejoin="round" stroke-linecap="butt"/>
<path clip-path="url(#cb)" d="M221.0 1204.7L221.6 1204.7L222.2 1204.7L223.0 1204.8L223.8 1204.8L224.7 1204.8L225.7 1204.9L226.8 1204.9L227.9 1204.9L229.0 1205.0L230.1 1205.0L231.3 1205.1L232.5 1205.1L233.6 1205.2L234.8 1205.2L235.9 1205.3L237.0 1205.3L238.1 1205.4L239.1 1205.4L240.0 1205.5L241.1 1205.6L242.1 1205.6L243.1 1205.7L244.0 1205.8L244.9 1205.8L245.8 1205.9L246.7 1206.0L247.6 1206.0L248.5 1206.1L249.4 1206.2L250.4 1206.4L251.4 1206.5L252.5 1206.6L253.7 1206.8L255.0 1207.0L255.8 1207.1L256.7 1207.3L257.6 1207.4L258.5 1207.6L259.4 1207.7L260.4 1207.9L261.4 1208.0L262.4 1208.2L263.5 1208.4L264.5 1208.6L265.6 1208.7L266.6 1208.9L267.7 1209.1L268.8 1209.3L269.9 1209.5L270.9 1209.7L272.0 1210.0L273.1 1210.2L274.1 1210.4L275.1 1210.6L276.2 1210.8L277.2 1211.0L278.1 1211.3L279.1 1211.5L280.0 1211.7L281.0 1212.0L282.0 1212.2L283.0 1212.5L283.9 1212.8L284.7 1213.0L285.5 1213.3L286.4 1213.6L287.2 1213.8L287.9 1214.1L288.8 1214.4L289.6 1214.7L290.4 1215.0L291.3 1215.3L292.2 1215.6L293.1 1215.9L294.1 1216.3L295.2 1216.6L296.3 1217.0L297.5 1217.4L298.8 1217.8L300.2 1218.2L301.0 1218.4L301.7 1218.6L302.5 1218.9L303.4 1219.1L304.3 1219.4L305.1 1219.6L306.1 1219.9L307.0 1220.1L308.0 1220.4L308.9 1220.6L309.9 1220.9L310.9 1221.2L312.0 1221.5L313.0 1221.7L314.0 1222.0L315.1 1222.3L316.2 1222.6L317.2 1222.9L318.3 1223.2L319.4 1223.5L320.5 1223.8L321.6 1224.0L322.7 1224.3L323.7 1224.6L324.8 1224.9L325.9 1225.2L327.0 1225.5L328.0 1225.8L329.1 1226.1L330.1 1226.4L331.1 1226.7L332.1 1227.0L333.1 1227.3L334.1 1227.6L335.0 1227.9L336.0 1228.2L336.9 1228.5L337.8 1228.8L338.7 1229.0L339.5 1229.3L340.3 1229.6L341.5 1230.0L342.6 1230.4L343.7 1230.9L344.8 1231.3L345.9 1231.7L346.9 1232.1L347.9 1232.5L348.8 1232.9L349.8 1233.3L350.7 1233.8L351.6 1234.2L352.5 1234.6L353.4 1235.0L354.2 1235.4L355.1 1235.8L355.9 1236.2L356.8 1236.7L357.6 1237.1L358.4 1237.5L359.3 1237.9L360.1 1238.3L361.0 1238.7L361.8 1239.1L362.7 1239.6L363.6 1240.0L364.5 1240.4L365.4 1240.8L366.3 1241.2L367.3 1241.6L368.2 1242.1L369.1 1242.5L370.1 1242.9L371.0 1243.3L371.9 1243.8L372.9 1244.2L373.8 1244.6L374.8 1245.1L375.7 1245.5L376.6 1245.9L377.6 1246.4L378.5 1246.8L379.5 1247.2L380.4 1247.6L381.3 1248.1L382.2 1248.5L383.2 1248.9L384.1 1249.3L385.0 1249.7L385.9 1250.1L386.8 1250.5L387.7 1250.9L388.6 1251.3L389.5 1251.7L390.4 1252.1L391.4 1252.5L392.4 1252.9L393.3 1253.3L394.3 1253.7L395.2 1254.1L396.2 1254.4L397.1 1254.8L398.0 1255.1L398.9 1255.5L399.9 1255.8L400.8 1256.2L401.7 1256.5L402.6 1256.8L403.5 1257.2L404.5 1257.5L405.4 1257.9L406.3 1258.3L407.2 1258.7L408.2 1259.0L409.1 1259.4L410.1 1259.9L411.0 1260.3L412.0 1260.7L413.0 1261.2L413.8 1261.6L414.7 1262.0L415.5 1262.4L416.3 1262.9L417.1 1263.3L417.9 1263.7L418.8 1264.1L419.6 1264.6L420.4 1265.0L421.2 1265.5L422.0 1265.9L422.8 1266.4L423.7 1266.8L424.5 1267.3L425.3 1267.8L426.2 1268.3L427.1 1268.8L428.0 1269.3L428.9 1269.8L429.8 1270.3L430.7 1270.9L431.7 1271.4L432.6 1272.0L433.6 1272.5L434.7 1273.1L435.7 1273.7L436.8 1274.3L437.9 1274.9L438.6 1275.3L439.4 1275.7L440.2 1276.1L440.9 1276.6L441.7 1277.0L442.5 1277.4L443.3 1277.9L444.1 1278.3L445.0 1278.8L445.8 1279.3L446.7 1279.7L447.5 1280.2L448.4 1280.7L449.3 1281.2L450.2 1281.7L451.0 1282.2L451.9 1282.7L452.8 1283.2L453.8 1283.7L454.7 1284.2L455.6 1284.7L456.5 1285.2L457.4 1285.7L458.3 1286.2L459.3 1286.7L460.2 1287.2L461.1 1287.7L462.1 1288.2L463.0 1288.7L463.9 1289.3L464.9 1289.8L465.8 1290.3L466.7 1290.8L467.6 1291.3L468.6 1291.8L469.5 1292.3L470.4 1292.8L471.3 1293.3L472.2 1293.8L473.1 1294.3L474.0 1294.7L474.9 1295.2L475.8 1295.7L476.7 1296.2L477.6 1296.7L478.5 1297.2L479.4 1297.6L480.3 1298.1L481.2 1298.6L482.1 1299.1L483.0 1299.6L483.9 1300.1L484.8 1300.5L485.7 1301.0L486.6 1301.5L487.5 1302.0L488.4 1302.5L489.3 1303.0L490.2 1303.4L491.1 1303.9L492.0 1304.4L492.9 1304.9L493.8 1305.3L494.8 1305.8L495.7 1306.3L496.6 1306.8L497.5 1307.3L498.4 1307.7L499.3 1308.2L500.2 1308.7L501.1 1309.1L502.0 1309.6L502.9 1310.1L503.8 1310.5L504.7 1311.0L505.6 1311.5L506.5 1311.9L507.4 1312.4L508.3 1312.9L509.2 1313.3L510.1 1313.8L511.0 1314.2L511.9 1314.7L512.8 1315.1L513.7 1315.6L514.6 1316.1L515.5 1316.5L516.5 1317.0L517.4 1317.4L518.3 1317.9L519.2 1318.3L520.2 1318.8L521.1 1319.2L522.0 1319.7L522.9 1320.1L523.9 1320.6L524.8 1321.0L525.7 1321.5L526.6 1321.9L527.6 1322.4L528.5 1322.8L529.4 1323.2L530.3 1323.7L531.3 1324.1L532.2 1324.6L533.1 1325.0L534.0 1325.4L535.0 1325.9L535.9 1326.3L536.8 1326.7L537.7 1327.2L538.7 1327.6L539.6 1328.0L540.5 1328.5L541.4 1328.9L542.4 1329.3L543.3 1329.7L544.2 1330.2L545.1 1330.6L546.1 1331.0L547.0 1331.5L547.9 1331.9L548.8 1332.3L549.8 1332.7L550.7 1333.2L551.6 1333.6L552.5 1334.0L553.4 1334.5L554.4 1334.9L555.3 1335.3L556.2 1335.8L557.1 1336.2L558.1 1336.6L559.0 1337.1L559.9 1337.5L560.8 1337.9L561.8 1338.4L562.7 1338.8L563.6 1339.2L564.5 1339.7L565.5 1340.1L566.4 1340.5L567.3 1341.0L568.2 1341.4L569.2 1341.8L570.1 1342.2L571.0 1342.7L571.9 1343.1L572.9 1343.5L573.8 1343.9L574.7 1344.4L575.6 1344.8L576.6 1345.2L577.5 1345.6L578.4 1346.0L579.3 1346.4L580.3 1346.8L581.2 1347.2L582.1 1347.6L583.0 1348.0L584.0 1348.4L584.9 1348.8L585.8 1349.2L586.7 1349.6L587.7 1350.0L588.6 1350.3L589.5 1350.7L590.4 1351.1L591.4 1351.5L592.3 1351.8L593.3 1352.2L594.2 1352.6L595.2 1352.9L596.1 1353.3L597.1 1353.6L598.0 1354.0L599.0 1354.3L599.9 1354.7L600.9 1355.0L601.8 1355.4L602.8 1355.7L603.7 1356.1L604.7 1356.4L605.6 1356.7L606.6 1357.1L607.5 1357.4L608.5 1357.7L609.4 1358.0L610.3 1358.4L611.3 1358.7L612.2 1359.0L613.2 1359.3L614.1 1359.6L615.1 1359.9L616.0 1360.3L617.0 1360.6L617.9 1360.9L618.9 1361.2L619.8 1361.5L620.8 1361.8L621.7 1362.1L622.7 1362.4L623.6 1362.7L624.6 1363.0L625.5 1363.3L626.5 1363.6L627.4 1363.9L628.4 1364.2L629.3 1364.5L630.3 1364.8L631.3 1365.1L632.3 1365.4L633.2 1365.7L634.2 1366.0L635.2 1366.3L636.1 1366.5L637.1 1366.8L638.1 1367.1L639.1 1367.4L640.0 1367.7L641.0 1368.0L642.0 1368.2L642.9 1368.5L643.9 1368.8L644.9 1369.0L645.9 1369.3L646.8 1369.6L647.8 1369.8L648.8 1370.1L649.8 1370.4L650.7 1370.6L651.7 1370.9L652.7 1371.1L653.6 1371.4L654.6 1371.7L655.6 1371.9L656.6 1372.2L657.5 1372.4L658.5 1372.7L659.5 1372.9L660.4 1373.2L661.4 1373.4L662.4 1373.7L663.4 1373.9L664.3 1374.2L665.3 1374.4L666.3 1374.6L667.3 1374.9L668.3 1375.1L669.3 1375.4L670.3 1375.6L671.3 1375.9L672.3 1376.1L673.3 1376.4L674.3 1376.6L675.3 1376.9L676.3 1377.1L677.3 1377.4L678.3 1377.6L679.3 1377.8L680.3 1378.1L681.3 1378.3L682.3 1378.5L683.3 1378.8L684.2 1379.0L685.2 1379.2L686.2 1379.5L687.2 1379.7L688.2 1379.9L689.2 1380.1L690.2 1380.4L691.2 1380.6L692.2 1380.8L693.2 1381.0L694.2 1381.2L695.2 1381.4L696.2 1381.6L697.2 1381.8L698.2 1382.0L699.2 1382.2L700.2 1382.4L701.2 1382.5L702.2 1382.7L703.2 1382.9L704.2 1383.1L705.2 1383.2L706.2 1383.4L707.2 1383.6L708.2 1383.7L709.2 1383.9L710.2 1384.0L711.2 1384.2L712.2 1384.3L713.2 1384.5L714.2 1384.6L715.2 1384.8L716.2 1384.9L717.2 1385.0L718.2 1385.2L719.2 1385.3L720.2 1385.4L721.2 1385.5L722.2 1385.7L723.1 1385.8L724.1 1385.9L725.1 1386.0L726.1 1386.1L727.1 1386.2L728.1 1386.3L729.1 1386.5L730.1 1386.6L731.1 1386.7L732.1 1386.8L733.1 1386.9L734.1 1387.0L735.1 1387.1L736.1 1387.1L737.1 1387.2L738.1 1387.3L739.1 1387.4L740.1 1387.5L741.1 1387.6L742.1 1387.7L743.2 1387.8L744.2 1387.9L745.3 1387.9L746.4 1388.0L747.4 1388.1L748.5 1388.2L749.6 1388.2L750.7 1388.3L751.8 1388.4L752.9 1388.4L754.0 1388.5L755.1 1388.5L756.2 1388.6L757.3 1388.6L758.4 1388.7L759.5 1388.7L760.6 1388.8L761.6 1388.8L762.7 1388.9L763.8 1388.9L764.8 1389.0L765.9 1389.0L766.9 1389.0L768.0 1389.1L769.0 1389.1L770.0 1389.2L771.0 1389.2L771.9 1389.2L772.9 1389.3L773.8 1389.3L774.7 1389.3L775.6 1389.4L776.5 1389.4L777.4 1389.4L778.2 1389.5L779.0 1389.5L780.3 1389.6L781.5 1389.6L782.6 1389.7L783.5 1389.7L784.4 1389.8L785.2 1389.8L785.9 1389.8L786.6 1389.9L787.3 1389.9L788.0 1389.9L788.7 1390.0L789.4 1390.0L790.1 1390.0L791.0 1390.0L791.9 1390.0L792.9 1390.0L794.0 1390.0L795.3 1390.0L796.7 1390.0L798.2 1390.0L800.0 1390.0L800.7 1390.0L801.4 1390.0L802.2 1390.0L803.0 1390.0L803.7 1389.9L804.6 1389.9L805.4 1389.9L806.2 1389.9L807.1 1389.9L808.0 1389.9L808.9 1389.8L809.8 1389.8L810.7 1389.8L811.7 1389.8L812.6 1389.8L813.6 1389.7L814.6 1389.7L815.6 1389.7L816.6 1389.7L817.6 1389.6L818.7 1389.6L819.7 1389.6L820.8 1389.6L821.8 1389.5L822.9 1389.5L824.0 1389.5L825.1 1389.4L826.2 1389.4L827.3 1389.4L828.4 1389.4L829.5 1389.3L830.6 1389.3L831.7 1389.3L832.8 1389.2L833.9 1389.2L835.0 1389.2L836.2 1389.1L837.3 1389.1L838.4 1389.1L839.5 1389.0L840.6 1389.0L841.8 1389.0L842.9 1389.0L844.0 1388.9L845.1 1388.9L846.2 1388.9L847.3 1388.8L848.4 1388.8L849.5 1388.8L850.5 1388.8L851.6 1388.7L852.7 1388.7L853.7 1388.7L854.7 1388.6L855.8 1388.6L856.8 1388.6L857.8 1388.6L858.8 1388.6L859.9 1388.5L860.9 1388.5L861.9 1388.5L863.0 1388.5L864.0 1388.4L865.1 1388.4L866.1 1388.4L867.2 1388.4L868.3 1388.3L869.3 1388.3L870.4 1388.3L871.5 1388.3L872.5 1388.2L873.6 1388.2L874.7 1388.2L875.7 1388.2L876.8 1388.1L877.9 1388.1L879.0 1388.1L880.0 1388.0L881.1 1388.0L882.2 1388.0L883.2 1388.0L884.3 1387.9L885.4 1387.9L886.4 1387.9L887.5 1387.9L888.5 1387.9L889.6 1387.8L890.6 1387.8L891.7 1387.8L892.7 1387.8L893.7 1387.7L894.8 1387.7L895.8 1387.7L896.8 1387.7L897.8 1387.6L898.8 1387.6L899.8 1387.6L900.8 1387.6L901.8 1387.6L902.8 1387.5L903.7 1387.5L904.7 1387.5L905.6 1387.5L906.6 1387.4L907.5 1387.4L908.4 1387.4L909.3 1387.4L910.2 1387.4L911.1 1387.4L912.0 1387.3L912.8 1387.3L913.7 1387.3L915.0 1387.3L916.2 1387.2L917.4 1387.2L918.6 1387.2L919.8 1387.2L920.9 1387.1L922.1 1387.1L923.2 1387.1L924.2 1387.1L925.3 1387.0L926.4 1387.0L927.4 1387.0L928.4 1387.0L929.4 1386.9L930.4 1386.9L931.4 1386.9L932.4 1386.9L933.4 1386.9L934.3 1386.8L935.3 1386.8L936.2 1386.8L937.2 1386.8L938.1 1386.8L939.0 1386.7L940.0 1386.7L940.9 1386.7L941.9 1386.7L942.8 1386.7L943.8 1386.7L944.7 1386.7L945.7 1386.7L946.6 1386.7L947.6 1386.7L948.6 1386.7L949.6 1386.7L950.6 1386.7L951.6 1386.7L952.6 1386.7L953.6 1386.7L954.7 1386.7L955.7 1386.7L956.7 1386.8L957.7 1386.8L958.8 1386.8L959.8 1386.8L960.8 1386.8L961.8 1386.8L962.9 1386.8L963.9 1386.9L964.9 1386.9L965.9 1386.9L967.0 1386.9L968.0 1387.0L969.0 1387.0L970.0 1387.0L971.1 1387.0L972.1 1387.1L973.1 1387.1L974.1 1387.1L975.2 1387.2L976.2 1387.2L977.2 1387.3L978.2 1387.3L979.3 1387.3L980.3 1387.4L981.3 1387.4L982.3 1387.5L983.4 1387.5L984.4 1387.6L985.4 1387.6L986.4 1387.7L987.5 1387.8L988.5 1387.8L989.5 1387.9L990.5 1388.0L991.5 1388.0L992.5 1388.1L993.5 1388.2L994.5 1388.3L995.5 1388.3L996.5 1388.4L997.5 1388.5L998.5 1388.6L999.5 1388.7L1000.5 1388.8L1001.5 1388.9L1002.5 1389.0L1003.5 1389.1L1004.5 1389.2L1005.5 1389.2L1006.5 1389.4L1007.5 1389.5L1008.5 1389.6L1009.4 1389.7L1010.4 1389.8L1011.4 1389.9L1012.4 1390.0L1013.4 1390.1L1014.4 1390.2L1015.4 1390.3L1016.4 1390.4L1017.4 1390.5L1018.4 1390.7L1019.4 1390.8L1020.4 1390.9L1021.4 1391.0L1022.4 1391.1L1023.4 1391.2L1024.4 1391.3L1025.4 1391.5L1026.4 1391.6L1027.4 1391.7L1028.4 1391.8L1029.4 1391.9L1030.4 1392.1L1031.4 1392.2L1032.4 1392.3L1033.4 1392.4L1034.4 1392.5L1035.4 1392.6L1036.4 1392.8L1037.4 1392.9L1038.4 1393.0L1039.4 1393.1L1040.4 1393.3L1041.4 1393.4L1042.4 1393.5L1043.4 1393.6L1044.4 1393.8L1045.4 1393.9L1046.4 1394.0L1047.3 1394.1L1048.3 1394.3L1049.3 1394.4L1050.3 1394.5L1051.3 1394.7L1052.3 1394.8L1053.3 1395.0L1054.3 1395.1L1055.3 1395.2L1056.3 1395.4L1057.3 1395.5L1058.3 1395.7L1059.3 1395.8L1060.3 1396.0L1061.3 1396.2L1062.3 1396.3L1063.3 1396.5L1064.3 1396.6L1065.3 1396.8L1066.3 1397.0L1067.3 1397.1L1068.3 1397.3L1069.3 1397.5L1070.3 1397.7L1071.3 1397.8L1072.3 1398.0L1073.3 1398.2L1074.3 1398.4L1075.3 1398.6L1076.3 1398.8L1077.3 1399.0L1078.3 1399.1L1079.3 1399.3L1080.3 1399.5L1081.3 1399.7L1082.3 1399.9L1083.3 1400.1L1084.2 1400.3L1085.2 1400.5L1086.2 1400.7L1087.2 1400.9L1088.2 1401.2L1089.2 1401.4L1090.2 1401.6L1091.2 1401.8L1092.2 1402.0L1093.2 1402.2L1094.2 1402.4L1095.2 1402.6L1096.2 1402.9L1097.2 1403.1L1098.2 1403.3L1099.2 1403.5L1100.2 1403.7L1101.2 1404.0L1102.2 1404.2L1103.2 1404.4L1104.2 1404.6L1105.1 1404.8L1106.1 1405.1L1107.1 1405.3L1108.1 1405.5L1109.0 1405.7L1110.0 1406.0L1111.0 1406.2L1111.9 1406.4L1112.9 1406.7L1113.9 1406.9L1114.9 1407.1L1115.8 1407.4L1116.8 1407.6L1117.8 1407.8L1118.7 1408.1L1119.7 1408.3L1120.7 1408.6L1121.7 1408.8L1122.6 1409.0L1123.6 1409.3L1124.6 1409.5L1125.6 1409.8L1126.5 1410.0L1127.5 1410.3L1128.5 1410.5L1129.4 1410.8L1130.4 1411.0L1131.4 1411.3L1132.4 1411.5L1133.3 1411.8L1134.3 1412.0L1135.3 1412.3L1136.2 1412.5L1137.2 1412.8L1138.2 1413.0L1139.2 1413.3L1140.1 1413.5L1141.1 1413.8L1142.1 1414.1L1143.1 1414.3L1144.1 1414.6L1145.1 1414.8L1146.1 1415.1L1147.1 1415.4L1148.1 1415.7L1149.2 1415.9L1150.2 1416.2L1151.2 1416.5L1152.3 1416.8L1153.3 1417.1L1154.4 1417.3L1155.4 1417.6L1156.4 1417.9L1157.5 1418.2L1158.5 1418.5L1159.6 1418.8L1160.6 1419.0L1161.6 1419.3L1162.6 1419.6L1163.7 1419.9L1164.7 1420.2L1165.7 1420.4L1166.6 1420.7L1167.6 1421.0L1168.6 1421.3L1169.5 1421.5L1170.5 1421.8L1171.4 1422.0L1172.3 1422.3L1173.2 1422.6L1174.1 1422.8L1175.0 1423.0L1175.8 1423.3L1176.6 1423.5L1177.4 1423.8L1178.2 1424.0L1179.0 1424.2L1180.3 1424.6L1181.6 1425.0L1182.7 1425.3L1183.8 1425.6L1184.8 1425.9L1185.7 1426.2L1186.6 1426.5L1187.5 1426.8L1188.3 1427.1L1189.1 1427.4L1189.9 1427.6L1190.7 1427.9L1191.5 1428.2L1192.4 1428.4L1193.3 1428.7L1194.2 1429.0L1195.2 1429.3L1196.3 1429.6L1197.4 1430.0L1198.7 1430.3L1200.0 1430.7L1200.8 1430.9L1201.6 1431.1L1202.4 1431.3L1203.2 1431.6L1204.0 1431.8L1204.9 1432.0L1205.8 1432.3L1206.7 1432.5L1207.6 1432.7L1208.5 1433.0L1209.5 1433.2L1210.4 1433.5L1211.4 1433.7L1212.4 1434.0L1213.3 1434.2L1214.3 1434.5L1215.3 1434.7L1216.4 1435.0L1217.4 1435.2L1218.4 1435.5L1219.4 1435.8L1220.5 1436.0L1221.5 1436.3L1222.6 1436.5L1223.6 1436.8L1224.6 1437.1L1225.7 1437.3L1226.7 1437.6L1227.8 1437.9L1228.8 1438.1L1229.8 1438.4L1230.9 1438.6L1231.9 1438.9L1232.9 1439.1L1233.9 1439.4L1234.9 1439.7L1235.9 1439.9L1236.9 1440.2L1237.9 1440.4L1238.9 1440.6L1239.8 1440.9L1240.8 1441.1L1241.8 1441.4L1242.8 1441.6L1243.7 1441.9L1244.7 1442.1L1245.7 1442.4L1246.6 1442.6L1247.6 1442.9L1248.6 1443.1L1249.6 1443.4L1250.5 1443.6L1251.5 1443.9L1252.5 1444.1L1253.4 1444.4L1254.4 1444.6L1255.4 1444.9L1256.4 1445.1L1257.3 1445.4L1258.3 1445.6L1259.3 1445.8L1260.3 1446.1L1261.2 1446.3L1262.2 1446.6L1263.2 1446.8L1264.1 1447.1L1265.1 1447.3L1266.1 1447.5L1267.1 1447.8L1268.0 1448.0L1269.0 1448.2L1270.0 1448.5L1270.9 1448.7L1271.9 1448.9L1272.9 1449.1L1273.9 1449.4L1274.8 1449.6L1275.8 1449.8L1276.8 1450.0L1277.8 1450.2L1278.8 1450.5L1279.8 1450.7L1280.8 1450.9L1281.8 1451.1L1282.8 1451.4L1283.8 1451.6L1284.8 1451.8L1285.8 1452.0L1286.8 1452.3L1287.8 1452.5L1288.8 1452.7L1289.8 1452.9L1290.8 1453.1L1291.8 1453.4L1292.8 1453.6L1293.8 1453.8L1294.8 1454.0L1295.7 1454.2L1296.7 1454.4L1297.7 1454.6L1298.7 1454.8L1299.7 1455.0L1300.7 1455.2L1301.7 1455.4L1302.7 1455.6L1303.7 1455.8L1304.7 1455.9L1305.7 1456.1L1306.7 1456.3L1307.7 1456.5L1308.7 1456.6L1309.7 1456.8L1310.7 1457.0L1311.7 1457.1L1312.7 1457.3L1313.7 1457.4L1314.7 1457.5L1315.7 1457.7L1316.7 1457.8L1317.7 1457.9L1318.7 1458.1L1319.7 1458.2L1320.7 1458.3L1321.7 1458.4L1322.7 1458.5L1323.7 1458.6L1324.7 1458.7L1325.7 1458.8L1326.7 1458.9L1327.7 1459.0L1328.7 1459.1L1329.7 1459.2L1330.7 1459.3L1331.7 1459.4L1332.7 1459.5L1333.6 1459.6L1334.6 1459.6L1335.6 1459.7L1336.6 1459.8L1337.6 1459.8L1338.6 1459.9L1339.6 1460.0L1340.6 1460.0L1341.6 1460.1L1342.6 1460.2L1343.6 1460.2L1344.6 1460.3L1345.6 1460.3L1346.6 1460.4L1347.6 1460.4L1348.6 1460.5L1349.6 1460.5L1350.6 1460.6L1351.6 1460.6L1352.6 1460.6L1353.6 1460.7L1354.7 1460.7L1355.7 1460.8L1356.7 1460.8L1357.7 1460.8L1358.8 1460.9L1359.8 1460.9L1360.8 1460.9L1361.8 1460.9L1362.9 1461.0L1363.9 1461.0L1364.9 1461.0L1365.9 1461.0L1367.0 1461.0L1368.0 1461.0L1369.0 1461.0L1370.0 1461.1L1371.1 1461.1L1372.1 1461.1L1373.1 1461.1L1374.1 1461.1L1375.2 1461.0L1376.2 1461.0L1377.2 1461.0L1378.2 1461.0L1379.3 1461.0L1380.3 1461.0L1381.3 1460.9L1382.3 1460.9L1383.4 1460.9L1384.4 1460.8L1385.4 1460.8L1386.4 1460.8L1387.5 1460.7L1388.5 1460.7L1389.5 1460.6L1390.5 1460.5L1391.5 1460.5L1392.5 1460.4L1393.5 1460.4L1394.5 1460.3L1395.5 1460.2L1396.5 1460.1L1397.5 1460.1L1398.5 1460.0L1399.5 1459.9L1400.5 1459.8L1401.5 1459.7L1402.5 1459.6L1403.5 1459.5L1404.5 1459.4L1405.5 1459.3L1406.5 1459.2L1407.5 1459.1L1408.5 1459.0L1409.4 1458.9L1410.4 1458.8L1411.4 1458.7L1412.4 1458.6L1413.4 1458.4L1414.4 1458.3L1415.4 1458.2L1416.4 1458.1L1417.4 1457.9L1418.4 1457.8L1419.4 1457.7L1420.4 1457.5L1421.4 1457.4L1422.4 1457.2L1423.4 1457.1L1424.4 1457.0L1425.4 1456.8L1426.4 1456.7L1427.4 1456.5L1428.4 1456.3L1429.4 1456.2L1430.4 1456.0L1431.4 1455.9L1432.4 1455.7L1433.4 1455.6L1434.4 1455.4L1435.4 1455.2L1436.4 1455.1L1437.4 1454.9L1438.4 1454.7L1439.4 1454.6L1440.4 1454.4L1441.4 1454.2L1442.4 1454.0L1443.4 1453.8L1444.4 1453.7L1445.4 1453.5L1446.4 1453.3L1447.3 1453.1L1448.3 1452.9L1449.3 1452.7L1450.3 1452.5L1451.3 1452.3L1452.3 1452.1L1453.3 1451.8L1454.3 1451.6L1455.3 1451.4L1456.3 1451.2L1457.3 1450.9L1458.3 1450.7L1459.3 1450.5L1460.3 1450.2L1461.3 1450.0L1462.3 1449.7L1463.3 1449.4L1464.3 1449.2L1465.3 1448.9L1466.2 1448.6L1467.2 1448.4L1468.1 1448.1L1469.1 1447.8L1470.0 1447.5L1471.0 1447.3L1471.9 1447.0L1472.9 1446.7L1473.8 1446.4L1474.8 1446.1L1475.7 1445.8L1476.7 1445.5L1477.6 1445.2L1478.6 1444.9L1479.5 1444.6L1480.5 1444.3L1481.4 1443.9L1482.4 1443.6L1483.3 1443.3L1484.3 1443.0L1485.2 1442.6L1486.2 1442.3L1487.1 1441.9L1488.0 1441.6L1489.0 1441.2L1489.9 1440.9L1490.9 1440.5L1491.8 1440.2L1492.8 1439.8L1493.7 1439.5L1494.7 1439.1L1495.6 1438.7L1496.6 1438.3L1497.5 1438.0L1498.5 1437.6L1499.4 1437.2L1500.4 1436.8L1501.3 1436.4L1502.3 1436.0L1503.2 1435.6L1504.1 1435.2L1505.0 1434.8L1505.9 1434.4L1506.8 1434.0L1507.7 1433.6L1508.6 1433.2L1509.5 1432.8L1510.4 1432.4L1511.3 1431.9L1512.2 1431.5L1513.1 1431.1L1514.0 1430.6L1514.9 1430.2L1515.8 1429.7L1516.7 1429.3L1517.6 1428.8L1518.5 1428.4L1519.4 1427.9L1520.3 1427.4L1521.2 1427.0L1522.1 1426.5L1523.0 1426.0L1523.9 1425.6L1524.8 1425.1L1525.7 1424.6L1526.6 1424.2L1527.5 1423.7L1528.4 1423.2L1529.3 1422.7L1530.2 1422.3L1531.1 1421.8L1532.0 1421.3L1532.9 1420.9L1533.8 1420.4L1534.7 1419.9L1535.6 1419.5L1536.5 1419.0L1537.4 1418.5L1538.3 1418.1L1539.2 1417.6L1540.1 1417.2L1541.0 1416.7L1541.9 1416.2L1542.8 1415.8L1543.7 1415.3L1544.7 1414.9L1545.6 1414.4L1546.6 1413.9L1547.5 1413.5L1548.5 1413.0L1549.4 1412.5L1550.4 1412.0L1551.4 1411.6L1552.3 1411.1L1553.3 1410.6L1554.3 1410.1L1555.3 1409.6L1556.2 1409.2L1557.2 1408.7L1558.2 1408.2L1559.1 1407.7L1560.1 1407.2L1561.0 1406.8L1562.0 1406.3L1563.0 1405.8L1563.9 1405.4L1564.8 1404.9L1565.8 1404.4L1566.7 1404.0L1567.6 1403.5L1568.5 1403.1L1569.4 1402.6L1570.3 1402.2L1571.1 1401.7L1572.0 1401.3L1572.8 1400.9L1573.6 1400.5L1574.5 1400.0L1575.3 1399.6L1576.0 1399.2L1576.8 1398.8L1577.6 1398.5L1578.3 1398.1L1579.0 1397.7L1580.2 1397.1L1581.3 1396.5L1582.3 1396.0L1583.2 1395.5L1584.1 1395.0L1584.9 1394.5L1585.7 1394.1L1586.4 1393.7L1587.1 1393.3L1587.8 1392.9L1588.5 1392.5L1589.1 1392.2L1589.8 1391.8L1590.5 1391.4L1591.2 1390.9L1592.0 1390.5L1592.7 1390.0L1593.6 1389.5L1594.4 1389.0L1595.4 1388.4L1596.4 1387.8L1597.5 1387.2L1598.7 1386.5L1600.0 1385.7L1600.7 1385.3L1601.3 1384.9L1602.0 1384.5L1602.7 1384.1L1603.4 1383.7L1604.2 1383.2L1604.9 1382.8L1605.7 1382.3L1606.5 1381.9L1607.3 1381.4L1608.1 1381.0L1608.9 1380.5L1609.7 1380.0L1610.6 1379.5L1611.4 1379.0L1612.3 1378.5L1613.2 1378.0L1614.0 1377.5L1614.9 1376.9L1615.8 1376.4L1616.7 1375.9L1617.6 1375.3L1618.5 1374.8L1619.5 1374.3L1620.4 1373.7L1621.3 1373.2L1622.3 1372.6L1623.2 1372.0L1624.1 1371.5L1625.1 1370.9L1626.0 1370.3L1627.0 1369.8L1627.9 1369.2L1628.9 1368.6L1629.8 1368.0L1630.8 1367.5L1631.7 1366.9L1632.6 1366.3L1633.6 1365.7L1634.5 1365.2L1635.5 1364.6L1636.4 1364.0L1637.3 1363.4L1638.2 1362.8L1639.1 1362.3L1640.0 1361.7L1640.9 1361.1L1641.8 1360.5L1642.7 1360.0L1643.6 1359.4L1644.4 1358.9L1645.2 1358.3L1646.1 1357.8L1646.9 1357.2L1647.7 1356.7L1648.5 1356.1L1649.4 1355.6L1650.2 1355.0L1651.0 1354.4L1651.8 1353.9L1652.7 1353.3L1653.5 1352.7L1654.3 1352.1L1655.1 1351.6L1655.9 1351.0L1656.8 1350.4L1657.6 1349.8L1658.4 1349.2L1659.2 1348.6L1660.1 1348.1L1660.9 1347.5L1661.7 1346.9L1662.5 1346.3L1663.3 1345.7L1664.2 1345.1L1665.0 1344.5L1665.8 1343.9L1666.6 1343.3L1667.5 1342.7L1668.3 1342.1L1669.1 1341.5L1669.9 1341.0L1670.8 1340.4L1671.6 1339.8L1672.4 1339.2L1673.2 1338.6L1674.0 1338.0L1674.9 1337.4L1675.7 1336.8L1676.5 1336.3L1677.3 1335.7L1678.2 1335.1L1679.0 1334.5L1679.8 1333.9L1680.6 1333.4L1681.4 1332.8L1682.3 1332.2L1683.1 1331.7L1683.9 1331.1L1684.7 1330.6L1685.6 1330.0L1686.4 1329.4L1687.2 1328.9L1688.1 1328.3L1688.9 1327.8L1689.8 1327.2L1690.6 1326.6L1691.5 1326.1L1692.3 1325.5L1693.2 1325.0L1694.0 1324.4L1694.9 1323.8L1695.7 1323.3L1696.6 1322.7L1697.4 1322.2L1698.3 1321.6L1699.1 1321.1L1700.0 1320.5L1700.9 1320.0L1701.7 1319.4L1702.6 1318.9L1703.4 1318.3L1704.3 1317.8L1705.1 1317.2L1706.0 1316.7L1706.8 1316.1L1707.7 1315.6L1708.5 1315.0L1709.4 1314.5L1710.2 1314.0L1711.1 1313.4L1711.9 1312.9L1712.8 1312.4L1713.6 1311.8L1714.5 1311.3L1715.3 1310.8L1716.2 1310.3L1717.0 1309.7L1717.9 1309.2L1718.8 1308.7L1719.6 1308.2L1720.5 1307.7L1721.3 1307.1L1722.2 1306.6L1723.0 1306.1L1723.9 1305.6L1724.7 1305.1L1725.6 1304.6L1726.4 1304.1L1727.3 1303.6L1728.1 1303.1L1729.0 1302.6L1729.8 1302.1L1730.7 1301.6L1731.6 1301.1L1732.5 1300.6L1733.4 1300.1L1734.3 1299.6L1735.1 1299.1L1736.0 1298.6L1736.9 1298.1L1737.8 1297.6L1738.7 1297.1L1739.6 1296.6L1740.5 1296.1L1741.4 1295.6L1742.3 1295.2L1743.1 1294.7L1744.0 1294.2L1744.9 1293.7L1745.8 1293.2L1746.7 1292.8L1747.6 1292.3L1748.5 1291.8L1749.4 1291.4L1750.3 1290.9L1751.2 1290.4L1752.0 1290.0L1752.9 1289.5L1753.8 1289.0L1754.7 1288.6L1755.6 1288.1L1756.5 1287.7L1757.4 1287.2L1758.3 1286.8L1759.2 1286.3L1760.1 1285.9L1760.9 1285.4L1761.8 1285.0L1762.7 1284.5L1763.6 1284.1L1764.5 1283.6L1765.4 1283.2L1766.3 1282.7L1767.2 1282.3L1768.1 1281.8L1769.0 1281.4L1769.9 1280.9L1770.7 1280.5L1771.6 1280.0L1772.5 1279.6L1773.4 1279.1L1774.3 1278.7L1775.2 1278.2L1776.1 1277.8L1777.0 1277.3L1777.9 1276.9L1778.8 1276.4L1779.8 1276.0L1780.7 1275.5L1781.6 1275.0L1782.5 1274.6L1783.4 1274.1L1784.3 1273.7L1785.2 1273.2L1786.1 1272.8L1787.0 1272.3L1787.9 1271.8L1788.8 1271.4L1789.7 1270.9L1790.6 1270.5L1791.6 1270.0L1792.5 1269.6L1793.4 1269.1L1794.3 1268.7L1795.2 1268.2L1796.1 1267.8L1797.0 1267.4L1797.9 1266.9L1798.8 1266.5L1799.7 1266.0L1800.6 1265.6L1801.5 1265.2L1802.5 1264.8L1803.4 1264.3L1804.3 1263.9L1805.2 1263.5L1806.1 1263.1L1807.0 1262.7L1807.9 1262.2L1808.8 1261.8L1809.7 1261.4L1810.6 1261.0L1811.5 1260.6L1812.4 1260.3L1813.4 1259.9L1814.3 1259.5L1815.2 1259.1L1816.1 1258.7L1817.0 1258.4L1817.9 1258.0L1818.9 1257.6L1819.8 1257.2L1820.8 1256.9L1821.8 1256.5L1822.7 1256.1L1823.7 1255.7L1824.7 1255.4L1825.7 1255.0L1826.6 1254.7L1827.6 1254.3L1828.6 1254.0L1829.5 1253.6L1830.5 1253.3L1831.5 1252.9L1832.4 1252.6L1833.4 1252.3L1834.4 1252.0L1835.3 1251.6L1836.3 1251.3L1837.3 1251.0L1838.3 1250.7L1839.2 1250.4L1840.2 1250.0L1841.2 1249.7L1842.1 1249.4L1843.1 1249.1L1844.1 1248.8L1845.0 1248.5L1846.0 1248.2L1847.0 1248.0L1847.9 1247.7L1848.9 1247.4L1849.9 1247.1L1850.8 1246.8L1851.8 1246.5L1852.8 1246.3L1853.8 1246.0L1854.7 1245.7L1855.7 1245.5L1856.7 1245.2L1857.6 1244.9L1858.6 1244.7L1859.6 1244.4L1860.5 1244.2L1861.5 1243.9L1862.5 1243.6L1863.5 1243.4L1864.5 1243.1L1865.5 1242.9L1866.4 1242.6L1867.4 1242.4L1868.4 1242.2L1869.4 1241.9L1870.4 1241.7L1871.4 1241.4L1872.4 1241.2L1873.4 1241.0L1874.4 1240.8L1875.3 1240.5L1876.3 1240.3L1877.3 1240.1L1878.3 1239.9L1879.3 1239.7L1880.3 1239.5L1881.3 1239.3L1882.3 1239.1L1883.2 1238.9L1884.2 1238.7L1885.2 1238.5L1886.2 1238.3L1887.2 1238.1L1888.2 1237.9L1889.2 1237.7L1890.2 1237.5L1891.1 1237.4L1892.1 1237.2L1893.1 1237.0L1894.1 1236.8L1895.1 1236.7L1896.1 1236.5L1897.1 1236.4L1898.1 1236.2L1899.1 1236.0L1900.0 1235.9L1901.0 1235.8L1902.0 1235.6L1903.0 1235.5L1904.0 1235.3L1905.0 1235.2L1906.0 1235.1L1907.0 1234.9L1908.0 1234.8L1909.1 1234.7L1910.1 1234.6L1911.1 1234.4L1912.1 1234.3L1913.1 1234.2L1914.1 1234.1L1915.2 1234.0L1916.2 1233.9L1917.2 1233.8L1918.2 1233.7L1919.2 1233.6L1920.2 1233.5L1921.3 1233.4L1922.3 1233.3L1923.3 1233.2L1924.3 1233.1L1925.3 1233.1L1926.3 1233.0L1927.4 1232.9L1928.4 1232.9L1929.4 1232.8L1930.4 1232.7L1931.4 1232.7L1932.4 1232.6L1933.5 1232.6L1934.5 1232.5L1935.5 1232.5L1936.5 1232.5L1937.5 1232.4L1938.5 1232.4L1939.6 1232.4L1940.6 1232.3L1941.6 1232.3L1942.6 1232.3L1943.6 1232.3L1944.6 1232.3L1945.7 1232.3L1946.7 1232.3L1947.7 1232.3L1948.7 1232.3L1949.7 1232.3L1950.7 1232.3L1951.7 1232.4L1952.8 1232.4L1953.8 1232.4L1954.8 1232.5L1955.8 1232.5L1956.8 1232.6L1957.8 1232.6L1958.8 1232.7L1959.8 1232.7L1960.9 1232.8L1961.9 1232.9L1962.9 1233.0L1963.9 1233.0L1964.9 1233.1L1965.9 1233.2L1966.9 1233.3L1967.9 1233.4L1968.9 1233.5L1970.0 1233.6L1971.0 1233.7L1972.0 1233.8L1973.0 1233.9L1974.0 1234.0L1975.0 1234.1L1976.0 1234.2L1977.0 1234.4L1978.0 1234.5L1979.0 1234.6L1980.1 1234.7L1981.1 1234.8L1982.1 1235.0L1983.1 1235.1L1984.1 1235.2L1985.1 1235.3L1986.1 1235.4L1987.1 1235.6L1988.2 1235.7L1989.2 1235.8L1990.2 1236.0L1991.2 1236.1L1992.2 1236.2L1993.2 1236.3L1994.2 1236.5L1995.2 1236.6L1996.3 1236.7L1997.3 1236.9L1998.3 1237.0L1999.4 1237.2L2000.5 1237.3L2001.5 1237.5L2002.6 1237.6L2003.7 1237.8L2004.8 1237.9L2005.9 1238.1L2006.9 1238.3L2008.0 1238.4L2009.1 1238.6L2010.2 1238.8L2011.3 1239.0L2012.4 1239.1L2013.4 1239.3L2014.5 1239.5L2015.6 1239.7L2016.6 1239.8L2017.7 1240.0L2018.7 1240.2L2019.8 1240.3L2020.8 1240.5L2021.8 1240.7L2022.8 1240.9L2023.8 1241.0L2024.8 1241.2L2025.7 1241.3L2026.7 1241.5L2027.6 1241.7L2028.5 1241.8L2029.4 1242.0L2030.3 1242.1L2031.1 1242.2L2032.0 1242.4L2032.8 1242.5L2033.6 1242.6L2034.3 1242.8L2035.1 1242.9L2035.8 1243.0L2037.5 1243.3L2039.0 1243.5L2040.5 1243.8L2041.9 1244.0L2043.2 1244.2L2044.4 1244.4L2045.6 1244.6L2046.6 1244.8L2047.6 1244.9L2048.6 1245.1L2049.4 1245.2L2050.2 1245.4L2051.0 1245.5L2051.7 1245.6L2052.3 1245.7L2052.9 1245.8L2053.5 1245.9L2054.0 1246.0" fill="none" stroke="#ff00ff" stroke-width="4" stroke-linejoin="round" stroke-linecap="butt" stroke-dasharray="35 11 9.5 11" stroke-dashoffset="0"/>
<path clip-path="url(#cb)" d="M221.0 1205.5L221.0 1205.9L221.0 1206.3L221.0 1206.7L221.0 1207.2L221.0 1207.6L221.0 1208.1L221.0 1208.6L221.0 1209.0L221.1 1209.5L221.1 1210.0L221.1 1210.5L221.1 1211.1L221.1 1211.6L221.1 1212.1L221.1 1212.7L221.1 1213.2L221.1 1213.8L221.1 1214.4L221.1 1215.0L221.1 1215.5L221.1 1216.1L221.1 1216.8L221.2 1217.4L221.2 1218.0L221.2 1218.6L221.2 1219.3L221.2 1219.9L221.2 1220.6L221.2 1221.3L221.2 1221.9L221.2 1222.6L221.2 1223.3L221.2 1224.0L221.3 1224.7L221.3 1225.4L221.3 1226.1L221.3 1226.9L221.3 1227.6L221.3 1228.3L221.3 1229.1L221.3 1229.8L221.3 1230.6L221.3 1231.3L221.4 1232.1L221.4 1232.9L221.4 1233.7L221.4 1234.5L221.4 1235.2L221.4 1236.0L221.4 1236.8L221.4 1237.7L221.4 1238.5L221.4 1239.3L221.5 1240.1L221.5 1240.9L221.5 1241.8L221.5 1242.6L221.5 1243.5L221.5 1244.3L221.5 1245.2L221.5 1246.0L221.5 1246.9L221.6 1247.8L221.6 1248.6L221.6 1249.5L221.6 1250.4L221.6 1251.2L221.6 1252.1L221.6 1253.0L221.6 1253.9L221.7 1254.8L221.7 1255.7L221.7 1256.6L221.7 1257.5L221.7 1258.4L221.7 1259.3L221.7 1260.2L221.7 1261.1L221.7 1262.0L221.8 1263.0L221.8 1263.9L221.8 1264.8L221.8 1265.7L221.8 1266.6L221.8 1267.6L221.8 1268.5L221.8 1269.4L221.9 1270.3L221.9 1271.3L221.9 1272.2L221.9 1273.1L221.9 1274.1L221.9 1275.0L221.9 1275.9L221.9 1276.9L222.0 1277.8L222.0 1278.7L222.0 1279.7L222.0 1280.6L222.0 1281.5L222.0 1282.5L222.0 1283.4L222.0 1284.3L222.1 1285.3L222.1 1286.2L222.1 1287.1L222.1 1288.1L222.1 1289.0L222.1 1289.9L222.1 1290.9L222.1 1291.8L222.1 1292.7L222.2 1293.6L222.2 1294.5L222.2 1295.5L222.2 1296.4L222.2 1297.3L222.2 1298.2L222.2 1299.1L222.2 1300.0L222.3 1300.9L222.3 1301.8L222.3 1302.7L222.3 1303.6L222.3 1304.5L222.3 1305.4L222.3 1306.3L222.3 1307.2L222.3 1308.1L222.4 1309.0L222.4 1309.8L222.4 1310.7L222.4 1311.6L222.4 1312.4L222.4 1313.3L222.4 1314.1L222.4 1315.0L222.4 1315.8L222.5 1316.7L222.5 1317.5L222.5 1318.4L222.5 1319.2L222.5 1320.0L222.5 1320.8L222.5 1321.6L222.5 1322.4L222.5 1323.2L222.5 1324.0L222.6 1324.8L222.6 1325.6L222.6 1326.4L222.6 1327.2L222.6 1328.0L222.6 1328.8L222.6 1329.7L222.6 1330.5L222.6 1331.3L222.6 1332.1L222.7 1333.0L222.7 1333.8L222.7 1334.7L222.7 1335.5L222.7 1336.4L222.7 1337.2L222.7 1338.1L222.7 1338.9L222.7 1339.8L222.7 1340.6L222.8 1341.5L222.8 1342.4L222.8 1343.2L222.8 1344.1L222.8 1345.0L222.8 1345.8L222.8 1346.7L222.8 1347.6L222.8 1348.5L222.8 1349.3L222.8 1350.2L222.9 1351.1L222.9 1352.0L222.9 1352.9L222.9 1353.7L222.9 1354.6L222.9 1355.5L222.9 1356.4L222.9 1357.3L222.9 1358.2L222.9 1359.1L223.0 1360.0L223.0 1360.8L223.0 1361.7L223.0 1362.6L223.0 1363.5L223.0 1364.4L223.0 1365.3L223.0 1366.2L223.0 1367.1L223.0 1368.0L223.0 1368.9L223.1 1369.8L223.1 1370.7L223.1 1371.5L223.1 1372.4L223.1 1373.3L223.1 1374.2L223.1 1375.1L223.1 1376.0L223.1 1376.9L223.1 1377.8L223.2 1378.6L223.2 1379.5L223.2 1380.4L223.2 1381.3L223.2 1382.2L223.2 1383.0L223.2 1383.9L223.2 1384.8L223.2 1385.7L223.2 1386.5L223.2 1387.4L223.3 1388.3L223.3 1389.1L223.3 1390.0L223.3 1390.8L223.3 1391.7L223.3 1392.6L223.3 1393.4L223.3 1394.3L223.3 1395.1L223.3 1396.0L223.4 1396.8L223.4 1397.6L223.4 1398.5L223.4 1399.3L223.4 1400.1L223.4 1401.0L223.4 1401.8L223.4 1402.6L223.4 1403.4L223.4 1404.3L223.5 1405.1L223.5 1405.9L223.5 1406.7L223.5 1407.5L223.5 1408.3L223.5 1409.1L223.5 1409.9L223.5 1410.6L223.5 1411.4L223.5 1412.2L223.6 1413.0L223.6 1413.7L223.6 1414.5L223.6 1415.3L223.6 1416.0L223.6 1416.8L223.6 1417.5L223.6 1418.2L223.6 1419.0L223.6 1419.7L223.7 1420.4L223.7 1421.2L223.7 1421.9L223.7 1422.6L223.7 1423.3L223.7 1424.0L223.7 1424.7L223.7 1425.4L223.7 1426.1L223.8 1426.7L223.8 1427.4L223.8 1428.1L223.8 1428.7L223.8 1429.4L223.8 1430.0L223.8 1430.7L223.8 1431.3L223.8 1431.9L223.9 1432.5L223.9 1433.2L223.9 1433.8L223.9 1434.4L223.9 1435.0L223.9 1435.6L223.9 1436.1L223.9 1436.7L223.9 1437.3L224.0 1437.8L224.0 1438.4L224.0 1438.9L224.0 1439.5L224.0 1440.0L224.0 1441.7L224.1 1443.3L224.1 1444.9L224.2 1446.4L224.2 1448.0L224.2 1449.4L224.3 1450.9L224.3 1452.3L224.4 1453.7L224.4 1455.0L224.4 1456.3L224.5 1457.6L224.5 1458.8L224.6 1460.0L224.6 1461.2L224.6 1462.3L224.7 1463.4L224.7 1464.4L224.8 1465.4L224.8 1466.4L224.9 1467.3L224.9 1468.2L224.9 1469.1L225.0 1469.9L225.0 1470.7L225.1 1471.4L225.1 1472.1L225.2 1472.8L225.2 1473.4L225.3 1474.0L225.3 1474.6L225.3 1475.1L225.4 1475.5L225.4 1476.0L225.5 1476.4L225.5 1476.7L225.6 1477.0L225.6 1477.3L225.7 1477.6L225.7 1477.8L225.7 1477.9L225.8 1478.0L225.8 1478.1L225.9 1478.1L225.9 1478.1L226.0 1478.1L226.0 1478.0L226.0 1477.9L226.1 1477.8L226.1 1477.6L226.1 1477.4L226.2 1477.2L226.2 1477.0L226.2 1476.7L226.3 1476.4L226.3 1476.1L226.3 1475.7L226.4 1475.3L226.4 1474.9L226.4 1474.5L226.5 1474.0L226.5 1473.5L226.6 1473.0L226.6 1472.4L226.6 1471.9L226.7 1471.3L226.7 1470.7L226.7 1470.0L226.8 1469.4L226.8 1468.7L226.8 1468.0L226.9 1467.2L226.9 1466.5L226.9 1465.7L227.0 1464.9L227.0 1464.1L227.0 1463.2L227.1 1462.4L227.1 1461.5L227.1 1460.6L227.2 1459.7L227.2 1458.7L227.3 1457.8L227.3 1456.8L227.3 1455.8L227.4 1454.8L227.4 1453.8L227.4 1452.7L227.5 1451.7L227.5 1450.6L227.5 1449.5L227.5 1448.4L227.6 1447.2L227.6 1446.1L227.6 1444.9L227.7 1443.8L227.7 1442.6L227.7 1441.4L227.8 1440.2L227.8 1438.9L227.8 1437.7L227.9 1436.4L227.9 1435.2L227.9 1433.9L227.9 1432.6L228.0 1431.3L228.0 1430.0L228.0 1429.4L228.0 1428.8L228.0 1428.2L228.0 1427.6L228.1 1427.0L228.1 1426.4L228.1 1425.8L228.1 1425.2L228.1 1424.5L228.1 1423.9L228.1 1423.2L228.1 1422.6L228.2 1421.9L228.2 1421.3L228.2 1420.6L228.2 1419.9L228.2 1419.2L228.2 1418.5L228.2 1417.9L228.2 1417.2L228.2 1416.4L228.2 1415.7L228.3 1415.0L228.3 1414.3L228.3 1413.6L228.3 1412.8L228.3 1412.1L228.3 1411.4L228.3 1410.6L228.3 1409.9L228.3 1409.1L228.4 1408.4L228.4 1407.6L228.4 1406.8L228.4 1406.0L228.4 1405.3L228.4 1404.5L228.4 1403.7L228.4 1402.9L228.4 1402.1L228.4 1401.3L228.5 1400.5L228.5 1399.7L228.5 1398.9L228.5 1398.1L228.5 1397.3L228.5 1396.5L228.5 1395.6L228.5 1394.8L228.5 1394.0L228.5 1393.2L228.5 1392.3L228.6 1391.5L228.6 1390.7L228.6 1389.8L228.6 1389.0L228.6 1388.1L228.6 1387.3L228.6 1386.4L228.6 1385.6L228.6 1384.7L228.6 1383.9L228.6 1383.0L228.7 1382.1L228.7 1381.3L228.7 1380.4L228.7 1379.6L228.7 1378.7L228.7 1377.8L228.7 1376.9L228.7 1376.1L228.7 1375.2L228.7 1374.3L228.7 1373.5L228.8 1372.6L228.8 1371.7L228.8 1370.8L228.8 1369.9L228.8 1369.1L228.8 1368.2L228.8 1367.3L228.8 1366.4L228.8 1365.6L228.8 1364.7L228.8 1363.8L228.8 1362.9L228.9 1362.0L228.9 1361.2L228.9 1360.3L228.9 1359.4L228.9 1358.5L228.9 1357.6L228.9 1356.8L228.9 1355.9L228.9 1355.0L228.9 1354.1L228.9 1353.3L229.0 1352.4L229.0 1351.5L229.0 1350.6L229.0 1349.8L229.0 1348.9L229.0 1348.0L229.0 1347.2L229.0 1346.3L229.0 1345.4L229.0 1344.6L229.0 1343.7L229.0 1342.9L229.1 1342.0L229.1 1341.2L229.1 1340.3L229.1 1339.5L229.1 1338.6L229.1 1337.8L229.1 1336.9L229.1 1336.1L229.1 1335.3L229.1 1334.4L229.1 1333.6L229.2 1332.8L229.2 1331.9L229.2 1331.1L229.2 1330.3L229.2 1329.5L229.2 1328.7L229.2 1327.9L229.2 1327.1L229.2 1326.3L229.2 1325.5L229.2 1324.7L229.3 1323.9L229.3 1323.1L229.3 1322.3L229.3 1321.5L229.3 1320.8L229.3 1320.0L229.3 1319.2L229.3 1318.3L229.3 1317.5L229.3 1316.6L229.4 1315.8L229.4 1314.9L229.4 1314.1L229.4 1313.2L229.4 1312.4L229.4 1311.5L229.4 1310.7L229.4 1309.8L229.4 1309.0L229.4 1308.1L229.5 1307.3L229.5 1306.4L229.5 1305.6L229.5 1304.7L229.5 1303.9L229.5 1303.0L229.5 1302.1L229.5 1301.3L229.5 1300.4L229.5 1299.6L229.6 1298.7L229.6 1297.9L229.6 1297.0L229.6 1296.1L229.6 1295.3L229.6 1294.4L229.6 1293.6L229.6 1292.7L229.6 1291.9L229.7 1291.0L229.7 1290.1L229.7 1289.3L229.7 1288.4L229.7 1287.6L229.7 1286.7L229.7 1285.9L229.7 1285.0L229.7 1284.2L229.7 1283.3L229.8 1282.5L229.8 1281.6L229.8 1280.8L229.8 1279.9L229.8 1279.1L229.8 1278.2L229.8 1277.4L229.8 1276.5L229.8 1275.7L229.8 1274.8L229.9 1274.0L229.9 1273.1L229.9 1272.3L229.9 1271.5L229.9 1270.6L229.9 1269.8L229.9 1269.0L229.9 1268.1L229.9 1267.3L229.9 1266.5L230.0 1265.6L230.0 1264.8L230.0 1264.0L230.0 1263.2L230.0 1262.3L230.0 1261.5L230.0 1260.7L230.0 1259.9L230.0 1259.1L230.1 1258.3L230.1 1257.4L230.1 1256.6L230.1 1255.8L230.1 1255.0L230.1 1254.2L230.1 1253.4L230.1 1252.6L230.1 1251.8L230.1 1251.1L230.2 1250.3L230.2 1249.5L230.2 1248.7L230.2 1247.9L230.2 1247.1L230.2 1246.4L230.2 1245.6L230.2 1244.8L230.2 1244.0L230.2 1243.3L230.3 1242.5L230.3 1241.8L230.3 1241.0L230.3 1240.3L230.3 1239.5L230.3 1238.8L230.3 1238.0L230.3 1237.3L230.3 1236.5L230.4 1235.8L230.4 1235.1L230.4 1234.4L230.4 1233.6L230.4 1232.9L230.4 1232.2L230.4 1231.5L230.4 1230.8L230.4 1230.1L230.4 1229.4L230.5 1228.7L230.5 1228.0L230.5 1227.3L230.5 1226.6L230.5 1225.9L230.5 1225.3L230.5 1224.6L230.5 1223.9L230.5 1223.3L230.6 1222.6L230.6 1221.9L230.6 1221.3L230.6 1220.6L230.6 1220.0L230.6 1218.9L230.6 1217.9L230.7 1216.8L230.7 1215.8L230.7 1214.8L230.7 1213.8L230.7 1212.8L230.7 1211.8L230.8 1210.8L230.8 1209.8L230.8 1208.9L230.8 1207.9L230.8 1207.0L230.8 1206.0L230.9 1205.1L230.9 1204.2L230.9 1203.3L230.9 1202.3L230.9 1201.4L231.0 1200.6L231.0 1199.7L231.0 1198.8L231.0 1197.9L231.0 1197.1L231.0 1196.2L231.1 1195.4L231.1 1194.5L231.1 1193.7L231.1 1192.9L231.1 1192.1L231.1 1191.3L231.2 1190.4L231.2 1189.6L231.2 1188.9L231.2 1188.1L231.2 1187.3L231.2 1186.5L231.3 1185.7L231.3 1185.0L231.3 1184.2L231.3 1183.5L231.3 1182.7L231.4 1182.0L231.4 1181.2L231.4 1180.5L231.4 1179.8L231.4 1179.0L231.4 1178.3L231.5 1177.6L231.5 1176.9L231.5 1176.2L231.5 1175.5L231.5 1174.8L231.6 1174.1L231.6 1173.4L231.6 1172.7L231.6 1172.0L231.6 1171.3L231.7 1170.6L231.7 1170.0L231.7 1169.3L231.7 1168.6L231.7 1167.9L231.8 1167.3L231.8 1166.6L231.8 1165.9L231.8 1165.3L231.8 1164.6L231.9 1163.9L231.9 1163.3L231.9 1162.6L231.9 1162.0L232.0 1161.3L232.0 1160.7L232.0 1160.0L232.0 1159.0L232.1 1157.9L232.1 1156.9L232.2 1155.9L232.2 1154.9L232.2 1153.9L232.3 1152.9L232.3 1151.9L232.4 1150.9L232.4 1149.9L232.4 1148.9L232.5 1148.0L232.5 1147.0L232.6 1146.1L232.6 1145.2L232.7 1144.2L232.7 1143.3L232.7 1142.4L232.8 1141.6L232.8 1140.7L232.9 1139.8L232.9 1138.9L233.0 1138.1L233.0 1137.3L233.1 1136.5L233.1 1135.6L233.2 1134.8L233.2 1134.1L233.2 1133.3L233.3 1132.5L233.3 1131.8L233.4 1131.1L233.4 1130.4L233.5 1129.7L233.5 1129.0L233.6 1128.3L233.6 1127.6L233.6 1127.0L233.7 1126.4L233.7 1125.8L233.8 1125.2L233.8 1124.6L233.8 1124.1L233.9 1123.5L233.9 1123.0L234.0 1122.5L234.0 1122.0L234.2 1119.5L234.4 1117.5L234.6 1116.0L234.7 1115.0L234.9 1114.4L235.1 1114.3L235.3 1114.5L235.5 1115.0L235.6 1115.3L235.7 1115.7L235.8 1116.2L235.8 1116.8L235.9 1117.4L236.0 1118.1L236.1 1118.9L236.2 1119.7L236.3 1120.6L236.4 1121.5L236.5 1122.4L236.6 1123.4L236.7 1124.4L236.8 1125.4L236.9 1126.4L237.0 1127.4L237.1 1128.4L237.2 1129.4L237.3 1130.3L237.4 1131.3L237.5 1132.2L237.6 1133.0L237.7 1133.8L237.8 1134.6L237.9 1135.5L238.0 1136.3L238.1 1137.1L238.1 1137.9L238.2 1138.8L238.3 1139.6L238.4 1140.4L238.5 1141.3L238.6 1142.1L238.7 1142.9L238.8 1143.7L238.9 1144.6L239.0 1145.4L239.1 1146.2L239.2 1147.0L239.3 1147.8L239.4 1148.6L239.5 1149.4L239.6 1150.2L239.7 1151.0L239.8 1151.8L240.0 1152.6L240.1 1153.5L240.2 1154.3L240.4 1155.1L240.5 1155.9L240.7 1156.7L240.8 1157.5L241.0 1158.3L241.1 1159.1L241.3 1159.9L241.4 1160.7L241.6 1161.5L241.7 1162.2L241.9 1163.0L242.0 1163.8L242.2 1164.6L242.3 1165.4L242.4 1166.1L242.6 1166.9L242.7 1167.7L242.8 1168.5L242.9 1169.3L243.1 1170.2L243.2 1171.0L243.3 1171.8L243.4 1172.6L243.5 1173.5L243.6 1174.3L243.6 1175.1L243.7 1175.9L243.8 1176.7L243.9 1177.5L244.0 1178.3L244.1 1179.1L244.2 1179.9L244.3 1180.7L244.4 1181.4L244.5 1182.2L244.7 1182.9L244.8 1183.6L245.0 1184.5L245.1 1185.4L245.3 1186.2L245.5 1187.1L245.7 1187.9L245.8 1188.7L246.0 1189.5L246.2 1190.3L246.4 1191.1L246.6 1191.9L246.8 1192.6L247.0 1193.3L247.3 1194.0L247.5 1194.7L247.7 1195.4L248.0 1196.0L248.4 1196.9L248.8 1197.7L249.2 1198.5L249.7 1199.2L250.2 1199.9L250.6 1200.6L251.1 1201.2L251.6 1201.8L252.1 1202.4L252.5 1203.0L253.0 1203.5L253.6 1204.2L254.2 1204.8L254.8 1205.4L255.4 1205.9L256.1 1206.3L256.7 1206.7L257.3 1207.1L258.0 1207.5L258.8 1207.9L259.6 1208.2L260.5 1208.5L261.4 1208.7L262.3 1208.9L263.1 1209.1L264.0 1209.3L264.9 1209.5L265.7 1209.6L266.6 1209.8L267.4 1209.9L268.3 1210.1L269.1 1210.2L270.0 1210.4L270.9 1210.5L271.7 1210.7L272.6 1210.9L273.4 1211.0L274.3 1211.2L275.1 1211.4L276.0 1211.6L276.9 1211.8L277.7 1212.0L278.6 1212.2L279.4 1212.4L280.3 1212.6L281.1 1212.8L282.0 1213.0L282.9 1213.3L283.7 1213.5L284.6 1213.8L285.4 1214.1L286.3 1214.3L287.1 1214.6L288.0 1214.9L288.9 1215.2L289.7 1215.5L290.6 1215.8L291.4 1216.1L292.3 1216.4L293.1 1216.7L294.0 1217.0L294.9 1217.3L295.7 1217.6L296.6 1217.9L297.4 1218.1L298.3 1218.4L299.1 1218.7L300.0 1218.9L300.9 1219.2L301.7 1219.4L302.6 1219.7L303.4 1219.9L304.3 1220.2L305.1 1220.4L306.0 1220.6L306.9 1220.9L307.7 1221.1L308.6 1221.3L309.4 1221.6L310.3 1221.8L311.1 1222.0L312.0 1222.3L312.9 1222.5L313.7 1222.7L314.6 1223.0L315.4 1223.2L316.3 1223.4L317.1 1223.7L318.0 1223.9L318.9 1224.1L319.7 1224.3L320.6 1224.6L321.4 1224.8L322.3 1225.0L323.1 1225.3L324.0 1225.5L324.9 1225.8L325.7 1226.0L326.6 1226.2L327.4 1226.5L328.3 1226.7L329.1 1227.0L330.0 1227.2L330.9 1227.4L331.7 1227.7L332.6 1227.9L333.4 1228.2L334.3 1228.5L335.1 1228.7L336.0 1229.0L336.9 1229.3L337.7 1229.5L338.6 1229.8L339.4 1230.1L340.3 1230.4L341.1 1230.7L342.0 1231.0L342.8 1231.3L343.5 1231.6L344.2 1231.8L345.0 1232.1L345.8 1232.4L346.5 1232.7L347.2 1233.1L348.0 1233.4L348.8 1233.7L349.5 1234.0L350.2 1234.4L351.0 1234.7L351.8 1235.0L352.5 1235.4L353.2 1235.8L354.0 1236.1L354.8 1236.5L355.5 1236.8L356.2 1237.2L357.0 1237.6L357.8 1237.9L358.5 1238.3L359.2 1238.7L360.0 1239.1L360.8 1239.4L361.5 1239.8L362.2 1240.1L363.0 1240.5L363.8 1240.8L364.5 1241.2L365.2 1241.5L366.0 1241.9L366.8 1242.2L367.5 1242.6L368.2 1242.9L369.0 1243.2L369.8 1243.6L370.5 1243.9L371.2 1244.3L372.0 1244.6L372.8 1244.9L373.5 1245.3L374.2 1245.6L375.0 1246.0L375.8 1246.3L376.5 1246.7L377.2 1247.0L378.0 1247.4L378.8 1247.7L379.5 1248.0L380.2 1248.4L381.0 1248.7L381.8 1249.1L382.5 1249.4L383.2 1249.7L384.0 1250.1L384.8 1250.4L385.5 1250.8L386.2 1251.1L387.0 1251.4L387.8 1251.8L388.5 1252.1L389.2 1252.4L390.0 1252.7L390.8 1253.0L391.5 1253.4L392.2 1253.7L393.0 1254.0L393.8 1254.3L394.5 1254.6L395.2 1254.9L396.0 1255.2L396.8 1255.4L397.5 1255.7L398.2 1256.0L399.0 1256.3L399.8 1256.6L400.5 1256.8L401.2 1257.1L402.0 1257.4L402.8 1257.7L403.5 1258.0L404.2 1258.3L405.0 1258.6L405.8 1258.9L406.5 1259.1L407.2 1259.5L408.0 1259.8L408.8 1260.1L409.5 1260.4L410.2 1260.7L411.0 1261.1L411.8 1261.4L412.5 1261.8L413.2 1262.1L414.0 1262.5L414.8 1262.9L415.5 1263.2L416.2 1263.6L417.0 1264.0L417.8 1264.4L418.5 1264.8L419.2 1265.2L420.0 1265.6L420.8 1266.0L421.5 1266.4L422.2 1266.9L423.0 1267.3L423.8 1267.7L424.5 1268.1L425.2 1268.6L426.0 1269.0L426.8 1269.4L427.5 1269.8L428.2 1270.3L429.0 1270.7L429.8 1271.1L430.5 1271.6L431.2 1272.0L432.0 1272.4L432.8 1272.8L433.5 1273.2L434.2 1273.7L435.0 1274.1L435.8 1274.5L436.5 1274.9L437.2 1275.3L438.0 1275.8L438.8 1276.2L439.5 1276.6L440.2 1277.0L441.0 1277.4L441.8 1277.8L442.5 1278.2L443.2 1278.6L444.0 1279.1L444.8 1279.5L445.5 1279.9L446.2 1280.3L447.0 1280.7L447.8 1281.1L448.5 1281.5L449.2 1282.0L450.0 1282.4L450.8 1282.8L451.5 1283.2L452.2 1283.6L453.0 1284.0L453.8 1284.5L454.5 1284.9L455.2 1285.3L456.0 1285.7L456.8 1286.1L457.5 1286.5L458.2 1286.9L459.0 1287.3L459.8 1287.8L460.5 1288.2L461.2 1288.6L462.0 1289.0L462.8 1289.4L463.5 1289.8L464.2 1290.2L465.0 1290.6L465.8 1291.0L466.5 1291.5L467.2 1291.9L468.0 1292.3L468.8 1292.7L469.5 1293.1L470.2 1293.5L471.0 1293.9L471.8 1294.3L472.5 1294.7L473.2 1295.1L474.0 1295.5L474.8 1295.9L475.5 1296.3L476.2 1296.7L477.0 1297.1L477.8 1297.5L478.5 1298.0L479.2 1298.4L480.0 1298.8L480.8 1299.2L481.5 1299.6L482.2 1300.0L483.0 1300.4L483.8 1300.8L484.5 1301.2L485.2 1301.6L486.0 1302.0L486.8 1302.4L487.5 1302.8L488.2 1303.2L489.0 1303.6L489.8 1304.0L490.5 1304.4L491.2 1304.8L492.0 1305.2L492.8 1305.6L493.5 1306.0L494.2 1306.4L495.0 1306.8L495.8 1307.2L496.5 1307.5L497.2 1307.9L498.0 1308.3L498.8 1308.7L499.5 1309.1L500.2 1309.5L501.0 1309.9L501.8 1310.3L502.5 1310.7L503.2 1311.1L504.0 1311.5L504.8 1311.9L505.5 1312.2L506.2 1312.6L507.0 1313.0L507.8 1313.4L508.5 1313.8L509.2 1314.2L510.0 1314.5L510.8 1314.9L511.5 1315.3L512.2 1315.7L513.0 1316.0L513.8 1316.4L514.5 1316.8L515.2 1317.2L516.0 1317.5L516.8 1317.9L517.5 1318.3L518.2 1318.7L519.0 1319.0L519.8 1319.4L520.5 1319.8L521.2 1320.1L522.0 1320.5L522.8 1320.8L523.5 1321.2L524.2 1321.6L525.0 1321.9L525.8 1322.3L526.5 1322.7L527.2 1323.0L528.0 1323.4L528.8 1323.7L529.5 1324.1L530.2 1324.4L531.0 1324.8L531.8 1325.1L532.5 1325.5L533.2 1325.9L534.0 1326.2L534.8 1326.6L535.5 1326.9L536.2 1327.3L537.0 1327.6L537.8 1328.0L538.5 1328.3L539.2 1328.7L540.0 1329.0L540.8 1329.4L541.5 1329.7L542.2 1330.1L543.0 1330.4L543.8 1330.8L544.5 1331.1L545.2 1331.5L546.0 1331.8L546.8 1332.2L547.5 1332.5L548.2 1332.8L549.0 1333.2L549.8 1333.5L550.5 1333.9L551.2 1334.2L552.0 1334.6L552.8 1334.9L553.5 1335.3L554.2 1335.6L555.0 1336.0L555.8 1336.3L556.5 1336.7L557.2 1337.0L558.0 1337.4L558.8 1337.7L559.5 1338.1L560.2 1338.4L561.0 1338.8L561.8 1339.1L562.5 1339.5L563.2 1339.9L564.0 1340.2L564.8 1340.6L565.5 1340.9L566.2 1341.3L567.0 1341.6L567.8 1342.0L568.5 1342.3L569.2 1342.6L570.0 1343.0L570.8 1343.3L571.5 1343.7L572.2 1344.0L573.0 1344.4L573.8 1344.7L574.5 1345.1L575.2 1345.4L576.0 1345.7L576.8 1346.1L577.5 1346.4L578.2 1346.7L579.0 1347.1L579.8 1347.4L580.5 1347.7L581.2 1348.1L582.0 1348.4L582.8 1348.7L583.5 1349.0L584.2 1349.3L585.0 1349.7L585.8 1350.0L586.5 1350.3L587.2 1350.6L588.0 1350.9L588.8 1351.2L589.5 1351.5L590.2 1351.8L591.0 1352.1L591.8 1352.4L592.5 1352.7L593.2 1353.0L594.0 1353.3L594.8 1353.6L595.5 1353.8L596.2 1354.1L597.0 1354.4L597.8 1354.7L598.5 1355.0L599.2 1355.2L600.0 1355.5L600.9 1355.8L601.7 1356.1L602.6 1356.4L603.4 1356.8L604.3 1357.1L605.1 1357.4L606.0 1357.7L606.9 1358.0L607.7 1358.3L608.6 1358.6L609.4 1358.8L610.3 1359.1L611.1 1359.4L612.0 1359.7L612.9 1360.0L613.7 1360.3L614.6 1360.6L615.4 1360.9L616.3 1361.1L617.1 1361.4L618.0 1361.7L618.9 1362.0L619.7 1362.3L620.6 1362.5L621.4 1362.8L622.3 1363.1L623.1 1363.4L624.0 1363.6L624.9 1363.9L625.7 1364.2L626.6 1364.4L627.4 1364.7L628.3 1365.0L629.1 1365.2L630.0 1365.5L630.9 1365.8L631.7 1366.0L632.6 1366.3L633.4 1366.5L634.3 1366.8L635.1 1367.1L636.0 1367.3L636.9 1367.6L637.7 1367.8L638.6 1368.1L639.4 1368.3L640.3 1368.5L641.1 1368.8L642.0 1369.0L642.9 1369.3L643.7 1369.5L644.6 1369.8L645.4 1370.0L646.3 1370.2L647.1 1370.5L648.0 1370.7L648.9 1370.9L649.7 1371.2L650.6 1371.4L651.4 1371.6L652.3 1371.8L653.1 1372.1L654.0 1372.3L654.9 1372.5L655.7 1372.7L656.6 1373.0L657.4 1373.2L658.3 1373.4L659.1 1373.6L660.0 1373.9L660.9 1374.1L661.7 1374.3L662.6 1374.5L663.4 1374.7L664.3 1374.9L665.1 1375.2L666.0 1375.4L666.9 1375.6L667.7 1375.8L668.6 1376.0L669.4 1376.2L670.3 1376.4L671.1 1376.7L672.0 1376.9L672.9 1377.1L673.7 1377.3L674.6 1377.5L675.4 1377.7L676.3 1377.9L677.1 1378.1L678.0 1378.3L678.9 1378.5L679.7 1378.7L680.6 1379.0L681.4 1379.2L682.3 1379.4L683.1 1379.6L684.0 1379.8L684.9 1380.0L685.7 1380.1L686.6 1380.3L687.4 1380.5L688.3 1380.7L689.1 1380.9L690.0 1381.1L690.9 1381.3L691.7 1381.5L692.6 1381.6L693.4 1381.8L694.3 1382.0L695.1 1382.2L696.0 1382.4L696.9 1382.5L697.7 1382.7L698.6 1382.9L699.4 1383.0L700.3 1383.2L701.1 1383.3L702.0 1383.5L702.9 1383.6L703.7 1383.8L704.6 1383.9L705.4 1384.1L706.3 1384.2L707.1 1384.4L708.0 1384.5L708.9 1384.6L709.7 1384.8L710.6 1384.9L711.4 1385.0L712.3 1385.2L713.1 1385.3L714.0 1385.4L714.9 1385.5L715.7 1385.6L716.6 1385.8L717.4 1385.9L718.3 1386.0L719.1 1386.1L720.0 1386.2L720.9 1386.3L721.7 1386.4L722.6 1386.5L723.4 1386.6L724.3 1386.7L725.1 1386.8L726.0 1386.9L726.9 1387.0L727.7 1387.1L728.6 1387.2L729.4 1387.3L730.3 1387.4L731.1 1387.5L732.0 1387.5L732.9 1387.6L733.7 1387.7L734.6 1387.8L735.4 1387.9L736.3 1388.0L737.1 1388.0L738.0 1388.1L738.9 1388.2L739.7 1388.3L740.6 1388.4L741.4 1388.4L742.3 1388.5L743.1 1388.6L744.0 1388.6L744.9 1388.7L745.7 1388.8L746.6 1388.8L747.4 1388.9L748.3 1388.9L749.1 1389.0L750.0 1389.0L750.9 1389.1L751.7 1389.1L752.6 1389.2L753.4 1389.2L754.3 1389.3L755.1 1389.3L756.0 1389.4L756.9 1389.4L757.7 1389.5L758.6 1389.5L759.4 1389.5L760.3 1389.6L761.1 1389.6L762.0 1389.7L762.9 1389.7L763.7 1389.7L764.6 1389.8L765.4 1389.8L766.3 1389.8L767.1 1389.9L768.0 1389.9L768.9 1389.9L769.7 1390.0L770.6 1390.0L771.4 1390.0L772.3 1390.0L773.1 1390.1L774.0 1390.1L774.9 1390.1L775.7 1390.2L776.6 1390.2L777.4 1390.2L778.3 1390.3L779.1 1390.3L780.0 1390.3L780.9 1390.4L781.7 1390.4L782.6 1390.5L783.4 1390.5L784.3 1390.6L785.1 1390.6L786.0 1390.6L786.9 1390.7L787.7 1390.7L788.6 1390.7L789.4 1390.8L790.3 1390.8L791.1 1390.8L792.0 1390.8L792.9 1390.8L793.7 1390.8L794.6 1390.8L795.4 1390.8L796.3 1390.8L797.1 1390.8L798.0 1390.8L798.9 1390.8L799.7 1390.8L800.6 1390.8L801.4 1390.8L802.3 1390.8L803.1 1390.8L804.0 1390.7L804.9 1390.7L805.7 1390.7L806.6 1390.7L807.4 1390.7L808.3 1390.7L809.1 1390.6L810.0 1390.6L810.9 1390.6L811.7 1390.6L812.6 1390.6L813.4 1390.5L814.3 1390.5L815.1 1390.5L816.0 1390.5L816.9 1390.5L817.7 1390.4L818.6 1390.4L819.4 1390.4L820.3 1390.4L821.1 1390.3L822.0 1390.3L822.9 1390.3L823.7 1390.3L824.6 1390.3L825.4 1390.2L826.3 1390.2L827.1 1390.2L828.0 1390.2L828.9 1390.1L829.7 1390.1L830.6 1390.1L831.4 1390.1L832.3 1390.0L833.1 1390.0L834.0 1390.0L834.9 1390.0L835.7 1390.0L836.6 1389.9L837.4 1389.9L838.3 1389.9L839.1 1389.9L840.0 1389.8L840.9 1389.8L841.7 1389.8L842.6 1389.8L843.4 1389.7L844.3 1389.7L845.1 1389.7L846.0 1389.7L846.9 1389.7L847.7 1389.6L848.6 1389.6L849.4 1389.6L850.3 1389.6L851.1 1389.5L852.0 1389.5L852.9 1389.5L853.7 1389.5L854.6 1389.5L855.4 1389.4L856.3 1389.4L857.1 1389.4L858.0 1389.4L858.9 1389.4L859.7 1389.3L860.6 1389.3L861.4 1389.3L862.3 1389.3L863.1 1389.2L864.0 1389.2L864.9 1389.2L865.7 1389.2L866.6 1389.2L867.4 1389.1L868.3 1389.1L869.1 1389.1L870.0 1389.1L870.9 1389.1L871.7 1389.0L872.6 1389.0L873.4 1389.0L874.3 1389.0L875.1 1389.0L876.0 1388.9L876.9 1388.9L877.7 1388.9L878.6 1388.9L879.4 1388.9L880.3 1388.8L881.1 1388.8L882.0 1388.8L882.9 1388.8L883.7 1388.8L884.6 1388.7L885.4 1388.7L886.3 1388.7L887.1 1388.7L888.0 1388.7L888.9 1388.6L889.7 1388.6L890.6 1388.6L891.4 1388.6L892.3 1388.6L893.1 1388.5L894.0 1388.5L894.9 1388.5L895.7 1388.5L896.6 1388.5L897.4 1388.4L898.3 1388.4L899.1 1388.4L900.0 1388.4L900.9 1388.4L901.7 1388.4L902.6 1388.3L903.4 1388.3L904.3 1388.3L905.1 1388.3L906.0 1388.3L906.9 1388.2L907.7 1388.2L908.6 1388.2L909.4 1388.2L910.3 1388.2L911.1 1388.2L912.0 1388.1L912.9 1388.1L913.7 1388.1L914.6 1388.1L915.4 1388.1L916.3 1388.0L917.1 1388.0L918.0 1388.0L918.9 1388.0L919.7 1388.0L920.6 1388.0L921.4 1387.9L922.3 1387.9L923.1 1387.9L924.0 1387.9L924.9 1387.9L925.7 1387.8L926.6 1387.8L927.4 1387.8L928.3 1387.8L929.1 1387.7L930.0 1387.7L930.9 1387.7L931.7 1387.7L932.6 1387.7L933.4 1387.7L934.3 1387.6L935.1 1387.6L936.0 1387.6L936.9 1387.6L937.7 1387.6L938.6 1387.6L939.4 1387.5L940.3 1387.5L941.1 1387.5L942.0 1387.5L942.9 1387.5L943.7 1387.5L944.6 1387.5L945.4 1387.5L946.3 1387.5L947.1 1387.5L948.0 1387.5L948.9 1387.5L949.7 1387.5L950.6 1387.5L951.4 1387.5L952.3 1387.5L953.1 1387.5L954.0 1387.5L954.9 1387.5L955.7 1387.5L956.6 1387.5L957.4 1387.6L958.3 1387.6L959.1 1387.6L960.0 1387.6L960.9 1387.6L961.7 1387.6L962.6 1387.6L963.4 1387.7L964.3 1387.7L965.1 1387.7L966.0 1387.7L966.9 1387.7L967.7 1387.7L968.6 1387.8L969.4 1387.8L970.3 1387.8L971.1 1387.8L972.0 1387.9L972.9 1387.9L973.7 1387.9L974.6 1388.0L975.4 1388.0L976.3 1388.0L977.1 1388.1L978.0 1388.1L978.9 1388.1L979.7 1388.2L980.6 1388.2L981.4 1388.2L982.3 1388.3L983.1 1388.3L984.0 1388.4L984.9 1388.4L985.7 1388.5L986.6 1388.5L987.4 1388.6L988.3 1388.6L989.1 1388.7L990.0 1388.7L990.9 1388.8L991.7 1388.9L992.6 1388.9L993.4 1389.0L994.3 1389.0L995.1 1389.1L996.0 1389.2L996.9 1389.3L997.7 1389.3L998.6 1389.4L999.4 1389.5L1000.3 1389.6L1001.1 1389.6L1002.0 1389.7L1002.9 1389.8L1003.7 1389.9L1004.6 1390.0L1005.4 1390.0L1006.3 1390.1L1007.1 1390.2L1008.0 1390.3L1008.9 1390.4L1009.7 1390.5L1010.6 1390.6L1011.4 1390.7L1012.3 1390.8L1013.1 1390.9L1014.0 1391.0L1014.9 1391.1L1015.7 1391.1L1016.6 1391.2L1017.4 1391.3L1018.3 1391.4L1019.1 1391.5L1020.0 1391.6L1020.9 1391.7L1021.7 1391.8L1022.6 1391.9L1023.4 1392.0L1024.3 1392.1L1025.1 1392.2L1026.0 1392.3L1026.9 1392.4L1027.7 1392.5L1028.6 1392.6L1029.4 1392.7L1030.3 1392.8L1031.1 1392.9L1032.0 1393.0L1032.9 1393.1L1033.7 1393.2L1034.6 1393.3L1035.4 1393.5L1036.3 1393.6L1037.1 1393.7L1038.0 1393.8L1038.9 1393.9L1039.7 1394.0L1040.6 1394.1L1041.4 1394.2L1042.3 1394.3L1043.1 1394.4L1044.0 1394.5L1044.9 1394.6L1045.7 1394.7L1046.6 1394.8L1047.4 1395.0L1048.3 1395.1L1049.1 1395.2L1050.0 1395.3L1050.9 1395.4L1051.7 1395.5L1052.6 1395.7L1053.4 1395.8L1054.3 1395.9L1055.1 1396.0L1056.0 1396.1L1056.9 1396.3L1057.7 1396.4L1058.6 1396.5L1059.4 1396.7L1060.3 1396.8L1061.1 1396.9L1062.0 1397.1L1062.9 1397.2L1063.7 1397.3L1064.6 1397.5L1065.4 1397.6L1066.3 1397.8L1067.1 1397.9L1068.0 1398.1L1068.9 1398.2L1069.7 1398.4L1070.6 1398.5L1071.4 1398.7L1072.3 1398.8L1073.1 1399.0L1074.0 1399.1L1074.9 1399.3L1075.7 1399.5L1076.6 1399.6L1077.4 1399.8L1078.3 1399.9L1079.1 1400.1L1080.0 1400.3L1080.9 1400.5L1081.7 1400.6L1082.6 1400.8L1083.4 1401.0L1084.3 1401.1L1085.1 1401.3L1086.0 1401.5L1086.9 1401.7L1087.7 1401.8L1088.6 1402.0L1089.4 1402.2L1090.3 1402.4L1091.1 1402.6L1092.0 1402.7L1092.9 1402.9L1093.7 1403.1L1094.6 1403.3L1095.4 1403.5L1096.3 1403.7L1097.1 1403.9L1098.0 1404.0L1098.9 1404.2L1099.7 1404.4L1100.6 1404.6L1101.4 1404.8L1102.3 1405.0L1103.1 1405.2L1104.0 1405.4L1104.9 1405.6L1105.7 1405.8L1106.6 1406.0L1107.4 1406.2L1108.3 1406.4L1109.1 1406.6L1110.0 1406.8L1110.9 1407.0L1111.7 1407.2L1112.6 1407.4L1113.4 1407.6L1114.3 1407.8L1115.1 1408.0L1116.0 1408.2L1116.9 1408.4L1117.7 1408.6L1118.6 1408.8L1119.4 1409.0L1120.3 1409.3L1121.1 1409.5L1122.0 1409.7L1122.9 1409.9L1123.7 1410.1L1124.6 1410.3L1125.4 1410.6L1126.3 1410.8L1127.1 1411.0L1128.0 1411.2L1128.9 1411.4L1129.7 1411.6L1130.6 1411.9L1131.4 1412.1L1132.3 1412.3L1133.1 1412.5L1134.0 1412.8L1134.9 1413.0L1135.7 1413.2L1136.6 1413.4L1137.4 1413.6L1138.3 1413.9L1139.1 1414.1L1140.0 1414.3L1140.9 1414.5L1141.7 1414.8L1142.6 1415.0L1143.4 1415.2L1144.3 1415.4L1145.1 1415.7L1146.0 1415.9L1146.9 1416.1L1147.7 1416.3L1148.6 1416.6L1149.4 1416.8L1150.3 1417.0L1151.1 1417.3L1152.0 1417.5L1152.9 1417.7L1153.7 1418.0L1154.6 1418.2L1155.4 1418.4L1156.3 1418.7L1157.1 1418.9L1158.0 1419.1L1158.9 1419.4L1159.7 1419.6L1160.6 1419.8L1161.4 1420.1L1162.3 1420.3L1163.1 1420.5L1164.0 1420.8L1164.9 1421.0L1165.7 1421.3L1166.6 1421.5L1167.4 1421.7L1168.3 1422.0L1169.1 1422.2L1170.0 1422.5L1170.9 1422.7L1171.7 1422.9L1172.6 1423.2L1173.4 1423.4L1174.3 1423.7L1175.1 1423.9L1176.0 1424.1L1176.9 1424.4L1177.7 1424.6L1178.6 1424.9L1179.4 1425.1L1180.3 1425.4L1181.1 1425.6L1182.0 1425.9L1182.9 1426.1L1183.7 1426.4L1184.6 1426.7L1185.4 1427.0L1186.3 1427.2L1187.1 1427.5L1188.0 1427.8L1188.9 1428.1L1189.7 1428.4L1190.6 1428.6L1191.4 1428.9L1192.3 1429.2L1193.1 1429.5L1194.0 1429.8L1194.9 1430.0L1195.7 1430.3L1196.6 1430.5L1197.4 1430.8L1198.3 1431.0L1199.1 1431.3L1200.0 1431.5L1200.9 1431.7L1201.7 1432.0L1202.6 1432.2L1203.4 1432.4L1204.3 1432.7L1205.1 1432.9L1206.0 1433.1L1206.9 1433.3L1207.7 1433.6L1208.6 1433.8L1209.4 1434.0L1210.3 1434.2L1211.1 1434.4L1212.0 1434.7L1212.9 1434.9L1213.7 1435.1L1214.6 1435.3L1215.4 1435.5L1216.3 1435.8L1217.1 1436.0L1218.0 1436.2L1218.9 1436.4L1219.7 1436.6L1220.6 1436.8L1221.4 1437.1L1222.3 1437.3L1223.1 1437.5L1224.0 1437.7L1224.9 1437.9L1225.7 1438.1L1226.6 1438.4L1227.4 1438.6L1228.3 1438.8L1229.1 1439.0L1230.0 1439.2L1230.9 1439.4L1231.7 1439.6L1232.6 1439.9L1233.4 1440.1L1234.3 1440.3L1235.1 1440.5L1236.0 1440.7L1236.9 1440.9L1237.7 1441.2L1238.6 1441.4L1239.4 1441.6L1240.3 1441.8L1241.1 1442.0L1242.0 1442.2L1242.9 1442.5L1243.7 1442.7L1244.6 1442.9L1245.4 1443.1L1246.3 1443.3L1247.1 1443.6L1248.0 1443.8L1248.9 1444.0L1249.7 1444.2L1250.6 1444.4L1251.4 1444.6L1252.3 1444.9L1253.1 1445.1L1254.0 1445.3L1254.9 1445.5L1255.7 1445.7L1256.6 1445.8L1257.4 1446.0L1258.3 1446.2L1259.1 1446.4L1260.0 1446.6L1260.9 1446.7L1261.7 1446.9L1262.6 1447.1L1263.4 1447.2L1264.3 1447.4L1265.1 1447.5L1266.0 1447.7L1266.9 1447.9L1267.7 1448.0L1268.6 1448.1L1269.4 1448.3L1270.3 1448.4L1271.1 1448.6L1272.0 1448.7L1272.9 1448.8L1273.7 1449.0L1274.6 1449.1L1275.4 1449.2L1276.3 1449.4L1277.1 1449.5L1278.0 1449.6L1278.9 1449.8L1279.7 1449.9L1280.6 1450.0L1281.4 1450.1L1282.3 1450.3L1283.1 1450.4L1284.0 1450.5L1284.9 1450.7L1285.7 1450.8L1286.6 1451.0L1287.4 1451.1L1288.3 1451.2L1289.1 1451.4L1290.0 1451.5L1290.9 1451.7L1291.7 1451.8L1292.6 1452.0L1293.4 1452.1L1294.3 1452.3L1295.1 1452.4L1296.0 1452.6L1296.9 1452.8L1297.7 1452.9L1298.6 1453.1L1299.4 1453.2L1300.3 1453.4L1301.1 1453.6L1302.0 1453.7L1302.9 1453.9L1303.7 1454.0L1304.6 1454.2L1305.4 1454.4L1306.3 1454.5L1307.1 1454.6L1308.0 1454.8L1308.9 1454.9L1309.7 1455.1L1310.6 1455.2L1311.4 1455.3L1312.3 1455.4L1313.1 1455.6L1314.0 1455.7L1314.9 1455.8L1315.7 1455.9L1316.6 1456.0L1317.4 1456.1L1318.3 1456.2L1319.1 1456.3L1320.0 1456.4L1320.9 1456.5L1321.7 1456.6L1322.6 1456.7L1323.4 1456.7L1324.3 1456.8L1325.1 1456.9L1326.0 1457.0L1326.9 1457.0L1327.7 1457.1L1328.6 1457.2L1329.4 1457.3L1330.3 1457.3L1331.1 1457.4L1332.0 1457.4L1332.9 1457.5L1333.7 1457.5L1334.6 1457.6L1335.4 1457.6L1336.3 1457.7L1337.1 1457.7L1338.0 1457.8L1338.9 1457.8L1339.7 1457.9L1340.6 1457.9L1341.4 1457.9L1342.3 1458.0L1343.1 1458.0L1344.0 1458.1L1344.9 1458.1L1345.7 1458.1L1346.6 1458.1L1347.4 1458.2L1348.3 1458.2L1349.1 1458.2L1350.0 1458.2L1350.9 1458.3L1351.7 1458.3L1352.6 1458.3L1353.4 1458.3L1354.3 1458.4L1355.1 1458.4L1356.0 1458.4L1356.9 1458.4L1357.7 1458.4L1358.6 1458.4L1359.4 1458.4L1360.3 1458.5L1361.1 1458.5L1362.0 1458.5L1362.9 1458.5L1363.7 1458.5L1364.6 1458.5L1365.4 1458.5L1366.3 1458.5L1367.1 1458.5L1368.0 1458.5L1368.9 1458.5L1369.7 1458.5L1370.6 1458.5L1371.4 1458.5L1372.3 1458.5L1373.1 1458.4L1374.0 1458.4L1374.9 1458.4L1375.7 1458.4L1376.6 1458.4L1377.4 1458.4L1378.3 1458.3L1379.1 1458.3L1380.0 1458.3L1380.9 1458.3L1381.7 1458.2L1382.6 1458.2L1383.4 1458.2L1384.3 1458.1L1385.1 1458.1L1386.0 1458.1L1386.9 1458.0L1387.7 1458.0L1388.6 1457.9L1389.4 1457.9L1390.3 1457.9L1391.1 1457.8L1392.0 1457.8L1392.9 1457.7L1393.7 1457.7L1394.6 1457.6L1395.4 1457.6L1396.3 1457.5L1397.1 1457.5L1398.0 1457.5L1398.9 1457.4L1399.7 1457.4L1400.6 1457.3L1401.4 1457.3L1402.3 1457.3L1403.1 1457.2L1404.0 1457.2L1404.9 1457.1L1405.7 1457.1L1406.6 1457.0L1407.4 1457.0L1408.3 1457.0L1409.1 1456.9L1410.0 1456.9L1410.9 1456.8L1411.7 1456.8L1412.6 1456.7L1413.4 1456.7L1414.3 1456.6L1415.1 1456.5L1416.0 1456.5L1416.9 1456.4L1417.7 1456.4L1418.6 1456.3L1419.4 1456.2L1420.3 1456.2L1421.1 1456.1L1422.0 1456.0L1422.9 1455.9L1423.7 1455.9L1424.6 1455.8L1425.4 1455.7L1426.3 1455.6L1427.1 1455.5L1428.0 1455.4L1428.9 1455.3L1429.7 1455.2L1430.6 1455.1L1431.4 1455.0L1432.3 1454.9L1433.1 1454.8L1434.0 1454.7L1434.9 1454.6L1435.7 1454.4L1436.6 1454.3L1437.4 1454.2L1438.3 1454.0L1439.1 1453.9L1440.0 1453.7L1440.9 1453.6L1441.7 1453.5L1442.6 1453.3L1443.4 1453.1L1444.3 1453.0L1445.1 1452.8L1446.0 1452.7L1446.9 1452.5L1447.7 1452.4L1448.6 1452.2L1449.4 1452.1L1450.3 1451.9L1451.1 1451.7L1452.0 1451.6L1452.9 1451.4L1453.7 1451.3L1454.6 1451.1L1455.4 1450.9L1456.3 1450.7L1457.1 1450.6L1458.0 1450.4L1458.9 1450.2L1459.7 1450.0L1460.6 1449.9L1461.4 1449.7L1462.3 1449.5L1463.1 1449.3L1464.0 1449.1L1464.9 1448.9L1465.7 1448.7L1466.6 1448.5L1467.4 1448.3L1468.3 1448.0L1469.1 1447.8L1470.0 1447.6L1470.9 1447.4L1471.7 1447.2L1472.6 1446.9L1473.4 1446.7L1474.3 1446.5L1475.1 1446.2L1476.0 1446.0L1476.9 1445.7L1477.7 1445.5L1478.6 1445.3L1479.4 1445.0L1480.3 1444.7L1481.1 1444.5L1482.0 1444.2L1482.9 1443.9L1483.7 1443.7L1484.6 1443.4L1485.4 1443.1L1486.3 1442.8L1487.1 1442.5L1488.0 1442.3L1488.9 1442.0L1489.7 1441.7L1490.6 1441.4L1491.4 1441.1L1492.3 1440.7L1493.1 1440.4L1494.0 1440.1L1494.8 1439.8L1495.5 1439.5L1496.2 1439.2L1497.0 1438.9L1497.8 1438.7L1498.5 1438.4L1499.2 1438.0L1500.0 1437.7L1500.8 1437.4L1501.5 1437.1L1502.2 1436.8L1503.0 1436.5L1503.8 1436.2L1504.5 1435.8L1505.2 1435.5L1506.0 1435.2L1506.8 1434.8L1507.5 1434.5L1508.2 1434.1L1509.0 1433.8L1509.8 1433.4L1510.5 1433.1L1511.2 1432.7L1512.0 1432.4L1512.8 1432.0L1513.5 1431.6L1514.2 1431.3L1515.0 1430.9L1515.8 1430.5L1516.5 1430.1L1517.2 1429.8L1518.0 1429.4L1518.8 1429.0L1519.5 1428.6L1520.2 1428.2L1521.0 1427.8L1521.8 1427.4L1522.5 1427.0L1523.2 1426.6L1524.0 1426.3L1524.8 1425.9L1525.5 1425.5L1526.2 1425.1L1527.0 1424.7L1527.8 1424.3L1528.5 1423.9L1529.2 1423.5L1530.0 1423.1L1530.8 1422.7L1531.5 1422.3L1532.2 1421.9L1533.0 1421.5L1533.8 1421.1L1534.5 1420.7L1535.2 1420.3L1536.0 1419.9L1536.8 1419.5L1537.5 1419.1L1538.2 1418.7L1539.0 1418.4L1539.8 1418.0L1540.5 1417.6L1541.2 1417.2L1542.0 1416.8L1542.8 1416.4L1543.5 1416.1L1544.2 1415.7L1545.0 1415.3L1545.8 1414.9L1546.5 1414.6L1547.2 1414.2L1548.0 1413.8L1548.8 1413.4L1549.5 1413.0L1550.2 1412.7L1551.0 1412.3L1551.8 1411.9L1552.5 1411.5L1553.2 1411.2L1554.0 1410.8L1554.8 1410.4L1555.5 1410.0L1556.2 1409.7L1557.0 1409.3L1557.8 1408.9L1558.5 1408.5L1559.2 1408.1L1560.0 1407.8L1560.8 1407.4L1561.5 1407.0L1562.2 1406.6L1563.0 1406.2L1563.8 1405.9L1564.5 1405.5L1565.2 1405.1L1566.0 1404.7L1566.8 1404.3L1567.5 1404.0L1568.2 1403.6L1569.0 1403.2L1569.8 1402.8L1570.5 1402.4L1571.2 1402.0L1572.0 1401.7L1572.8 1401.3L1573.5 1400.9L1574.2 1400.5L1575.0 1400.1L1575.8 1399.7L1576.5 1399.3L1577.2 1398.9L1578.0 1398.5L1578.8 1398.1L1579.5 1397.7L1580.2 1397.3L1581.0 1396.9L1581.8 1396.5L1582.5 1396.1L1583.2 1395.7L1584.0 1395.3L1584.8 1394.8L1585.5 1394.4L1586.2 1394.0L1587.0 1393.6L1587.8 1393.1L1588.5 1392.7L1589.2 1392.3L1590.0 1391.8L1590.8 1391.4L1591.5 1390.9L1592.2 1390.5L1593.0 1390.0L1593.8 1389.6L1594.5 1389.1L1595.2 1388.6L1596.0 1388.2L1596.8 1387.7L1597.5 1387.3L1598.2 1386.8L1599.0 1386.4L1599.8 1385.9L1600.5 1385.5L1601.2 1385.0L1602.0 1384.5L1602.8 1384.1L1603.5 1383.6L1604.2 1383.2L1605.0 1382.7L1605.8 1382.3L1606.5 1381.9L1607.2 1381.4L1608.0 1381.0L1608.8 1380.5L1609.5 1380.1L1610.2 1379.6L1611.0 1379.2L1611.8 1378.7L1612.5 1378.3L1613.2 1377.8L1614.0 1377.4L1614.8 1376.9L1615.5 1376.5L1616.2 1376.0L1617.0 1375.6L1617.8 1375.1L1618.5 1374.7L1619.2 1374.2L1620.0 1373.8L1620.8 1373.3L1621.5 1372.9L1622.2 1372.4L1623.0 1371.9L1623.8 1371.5L1624.5 1371.0L1625.2 1370.6L1626.0 1370.1L1626.8 1369.7L1627.5 1369.2L1628.2 1368.7L1629.0 1368.3L1629.8 1367.8L1630.5 1367.3L1631.2 1366.9L1632.0 1366.4L1632.8 1365.9L1633.5 1365.5L1634.2 1365.0L1635.0 1364.5L1635.8 1364.1L1636.5 1363.6L1637.2 1363.1L1638.0 1362.6L1638.8 1362.1L1639.5 1361.7L1640.2 1361.2L1641.0 1360.7L1641.8 1360.2L1642.5 1359.7L1643.2 1359.2L1644.0 1358.7L1644.7 1358.3L1645.3 1357.8L1646.0 1357.4L1646.7 1356.9L1647.3 1356.5L1648.0 1356.0L1648.7 1355.6L1649.3 1355.1L1650.0 1354.7L1650.7 1354.2L1651.3 1353.7L1652.0 1353.3L1652.7 1352.8L1653.3 1352.3L1654.0 1351.8L1654.7 1351.4L1655.3 1350.9L1656.0 1350.4L1656.7 1350.0L1657.3 1349.5L1658.0 1349.0L1658.7 1348.5L1659.3 1348.0L1660.0 1347.6L1660.7 1347.1L1661.3 1346.6L1662.0 1346.1L1662.7 1345.6L1663.3 1345.1L1664.0 1344.7L1664.7 1344.2L1665.3 1343.7L1666.0 1343.2L1666.7 1342.7L1667.3 1342.2L1668.0 1341.7L1668.7 1341.3L1669.3 1340.8L1670.0 1340.3L1670.7 1339.8L1671.3 1339.3L1672.0 1338.8L1672.7 1338.4L1673.3 1337.9L1674.0 1337.4L1674.7 1336.9L1675.3 1336.5L1676.0 1336.0L1676.7 1335.5L1677.3 1335.0L1678.0 1334.6L1678.7 1334.1L1679.3 1333.6L1680.0 1333.1L1680.7 1332.7L1681.3 1332.2L1682.0 1331.8L1682.7 1331.3L1683.3 1330.8L1684.0 1330.4L1684.7 1329.9L1685.3 1329.5L1686.0 1329.0L1686.7 1328.6L1687.3 1328.1L1688.0 1327.7L1688.7 1327.2L1689.3 1326.8L1690.0 1326.4L1690.7 1325.9L1691.3 1325.5L1692.0 1325.0L1692.8 1324.5L1693.5 1324.0L1694.2 1323.6L1695.0 1323.1L1695.8 1322.6L1696.5 1322.1L1697.2 1321.6L1698.0 1321.1L1698.8 1320.6L1699.5 1320.1L1700.2 1319.6L1701.0 1319.2L1701.8 1318.7L1702.5 1318.2L1703.2 1317.7L1704.0 1317.2L1704.8 1316.7L1705.5 1316.3L1706.2 1315.8L1707.0 1315.3L1707.8 1314.8L1708.5 1314.4L1709.2 1313.9L1710.0 1313.4L1710.8 1312.9L1711.5 1312.5L1712.2 1312.0L1713.0 1311.5L1713.8 1311.1L1714.5 1310.6L1715.2 1310.1L1716.0 1309.7L1716.8 1309.2L1717.5 1308.8L1718.2 1308.3L1719.0 1307.9L1719.8 1307.4L1720.5 1306.9L1721.2 1306.5L1722.0 1306.0L1722.8 1305.6L1723.5 1305.1L1724.2 1304.7L1725.0 1304.3L1725.8 1303.8L1726.5 1303.4L1727.2 1302.9L1728.0 1302.5L1728.8 1302.1L1729.5 1301.6L1730.2 1301.2L1731.0 1300.8L1731.8 1300.3L1732.5 1299.9L1733.2 1299.5L1734.0 1299.1L1734.8 1298.6L1735.5 1298.2L1736.2 1297.8L1737.0 1297.4L1737.8 1297.0L1738.5 1296.6L1739.2 1296.1L1740.0 1295.7L1740.8 1295.3L1741.5 1294.9L1742.2 1294.5L1743.0 1294.1L1743.8 1293.7L1744.5 1293.3L1745.2 1292.9L1746.0 1292.5L1746.8 1292.1L1747.5 1291.7L1748.2 1291.3L1749.0 1290.9L1749.8 1290.5L1750.5 1290.2L1751.2 1289.8L1752.0 1289.4L1752.8 1289.0L1753.5 1288.6L1754.2 1288.2L1755.0 1287.8L1755.8 1287.5L1756.5 1287.1L1757.2 1286.7L1758.0 1286.3L1758.8 1285.9L1759.5 1285.5L1760.2 1285.2L1761.0 1284.8L1761.8 1284.4L1762.5 1284.0L1763.2 1283.7L1764.0 1283.3L1764.8 1282.9L1765.5 1282.5L1766.2 1282.2L1767.0 1281.8L1767.8 1281.4L1768.5 1281.0L1769.2 1280.7L1770.0 1280.3L1770.8 1279.9L1771.5 1279.5L1772.2 1279.2L1773.0 1278.8L1773.8 1278.4L1774.5 1278.1L1775.2 1277.7L1776.0 1277.3L1776.8 1276.9L1777.5 1276.6L1778.2 1276.2L1779.0 1275.8L1779.8 1275.4L1780.5 1275.1L1781.2 1274.7L1782.0 1274.3L1782.8 1273.9L1783.5 1273.6L1784.2 1273.2L1785.0 1272.8L1785.8 1272.4L1786.5 1272.1L1787.2 1271.7L1788.0 1271.3L1788.8 1270.9L1789.5 1270.6L1790.2 1270.2L1791.0 1269.8L1791.8 1269.5L1792.5 1269.1L1793.2 1268.7L1794.0 1268.4L1794.8 1268.0L1795.5 1267.6L1796.2 1267.3L1797.0 1266.9L1797.8 1266.5L1798.5 1266.2L1799.2 1265.8L1800.0 1265.5L1800.8 1265.1L1801.5 1264.8L1802.2 1264.4L1803.0 1264.1L1803.8 1263.7L1804.5 1263.4L1805.2 1263.0L1806.0 1262.7L1806.8 1262.3L1807.5 1262.0L1808.2 1261.7L1809.0 1261.3L1809.8 1261.0L1810.5 1260.7L1811.2 1260.4L1812.0 1260.0L1812.8 1259.7L1813.5 1259.4L1814.2 1259.1L1815.0 1258.8L1815.8 1258.5L1816.5 1258.2L1817.2 1257.9L1818.0 1257.6L1818.8 1257.3L1819.5 1257.0L1820.2 1256.7L1821.0 1256.4L1821.8 1256.1L1822.5 1255.8L1823.2 1255.6L1824.0 1255.3L1824.9 1255.0L1825.7 1254.6L1826.6 1254.3L1827.4 1254.0L1828.3 1253.7L1829.1 1253.4L1830.0 1253.1L1830.9 1252.8L1831.7 1252.5L1832.6 1252.2L1833.4 1251.9L1834.3 1251.7L1835.1 1251.4L1836.0 1251.1L1836.9 1250.8L1837.7 1250.5L1838.6 1250.3L1839.4 1250.0L1840.3 1249.7L1841.1 1249.4L1842.0 1249.2L1842.9 1248.9L1843.7 1248.6L1844.6 1248.4L1845.4 1248.1L1846.3 1247.9L1847.1 1247.6L1848.0 1247.4L1848.9 1247.1L1849.7 1246.9L1850.6 1246.6L1851.4 1246.4L1852.3 1246.1L1853.1 1245.9L1854.0 1245.7L1854.9 1245.4L1855.7 1245.2L1856.6 1245.0L1857.4 1244.7L1858.3 1244.5L1859.1 1244.3L1860.0 1244.0L1860.9 1243.8L1861.7 1243.6L1862.6 1243.4L1863.4 1243.2L1864.3 1242.9L1865.1 1242.7L1866.0 1242.5L1866.9 1242.3L1867.7 1242.1L1868.6 1241.9L1869.4 1241.7L1870.3 1241.5L1871.1 1241.3L1872.0 1241.1L1872.9 1240.9L1873.7 1240.7L1874.6 1240.5L1875.4 1240.3L1876.3 1240.1L1877.1 1239.9L1878.0 1239.7L1878.9 1239.5L1879.7 1239.4L1880.6 1239.2L1881.4 1239.0L1882.3 1238.8L1883.1 1238.7L1884.0 1238.5L1884.9 1238.3L1885.7 1238.2L1886.6 1238.0L1887.4 1237.8L1888.3 1237.7L1889.1 1237.5L1890.0 1237.4L1890.9 1237.2L1891.7 1237.1L1892.6 1236.9L1893.4 1236.8L1894.3 1236.6L1895.1 1236.5L1896.0 1236.3L1896.9 1236.2L1897.7 1236.1L1898.6 1235.9L1899.4 1235.8L1900.3 1235.7L1901.1 1235.5L1902.0 1235.4L1902.9 1235.3L1903.7 1235.2L1904.6 1235.1L1905.4 1234.9L1906.3 1234.8L1907.1 1234.7L1908.0 1234.6L1908.9 1234.5L1909.7 1234.4L1910.6 1234.3L1911.4 1234.2L1912.3 1234.1L1913.1 1234.0L1914.0 1233.9L1914.9 1233.8L1915.7 1233.8L1916.6 1233.7L1917.4 1233.6L1918.3 1233.5L1919.1 1233.4L1920.0 1233.4L1920.9 1233.3L1921.7 1233.2L1922.6 1233.1L1923.4 1233.1L1924.3 1233.0L1925.1 1233.0L1926.0 1232.9L1926.9 1232.8L1927.7 1232.8L1928.6 1232.7L1929.4 1232.7L1930.3 1232.6L1931.1 1232.6L1932.0 1232.6L1932.9 1232.5L1933.7 1232.5L1934.6 1232.5L1935.4 1232.4L1936.3 1232.4L1937.1 1232.4L1938.0 1232.4L1938.9 1232.3L1939.7 1232.3L1940.6 1232.3L1941.4 1232.3L1942.3 1232.3L1943.1 1232.3L1944.0 1232.3L1944.9 1232.3L1945.7 1232.3L1946.6 1232.3L1947.4 1232.3L1948.3 1232.3L1949.1 1232.3L1950.0 1232.4L1950.9 1232.4L1951.7 1232.4L1952.6 1232.5L1953.4 1232.5L1954.3 1232.5L1955.1 1232.6L1956.0 1232.6L1956.9 1232.7L1957.7 1232.7L1958.6 1232.8L1959.4 1232.9L1960.3 1232.9L1961.1 1233.0L1962.0 1233.1L1962.9 1233.1L1963.7 1233.2L1964.6 1233.3L1965.4 1233.4L1966.3 1233.4L1967.1 1233.5L1968.0 1233.6L1968.9 1233.7L1969.7 1233.8L1970.6 1233.9L1971.4 1234.0L1972.3 1234.1L1973.1 1234.2L1974.0 1234.3L1974.9 1234.4L1975.7 1234.5L1976.6 1234.6L1977.4 1234.7L1978.3 1234.8L1979.1 1234.9L1980.0 1235.0L1980.9 1235.1L1981.7 1235.3L1982.6 1235.4L1983.4 1235.5L1984.3 1235.6L1985.1 1235.7L1986.0 1235.8L1986.9 1235.9L1987.7 1236.0L1988.6 1236.2L1989.4 1236.3L1990.3 1236.4L1991.1 1236.5L1992.0 1236.6L1992.9 1236.7L1993.7 1236.9L1994.6 1237.0L1995.4 1237.1L1996.3 1237.2L1997.1 1237.3L1998.0 1237.5L1998.9 1237.6L1999.7 1237.7L2000.6 1237.8L2001.4 1238.0L2002.3 1238.1L2003.1 1238.2L2004.0 1238.4L2004.9 1238.5L2005.7 1238.7L2006.6 1238.8L2007.4 1238.9L2008.3 1239.1L2009.1 1239.2L2010.0 1239.4L2010.9 1239.5L2011.7 1239.6L2012.6 1239.8L2013.4 1239.9L2014.3 1240.1L2015.1 1240.2L2016.0 1240.4L2016.9 1240.5L2017.7 1240.7L2018.6 1240.8L2019.4 1241.0L2020.3 1241.1L2021.1 1241.3L2022.0 1241.4L2022.9 1241.6L2023.7 1241.7L2024.6 1241.9L2025.4 1242.0L2026.3 1242.1L2027.1 1242.3L2028.0 1242.4L2028.9 1242.6L2029.7 1242.7L2030.6 1242.9L2031.4 1243.0L2032.3 1243.2L2033.1 1243.3L2034.0 1243.5L2034.9 1243.6L2035.7 1243.7L2036.6 1243.9L2037.4 1244.0L2038.3 1244.2L2039.1 1244.3L2040.0 1244.4L2040.9 1244.6L2041.7 1244.7L2042.6 1244.9L2043.4 1245.0L2044.3 1245.2L2045.1 1245.3L2046.0 1245.4L2046.9 1245.6L2047.8 1245.8L2048.8 1245.9L2049.7 1246.1L2050.6 1246.2L2051.4 1246.4L2052.0 1246.5L2053.4 1246.7L2054.0 1246.8" fill="none" stroke="#00ffff" stroke-width="4" stroke-linejoin="round" stroke-linecap="butt" stroke-dasharray="5 12" stroke-dashoffset="0"/>
<path clip-path="url(#cb)" d="M221.0 1205.5L221.0 1205.8L221.0 1206.1L221.0 1206.4L221.0 1206.7L221.0 1207.1L221.0 1207.4L221.0 1207.7L221.0 1208.1L221.0 1208.4L221.0 1208.8L221.0 1209.1L221.0 1209.5L221.0 1209.9L221.0 1210.2L221.0 1210.6L221.0 1211.0L221.0 1211.4L221.0 1211.8L221.0 1212.2L221.0 1212.6L221.1 1213.0L221.1 1213.4L221.1 1213.8L221.1 1214.2L221.1 1214.6L221.1 1215.1L221.1 1215.5L221.1 1215.9L221.1 1216.4L221.1 1216.8L221.1 1217.3L221.1 1217.7L221.1 1218.2L221.1 1218.7L221.1 1219.1L221.1 1219.6L221.1 1220.1L221.1 1220.6L221.1 1221.1L221.1 1221.5L221.1 1222.0L221.1 1222.5L221.1 1223.0L221.1 1223.6L221.1 1224.1L221.1 1224.6L221.1 1225.1L221.1 1225.6L221.1 1226.2L221.1 1226.7L221.2 1227.2L221.2 1227.8L221.2 1228.3L221.2 1228.9L221.2 1229.4L221.2 1230.0L221.2 1230.5L221.2 1231.1L221.2 1231.6L221.2 1232.2L221.2 1232.8L221.2 1233.4L221.2 1233.9L221.2 1234.5L221.2 1235.1L221.2 1235.7L221.2 1236.3L221.2 1236.9L221.2 1237.5L221.2 1238.1L221.2 1238.7L221.2 1239.3L221.2 1239.9L221.2 1240.6L221.2 1241.2L221.3 1241.8L221.3 1242.4L221.3 1243.1L221.3 1243.7L221.3 1244.3L221.3 1245.0L221.3 1245.6L221.3 1246.3L221.3 1246.9L221.3 1247.6L221.3 1248.2L221.3 1248.9L221.3 1249.5L221.3 1250.2L221.3 1250.8L221.3 1251.5L221.3 1252.2L221.3 1252.9L221.3 1253.5L221.3 1254.2L221.3 1254.9L221.3 1255.6L221.3 1256.3L221.4 1256.9L221.4 1257.6L221.4 1258.3L221.4 1259.0L221.4 1259.7L221.4 1260.4L221.4 1261.1L221.4 1261.8L221.4 1262.5L221.4 1263.2L221.4 1264.0L221.4 1264.7L221.4 1265.4L221.4 1266.1L221.4 1266.8L221.4 1267.5L221.4 1268.3L221.4 1269.0L221.4 1269.7L221.4 1270.4L221.4 1271.2L221.4 1271.9L221.5 1272.6L221.5 1273.4L221.5 1274.1L221.5 1274.8L221.5 1275.6L221.5 1276.3L221.5 1277.1L221.5 1277.8L221.5 1278.6L221.5 1279.3L221.5 1280.1L221.5 1280.8L221.5 1281.6L221.5 1282.3L221.5 1283.1L221.5 1283.8L221.5 1284.6L221.5 1285.4L221.5 1286.1L221.5 1286.9L221.5 1287.6L221.5 1288.4L221.5 1289.2L221.5 1289.9L221.6 1290.7L221.6 1291.5L221.6 1292.3L221.6 1293.0L221.6 1293.8L221.6 1294.6L221.6 1295.3L221.6 1296.1L221.6 1296.9L221.6 1297.7L221.6 1298.4L221.6 1299.2L221.6 1300.0L221.6 1300.5L221.6 1301.0L221.6 1301.5L221.6 1302.0L221.6 1302.5L221.6 1303.0L221.6 1303.5L221.6 1304.0L221.6 1304.5L221.6 1305.0L221.6 1305.5L221.6 1306.1L221.6 1306.6L221.6 1307.1L221.6 1307.6L221.6 1308.2L221.6 1308.7L221.6 1309.2L221.6 1309.8L221.6 1310.3L221.6 1310.9L221.7 1311.4L221.7 1312.0L221.7 1312.5L221.7 1313.1L221.7 1313.6L221.7 1314.2L221.7 1314.7L221.7 1315.3L221.7 1315.9L221.7 1316.4L221.7 1317.0L221.7 1317.6L221.7 1318.1L221.7 1318.7L221.7 1319.3L221.7 1319.9L221.7 1320.5L221.7 1321.0L221.7 1321.6L221.7 1322.2L221.7 1322.8L221.7 1323.4L221.7 1324.0L221.7 1324.6L221.7 1325.2L221.7 1325.8L221.7 1326.4L221.7 1327.0L221.7 1327.6L221.7 1328.2L221.7 1328.8L221.7 1329.4L221.7 1330.0L221.7 1330.6L221.7 1331.2L221.7 1331.8L221.7 1332.4L221.7 1333.1L221.7 1333.7L221.7 1334.3L221.7 1334.9L221.7 1335.5L221.7 1336.2L221.8 1336.8L221.8 1337.4L221.8 1338.1L221.8 1338.7L221.8 1339.3L221.8 1339.9L221.8 1340.6L221.8 1341.2L221.8 1341.9L221.8 1342.5L221.8 1343.1L221.8 1343.8L221.8 1344.4L221.8 1345.0L221.8 1345.7L221.8 1346.3L221.8 1347.0L221.8 1347.6L221.8 1348.3L221.8 1348.9L221.8 1349.6L221.8 1350.2L221.8 1350.9L221.8 1351.5L221.8 1352.2L221.8 1352.8L221.8 1353.5L221.8 1354.1L221.8 1354.8L221.8 1355.4L221.8 1356.1L221.8 1356.7L221.8 1357.4L221.8 1358.0L221.8 1358.7L221.8 1359.4L221.8 1360.0L221.8 1360.7L221.8 1361.3L221.8 1362.0L221.8 1362.7L221.8 1363.3L221.8 1364.0L221.8 1364.6L221.9 1365.3L221.9 1366.0L221.9 1366.6L221.9 1367.3L221.9 1368.0L221.9 1368.6L221.9 1369.3L221.9 1369.9L221.9 1370.6L221.9 1371.3L221.9 1371.9L221.9 1372.6L221.9 1373.3L221.9 1373.9L221.9 1374.6L221.9 1375.2L221.9 1375.9L221.9 1376.6L221.9 1377.2L221.9 1377.9L221.9 1378.6L221.9 1379.2L221.9 1379.9L221.9 1380.5L221.9 1381.2L221.9 1381.9L221.9 1382.5L221.9 1383.2L221.9 1383.8L221.9 1384.5L221.9 1385.2L221.9 1385.8L221.9 1386.5L221.9 1387.1L221.9 1387.8L221.9 1388.5L221.9 1389.1L221.9 1389.8L221.9 1390.4L221.9 1391.1L221.9 1391.7L221.9 1392.4L221.9 1393.0L222.0 1393.7L222.0 1394.3L222.0 1395.0L222.0 1395.6L222.0 1396.3L222.0 1396.9L222.0 1397.6L222.0 1398.2L222.0 1398.9L222.0 1399.5L222.0 1400.1L222.0 1400.8L222.0 1401.4L222.0 1402.1L222.0 1402.7L222.0 1403.3L222.0 1404.0L222.0 1404.6L222.0 1405.2L222.0 1405.9L222.0 1406.5L222.0 1407.1L222.0 1407.8L222.0 1408.4L222.0 1409.0L222.0 1409.6L222.0 1410.3L222.0 1410.9L222.0 1411.5L222.0 1412.1L222.0 1412.8L222.0 1413.4L222.0 1414.0L222.0 1414.6L222.0 1415.2L222.0 1415.8L222.0 1416.4L222.0 1417.0L222.0 1417.6L222.0 1418.2L222.0 1418.8L222.0 1419.4L222.1 1420.0L222.1 1420.6L222.1 1421.2L222.1 1421.8L222.1 1422.4L222.1 1423.0L222.1 1423.6L222.1 1424.2L222.1 1424.8L222.1 1425.3L222.1 1425.9L222.1 1426.5L222.1 1427.1L222.1 1427.6L222.1 1428.2L222.1 1428.8L222.1 1429.4L222.1 1429.9L222.1 1430.5L222.1 1431.0L222.1 1431.6L222.1 1432.2L222.1 1432.7L222.1 1433.3L222.1 1433.8L222.1 1434.4L222.1 1434.9L222.1 1435.4L222.1 1436.0L222.1 1436.5L222.1 1437.1L222.1 1437.6L222.1 1438.1L222.1 1438.6L222.1 1439.2L222.1 1439.7L222.1 1440.2L222.1 1440.7L222.2 1441.2L222.2 1441.7L222.2 1442.3L222.2 1442.8L222.2 1443.3L222.2 1443.8L222.2 1444.3L222.2 1444.8L222.2 1445.2L222.2 1445.7L222.2 1446.2L222.2 1446.7L222.2 1447.2L222.2 1447.7L222.2 1448.1L222.2 1448.6L222.2 1449.1L222.2 1449.5L222.2 1450.0L222.2 1450.9L222.2 1451.7L222.2 1452.6L222.2 1453.4L222.2 1454.3L222.2 1455.1L222.2 1455.9L222.2 1456.8L222.2 1457.6L222.2 1458.4L222.3 1459.2L222.3 1460.0L222.3 1460.8L222.3 1461.6L222.3 1462.4L222.3 1463.2L222.3 1464.0L222.3 1464.8L222.3 1465.5L222.3 1466.3L222.3 1467.1L222.3 1467.8L222.3 1468.6L222.3 1469.3L222.3 1470.1L222.3 1470.8L222.3 1471.6L222.3 1472.3L222.3 1473.0L222.3 1473.8L222.3 1474.5L222.3 1475.2L222.3 1475.9L222.3 1476.6L222.3 1477.3L222.3 1478.0L222.3 1478.7L222.3 1479.4L222.4 1480.1L222.4 1480.8L222.4 1481.5L222.4 1482.1L222.4 1482.8L222.4 1483.5L222.4 1484.1L222.4 1484.8L222.4 1485.5L222.4 1486.1L222.4 1486.8L222.4 1487.4L222.4 1488.0L222.4 1488.7L222.4 1489.3L222.4 1489.9L222.4 1490.6L222.4 1491.2L222.4 1491.8L222.4 1492.4L222.4 1493.0L222.4 1493.6L222.4 1494.2L222.4 1494.8L222.4 1495.4L222.4 1496.0L222.4 1496.6L222.4 1497.2L222.5 1497.8L222.5 1498.4L222.5 1498.9L222.5 1499.5L222.5 1500.1L222.5 1500.7L222.5 1501.2L222.5 1501.8L222.5 1502.3L222.5 1502.9L222.5 1503.4L222.5 1504.0L222.5 1504.5L222.5 1505.1L222.5 1505.6L222.5 1506.1L222.5 1506.7L222.5 1507.2L222.5 1507.7L222.5 1508.2L222.6 1508.8L222.6 1509.3L222.6 1509.8L222.6 1510.3L222.6 1510.8L222.6 1511.3L222.6 1511.8L222.6 1512.3L222.6 1512.8L222.6 1513.3L222.6 1513.8L222.6 1514.3L222.6 1514.8L222.6 1515.3L222.7 1515.8L222.7 1516.2L222.7 1516.7L222.7 1517.2L222.7 1517.7L222.7 1518.1L222.7 1518.6L222.7 1519.1L222.7 1519.5L222.7 1520.0L222.7 1520.4L222.7 1520.9L222.8 1521.4L222.8 1521.8L222.8 1522.3L222.8 1522.7L222.8 1523.1L222.8 1523.6L222.8 1524.0L222.8 1524.5L222.8 1524.9L222.9 1525.3L222.9 1525.8L222.9 1526.2L222.9 1526.6L222.9 1527.1L222.9 1527.5L222.9 1527.9L222.9 1528.3L223.0 1528.8L223.0 1529.2L223.0 1529.6L223.0 1530.0L223.0 1531.1L223.1 1532.2L223.1 1533.2L223.2 1534.3L223.2 1535.3L223.3 1536.3L223.3 1537.3L223.4 1538.3L223.4 1539.2L223.5 1540.2L223.5 1541.1L223.6 1542.0L223.6 1542.9L223.7 1543.7L223.7 1544.6L223.8 1545.4L223.9 1546.2L223.9 1547.0L224.0 1547.7L224.0 1548.5L224.1 1549.2L224.2 1549.9L224.2 1550.6L224.3 1551.2L224.4 1551.9L224.4 1552.5L224.5 1553.1L224.6 1553.6L224.6 1554.2L224.7 1554.7L224.8 1555.2L224.8 1555.7L224.9 1556.2L225.0 1556.6L225.0 1557.0L225.1 1557.4L225.2 1557.7L225.2 1558.1L225.3 1558.4L225.4 1558.6L225.4 1558.9L225.5 1559.1L225.6 1559.3L225.6 1559.5L225.7 1559.7L225.8 1559.8L225.8 1559.9L225.9 1559.9L225.9 1560.0L226.0 1560.0L226.1 1560.0L226.1 1560.0L226.2 1559.9L226.2 1559.9L226.3 1559.8L226.4 1559.7L226.4 1559.6L226.5 1559.4L226.6 1559.3L226.6 1559.1L226.7 1558.9L226.8 1558.7L226.8 1558.5L226.9 1558.2L227.0 1557.9L227.0 1557.6L227.1 1557.3L227.2 1556.9L227.2 1556.6L227.3 1556.2L227.4 1555.7L227.4 1555.3L227.5 1554.8L227.6 1554.3L227.6 1553.8L227.7 1553.2L227.8 1552.6L227.8 1552.0L227.9 1551.3L227.9 1550.6L228.0 1549.9L228.1 1549.2L228.1 1548.4L228.2 1547.6L228.2 1546.8L228.3 1545.9L228.4 1545.0L228.4 1544.1L228.5 1543.1L228.5 1542.1L228.6 1541.0L228.6 1540.0L228.7 1538.8L228.7 1537.7L228.8 1536.5L228.8 1535.3L228.9 1534.0L228.9 1532.7L229.0 1531.4L229.0 1530.0L229.0 1529.6L229.0 1529.2L229.0 1528.8L229.0 1528.4L229.1 1528.0L229.1 1527.6L229.1 1527.2L229.1 1526.8L229.1 1526.4L229.1 1526.0L229.1 1525.5L229.1 1525.1L229.1 1524.7L229.1 1524.2L229.2 1523.8L229.2 1523.3L229.2 1522.9L229.2 1522.4L229.2 1522.0L229.2 1521.5L229.2 1521.0L229.2 1520.6L229.2 1520.1L229.2 1519.6L229.2 1519.1L229.2 1518.6L229.3 1518.2L229.3 1517.7L229.3 1517.2L229.3 1516.7L229.3 1516.2L229.3 1515.7L229.3 1515.1L229.3 1514.6L229.3 1514.1L229.3 1513.6L229.3 1513.1L229.3 1512.5L229.3 1512.0L229.3 1511.5L229.4 1510.9L229.4 1510.4L229.4 1509.9L229.4 1509.3L229.4 1508.8L229.4 1508.2L229.4 1507.7L229.4 1507.1L229.4 1506.6L229.4 1506.0L229.4 1505.4L229.4 1504.9L229.4 1504.3L229.4 1503.7L229.4 1503.1L229.4 1502.6L229.5 1502.0L229.5 1501.4L229.5 1500.8L229.5 1500.2L229.5 1499.6L229.5 1499.0L229.5 1498.4L229.5 1497.8L229.5 1497.2L229.5 1496.6L229.5 1496.0L229.5 1495.4L229.5 1494.8L229.5 1494.2L229.5 1493.6L229.5 1493.0L229.5 1492.4L229.5 1491.7L229.5 1491.1L229.5 1490.5L229.6 1489.9L229.6 1489.2L229.6 1488.6L229.6 1488.0L229.6 1487.4L229.6 1486.7L229.6 1486.1L229.6 1485.5L229.6 1484.8L229.6 1484.2L229.6 1483.5L229.6 1482.9L229.6 1482.2L229.6 1481.6L229.6 1480.9L229.6 1480.3L229.6 1479.7L229.6 1479.0L229.6 1478.3L229.6 1477.7L229.6 1477.0L229.6 1476.4L229.6 1475.7L229.6 1475.1L229.6 1474.4L229.7 1473.7L229.7 1473.1L229.7 1472.4L229.7 1471.8L229.7 1471.1L229.7 1470.4L229.7 1469.8L229.7 1469.1L229.7 1468.4L229.7 1467.8L229.7 1467.1L229.7 1466.4L229.7 1465.7L229.7 1465.1L229.7 1464.4L229.7 1463.7L229.7 1463.1L229.7 1462.4L229.7 1461.7L229.7 1461.0L229.7 1460.4L229.7 1459.7L229.7 1459.0L229.7 1458.3L229.7 1457.7L229.7 1457.0L229.7 1456.3L229.8 1455.6L229.8 1455.0L229.8 1454.3L229.8 1453.6L229.8 1452.9L229.8 1452.3L229.8 1451.6L229.8 1450.9L229.8 1450.2L229.8 1449.6L229.8 1448.9L229.8 1448.2L229.8 1447.6L229.8 1446.9L229.8 1446.2L229.8 1445.5L229.8 1444.9L229.8 1444.2L229.8 1443.5L229.8 1442.8L229.8 1442.2L229.8 1441.5L229.8 1440.8L229.8 1440.2L229.8 1439.5L229.9 1438.8L229.9 1438.2L229.9 1437.5L229.9 1436.8L229.9 1436.2L229.9 1435.5L229.9 1434.9L229.9 1434.2L229.9 1433.5L229.9 1432.9L229.9 1432.2L229.9 1431.6L229.9 1430.9L229.9 1430.3L229.9 1429.6L229.9 1429.0L229.9 1428.3L229.9 1427.7L229.9 1427.0L229.9 1426.4L229.9 1425.7L230.0 1425.1L230.0 1424.4L230.0 1423.8L230.0 1423.2L230.0 1422.5L230.0 1421.9L230.0 1421.3L230.0 1420.6L230.0 1420.0L230.0 1419.4L230.0 1418.8L230.0 1418.3L230.0 1417.7L230.0 1417.1L230.0 1416.5L230.0 1415.9L230.0 1415.4L230.1 1414.8L230.1 1414.2L230.1 1413.6L230.1 1413.0L230.1 1412.4L230.1 1411.8L230.1 1411.2L230.1 1410.6L230.1 1410.0L230.1 1409.4L230.1 1408.8L230.1 1408.2L230.1 1407.6L230.1 1407.0L230.1 1406.4L230.1 1405.8L230.1 1405.2L230.1 1404.6L230.2 1404.0L230.2 1403.4L230.2 1402.8L230.2 1402.2L230.2 1401.5L230.2 1400.9L230.2 1400.3L230.2 1399.7L230.2 1399.1L230.2 1398.5L230.2 1397.9L230.2 1397.2L230.2 1396.6L230.2 1396.0L230.2 1395.4L230.2 1394.8L230.2 1394.1L230.3 1393.5L230.3 1392.9L230.3 1392.3L230.3 1391.6L230.3 1391.0L230.3 1390.4L230.3 1389.8L230.3 1389.1L230.3 1388.5L230.3 1387.9L230.3 1387.3L230.3 1386.6L230.3 1386.0L230.3 1385.4L230.3 1384.7L230.3 1384.1L230.4 1383.5L230.4 1382.8L230.4 1382.2L230.4 1381.6L230.4 1380.9L230.4 1380.3L230.4 1379.7L230.4 1379.0L230.4 1378.4L230.4 1377.8L230.4 1377.1L230.4 1376.5L230.4 1375.9L230.4 1375.2L230.4 1374.6L230.4 1374.0L230.5 1373.3L230.5 1372.7L230.5 1372.1L230.5 1371.4L230.5 1370.8L230.5 1370.2L230.5 1369.5L230.5 1368.9L230.5 1368.3L230.5 1367.6L230.5 1367.0L230.5 1366.4L230.5 1365.7L230.5 1365.1L230.5 1364.5L230.5 1363.8L230.6 1363.2L230.6 1362.6L230.6 1361.9L230.6 1361.3L230.6 1360.7L230.6 1360.0L230.6 1359.4L230.6 1358.8L230.6 1358.1L230.6 1357.5L230.6 1356.9L230.6 1356.2L230.6 1355.6L230.6 1355.0L230.6 1354.3L230.6 1353.7L230.6 1353.1L230.7 1352.5L230.7 1351.8L230.7 1351.2L230.7 1350.6L230.7 1350.0L230.7 1349.3L230.7 1348.7L230.7 1348.1L230.7 1347.5L230.7 1346.8L230.7 1346.2L230.7 1345.6L230.7 1345.0L230.7 1344.4L230.7 1343.7L230.7 1343.1L230.8 1342.5L230.8 1341.9L230.8 1341.3L230.8 1340.7L230.8 1340.1L230.8 1339.4L230.8 1338.8L230.8 1338.2L230.8 1337.6L230.8 1337.0L230.8 1336.4L230.8 1335.8L230.8 1335.2L230.8 1334.6L230.8 1334.0L230.8 1333.4L230.9 1332.8L230.9 1332.2L230.9 1331.6L230.9 1331.0L230.9 1330.4L230.9 1329.8L230.9 1329.2L230.9 1328.6L230.9 1328.0L230.9 1327.4L230.9 1326.8L230.9 1326.2L230.9 1325.7L230.9 1325.1L230.9 1324.5L230.9 1323.9L231.0 1323.3L231.0 1322.8L231.0 1322.2L231.0 1321.6L231.0 1321.0L231.0 1320.5L231.0 1319.9L231.0 1319.3L231.0 1318.7L231.0 1318.2L231.0 1317.6L231.0 1317.0L231.0 1316.5L231.0 1315.9L231.0 1315.4L231.0 1314.8L231.0 1314.3L231.1 1313.7L231.1 1313.2L231.1 1312.6L231.1 1312.1L231.1 1311.5L231.1 1311.0L231.1 1310.4L231.1 1309.9L231.1 1309.3L231.1 1308.8L231.1 1308.3L231.1 1307.7L231.1 1307.2L231.1 1306.7L231.1 1306.2L231.1 1305.6L231.1 1305.1L231.1 1304.6L231.2 1304.1L231.2 1303.6L231.2 1303.0L231.2 1302.5L231.2 1302.0L231.2 1301.5L231.2 1301.0L231.2 1300.5L231.2 1300.0L231.2 1299.2L231.2 1298.5L231.2 1297.8L231.2 1297.0L231.2 1296.3L231.2 1295.5L231.3 1294.8L231.3 1294.1L231.3 1293.4L231.3 1292.6L231.3 1291.9L231.3 1291.2L231.3 1290.5L231.3 1289.8L231.3 1289.1L231.3 1288.4L231.3 1287.7L231.3 1287.0L231.4 1286.3L231.4 1285.6L231.4 1284.9L231.4 1284.2L231.4 1283.6L231.4 1282.9L231.4 1282.2L231.4 1281.5L231.4 1280.9L231.4 1280.2L231.4 1279.5L231.4 1278.9L231.4 1278.2L231.5 1277.5L231.5 1276.9L231.5 1276.2L231.5 1275.6L231.5 1274.9L231.5 1274.3L231.5 1273.6L231.5 1273.0L231.5 1272.4L231.5 1271.7L231.5 1271.1L231.5 1270.5L231.5 1269.8L231.6 1269.2L231.6 1268.6L231.6 1268.0L231.6 1267.3L231.6 1266.7L231.6 1266.1L231.6 1265.5L231.6 1264.9L231.6 1264.3L231.6 1263.7L231.6 1263.1L231.6 1262.5L231.6 1261.9L231.6 1261.3L231.7 1260.7L231.7 1260.1L231.7 1259.5L231.7 1258.9L231.7 1258.3L231.7 1257.7L231.7 1257.1L231.7 1256.5L231.7 1256.0L231.7 1255.4L231.7 1254.8L231.7 1254.2L231.7 1253.6L231.8 1253.1L231.8 1252.5L231.8 1251.9L231.8 1251.4L231.8 1250.8L231.8 1250.2L231.8 1249.7L231.8 1249.1L231.8 1248.5L231.8 1248.0L231.8 1247.4L231.8 1246.8L231.8 1246.3L231.8 1245.7L231.9 1245.2L231.9 1244.6L231.9 1244.1L231.9 1243.5L231.9 1243.0L231.9 1242.4L231.9 1241.9L231.9 1241.3L231.9 1240.8L231.9 1240.2L231.9 1239.7L231.9 1239.1L231.9 1238.6L231.9 1238.1L232.0 1237.5L232.0 1237.0L232.0 1236.4L232.0 1235.9L232.0 1235.4L232.0 1234.8L232.0 1234.3L232.0 1233.8L232.0 1233.2L232.0 1232.7L232.0 1232.2L232.0 1231.6L232.0 1231.1L232.1 1230.6L232.1 1230.0L232.1 1229.5L232.1 1229.0L232.1 1228.4L232.1 1227.9L232.1 1227.4L232.1 1226.9L232.1 1226.3L232.1 1225.8L232.1 1225.3L232.1 1224.7L232.1 1224.2L232.1 1223.7L232.2 1223.2L232.2 1222.6L232.2 1222.1L232.2 1221.6L232.2 1221.1L232.2 1220.5L232.2 1220.0L232.2 1219.3L232.2 1218.6L232.2 1217.9L232.2 1217.2L232.2 1216.5L232.3 1215.8L232.3 1215.1L232.3 1214.5L232.3 1213.8L232.3 1213.1L232.3 1212.4L232.3 1211.7L232.3 1211.0L232.3 1210.4L232.3 1209.7L232.4 1209.0L232.4 1208.3L232.4 1207.7L232.4 1207.0L232.4 1206.3L232.4 1205.7L232.4 1205.0L232.4 1204.4L232.4 1203.7L232.4 1203.0L232.5 1202.4L232.5 1201.7L232.5 1201.1L232.5 1200.4L232.5 1199.8L232.5 1199.1L232.5 1198.5L232.5 1197.9L232.5 1197.2L232.5 1196.6L232.6 1196.0L232.6 1195.3L232.6 1194.7L232.6 1194.1L232.6 1193.4L232.6 1192.8L232.6 1192.2L232.6 1191.6L232.6 1191.0L232.6 1190.3L232.7 1189.7L232.7 1189.1L232.7 1188.5L232.7 1187.9L232.7 1187.3L232.7 1186.7L232.7 1186.1L232.7 1185.5L232.7 1184.9L232.7 1184.3L232.8 1183.7L232.8 1183.1L232.8 1182.5L232.8 1181.9L232.8 1181.4L232.8 1180.8L232.8 1180.2L232.8 1179.6L232.8 1179.0L232.8 1178.5L232.9 1177.9L232.9 1177.3L232.9 1176.8L232.9 1176.2L232.9 1175.7L232.9 1175.1L232.9 1174.5L232.9 1174.0L232.9 1173.4L232.9 1172.9L233.0 1172.3L233.0 1171.8L233.0 1171.3L233.0 1170.7L233.0 1170.2L233.0 1169.6L233.0 1169.1L233.0 1168.6L233.0 1168.1L233.0 1167.5L233.1 1167.0L233.1 1166.5L233.1 1166.0L233.1 1165.5L233.1 1165.0L233.1 1164.5L233.1 1163.9L233.1 1163.4L233.1 1162.9L233.1 1162.4L233.2 1162.0L233.2 1161.5L233.2 1161.0L233.2 1160.5L233.2 1160.0L233.2 1159.2L233.2 1158.4L233.3 1157.7L233.3 1156.9L233.3 1156.1L233.3 1155.4L233.3 1154.6L233.3 1153.9L233.3 1153.1L233.4 1152.4L233.4 1151.6L233.4 1150.9L233.4 1150.2L233.4 1149.5L233.4 1148.8L233.5 1148.1L233.5 1147.4L233.5 1146.7L233.5 1146.0L233.5 1145.4L233.5 1144.7L233.6 1144.0L233.6 1143.4L233.6 1142.7L233.6 1142.1L233.6 1141.4L233.6 1140.8L233.6 1140.2L233.7 1139.6L233.7 1139.0L233.7 1138.4L233.7 1137.8L233.7 1137.2L233.7 1136.6L233.8 1136.0L233.8 1135.4L233.8 1134.9L233.8 1134.3L233.8 1133.8L233.9 1133.2L233.9 1132.7L233.9 1132.2L233.9 1131.6L233.9 1131.1L233.9 1130.6L234.0 1130.1L234.0 1129.6L234.0 1129.1L234.0 1128.6L234.0 1128.2L234.1 1127.7L234.1 1127.2L234.1 1126.8L234.1 1126.3L234.2 1125.9L234.2 1125.5L234.2 1125.0L234.2 1124.6L234.3 1124.2L234.3 1123.8L234.3 1123.4L234.4 1122.2L234.5 1121.1L234.6 1120.1L234.7 1119.2L234.8 1118.3L234.9 1117.6L235.0 1116.9L235.1 1116.3L235.2 1115.7L235.3 1115.2L235.4 1114.8L235.5 1114.3L235.7 1113.9L235.8 1113.6L235.9 1113.3L236.0 1112.9L236.1 1112.6L236.2 1112.3L236.3 1112.0L236.9 1110.2L237.4 1109.6L238.0 1111.3L238.1 1111.6L238.1 1111.9L238.2 1112.3L238.2 1112.7L238.3 1113.1L238.4 1113.6L238.4 1114.1L238.5 1114.6L238.5 1115.1L238.6 1115.7L238.7 1116.3L238.7 1116.8L238.8 1117.5L238.9 1118.1L238.9 1118.7L239.0 1119.4L239.1 1120.0L239.1 1120.7L239.2 1121.4L239.3 1122.1L239.3 1122.8L239.4 1123.5L239.5 1124.2L239.5 1124.9L239.6 1125.6L239.7 1126.3L239.8 1127.0L239.8 1127.7L239.9 1128.3L240.0 1129.0L240.0 1129.7L240.1 1130.4L240.2 1131.0L240.3 1131.6L240.3 1132.1L240.4 1132.7L240.5 1133.3L240.6 1133.9L240.6 1134.5L240.7 1135.1L240.8 1135.6L240.8 1136.2L240.9 1136.8L241.0 1137.4L241.1 1138.0L241.1 1138.6L241.2 1139.2L241.3 1139.8L241.4 1140.4L241.4 1141.0L241.5 1141.7L241.6 1142.3L241.7 1142.9L241.8 1143.5L241.8 1144.1L241.9 1144.7L242.0 1145.3L242.1 1146.0L242.2 1146.6L242.2 1147.2L242.3 1147.8L242.4 1148.5L242.5 1149.1L242.6 1149.7L242.7 1150.3L242.7 1151.0L242.8 1151.6L242.9 1152.2L243.0 1152.9L243.1 1153.5L243.2 1154.1L243.3 1154.7L243.4 1155.3L243.4 1155.9L243.5 1156.5L243.6 1157.1L243.7 1157.8L243.8 1158.4L243.9 1159.0L244.0 1159.7L244.1 1160.3L244.2 1161.0L244.2 1161.6L244.3 1162.3L244.4 1162.9L244.5 1163.6L244.6 1164.2L244.7 1164.9L244.8 1165.5L244.9 1166.2L245.0 1166.8L245.1 1167.5L245.2 1168.1L245.3 1168.7L245.4 1169.3L245.5 1170.0L245.6 1170.6L245.7 1171.2L245.8 1171.8L245.9 1172.4L246.0 1173.0L246.0 1173.6L246.1 1174.1L246.2 1174.7L246.3 1175.2L246.4 1175.8L246.5 1176.3L246.6 1176.8L246.7 1177.3L246.8 1177.8L247.0 1178.6L247.1 1179.4L247.3 1180.1L247.4 1180.8L247.6 1181.5L247.7 1182.2L247.9 1182.9L248.0 1183.5L248.2 1184.1L248.4 1184.7L248.5 1185.3L248.7 1185.9L248.8 1186.5L249.0 1187.0L249.1 1187.6L249.3 1188.1L249.4 1188.6L249.6 1189.1L249.7 1189.6L249.9 1190.1L250.0 1190.6L250.2 1191.1L250.3 1191.5L250.5 1192.0L250.7 1192.7L251.0 1193.4L251.2 1194.1L251.4 1194.7L251.7 1195.3L251.9 1195.9L252.1 1196.4L252.3 1196.9L252.6 1197.5L252.8 1197.9L253.0 1198.4L253.3 1198.9L253.5 1199.4L253.8 1199.8L254.0 1200.3L254.4 1200.9L254.8 1201.6L255.2 1202.2L255.6 1202.8L256.0 1203.4L256.4 1203.9L256.8 1204.5L257.2 1204.9L257.5 1205.3L257.8 1205.7L258.0 1206.0L258.6 1205.5L259.1 1205.4L259.7 1204.7L260.2 1207.7L260.8 1201.9L261.3 1206.5L261.9 1209.7L262.4 1207.2L263.0 1210.4L263.5 1207.5L264.1 1209.8L264.6 1208.8L265.2 1210.5L265.7 1211.0L266.3 1209.3L266.8 1205.9L267.4 1204.6L267.9 1204.5L268.5 1209.0L269.0 1207.6L269.6 1211.0L270.1 1210.3L270.7 1207.7L271.2 1208.8L271.8 1211.9L272.3 1213.5L272.9 1213.2L273.4 1215.0L274.0 1217.7L274.5 1214.3L275.1 1217.3L275.6 1217.2L276.2 1218.9L276.7 1217.9L277.3 1215.8L277.8 1214.1L278.4 1218.5L278.9 1218.5L279.5 1218.4L280.0 1218.3L280.6 1218.0L281.1 1221.1L281.7 1218.9L282.2 1215.1L282.8 1224.5L283.3 1221.7L283.9 1217.5L284.4 1219.4L285.0 1221.3L285.5 1222.2L286.1 1219.2L286.6 1218.1L287.2 1213.6L287.7 1217.1L288.3 1215.9L288.8 1219.4L289.4 1212.0L289.9 1223.8L290.5 1217.7L291.0 1219.2L291.6 1223.8L292.1 1225.5L292.7 1225.5L293.2 1218.5L293.8 1223.8L294.3 1221.8L294.9 1216.2L295.4 1215.6L296.0 1217.2L296.5 1219.4L297.1 1218.9L297.6 1221.3L298.2 1217.9L298.7 1220.1L299.3 1218.5L299.8 1215.3L300.4 1219.1L300.9 1222.7L301.5 1214.9L302.0 1223.2L302.6 1220.3L303.1 1225.5L303.7 1220.8L304.2 1214.2L304.8 1215.5L305.3 1215.3L305.9 1221.8L306.4 1219.0L307.0 1221.3L307.5 1218.5L308.1 1218.1L308.6 1216.5L309.2 1222.1L309.7 1223.7L310.3 1221.1L310.8 1220.0L311.4 1221.8L311.9 1224.7L312.5 1225.4L313.0 1223.6L313.6 1220.1L314.1 1216.6L314.7 1220.8L315.2 1223.3L315.8 1222.0L316.3 1221.0L316.9 1221.7L317.4 1222.4L318.0 1222.7L318.5 1217.1L319.1 1221.9L319.6 1221.3L320.2 1225.9L320.7 1221.7L321.3 1218.9L321.8 1225.9L322.4 1223.9L322.9 1226.3L323.5 1220.8L324.0 1226.0L324.6 1223.8L325.1 1225.0L325.7 1224.7L326.2 1221.8L326.8 1227.8L327.3 1225.3L327.9 1225.1L328.4 1224.3L329.0 1226.8L329.5 1223.3L330.1 1221.3L330.6 1220.1L331.2 1224.1L331.7 1225.0L332.3 1227.2L332.8 1225.5L333.4 1229.1L333.9 1223.8L334.5 1222.1L335.0 1225.6L335.6 1223.8L336.1 1225.7L336.7 1230.6L337.2 1222.7L337.8 1227.4L338.3 1225.1L338.9 1229.0L339.4 1228.0L340.0 1224.7L340.5 1224.7L341.1 1233.7L341.6 1232.7L342.2 1229.5L342.7 1233.8L343.3 1228.7L343.8 1233.4L344.4 1228.3L344.9 1229.6L345.5 1229.4L346.0 1229.5L346.6 1233.3L347.1 1231.8L347.7 1228.2L348.2 1227.6L348.8 1231.9L349.3 1233.4L349.9 1237.0L350.4 1237.4L351.0 1230.5L351.5 1231.7L352.1 1236.0L352.6 1231.9L353.2 1241.4L353.7 1238.3L354.3 1237.0L354.8 1235.2L355.4 1235.4L355.9 1237.4L356.5 1238.1L357.0 1233.2L357.6 1233.8L358.1 1233.0L358.7 1236.3L359.2 1240.4L359.8 1241.0L360.3 1236.1L360.9 1239.6L361.4 1243.3L362.0 1240.6L362.5 1240.7L363.1 1243.2L363.6 1239.2L364.2 1242.4L364.7 1244.5L365.3 1245.5L365.8 1245.0L366.4 1241.2L366.9 1242.4L367.5 1239.9L368.0 1244.4L368.6 1238.0L369.1 1239.4L369.7 1241.7L370.2 1238.8L370.8 1243.3L371.3 1248.0L371.9 1252.8L372.4 1244.5L373.0 1249.4L373.5 1246.7L374.1 1244.4L374.6 1245.6L375.2 1246.9L375.7 1246.3L376.3 1240.2L376.8 1245.8L377.4 1243.4L377.9 1241.6L378.5 1243.6L379.0 1244.2L379.6 1241.7L380.1 1242.0L380.7 1245.3L381.2 1241.1L381.8 1247.7L382.3 1254.2L382.9 1250.2L383.4 1250.9L384.0 1246.9L384.5 1247.2L385.1 1242.7L385.6 1250.7L386.2 1246.2L386.7 1250.7L387.3 1249.4L387.8 1249.5L388.4 1246.8L388.9 1248.7L389.5 1247.6L390.0 1252.2L390.6 1257.8L391.1 1248.6L391.7 1251.3L392.2 1253.3L392.8 1251.3L393.3 1252.9L393.9 1254.2L394.4 1256.4L395.0 1256.0L395.5 1251.8L396.1 1260.6L396.6 1252.5L397.2 1250.9L397.7 1251.8L398.3 1255.1L398.8 1250.7L399.4 1255.1L399.9 1250.9L400.5 1256.3L401.0 1255.8L401.6 1255.9L402.1 1260.6L402.7 1253.1L403.2 1256.0L403.8 1259.0L404.3 1258.5L404.9 1254.8L405.4 1262.5L406.0 1264.0L406.5 1264.9L407.1 1261.2L407.6 1262.3L408.2 1260.2L408.7 1261.4L409.3 1256.4L409.8 1262.4L410.4 1259.4L410.9 1260.1L411.5 1264.5L412.0 1261.9L412.6 1258.5L413.1 1263.1L413.7 1268.9L414.2 1265.8L414.8 1265.5L415.3 1261.1L415.9 1259.3L416.4 1264.6L417.0 1263.9L417.5 1261.6L418.1 1264.6L418.6 1263.1L419.2 1262.8L419.7 1261.5L420.3 1259.1L420.8 1258.6L421.4 1266.1L421.9 1264.6L422.5 1272.4L423.0 1266.3L423.6 1270.1L424.1 1265.2L424.7 1264.5L425.2 1265.2L425.8 1273.8L426.3 1268.0L426.9 1271.3L427.4 1273.3L428.0 1269.7L428.5 1269.8L429.1 1274.2L429.6 1269.2L430.2 1271.2L430.7 1272.2L431.3 1265.9L431.8 1272.1L432.4 1269.6L432.9 1271.4L433.5 1273.0L434.0 1271.0L434.6 1264.8L435.1 1272.9L435.7 1265.6L436.2 1271.2L436.8 1276.4L437.3 1275.0L437.9 1272.1L438.4 1271.4L439.0 1272.9L439.5 1278.3L440.1 1277.5L440.6 1272.8L441.2 1277.8L441.7 1278.2L442.3 1276.1L442.8 1272.3L443.4 1276.4L443.9 1279.5L444.5 1279.3L445.0 1282.7L445.6 1281.8L446.1 1285.8L446.7 1284.0L447.2 1282.5L447.8 1284.9L448.3 1279.9L448.9 1281.2L449.4 1288.6L450.0 1284.5L450.5 1287.9L451.1 1284.4L451.6 1286.7L452.2 1286.5L452.7 1283.2L453.3 1285.6L453.8 1279.9L454.4 1288.8L454.9 1291.7L455.5 1286.3L456.0 1292.1L456.6 1284.9L457.1 1285.9L457.7 1286.7L458.2 1285.6L458.8 1281.8L459.3 1286.1L459.9 1285.5L460.4 1287.1L461.0 1287.9L461.5 1293.2L462.1 1290.7L462.6 1289.4L463.2 1291.5L463.7 1283.5L464.3 1291.1L464.8 1293.2L465.4 1295.9L465.9 1292.3L466.5 1295.7L467.0 1292.1L467.6 1296.2L468.1 1289.5L468.7 1293.3L469.2 1295.2L469.8 1297.8L470.3 1292.3L470.9 1295.8L471.4 1299.0L472.0 1297.5L472.5 1293.3L473.1 1300.5L473.6 1295.9L474.2 1291.5L474.7 1298.2L475.3 1311.6L475.8 1315.8L476.4 1323.2L476.9 1327.0L477.5 1310.7L478.0 1307.2L478.6 1300.8L479.1 1292.6L479.7 1297.9L480.2 1298.3L480.8 1296.4L481.3 1289.9L481.9 1298.9L482.4 1301.6L483.0 1301.7L483.5 1299.8L484.1 1305.4L484.6 1303.0L485.2 1302.5L485.7 1303.5L486.3 1303.6L486.8 1303.0L487.4 1305.4L487.9 1304.8L488.5 1303.4L489.0 1309.7L489.6 1307.3L490.1 1307.6L490.7 1304.9L491.2 1305.6L491.8 1306.0L492.3 1302.3L492.9 1299.7L493.4 1305.0L494.0 1303.2L494.5 1302.6L495.1 1309.6L495.6 1307.9L496.2 1307.1L496.7 1309.1L497.3 1309.0L497.8 1307.6L498.4 1307.5L498.9 1304.2L499.5 1307.8L500.0 1306.7L500.6 1308.5L501.1 1311.0L501.7 1305.9L502.2 1312.5L502.8 1309.0L503.3 1313.7L503.9 1314.3L504.4 1313.2L505.0 1313.1L505.5 1311.7L506.1 1308.2L506.6 1313.1L507.2 1312.0L507.7 1312.3L508.3 1313.1L508.8 1309.9L509.4 1314.7L509.9 1316.2L510.5 1316.4L511.0 1312.1L511.6 1311.0L512.1 1319.1L512.7 1315.9L513.2 1318.7L513.8 1321.2L514.3 1320.0L514.9 1315.0L515.4 1325.9L516.0 1318.5L516.5 1321.5L517.1 1316.6L517.6 1321.5L518.2 1318.0L518.7 1324.1L519.3 1325.9L519.8 1319.1L520.4 1318.2L520.9 1319.5L521.5 1321.2L522.0 1329.1L522.6 1329.6L523.1 1327.7L523.7 1323.6L524.2 1323.8L524.8 1325.3L525.3 1328.1L525.9 1325.6L526.4 1322.3L527.0 1326.1L527.5 1323.7L528.1 1327.3L528.6 1327.6L529.2 1324.3L529.7 1323.5L530.3 1321.8L530.8 1322.3L531.4 1321.7L531.9 1324.6L532.5 1324.5L533.0 1320.1L533.6 1319.4L534.1 1319.4L534.7 1317.6L535.2 1322.3L535.8 1316.6L536.3 1317.5L536.9 1318.3L537.4 1318.2L538.0 1313.4L538.5 1316.4L539.1 1318.8L539.6 1321.0L540.2 1325.6L540.7 1323.0L541.3 1327.5L541.8 1325.5L542.4 1328.2L542.9 1327.6L543.5 1327.7L544.0 1325.4L544.6 1329.3L545.1 1332.3L545.7 1323.8L546.2 1331.5L546.8 1333.1L547.3 1331.4L547.9 1333.8L548.4 1332.6L549.0 1331.9L549.5 1334.7L550.1 1332.8L550.6 1337.8L551.2 1338.6L551.7 1337.4L552.3 1338.8L552.8 1342.4L553.4 1337.1L553.9 1336.8L554.5 1337.8L555.0 1336.1L555.6 1344.8L556.1 1346.9L556.7 1343.0L557.2 1339.9L557.8 1341.4L558.3 1342.1L558.9 1336.4L559.4 1341.1L560.0 1342.9L560.5 1339.1L561.1 1342.6L561.6 1336.0L562.2 1340.6L562.7 1338.0L563.3 1342.4L563.8 1341.1L564.4 1345.6L564.9 1349.7L565.5 1344.9L566.0 1343.1L566.6 1341.0L567.1 1346.5L567.7 1344.5L568.2 1341.8L568.8 1346.2L569.3 1349.4L569.9 1345.1L570.4 1343.5L571.0 1343.7L571.5 1339.7L572.1 1337.1L572.6 1340.3L573.2 1336.3L573.7 1336.7L574.3 1334.6L574.8 1338.9L575.4 1339.0L575.9 1339.3L576.4 1340.1L577.0 1336.3L577.5 1344.2L578.1 1345.7L578.6 1342.9L579.2 1339.4L579.7 1337.4L580.3 1342.3L580.8 1344.3L581.4 1344.1L581.9 1347.8L582.5 1349.8L583.0 1344.8L583.6 1345.2L584.1 1349.8L584.7 1350.4L585.2 1346.7L585.8 1351.9L586.3 1354.0L586.9 1353.9L587.4 1356.6L588.0 1351.2L588.5 1357.0L589.1 1356.2L589.6 1355.0L590.2 1352.5L590.7 1353.1L591.3 1351.8L591.8 1352.7L592.4 1352.3L592.9 1353.5L593.5 1352.4L594.0 1359.2L594.6 1353.6L595.1 1359.0L595.7 1355.3L596.2 1353.6L596.8 1353.3L597.3 1354.0L597.9 1356.8L598.4 1355.2L599.0 1357.6L599.5 1353.9L600.1 1355.9L600.6 1358.0L601.2 1356.2L601.7 1356.3L602.3 1358.2L602.8 1357.6L603.4 1359.5L603.9 1358.8L604.5 1358.9L605.0 1358.5L605.6 1359.8L606.1 1356.5L606.7 1359.1L607.2 1360.9L607.8 1359.8L608.3 1354.7L608.9 1357.4L609.4 1357.3L610.0 1354.9L610.5 1358.9L611.1 1360.8L611.6 1364.2L612.2 1364.1L612.7 1359.9L613.3 1360.3L613.8 1360.8L614.4 1359.9L614.9 1362.1L615.5 1358.9L616.0 1357.5L616.6 1355.9L617.1 1361.6L617.7 1363.8L618.2 1360.5L618.8 1359.2L619.3 1362.5L619.9 1361.5L620.4 1364.0L621.0 1359.1L621.5 1362.3L622.1 1356.4L622.6 1365.5L623.2 1355.2L623.7 1360.3L624.3 1360.8L624.8 1361.6L625.4 1363.4L625.9 1364.5L626.5 1363.6L627.0 1362.8L627.6 1366.0L628.1 1364.4L628.7 1364.9L629.2 1367.0L629.8 1361.3L630.3 1363.9L630.9 1364.9L631.4 1366.3L632.0 1368.3L632.5 1364.5L633.1 1367.1L633.6 1367.6L634.2 1367.0L634.7 1372.1L635.3 1371.7L635.8 1362.3L636.4 1367.5L636.9 1366.7L637.5 1364.3L638.0 1366.8L638.6 1369.9L639.1 1365.5L639.7 1367.4L640.2 1371.3L640.8 1370.8L641.3 1369.6L641.9 1371.8L642.4 1368.2L643.0 1371.8L643.5 1371.8L644.1 1368.6L644.6 1365.6L645.2 1362.7L645.7 1366.1L646.3 1369.3L646.8 1368.4L647.4 1361.6L647.9 1367.7L648.5 1373.0L649.0 1368.6L649.6 1369.4L650.1 1365.6L650.7 1370.8L651.2 1370.3L651.8 1368.6L652.3 1370.1L652.9 1374.3L653.4 1375.3L654.0 1371.1L654.5 1379.5L655.1 1375.0L655.6 1378.1L656.2 1373.3L656.7 1373.4L657.3 1372.7L657.8 1376.8L658.4 1371.4L658.9 1372.5L659.5 1369.9L660.0 1371.0L660.6 1377.5L661.1 1373.7L661.7 1375.7L662.2 1369.2L662.8 1373.1L663.3 1370.7L663.9 1370.5L664.4 1374.2L665.0 1380.5L665.5 1379.8L666.1 1382.1L666.6 1378.9L667.2 1379.0L667.7 1375.8L668.3 1377.1L668.8 1372.5L669.4 1378.8L669.9 1371.9L670.5 1376.2L671.0 1373.2L671.6 1375.2L672.1 1378.0L672.7 1377.5L673.2 1377.5L673.8 1377.8L674.3 1376.1L674.9 1374.7L675.4 1379.3L676.0 1377.4L676.5 1377.2L677.1 1377.0L677.6 1380.0L678.2 1374.7L678.7 1380.0L679.3 1374.6L679.8 1373.3L680.4 1379.0L680.9 1374.2L681.5 1382.2L682.0 1374.8L682.6 1379.2L683.1 1376.4L683.7 1379.4L684.2 1380.4L684.8 1381.3L685.3 1380.5L685.9 1379.4L686.4 1379.7L687.0 1376.4L687.5 1374.6L688.1 1378.9L688.6 1374.7L689.2 1379.4L689.7 1380.6L690.3 1379.3L690.8 1381.2L691.4 1379.8L691.9 1381.1L692.5 1374.8L693.0 1379.9L693.6 1378.7L694.1 1377.9L694.7 1381.9L695.2 1379.3L695.8 1378.1L696.3 1379.6L696.9 1382.7L697.4 1383.1L698.0 1383.4L698.5 1383.3L699.1 1377.2L699.6 1384.7L700.2 1382.9L700.7 1388.0L701.3 1382.5L701.8 1383.2L702.4 1379.5L702.9 1384.5L703.5 1382.1L704.0 1385.6L704.6 1384.5L705.1 1381.9L705.7 1381.8L706.2 1377.5L706.8 1380.1L707.3 1380.8L707.9 1386.7L708.4 1380.8L709.0 1380.5L709.5 1383.2L710.1 1379.0L710.6 1380.9L711.2 1378.5L711.7 1377.5L712.3 1380.3L712.8 1378.0L713.4 1375.5L713.9 1371.1L714.5 1379.2L715.0 1386.2L715.6 1380.6L716.1 1379.6L716.7 1384.0L717.2 1383.7L717.8 1386.9L718.3 1385.9L718.9 1392.7L719.4 1387.1L720.0 1385.9L720.5 1390.0L721.1 1389.8L721.6 1386.1L722.2 1392.9L722.7 1387.0L723.3 1385.0L723.8 1385.6L724.4 1387.3L724.9 1388.5L725.5 1386.6L726.0 1391.4L726.6 1390.7L727.1 1381.7L727.7 1392.8L728.2 1393.3L728.8 1389.0L729.3 1395.3L729.9 1391.5L730.4 1391.9L731.0 1387.6L731.5 1384.8L732.1 1388.6L732.6 1384.5L733.2 1388.5L733.7 1388.6L734.3 1390.2L734.8 1391.3L735.4 1388.7L735.9 1392.3L736.5 1393.9L737.0 1390.3L737.6 1388.3L738.1 1383.1L738.7 1385.6L739.2 1386.6L739.8 1388.2L740.3 1388.0L740.9 1381.0L741.4 1384.6L742.0 1382.7L742.5 1386.0L743.1 1386.0L743.6 1384.0L744.2 1385.6L744.7 1380.8L745.3 1383.2L745.8 1383.2L746.4 1384.7L746.9 1381.6L747.5 1382.9L748.0 1390.9L748.6 1390.6L749.1 1390.4L749.7 1385.3L750.2 1387.2L750.8 1393.3L751.3 1391.4L751.9 1390.0L752.4 1385.7L753.0 1391.9L753.5 1394.2L754.1 1391.9L754.6 1384.8L755.2 1395.1L755.7 1393.7L756.3 1399.5L756.8 1394.8L757.4 1395.2L757.9 1392.0L758.5 1396.8L759.0 1388.8L759.6 1395.7L760.1 1386.8L760.7 1394.0L761.2 1395.6L761.8 1396.1L762.3 1398.8L762.9 1394.9L763.4 1399.9L764.0 1398.5L764.5 1398.9L765.1 1397.2L765.6 1394.3L766.2 1392.5L766.7 1393.8L767.3 1396.0L767.8 1390.5L768.4 1391.0L768.9 1391.2L769.5 1393.6L770.0 1393.7L770.6 1389.9L771.1 1394.1L771.7 1398.9L772.2 1390.8L772.8 1397.7L773.3 1395.8L773.9 1399.6L774.4 1387.8L775.0 1393.8L775.5 1394.9L776.1 1399.9L776.6 1397.4L777.2 1388.5L777.7 1393.5L778.3 1390.6L778.8 1390.9L779.4 1388.0L779.9 1390.8L780.5 1388.0L781.0 1387.7L781.6 1391.5L782.1 1393.3L782.7 1389.9L783.2 1392.0L783.8 1391.5L784.3 1389.3L784.9 1386.7L785.4 1391.6L786.0 1391.7L786.5 1384.9L787.1 1389.8L787.6 1388.5L788.2 1383.9L788.7 1388.5L789.3 1383.6L789.8 1386.0L790.4 1388.3L790.9 1385.2L791.5 1387.4L792.0 1392.6L792.6 1397.0L793.1 1392.2L793.7 1396.7L794.2 1389.8L794.8 1397.1L795.3 1398.4L795.9 1391.5L796.4 1392.5L797.0 1393.7L797.5 1394.7L798.1 1391.9L798.6 1385.9L799.2 1392.2L799.7 1390.5L800.3 1390.6L800.8 1392.0L801.4 1393.8L801.9 1391.4L802.5 1397.7L803.0 1390.7L803.6 1394.6L804.1 1397.7L804.7 1386.7L805.2 1392.0L805.8 1385.8L806.3 1393.3L806.9 1389.8L807.4 1389.6L808.0 1382.4L808.5 1385.5L809.1 1386.8L809.6 1389.6L810.2 1391.6L810.7 1391.9L811.3 1392.7L811.8 1387.7L812.4 1390.1L812.9 1387.4L813.5 1386.7L814.0 1389.8L814.6 1388.2L815.1 1393.9L815.7 1388.3L816.2 1394.1L816.8 1393.1L817.3 1389.9L817.9 1382.4L818.4 1385.8L819.0 1386.7L819.5 1386.1L820.1 1391.2L820.6 1390.7L821.2 1387.0L821.7 1389.4L822.3 1390.1L822.8 1390.7L823.4 1390.3L823.9 1395.5L824.5 1391.1L825.0 1388.9L825.6 1391.9L826.1 1392.0L826.7 1395.3L827.2 1399.7L827.8 1392.6L828.3 1394.7L828.9 1392.3L829.4 1394.1L830.0 1395.6L830.5 1395.1L831.1 1395.5L831.6 1392.2L832.2 1391.5L832.7 1391.2L833.3 1389.8L833.8 1386.1L834.4 1389.2L834.9 1396.7L835.5 1395.8L836.0 1395.3L836.6 1393.6L837.1 1391.7L837.7 1390.3L838.2 1397.7L838.8 1398.5L839.3 1393.2L839.9 1393.7L840.4 1392.8L841.0 1394.4L841.5 1394.0L842.1 1393.1L842.6 1396.4L843.2 1397.4L843.7 1395.5L844.3 1397.2L844.8 1395.3L845.4 1393.2L845.9 1392.2L846.5 1389.2L847.0 1391.1L847.6 1389.2L848.1 1390.8L848.7 1393.9L849.2 1394.2L849.8 1392.6L850.3 1396.6L850.9 1395.5L851.4 1401.2L852.0 1395.6L852.5 1392.9L853.1 1394.9L853.6 1389.9L854.2 1391.8L854.7 1389.8L855.3 1394.5L855.8 1392.0L856.4 1392.2L856.9 1388.1L857.5 1393.1L858.0 1387.7L858.6 1392.4L859.1 1395.4L859.7 1396.4L860.2 1398.6L860.8 1393.0L861.3 1389.8L861.9 1397.5L862.4 1394.0L863.0 1395.3L863.5 1390.5L864.1 1396.3L864.6 1395.4L865.2 1397.2L865.7 1394.1L866.3 1394.0L866.8 1387.8L867.4 1388.9L867.9 1396.3L868.5 1395.7L869.0 1393.1L869.6 1390.1L870.1 1389.1L870.7 1393.0L871.2 1388.6L871.8 1394.7L872.3 1391.4L872.9 1385.6L873.4 1385.9L874.0 1388.1L874.5 1388.4L875.1 1388.3L875.6 1395.1L876.2 1392.6L876.7 1396.4L877.3 1396.2L877.8 1393.4L878.4 1398.1L878.9 1394.1L879.5 1397.0L880.0 1397.3L880.6 1401.0L881.1 1396.4L881.7 1395.4L882.2 1395.4L882.8 1397.2L883.3 1391.7L883.9 1389.4L884.4 1392.6L885.0 1393.8L885.5 1395.5L886.1 1391.9L886.6 1395.7L887.2 1391.3L887.7 1386.8L888.3 1391.6L888.8 1389.5L889.4 1398.7L889.9 1393.2L890.5 1390.6L891.0 1394.3L891.6 1398.3L892.1 1394.8L892.7 1398.9L893.2 1391.7L893.8 1390.9L894.3 1392.2L894.9 1393.6L895.4 1390.1L896.0 1389.8L896.5 1390.9L897.1 1388.5L897.6 1390.5L898.2 1388.2L898.7 1388.2L899.3 1390.4L899.8 1391.9L900.4 1387.4L900.9 1389.4L901.5 1386.3L902.0 1386.8L902.6 1388.6L903.1 1393.7L903.7 1392.8L904.2 1386.6L904.8 1385.2L905.3 1388.0L905.9 1391.3L906.4 1385.1L907.0 1390.8L907.5 1387.5L908.1 1388.5L908.6 1388.8L909.2 1387.4L909.7 1386.8L910.3 1396.0L910.8 1388.8L911.4 1383.3L911.9 1384.2L912.5 1388.6L913.0 1383.3L913.6 1386.2L914.1 1383.0L914.7 1390.3L915.2 1385.7L915.8 1384.8L916.3 1388.2L916.9 1388.5L917.4 1396.1L918.0 1393.0L918.5 1394.4L919.1 1384.4L919.6 1389.0L920.2 1394.2L920.7 1400.6L921.3 1395.0L921.8 1400.3L922.4 1389.2L922.9 1394.1L923.5 1393.6L924.0 1392.8L924.6 1391.1L925.1 1389.2L925.7 1388.1L926.2 1390.7L926.8 1390.6L927.3 1389.0L927.9 1385.6L928.4 1385.8L929.0 1390.1L929.5 1392.8L930.1 1382.6L930.6 1391.4L931.2 1387.1L931.7 1389.6L932.3 1392.5L932.8 1394.2L933.4 1389.9L933.9 1394.7L934.5 1390.7L935.0 1389.3L935.6 1394.9L936.1 1393.9L936.7 1392.4L937.2 1393.0L937.8 1391.8L938.3 1392.4L938.9 1394.0L939.4 1391.6L940.0 1391.0L940.5 1386.6L941.1 1382.8L941.6 1387.7L942.2 1381.2L942.7 1382.9L943.3 1383.3L943.8 1388.6L944.4 1390.2L944.9 1384.4L945.5 1383.7L946.0 1384.5L946.6 1387.3L947.1 1384.1L947.7 1383.9L948.2 1387.2L948.8 1383.8L949.3 1389.9L949.9 1384.0L950.4 1386.5L951.0 1381.1L951.5 1388.6L952.1 1388.8L952.6 1388.3L953.2 1391.0L953.7 1389.5L954.3 1391.2L954.8 1390.4L955.4 1394.7L955.9 1391.0L956.5 1395.1L957.0 1388.4L957.6 1389.1L958.1 1390.8L958.7 1383.9L959.2 1387.7L959.8 1385.6L960.3 1382.6L960.9 1388.2L961.4 1383.9L962.0 1383.5L962.5 1387.2L963.1 1386.6L963.6 1387.7L964.2 1384.1L964.7 1380.1L965.3 1382.1L965.8 1385.0L966.4 1389.0L966.9 1379.4L967.5 1384.0L968.0 1383.9L968.6 1382.8L969.1 1383.3L969.7 1385.6L970.2 1388.4L970.8 1387.4L971.3 1384.0L971.9 1388.8L972.4 1382.5L973.0 1383.8L973.5 1391.2L974.1 1384.7L974.6 1387.3L975.2 1385.9L975.7 1381.9L976.3 1390.9L976.8 1385.7L977.4 1390.9L977.9 1388.0L978.5 1393.8L979.0 1389.5L979.6 1386.0L980.1 1381.7L980.7 1377.7L981.2 1383.2L981.8 1383.4L982.3 1379.1L982.9 1382.2L983.4 1387.2L984.0 1385.1L984.5 1386.8L985.1 1387.6L985.6 1385.1L986.2 1390.9L986.7 1390.8L987.3 1387.1L987.8 1393.6L988.4 1390.2L988.9 1387.8L989.5 1396.3L990.0 1389.9L990.6 1391.6L991.1 1391.5L991.7 1389.9L992.2 1385.3L992.8 1388.2L993.3 1392.5L993.9 1397.0L994.4 1393.1L995.0 1390.1L995.5 1388.8L996.1 1393.5L996.6 1389.6L997.2 1390.4L997.7 1396.0L998.3 1397.6L998.8 1397.0L999.4 1400.1L999.9 1394.6L1000.5 1395.9L1001.0 1397.7L1001.6 1386.7L1002.1 1390.9L1002.7 1393.7L1003.2 1395.3L1003.8 1388.9L1004.3 1393.8L1004.9 1393.9L1005.4 1391.9L1006.0 1392.4L1006.5 1391.0L1007.1 1393.0L1007.6 1391.3L1008.2 1389.2L1008.7 1390.0L1009.3 1389.9L1009.8 1388.4L1010.4 1387.7L1010.9 1390.5L1011.5 1387.7L1012.0 1385.9L1012.6 1383.1L1013.1 1389.1L1013.7 1389.6L1014.2 1386.9L1014.8 1391.8L1015.3 1389.3L1015.9 1388.3L1016.4 1389.2L1017.0 1392.2L1017.5 1389.3L1018.1 1394.6L1018.6 1398.4L1019.2 1398.5L1019.7 1396.8L1020.3 1395.6L1020.8 1397.9L1021.4 1397.7L1021.9 1400.1L1022.5 1396.2L1023.0 1391.0L1023.6 1392.3L1024.1 1387.6L1024.7 1393.0L1025.2 1390.9L1025.8 1396.1L1026.3 1391.6L1026.9 1388.8L1027.4 1392.2L1028.0 1390.2L1028.5 1396.2L1029.1 1397.5L1029.6 1391.5L1030.2 1389.9L1030.7 1389.2L1031.3 1392.2L1031.8 1396.9L1032.4 1397.8L1032.9 1397.5L1033.5 1394.0L1034.0 1394.3L1034.6 1392.1L1035.1 1389.6L1035.7 1392.6L1036.2 1390.8L1036.8 1391.0L1037.3 1391.3L1037.9 1389.0L1038.4 1391.6L1039.0 1390.7L1039.5 1394.4L1040.1 1396.1L1040.6 1392.6L1041.2 1397.6L1041.7 1395.0L1042.3 1393.5L1042.8 1398.9L1043.4 1398.1L1043.9 1396.7L1044.5 1397.8L1045.0 1398.5L1045.6 1391.3L1046.1 1397.8L1046.7 1392.7L1047.2 1391.3L1047.8 1397.1L1048.3 1399.0L1048.9 1398.1L1049.4 1395.5L1050.0 1390.2L1050.5 1389.8L1051.1 1398.2L1051.6 1398.6L1052.2 1397.9L1052.7 1397.2L1053.3 1399.5L1053.8 1397.5L1054.4 1399.9L1054.9 1402.1L1055.5 1401.9L1056.0 1404.3L1056.6 1402.5L1057.1 1398.8L1057.7 1402.8L1058.2 1398.4L1058.8 1398.1L1059.3 1396.2L1059.9 1397.5L1060.4 1397.0L1061.0 1399.3L1061.5 1397.9L1062.1 1399.0L1062.6 1397.7L1063.2 1395.5L1063.7 1397.9L1064.3 1392.2L1064.8 1390.4L1065.4 1398.8L1065.9 1395.4L1066.5 1406.4L1067.0 1396.9L1067.6 1402.4L1068.1 1401.9L1068.7 1397.5L1069.2 1402.9L1069.8 1395.3L1070.3 1403.2L1070.9 1399.9L1071.4 1399.7L1072.0 1398.2L1072.5 1401.6L1073.1 1402.0L1073.6 1397.2L1074.2 1404.6L1074.7 1400.4L1075.3 1401.1L1075.8 1400.1L1076.4 1401.0L1076.9 1402.5L1077.5 1408.7L1078.0 1400.5L1078.6 1399.3L1079.1 1399.0L1079.7 1397.0L1080.2 1401.1L1080.8 1400.5L1081.3 1396.9L1081.9 1398.3L1082.4 1394.7L1083.0 1404.7L1083.5 1402.5L1084.1 1402.0L1084.6 1398.1L1085.2 1394.0L1085.7 1401.0L1086.3 1403.2L1086.8 1400.6L1087.4 1399.4L1087.9 1401.4L1088.5 1400.3L1089.0 1401.7L1089.6 1402.5L1090.1 1401.0L1090.7 1396.6L1091.2 1400.4L1091.8 1395.4L1092.3 1399.0L1092.9 1396.3L1093.4 1391.7L1094.0 1401.7L1094.5 1395.4L1095.1 1400.3L1095.6 1403.8L1096.2 1399.1L1096.7 1401.2L1097.3 1397.3L1097.8 1402.8L1098.4 1405.5L1098.9 1400.3L1099.5 1401.5L1100.0 1397.9L1100.6 1397.5L1101.1 1398.8L1101.7 1399.8L1102.2 1398.5L1102.8 1403.5L1103.3 1397.6L1103.9 1400.3L1104.4 1401.9L1105.0 1399.8L1105.5 1400.0L1106.1 1404.0L1106.6 1403.1L1107.2 1409.5L1107.7 1411.0L1108.3 1407.6L1108.8 1408.5L1109.4 1414.2L1109.9 1411.4L1110.5 1407.5L1111.0 1409.4L1111.6 1412.3L1112.1 1408.3L1112.7 1413.7L1113.2 1412.6L1113.8 1415.0L1114.3 1413.3L1114.9 1416.1L1115.4 1412.3L1116.0 1416.6L1116.5 1418.8L1117.1 1417.3L1117.6 1420.8L1118.2 1417.8L1118.7 1411.7L1119.3 1416.3L1119.8 1409.3L1120.4 1412.2L1120.9 1413.5L1121.5 1410.9L1122.0 1410.4L1122.6 1412.5L1123.1 1413.1L1123.7 1417.8L1124.2 1411.0L1124.8 1409.9L1125.3 1411.6L1125.9 1415.6L1126.4 1414.1L1127.0 1413.4L1127.5 1411.9L1128.1 1408.6L1128.6 1406.7L1129.2 1411.6L1129.7 1411.9L1130.3 1415.1L1130.8 1413.0L1131.4 1414.2L1131.9 1417.5L1132.5 1414.6L1133.0 1419.1L1133.6 1420.3L1134.1 1416.4L1134.7 1416.6L1135.2 1414.4L1135.8 1413.0L1136.3 1408.6L1136.9 1413.2L1137.4 1413.3L1138.0 1410.4L1138.5 1415.9L1139.1 1413.2L1139.6 1416.8L1140.2 1418.7L1140.7 1415.8L1141.3 1411.2L1141.8 1419.1L1142.4 1419.5L1142.9 1418.9L1143.5 1418.0L1144.0 1419.2L1144.6 1418.8L1145.1 1418.4L1145.7 1419.3L1146.2 1416.7L1146.8 1415.8L1147.3 1413.5L1147.9 1410.6L1148.4 1410.4L1149.0 1416.8L1149.5 1417.7L1150.1 1418.2L1150.6 1418.1L1151.2 1415.2L1151.7 1414.5L1152.3 1415.0L1152.8 1420.8L1153.4 1426.3L1153.9 1425.1L1154.5 1420.7L1155.0 1420.4L1155.6 1421.0L1156.1 1420.2L1156.7 1418.5L1157.2 1421.6L1157.8 1417.5L1158.3 1423.6L1158.9 1421.9L1159.4 1429.2L1160.0 1425.7L1160.5 1420.9L1161.1 1425.4L1161.6 1427.3L1162.2 1431.4L1162.7 1425.7L1163.3 1429.4L1163.8 1430.8L1164.4 1421.8L1164.9 1425.0L1165.5 1422.6L1166.0 1420.8L1166.6 1417.6L1167.1 1418.7L1167.7 1422.1L1168.2 1421.9L1168.8 1424.5L1169.3 1424.6L1169.9 1427.9L1170.4 1427.7L1171.0 1429.9L1171.5 1425.8L1172.1 1428.9L1172.6 1430.8L1173.2 1434.1L1173.7 1428.6L1174.3 1431.7L1174.8 1425.3L1175.4 1431.0L1175.9 1429.1L1176.5 1425.1L1177.0 1423.0L1177.6 1420.7L1178.1 1425.1L1178.7 1426.8L1179.2 1426.0L1179.8 1429.1L1180.3 1424.7L1180.9 1434.1L1181.4 1427.8L1182.0 1431.7L1182.5 1432.8L1183.1 1430.9L1183.6 1431.0L1184.2 1435.7L1184.7 1432.0L1185.3 1431.0L1185.8 1430.3L1186.4 1428.7L1186.9 1427.4L1187.5 1424.4L1188.0 1425.3L1188.6 1426.4L1189.1 1427.7L1189.7 1426.9L1190.2 1426.6L1190.8 1426.5L1191.3 1427.6L1191.9 1427.9L1192.4 1425.4L1193.0 1427.4L1193.5 1424.6L1194.1 1424.2L1194.6 1429.0L1195.2 1428.1L1195.7 1427.8L1196.3 1424.9L1196.8 1426.1L1197.4 1423.8L1197.9 1421.5L1198.5 1428.6L1199.0 1429.7L1199.6 1430.1L1200.1 1433.2L1200.7 1427.5L1201.2 1431.7L1201.8 1428.8L1202.3 1423.4L1202.9 1427.6L1203.4 1434.6L1204.0 1431.7L1204.5 1433.5L1205.1 1437.4L1205.6 1437.1L1206.2 1434.9L1206.7 1441.9L1207.3 1442.8L1207.8 1441.1L1208.4 1438.9L1208.9 1436.2L1209.5 1436.4L1210.0 1438.4L1210.6 1442.7L1211.1 1438.5L1211.7 1434.4L1212.2 1437.4L1212.8 1438.3L1213.3 1442.9L1213.9 1438.0L1214.4 1440.5L1215.0 1433.5L1215.5 1440.0L1216.1 1441.8L1216.6 1439.1L1217.2 1436.8L1217.7 1439.4L1218.3 1435.9L1218.8 1438.9L1219.4 1444.5L1219.9 1440.8L1220.5 1441.5L1221.0 1443.3L1221.6 1442.7L1222.1 1444.7L1222.7 1438.7L1223.2 1442.9L1223.8 1447.4L1224.3 1441.4L1224.9 1442.6L1225.4 1437.5L1226.0 1437.8L1226.5 1438.9L1227.1 1439.5L1227.6 1439.6L1228.2 1445.6L1228.7 1438.3L1229.3 1441.5L1229.8 1441.3L1230.4 1442.3L1230.9 1440.0L1231.5 1438.4L1232.0 1445.1L1232.6 1438.7L1233.1 1438.5L1233.7 1440.8L1234.2 1439.0L1234.8 1432.7L1235.3 1434.1L1235.9 1433.0L1236.4 1434.3L1237.0 1441.9L1237.5 1437.1L1238.1 1438.8L1238.6 1441.9L1239.2 1439.7L1239.7 1445.2L1240.3 1443.4L1240.8 1448.6L1241.4 1447.9L1241.9 1450.7L1242.5 1453.2L1243.0 1446.0L1243.6 1443.0L1244.1 1446.2L1244.7 1448.1L1245.2 1444.6L1245.8 1446.2L1246.3 1444.3L1246.9 1442.0L1247.4 1446.2L1248.0 1443.7L1248.5 1439.2L1249.1 1439.3L1249.6 1441.2L1250.2 1436.9L1250.7 1437.5L1251.3 1440.3L1251.8 1445.4L1252.4 1439.6L1252.9 1448.0L1253.5 1452.5L1254.0 1444.5L1254.6 1455.9L1255.1 1448.2L1255.7 1449.7L1256.2 1454.0L1256.8 1453.4L1257.3 1453.6L1257.9 1452.2L1258.4 1448.2L1259.0 1451.5L1259.5 1459.8L1260.1 1457.7L1260.6 1456.1L1261.2 1455.0L1261.7 1450.6L1262.3 1456.6L1262.8 1461.4L1263.4 1455.7L1263.9 1457.2L1264.5 1454.9L1265.0 1449.3L1265.6 1448.4L1266.1 1444.5L1266.7 1451.5L1267.2 1444.1L1267.8 1443.9L1268.3 1449.6L1268.9 1446.4L1269.4 1443.6L1270.0 1448.0L1270.5 1440.0L1271.1 1447.0L1271.6 1448.8L1272.2 1443.5L1272.7 1447.3L1273.3 1450.2L1273.8 1449.1L1274.4 1446.7L1274.9 1448.9L1275.5 1447.9L1276.0 1442.6L1276.6 1447.0L1277.1 1446.5L1277.7 1445.1L1278.2 1441.0L1278.8 1444.2L1279.3 1455.8L1279.9 1450.2L1280.4 1452.3L1281.0 1454.0L1281.5 1452.0L1282.1 1456.3L1282.6 1454.7L1283.2 1454.0L1283.7 1451.4L1284.3 1448.3L1284.8 1448.6L1285.4 1447.5L1285.9 1451.2L1286.5 1449.3L1287.0 1446.6L1287.6 1443.7L1288.1 1437.5L1288.7 1442.6L1289.2 1449.1L1289.8 1449.5L1290.3 1451.3L1290.9 1448.8L1291.4 1456.7L1292.0 1449.0L1292.5 1454.4L1293.1 1454.8L1293.6 1451.0L1294.2 1452.5L1294.7 1458.1L1295.3 1450.6L1295.8 1457.5L1296.4 1456.0L1296.9 1449.2L1297.5 1447.1L1298.0 1455.5L1298.6 1457.4L1299.1 1459.4L1299.7 1450.5L1300.2 1450.9L1300.8 1447.4L1301.3 1450.7L1301.9 1453.1L1302.4 1448.6L1303.0 1453.7L1303.5 1452.3L1304.1 1452.3L1304.6 1451.8L1305.2 1460.3L1305.7 1460.2L1306.3 1458.8L1306.8 1464.2L1307.4 1463.4L1307.9 1464.4L1308.5 1457.9L1309.0 1460.1L1309.6 1461.4L1310.1 1456.2L1310.7 1459.4L1311.2 1457.0L1311.8 1457.7L1312.3 1455.9L1312.9 1451.9L1313.4 1454.3L1314.0 1460.2L1314.5 1454.8L1315.1 1451.9L1315.6 1457.6L1316.2 1454.9L1316.7 1453.3L1317.3 1455.6L1317.8 1450.5L1318.4 1452.3L1318.9 1453.9L1319.5 1458.6L1320.0 1456.2L1320.6 1460.7L1321.1 1464.3L1321.7 1458.7L1322.2 1464.9L1322.8 1464.0L1323.3 1464.4L1323.9 1447.1L1324.4 1457.9L1325.0 1447.4L1325.5 1445.3L1326.1 1449.6L1326.6 1446.1L1327.2 1455.7L1327.7 1459.4L1328.3 1457.4L1328.8 1455.2L1329.4 1452.0L1329.9 1449.9L1330.5 1449.1L1331.0 1454.6L1331.6 1448.6L1332.1 1441.2L1332.7 1444.7L1333.2 1451.0L1333.8 1449.1L1334.3 1442.7L1334.9 1439.6L1335.4 1438.1L1336.0 1441.0L1336.5 1448.0L1337.1 1444.8L1337.6 1454.8L1338.2 1447.2L1338.7 1456.2L1339.3 1453.5L1339.8 1454.4L1340.4 1453.9L1340.9 1450.7L1341.5 1445.2L1342.0 1444.6L1342.6 1444.6L1343.1 1445.0L1343.7 1451.7L1344.2 1435.6L1344.8 1436.7L1345.3 1438.7L1345.9 1444.1L1346.4 1436.4L1347.0 1454.7L1347.5 1449.5L1348.1 1453.8L1348.6 1454.2L1349.2 1457.1L1349.7 1450.4L1350.3 1451.9L1350.8 1450.3L1351.4 1449.6L1351.9 1447.4L1352.5 1458.1L1353.0 1450.3L1353.6 1456.2L1354.1 1462.0L1354.7 1458.4L1355.2 1456.0L1355.8 1454.5L1356.3 1446.4L1356.9 1456.8L1357.4 1460.4L1358.0 1459.4L1358.5 1455.7L1359.1 1462.6L1359.6 1456.9L1360.2 1459.6L1360.7 1453.9L1361.3 1449.1L1361.8 1459.7L1362.4 1448.1L1362.9 1443.2L1363.5 1451.7L1364.0 1448.7L1364.6 1452.5L1365.1 1449.7L1365.7 1445.4L1366.2 1443.0L1366.8 1441.6L1367.3 1460.1L1367.9 1446.9L1368.4 1454.6L1369.0 1447.9L1369.5 1454.1L1370.1 1454.7L1370.6 1446.8L1371.2 1441.4L1371.7 1440.3L1372.3 1445.4L1372.8 1461.0L1373.4 1455.6L1373.9 1453.4L1374.5 1458.1L1375.0 1452.4L1375.6 1454.3L1376.1 1455.0L1376.7 1457.8L1377.2 1456.4L1377.8 1455.1L1378.3 1458.9L1378.9 1465.0L1379.4 1459.4L1380.0 1459.2L1380.5 1465.7L1381.1 1458.3L1381.6 1458.5L1382.2 1461.4L1382.7 1454.1L1383.3 1460.8L1383.8 1447.6L1384.4 1453.7L1384.9 1456.7L1385.5 1454.6L1386.0 1460.9L1386.6 1458.7L1387.1 1463.0L1387.7 1463.3L1388.2 1455.7L1388.8 1466.4L1389.3 1464.3L1389.9 1461.8L1390.4 1450.6L1391.0 1454.9L1391.5 1455.8L1392.1 1462.7L1392.6 1464.7L1393.2 1467.2L1393.7 1455.9L1394.3 1454.3L1394.8 1451.3L1395.4 1455.7L1395.9 1443.6L1396.5 1447.3L1397.0 1447.8L1397.6 1449.7L1398.1 1449.6L1398.7 1448.2L1399.2 1445.7L1399.8 1449.3L1400.3 1443.5L1400.9 1441.8L1401.4 1442.3L1402.0 1453.3L1402.5 1454.1L1403.1 1452.4L1403.6 1451.3L1404.2 1451.2L1404.7 1455.0L1405.3 1460.1L1405.8 1459.7L1406.4 1464.5L1406.9 1461.1L1407.5 1459.6L1408.0 1467.5L1408.6 1456.9L1409.1 1453.7L1409.7 1448.2L1410.2 1453.1L1410.8 1457.5L1411.3 1447.9L1411.9 1444.4L1412.4 1443.7L1413.0 1445.3L1413.5 1447.5L1414.1 1451.1L1414.6 1450.6L1415.2 1456.7L1415.7 1450.8L1416.3 1447.2L1416.8 1445.7L1417.4 1452.3L1417.9 1439.3L1418.5 1449.9L1419.0 1445.9L1419.6 1437.2L1420.1 1436.5L1420.7 1432.9L1421.2 1443.0L1421.8 1438.6L1422.3 1440.4L1422.9 1440.2L1423.4 1443.4L1424.0 1448.0L1424.5 1445.5L1425.1 1446.8L1425.6 1450.5L1426.2 1460.2L1426.7 1462.1L1427.3 1461.5L1427.8 1458.3L1428.4 1469.4L1428.9 1468.4L1429.5 1464.0L1430.0 1472.0L1430.6 1473.8L1431.1 1480.3L1431.7 1475.2L1432.2 1477.6L1432.8 1464.3L1433.3 1465.2L1433.9 1467.0L1434.4 1448.2L1435.0 1449.3L1435.5 1452.5L1436.1 1461.6L1436.6 1447.3L1437.2 1450.4L1437.7 1450.1L1438.3 1452.3L1438.8 1452.8L1439.4 1455.1L1439.9 1453.9L1440.5 1459.6L1441.0 1454.1L1441.6 1468.4L1442.1 1466.8L1442.7 1467.6L1443.2 1453.7L1443.8 1450.7L1444.3 1450.1L1444.9 1446.5L1445.4 1447.7L1446.0 1451.7L1446.5 1450.1L1447.1 1444.2L1447.6 1439.7L1448.2 1439.8L1448.7 1446.2L1449.3 1445.5L1449.8 1446.5L1450.4 1443.5L1450.9 1442.1L1451.5 1442.5L1452.0 1438.6L1452.6 1447.8L1453.1 1448.2L1453.7 1442.8L1454.2 1438.1L1454.8 1443.1L1455.3 1437.4L1455.9 1432.1L1456.4 1434.4L1457.0 1438.3L1457.5 1431.7L1458.1 1431.0L1458.6 1435.0L1459.2 1436.5L1459.7 1436.5L1460.3 1438.7L1460.8 1436.5L1461.4 1444.1L1461.9 1442.8L1462.5 1440.1L1463.0 1436.7L1463.6 1437.7L1464.1 1442.9L1464.7 1442.2L1465.2 1442.2L1465.8 1438.3L1466.3 1446.1L1466.9 1445.8L1467.4 1445.0L1468.0 1441.3L1468.5 1447.7L1469.1 1441.7L1469.6 1442.0L1470.2 1446.6L1470.7 1441.1L1471.3 1437.1L1471.8 1442.3L1472.4 1439.6L1472.9 1445.7L1473.5 1442.1L1474.0 1444.4L1474.6 1442.7L1475.1 1441.8L1475.7 1439.4L1476.2 1438.6L1476.8 1438.6L1477.3 1434.6L1477.9 1435.1L1478.4 1432.3L1479.0 1429.1L1479.5 1423.2L1480.1 1420.2L1480.6 1428.2L1481.2 1426.5L1481.7 1426.6L1482.3 1422.5L1482.8 1423.8L1483.4 1425.5L1483.9 1419.7L1484.5 1421.9L1485.0 1422.6L1485.6 1425.7L1486.1 1422.4L1486.7 1429.0L1487.2 1426.3L1487.8 1436.8L1488.3 1434.5L1488.9 1430.8L1489.4 1431.6L1490.0 1430.7L1490.5 1425.4L1491.1 1434.3L1491.6 1427.9L1492.2 1427.4L1492.7 1427.1L1493.3 1424.3L1493.8 1430.7L1494.4 1425.7L1494.9 1433.6L1495.5 1435.8L1496.0 1427.7L1496.6 1432.3L1497.1 1429.8L1497.7 1432.9L1498.2 1430.7L1498.8 1433.9L1499.3 1430.3L1499.9 1431.8L1500.4 1432.5L1501.0 1435.0L1501.5 1433.0L1502.1 1437.4L1502.6 1431.9L1503.2 1438.2L1503.7 1437.7L1504.3 1436.6L1504.8 1432.5L1505.4 1433.0L1505.9 1431.1L1506.5 1429.8L1507.0 1424.2L1507.6 1421.3L1508.1 1429.2L1508.7 1424.2L1509.2 1428.6L1509.8 1420.8L1510.3 1421.3L1510.9 1421.7L1511.4 1420.4L1512.0 1425.1L1512.5 1424.7L1513.1 1420.2L1513.6 1425.4L1514.2 1419.7L1514.7 1423.5L1515.3 1426.5L1515.8 1427.2L1516.4 1423.6L1516.9 1423.0L1517.5 1425.5L1518.0 1421.4L1518.6 1426.2L1519.1 1423.0L1519.7 1424.7L1520.2 1421.9L1520.8 1417.9L1521.3 1422.7L1521.9 1423.5L1522.4 1423.4L1523.0 1416.1L1523.5 1415.9L1524.1 1419.7L1524.6 1420.8L1525.2 1418.0L1525.7 1420.2L1526.3 1416.5L1526.8 1419.0L1527.4 1418.9L1527.9 1419.8L1528.5 1424.5L1529.0 1421.3L1529.6 1421.9L1530.1 1419.4L1530.7 1421.9L1531.2 1419.8L1531.8 1423.3L1532.3 1423.5L1532.9 1421.1L1533.4 1424.6L1534.0 1423.1L1534.5 1423.0L1535.1 1419.9L1535.6 1418.9L1536.2 1419.8L1536.7 1420.9L1537.3 1419.1L1537.8 1418.0L1538.4 1416.6L1538.9 1423.2L1539.5 1422.7L1540.0 1416.3L1540.6 1417.4L1541.1 1413.3L1541.7 1410.2L1542.2 1415.2L1542.8 1415.8L1543.3 1409.7L1543.9 1410.7L1544.4 1409.9L1545.0 1413.4L1545.5 1409.7L1546.1 1407.9L1546.6 1408.1L1547.2 1407.7L1547.7 1412.0L1548.3 1409.0L1548.8 1409.7L1549.4 1410.2L1549.9 1407.3L1550.5 1407.7L1551.0 1403.4L1551.6 1406.6L1552.1 1403.6L1552.7 1407.9L1553.2 1406.0L1553.8 1408.1L1554.3 1411.1L1554.9 1404.1L1555.4 1404.5L1556.0 1406.1L1556.5 1408.1L1557.1 1411.8L1557.6 1409.3L1558.2 1410.4L1558.7 1411.8L1559.3 1411.4L1559.8 1410.8L1560.4 1411.2L1560.9 1409.0L1561.5 1408.7L1562.0 1407.1L1562.6 1407.9L1563.1 1402.6L1563.7 1402.1L1564.2 1406.7L1564.8 1408.3L1565.3 1407.9L1565.9 1402.5L1566.4 1404.8L1567.0 1401.6L1567.5 1398.4L1568.1 1398.9L1568.6 1397.9L1569.2 1399.2L1569.7 1402.8L1570.3 1402.5L1570.8 1398.8L1571.4 1402.3L1571.9 1399.2L1572.5 1396.6L1573.0 1389.2L1573.6 1398.5L1574.1 1393.1L1574.7 1393.3L1575.2 1396.4L1575.8 1395.6L1576.3 1389.2L1576.9 1393.5L1577.4 1395.4L1578.0 1390.7L1578.5 1397.9L1579.1 1394.7L1579.6 1391.3L1580.2 1393.8L1580.7 1394.8L1581.3 1390.5L1581.8 1394.3L1582.4 1392.4L1582.9 1394.7L1583.5 1390.0L1584.0 1393.8L1584.6 1395.1L1585.1 1395.7L1585.7 1391.6L1586.2 1393.2L1586.8 1387.1L1587.3 1393.8L1587.9 1392.7L1588.4 1388.8L1589.0 1393.1L1589.5 1388.6L1590.1 1392.8L1590.6 1390.4L1591.2 1393.6L1591.7 1391.8L1592.3 1394.3L1592.8 1388.9L1593.4 1390.0L1593.9 1393.3L1594.5 1388.7L1595.0 1391.2L1595.6 1389.2L1596.1 1388.7L1596.7 1380.6L1597.2 1378.7L1597.8 1386.1L1598.3 1385.0L1598.9 1378.3L1599.4 1380.6L1600.0 1386.1L1600.5 1387.0L1601.1 1388.7L1601.6 1384.8L1602.2 1383.8L1602.7 1386.4L1603.3 1387.0L1603.8 1383.6L1604.4 1382.6L1604.9 1381.9L1605.5 1383.7L1606.0 1377.8L1606.6 1378.9L1607.1 1380.1L1607.7 1376.3L1608.2 1379.9L1608.8 1377.7L1609.3 1374.6L1609.9 1371.9L1610.4 1374.1L1611.0 1371.1L1611.5 1371.7L1612.1 1373.2L1612.6 1375.0L1613.2 1373.8L1613.7 1374.7L1614.3 1371.5L1614.8 1374.1L1615.4 1376.8L1615.9 1371.6L1616.5 1369.5L1617.0 1373.5L1617.6 1374.3L1618.1 1373.6L1618.7 1378.6L1619.2 1376.9L1619.8 1379.6L1620.3 1377.8L1620.9 1377.2L1621.4 1377.0L1622.0 1373.9L1622.5 1378.1L1623.1 1375.7L1623.6 1378.5L1624.2 1373.7L1624.7 1375.3L1625.3 1381.0L1625.8 1372.8L1626.4 1378.9L1626.9 1369.6L1627.5 1371.6L1628.0 1371.6L1628.6 1368.9L1629.1 1369.1L1629.7 1368.8L1630.2 1370.4L1630.8 1369.6L1631.3 1367.6L1631.9 1366.5L1632.4 1367.9L1633.0 1367.5L1633.5 1370.4L1634.1 1366.6L1634.6 1364.6L1635.2 1365.6L1635.7 1359.9L1636.3 1361.0L1636.8 1361.1L1637.4 1363.0L1637.9 1359.1L1638.5 1356.3L1639.0 1366.0L1639.6 1362.9L1640.1 1359.8L1640.7 1360.3L1641.2 1363.5L1641.8 1354.6L1642.3 1362.7L1642.9 1358.9L1643.4 1363.8L1644.0 1359.1L1644.5 1363.1L1645.1 1359.5L1645.6 1355.7L1646.2 1356.2L1646.7 1348.9L1647.3 1355.3L1647.8 1355.2L1648.4 1345.5L1648.9 1352.8L1649.5 1356.7L1650.0 1355.5L1650.6 1355.8L1651.1 1359.6L1651.7 1356.2L1652.2 1357.4L1652.8 1358.1L1653.3 1349.8L1653.9 1352.1L1654.4 1347.3L1655.0 1348.2L1655.5 1347.9L1656.1 1347.0L1656.6 1344.9L1657.2 1348.2L1657.7 1349.0L1658.3 1348.6L1658.8 1344.3L1659.4 1343.8L1659.9 1344.6L1660.5 1347.1L1661.0 1341.2L1661.6 1345.5L1662.1 1344.1L1662.7 1348.9L1663.2 1346.5L1663.8 1348.4L1664.3 1345.6L1664.9 1342.1L1665.4 1343.4L1666.0 1345.5L1666.5 1342.0L1667.1 1340.1L1667.6 1343.8L1668.2 1345.8L1668.7 1337.9L1669.3 1340.3L1669.8 1341.3L1670.4 1341.3L1670.9 1335.4L1671.5 1337.4L1672.0 1334.0L1672.6 1332.4L1673.1 1334.8L1673.7 1337.6L1674.2 1333.0L1674.8 1334.1L1675.3 1330.8L1675.9 1330.6L1676.4 1334.1L1677.0 1336.3L1677.5 1333.9L1678.1 1327.8L1678.6 1325.5L1679.2 1327.6L1679.7 1329.1L1680.3 1328.8L1680.8 1330.4L1681.4 1330.9L1681.9 1329.8L1682.5 1335.9L1683.0 1334.5L1683.6 1336.2L1684.1 1334.0L1684.7 1337.7L1685.2 1336.4L1685.8 1335.4L1686.3 1329.8L1686.9 1334.1L1687.4 1332.4L1688.0 1332.4L1688.5 1327.7L1689.1 1329.0L1689.6 1327.1L1690.2 1322.1L1690.7 1325.6L1691.3 1331.0L1691.8 1326.6L1692.4 1326.9L1692.9 1327.1L1693.5 1328.0L1694.0 1329.6L1694.6 1322.8L1695.1 1325.6L1695.7 1327.6L1696.2 1321.4L1696.8 1327.7L1697.3 1323.5L1697.9 1321.8L1698.4 1318.0L1699.0 1321.1L1699.5 1325.2L1700.1 1322.6L1700.6 1321.6L1701.2 1325.7L1701.7 1319.3L1702.3 1328.1L1702.8 1327.8L1703.4 1322.7L1703.9 1318.5L1704.5 1320.8L1705.0 1321.2L1705.6 1318.5L1706.1 1319.5L1706.7 1319.0L1707.2 1311.7L1707.8 1319.2L1708.3 1315.6L1708.9 1313.2L1709.4 1314.6L1710.0 1316.9L1710.5 1314.4L1711.1 1316.3L1711.6 1315.9L1712.2 1311.6L1712.7 1310.1L1713.3 1308.5L1713.8 1314.6L1714.4 1312.3L1714.9 1306.8L1715.5 1308.0L1716.0 1304.0L1716.6 1308.9L1717.1 1312.9L1717.7 1307.3L1718.2 1305.7L1718.8 1307.4L1719.3 1300.0L1719.9 1298.0L1720.4 1294.3L1721.0 1302.2L1721.5 1298.9L1722.1 1296.3L1722.6 1298.9L1723.2 1299.2L1723.7 1297.8L1724.3 1292.0L1724.8 1296.4L1725.4 1297.1L1725.9 1296.8L1726.5 1291.7L1727.0 1290.4L1727.6 1296.2L1728.1 1291.3L1728.7 1290.5L1729.2 1287.1L1729.8 1293.8L1730.3 1296.7L1730.9 1291.7L1731.4 1293.1L1732.0 1290.6L1732.5 1297.8L1733.1 1297.9L1733.6 1293.1L1734.2 1293.1L1734.7 1295.5L1735.3 1294.3L1735.8 1289.7L1736.4 1284.7L1736.9 1287.8L1737.5 1284.2L1738.0 1293.3L1738.6 1289.0L1739.1 1283.2L1739.7 1283.4L1740.2 1283.9L1740.8 1287.6L1741.3 1285.1L1741.9 1276.9L1742.4 1278.1L1743.0 1279.0L1743.5 1281.5L1744.1 1291.3L1744.6 1283.5L1745.2 1283.1L1745.7 1282.3L1746.3 1278.4L1746.8 1282.8L1747.4 1285.4L1747.9 1281.6L1748.5 1281.4L1749.0 1280.1L1749.6 1283.3L1750.1 1284.6L1750.7 1280.5L1751.2 1278.1L1751.8 1282.1L1752.3 1278.5L1752.9 1274.5L1753.4 1280.4L1754.0 1281.2L1754.5 1286.3L1755.1 1284.0L1755.6 1278.7L1756.2 1277.8L1756.7 1273.3L1757.3 1272.1L1757.8 1274.7L1758.4 1275.8L1758.9 1279.9L1759.5 1276.1L1760.0 1278.5L1760.6 1276.8L1761.1 1277.3L1761.7 1280.9L1762.2 1277.7L1762.8 1282.6L1763.3 1276.9L1763.9 1281.6L1764.4 1279.9L1765.0 1280.1L1765.5 1281.8L1766.1 1274.4L1766.6 1274.0L1767.2 1274.9L1767.7 1276.5L1768.3 1276.4L1768.8 1274.0L1769.4 1270.8L1769.9 1274.1L1770.5 1267.5L1771.0 1266.3L1771.6 1276.2L1772.1 1272.7L1772.7 1270.7L1773.2 1275.2L1773.8 1272.4L1774.3 1267.6L1774.9 1268.2L1775.4 1263.8L1776.0 1262.9L1776.5 1271.1L1777.1 1265.9L1777.6 1268.8L1778.2 1269.2L1778.7 1270.0L1779.3 1265.7L1779.8 1266.4L1780.4 1269.1L1780.9 1265.7L1781.5 1265.5L1782.0 1267.8L1782.6 1267.8L1783.1 1266.5L1783.7 1264.4L1784.2 1261.7L1784.8 1259.0L1785.3 1264.3L1785.9 1265.0L1786.4 1262.2L1787.0 1254.1L1787.5 1263.5L1788.1 1261.1L1788.6 1260.3L1789.2 1257.0L1789.7 1260.5L1790.3 1256.1L1790.8 1258.4L1791.4 1253.1L1791.9 1259.7L1792.5 1258.1L1793.0 1253.5L1793.6 1253.6L1794.1 1256.0L1794.7 1254.1L1795.2 1261.2L1795.8 1258.0L1796.3 1259.3L1796.9 1261.7L1797.4 1255.5L1798.0 1250.5L1798.5 1256.3L1799.1 1250.0L1799.6 1250.6L1800.2 1252.0L1800.7 1251.0L1801.3 1250.1L1801.8 1252.5L1802.4 1253.8L1802.9 1259.3L1803.5 1251.5L1804.0 1250.2L1804.6 1248.6L1805.1 1250.2L1805.7 1250.9L1806.2 1252.3L1806.8 1251.6L1807.3 1253.3L1807.9 1252.1L1808.4 1251.7L1809.0 1250.7L1809.5 1252.8L1810.1 1254.8L1810.6 1260.1L1811.2 1257.5L1811.7 1253.0L1812.3 1250.8L1812.8 1252.8L1813.4 1258.0L1813.9 1253.0L1814.5 1251.3L1815.0 1251.2L1815.6 1247.6L1816.1 1247.7L1816.7 1245.8L1817.2 1246.7L1817.8 1246.9L1818.3 1250.9L1818.9 1250.9L1819.4 1247.2L1820.0 1244.4L1820.5 1244.0L1821.1 1245.9L1821.6 1240.4L1822.2 1238.1L1822.7 1243.9L1823.3 1248.8L1823.8 1250.0L1824.4 1245.4L1824.9 1251.5L1825.5 1246.4L1826.0 1245.3L1826.6 1244.4L1827.1 1248.6L1827.7 1252.1L1828.2 1250.3L1828.8 1256.2L1829.3 1258.1L1829.9 1250.0L1830.4 1254.4L1831.0 1250.6L1831.5 1252.2L1832.1 1247.3L1832.6 1243.2L1833.2 1242.9L1833.7 1242.3L1834.3 1249.9L1834.8 1246.0L1835.4 1245.3L1835.9 1244.9L1836.5 1247.5L1837.0 1247.1L1837.6 1244.0L1838.1 1244.9L1838.7 1250.2L1839.2 1240.6L1839.8 1240.2L1840.3 1240.4L1840.9 1237.7L1841.4 1238.3L1842.0 1240.5L1842.5 1241.5L1843.1 1243.1L1843.6 1243.5L1844.2 1246.8L1844.7 1249.7L1845.3 1246.9L1845.8 1242.0L1846.4 1244.2L1846.9 1238.7L1847.5 1243.4L1848.0 1241.0L1848.6 1241.3L1849.1 1241.1L1849.7 1241.1L1850.2 1238.7L1850.8 1238.2L1851.3 1242.7L1851.9 1236.5L1852.4 1239.5L1853.0 1238.0L1853.5 1237.9L1854.1 1239.9L1854.6 1234.5L1855.2 1239.1L1855.7 1233.7L1856.3 1234.3L1856.8 1241.3L1857.4 1237.8L1857.9 1237.5L1858.5 1240.7L1859.0 1241.2L1859.6 1235.5L1860.1 1240.1L1860.7 1238.2L1861.2 1238.7L1861.8 1234.4L1862.3 1238.4L1862.9 1245.2L1863.4 1243.6L1864.0 1242.8L1864.5 1237.3L1865.1 1241.6L1865.6 1237.5L1866.2 1237.4L1866.7 1239.6L1867.3 1237.5L1867.8 1243.4L1868.4 1237.2L1868.9 1240.4L1869.5 1237.2L1870.0 1242.3L1870.6 1241.6L1871.1 1242.5L1871.7 1239.9L1872.2 1245.0L1872.8 1248.6L1873.3 1247.0L1873.9 1242.6L1874.4 1243.5L1875.0 1236.9L1875.5 1241.1L1876.1 1243.9L1876.6 1241.9L1877.2 1239.6L1877.7 1238.3L1878.3 1239.7L1878.8 1235.0L1879.4 1231.0L1879.9 1235.2L1880.5 1239.7L1881.0 1232.5L1881.6 1233.6L1882.1 1237.3L1882.7 1227.5L1883.2 1227.4L1883.8 1226.6L1884.3 1224.8L1884.9 1226.1L1885.4 1221.5L1886.0 1221.9L1886.5 1231.9L1887.1 1226.9L1887.6 1234.8L1888.2 1234.0L1888.7 1233.2L1889.3 1235.2L1889.8 1236.0L1890.4 1235.5L1890.9 1235.0L1891.5 1235.6L1892.0 1239.3L1892.6 1237.1L1893.1 1239.9L1893.7 1236.6L1894.2 1239.5L1894.8 1237.1L1895.3 1234.4L1895.9 1239.3L1896.4 1235.1L1897.0 1242.3L1897.5 1243.1L1898.1 1243.7L1898.6 1244.5L1899.2 1234.1L1899.7 1237.9L1900.3 1238.3L1900.8 1239.3L1901.4 1238.6L1901.9 1235.7L1902.5 1234.7L1903.0 1237.5L1903.6 1237.2L1904.1 1236.6L1904.7 1240.0L1905.2 1234.0L1905.8 1229.0L1906.3 1231.3L1906.9 1237.2L1907.4 1232.2L1908.0 1237.8L1908.5 1234.5L1909.1 1239.5L1909.6 1240.6L1910.2 1238.4L1910.7 1237.2L1911.3 1236.1L1911.8 1233.8L1912.4 1232.9L1912.9 1232.4L1913.5 1238.0L1914.0 1236.5L1914.6 1237.9L1915.1 1238.1L1915.7 1236.9L1916.2 1236.1L1916.8 1236.6L1917.3 1233.2L1917.9 1235.5L1918.4 1230.1L1919.0 1235.2L1919.5 1235.6L1920.1 1230.9L1920.6 1235.7L1921.2 1235.7L1921.7 1233.3L1922.3 1237.3L1922.8 1234.2L1923.4 1235.2L1923.9 1237.5L1924.5 1234.8L1925.0 1232.5L1925.6 1234.8L1926.1 1239.6L1926.7 1239.0L1927.2 1235.5L1927.8 1238.4L1928.3 1234.7L1928.9 1243.2L1929.4 1235.8L1930.0 1236.1L1930.5 1236.7L1931.1 1237.9L1931.6 1240.6L1932.2 1242.1L1932.7 1239.7L1933.3 1231.6L1933.8 1229.3L1934.4 1231.8L1934.9 1228.5L1935.5 1228.4L1936.0 1225.4L1936.6 1228.0L1937.1 1224.2L1937.7 1231.2L1938.2 1226.4L1938.8 1233.6L1939.3 1228.4L1939.9 1226.8L1940.4 1229.3L1941.0 1232.4L1941.5 1223.7L1942.1 1229.2L1942.6 1227.8L1943.2 1230.3L1943.7 1226.3L1944.3 1231.2L1944.8 1227.6L1945.4 1224.2L1945.9 1230.0L1946.5 1230.0L1947.0 1229.1L1947.6 1230.4L1948.1 1225.2L1948.7 1230.4L1949.2 1230.9L1949.8 1228.7L1950.3 1231.6L1950.9 1231.9L1951.4 1231.6L1952.0 1236.3L1952.5 1233.9L1953.1 1235.6L1953.6 1233.3L1954.2 1230.4L1954.7 1229.6L1955.3 1231.4L1955.8 1231.4L1956.4 1233.0L1956.9 1232.0L1957.5 1233.1L1958.0 1230.5L1958.6 1233.2L1959.1 1233.5L1959.7 1228.8L1960.2 1232.9L1960.8 1230.8L1961.3 1235.7L1961.9 1233.5L1962.4 1244.1L1963.0 1238.7L1963.5 1227.8L1964.1 1233.8L1964.6 1235.4L1965.2 1227.1L1965.7 1236.8L1966.3 1233.3L1966.8 1233.6L1967.4 1235.5L1967.9 1229.1L1968.5 1233.7L1969.0 1238.1L1969.6 1230.9L1970.1 1225.9L1970.7 1229.2L1971.2 1232.8L1971.8 1233.1L1972.3 1236.2L1972.9 1236.7L1973.4 1236.9L1974.0 1238.8L1974.5 1237.2L1975.1 1233.3L1975.6 1240.0L1976.2 1237.6L1976.7 1237.1L1977.3 1238.8L1977.8 1239.6L1978.4 1231.7L1978.9 1236.3L1979.5 1231.0L1980.0 1240.4L1980.6 1231.5L1981.1 1238.2L1981.7 1240.4L1982.2 1239.7L1982.8 1240.7L1983.3 1239.6L1983.9 1229.8L1984.4 1238.3L1985.0 1235.7L1985.5 1233.9L1986.1 1232.4L1986.6 1240.8L1987.2 1228.4L1987.7 1232.5L1988.3 1232.3L1988.8 1233.9L1989.4 1235.0L1989.9 1231.2L1990.5 1224.0L1991.0 1231.0L1991.6 1225.0L1992.1 1229.4L1992.7 1232.9L1993.2 1232.9L1993.8 1233.7L1994.3 1239.0L1994.9 1233.4L1995.4 1237.5L1996.0 1244.3L1996.5 1237.0L1997.1 1239.7L1997.6 1237.9L1998.2 1234.7L1998.7 1246.2L1999.3 1239.6L1999.8 1240.8L2000.4 1241.3L2000.9 1237.3L2001.5 1238.8L2002.0 1243.2L2002.6 1239.7L2003.1 1247.0L2003.7 1244.5L2004.2 1245.2L2004.8 1242.1L2005.3 1237.6L2005.9 1239.2L2006.4 1241.3L2007.0 1237.7L2007.5 1239.0L2008.1 1238.9L2008.6 1230.8L2009.2 1234.3L2009.7 1232.2L2010.3 1238.3L2010.8 1236.4L2011.4 1236.5L2011.9 1236.6L2012.5 1234.9L2013.0 1240.0L2013.6 1236.3L2014.1 1236.2L2014.7 1236.8L2015.2 1234.7L2015.8 1235.1L2016.3 1237.7L2016.9 1243.0L2017.4 1241.4L2018.0 1244.3L2018.5 1236.4L2019.1 1247.4L2019.6 1239.0L2020.2 1240.4L2020.7 1236.0L2021.3 1235.9L2021.8 1235.0L2022.4 1236.0L2022.9 1239.1L2023.5 1240.4L2024.0 1233.3L2024.6 1233.8L2025.1 1237.1L2025.7 1232.7L2026.2 1235.8L2026.8 1238.9L2027.3 1236.3L2027.9 1241.5L2028.4 1243.6L2029.0 1240.5L2029.5 1242.8L2030.1 1244.9L2030.6 1246.3L2031.2 1241.5L2031.7 1246.1L2032.3 1243.6L2032.8 1247.3L2033.4 1249.2L2033.9 1240.0L2034.5 1241.4L2035.0 1247.0L2035.6 1243.1L2036.1 1243.5L2036.7 1246.0L2037.2 1246.3L2037.8 1244.1L2038.3 1249.0L2038.9 1245.1L2039.4 1247.4L2040.0 1245.8L2040.5 1243.4L2041.1 1248.7L2041.6 1242.3L2042.2 1237.2L2042.7 1241.7L2043.3 1249.5L2043.8 1247.5L2044.4 1248.2L2044.9 1248.7L2045.5 1243.9L2046.0 1245.3L2046.6 1241.9L2047.1 1248.0L2047.7 1249.7L2048.2 1247.6L2048.8 1249.4L2049.3 1243.7L2049.9 1245.6L2050.4 1244.1L2051.0 1244.1L2051.5 1246.2L2052.1 1246.5L2052.6 1250.7L2053.2 1248.6L2053.7 1247.7L2054.3 1243.9" fill="none" stroke="#00ff00" stroke-width="4.6" stroke-linejoin="round" stroke-linecap="butt" stroke-dasharray="43 25" stroke-dashoffset="31.3"/>
<line x1="457.0" y1="136.5" x2="627.0" y2="136.5" stroke="#ff0000" stroke-width="3" stroke-dasharray="5 12"/>
<line x1="457.0" y1="206.0" x2="627.0" y2="206.0" stroke="#0000ff" stroke-width="4"/>
<line x1="457.0" y1="276.0" x2="627.0" y2="276.0" stroke="#ff00ff" stroke-width="4" stroke-dasharray="35 12 9 12"/>
<line x1="1250.0" y1="136.4" x2="1420.0" y2="136.4" stroke="#00ffff" stroke-width="3" stroke-dasharray="43 25"/>
<line x1="1250.0" y1="206.0" x2="1420.0" y2="206.0" stroke="#00ff00" stroke-width="4" stroke-dasharray="43 25"/>
<text x="641.5" y="153.1" font-size="46" fill="#000">Command Velocity</text>
<text x="642.0" y="216.6" font-size="46" fill="#000">v<tspan font-size="36" dx="3" dy="21">x</tspan><tspan dx="2" dy="-21"> with Proposed Controller</tspan></text>
<text x="642.0" y="283.6" font-size="46" fill="#000">v<tspan font-size="36" dx="3" dy="21">x</tspan><tspan dx="2" dy="-21"> with Compared Controller</tspan></text>
<text x="1435.2" y="144.7" font-size="46" fill="#000">v<tspan font-size="36" dx="3" dy="21">x</tspan><tspan dx="2" dy="-21"> with Proposed ESO</tspan></text>
<text x="1435.2" y="216.6" font-size="46" fill="#000">v<tspan font-size="36" dx="3" dy="21">x</tspan><tspan dx="2" dy="-21"> in Practical Experiment</tspan></text>
<line x1="457.0" y1="989.0" x2="627.0" y2="989.0" stroke="#0000ff" stroke-width="4"/>
<line x1="457.0" y1="1068.0" x2="627.0" y2="1068.0" stroke="#ff00ff" stroke-width="4" stroke-dasharray="35 12 9 12"/>
<line x1="1250.0" y1="989.0" x2="1420.0" y2="989.0" stroke="#00ffff" stroke-width="4" stroke-dasharray="5 12"/>
<line x1="1250.0" y1="1068.0" x2="1420.0" y2="1068.0" stroke="#00ff00" stroke-width="4" stroke-dasharray="43 25"/>
<text x="642.0" y="996.9" font-size="46" fill="#000">v<tspan font-size="36" dx="3" dy="21">y</tspan><tspan dx="2" dy="-21"> with Proposed Controller</tspan></text>
<text x="642.0" y="1077.0" font-size="46" fill="#000">v<tspan font-size="36" dx="3" dy="21">y</tspan><tspan dx="2" dy="-21"> with Compared Controller</tspan></text>
<text x="1435.2" y="996.9" font-size="46" fill="#000">v<tspan font-size="36" dx="3" dy="21">y</tspan><tspan dx="2" dy="-21"> with Proposed ESO</tspan></text>
<text x="1435.2" y="1077.0" font-size="46" fill="#000">v<tspan font-size="36" dx="3" dy="21">y</tspan><tspan dx="2" dy="-21"> in Practical Experiment</tspan></text>
</svg></body></html>
